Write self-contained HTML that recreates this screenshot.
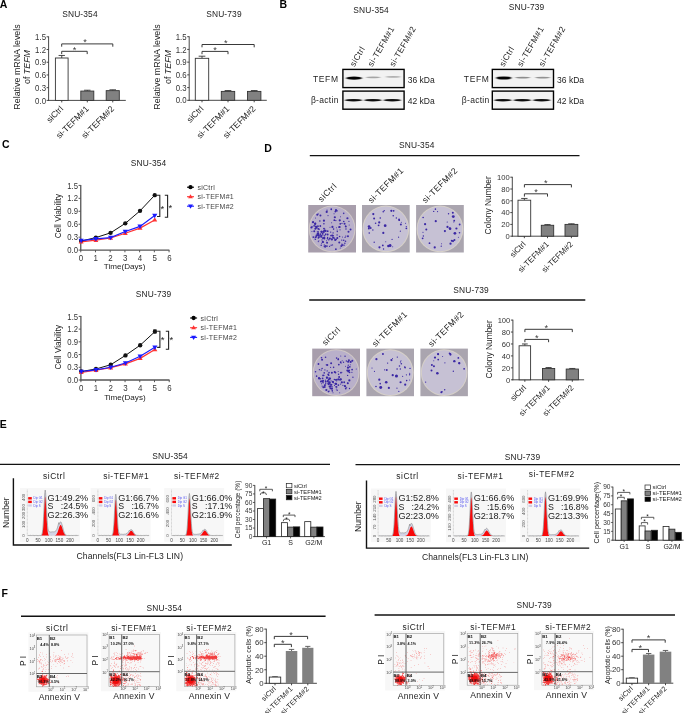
<!DOCTYPE html>
<html><head><meta charset="utf-8"><style>
html,body{margin:0;padding:0;background:#fff;overflow:hidden}
svg{display:block;font-family:"Liberation Sans", sans-serif}
</style></head><body><div id="w">
<svg width="685" height="713" viewBox="0 0 685 713">
<defs><filter id="blur1" x="-20%" y="-100%" width="140%" height="300%"><feGaussianBlur stdDeviation="1.0 0.6"/></filter><filter id="blur3" x="-20%" y="-100%" width="140%" height="300%"><feGaussianBlur stdDeviation="1.0 0.55"/></filter><filter id="blurp" x="-5%" y="-5%" width="110%" height="110%"><feGaussianBlur stdDeviation="0.45"/></filter></defs>
<rect width="685" height="713" fill="#fff"/>
<g opacity="0.995">
<text x="-0.3" y="8" font-size="10.5" font-weight="bold">A</text>
<text x="79.98" y="17.21" font-size="8.4" text-anchor="middle" fill="#222" letter-spacing="0.15">SNU-354</text>
<line x1="48.6" y1="36.4" x2="48.6" y2="100.85" stroke="#333" stroke-width="0.9"/>
<line x1="48.15" y1="100.4" x2="125.8" y2="100.4" stroke="#333" stroke-width="0.9"/>
<line x1="46.6" y1="100.4" x2="48.6" y2="100.4" stroke="#333" stroke-width="0.9"/>
<text transform="translate(46 103.51) scale(0.9 1)" font-size="8.7" text-anchor="end" fill="#333">0.0</text>
<line x1="46.6" y1="87.68" x2="48.6" y2="87.68" stroke="#333" stroke-width="0.9"/>
<text transform="translate(46 90.79) scale(0.9 1)" font-size="8.7" text-anchor="end" fill="#333">0.3</text>
<line x1="46.6" y1="74.96" x2="48.6" y2="74.96" stroke="#333" stroke-width="0.9"/>
<text transform="translate(46 78.07) scale(0.9 1)" font-size="8.7" text-anchor="end" fill="#333">0.6</text>
<line x1="46.6" y1="62.24" x2="48.6" y2="62.24" stroke="#333" stroke-width="0.9"/>
<text transform="translate(46 65.35) scale(0.9 1)" font-size="8.7" text-anchor="end" fill="#333">0.9</text>
<line x1="46.6" y1="49.52" x2="48.6" y2="49.52" stroke="#333" stroke-width="0.9"/>
<text transform="translate(46 52.63) scale(0.9 1)" font-size="8.7" text-anchor="end" fill="#333">1.2</text>
<line x1="46.6" y1="36.8" x2="48.6" y2="36.8" stroke="#333" stroke-width="0.9"/>
<text transform="translate(46 39.91) scale(0.9 1)" font-size="8.7" text-anchor="end" fill="#333">1.5</text>
<line x1="61.75" y1="58" x2="61.75" y2="55.46" stroke="#333" stroke-width="0.9"/>
<line x1="58.58" y1="55.46" x2="64.92" y2="55.46" stroke="#333" stroke-width="0.9"/>
<rect x="55.4" y="58" width="12.7" height="42.4" fill="#fff" stroke="#333" stroke-width="0.9"/>
<line x1="61.75" y1="100.4" x2="61.75" y2="102.4" stroke="#333" stroke-width="0.9"/>
<line x1="87.3" y1="91.07" x2="87.3" y2="90.22" stroke="#333" stroke-width="0.9"/>
<line x1="84.05" y1="90.22" x2="90.55" y2="90.22" stroke="#333" stroke-width="0.9"/>
<rect x="80.8" y="91.07" width="13" height="9.33" fill="#808080" stroke="#333" stroke-width="0.9"/>
<line x1="87.3" y1="100.4" x2="87.3" y2="102.4" stroke="#333" stroke-width="0.9"/>
<line x1="112.75" y1="90.65" x2="112.75" y2="89.8" stroke="#333" stroke-width="0.9"/>
<line x1="109.47" y1="89.8" x2="116.03" y2="89.8" stroke="#333" stroke-width="0.9"/>
<rect x="106.2" y="90.65" width="13.1" height="9.75" fill="#808080" stroke="#333" stroke-width="0.9"/>
<line x1="112.75" y1="100.4" x2="112.75" y2="102.4" stroke="#333" stroke-width="0.9"/>
<path d="M61.7 54.1V51.3H87.2V54.1" fill="none" stroke="#383838" stroke-width="1"/>
<text x="74.45" y="52.56" font-size="9.2" text-anchor="middle" fill="#383838">*</text>
<path d="M61.7 46.7V43.9H112.8V46.7" fill="none" stroke="#383838" stroke-width="1"/>
<text x="85.05" y="45.16" font-size="9.2" text-anchor="middle" fill="#383838">*</text>
<text x="19.7" y="67" font-size="8.9" text-anchor="middle" fill="#222" transform="rotate(-90 19.7 67)">Relative mRNA levels</text>
<text x="30.4" y="67" font-size="8.9" text-anchor="middle" fill="#222" transform="rotate(-90 30.4 67)">of <tspan font-style="italic">TEFM</tspan></text>
<text x="63.75" y="109.4" font-size="8.6" text-anchor="end" fill="#222" transform="rotate(-45 63.75 109.4)">siCtrl</text>
<text x="89.3" y="109.4" font-size="8.6" text-anchor="end" fill="#222" transform="rotate(-45 89.3 109.4)">si-TEFM#1</text>
<text x="114.75" y="109.4" font-size="8.6" text-anchor="end" fill="#222" transform="rotate(-45 114.75 109.4)">si-TEFM#2</text>
<text x="223.98" y="17.21" font-size="8.4" text-anchor="middle" fill="#222" letter-spacing="0.15">SNU-739</text>
<line x1="189.2" y1="36.3" x2="189.2" y2="100.75" stroke="#333" stroke-width="0.9"/>
<line x1="188.75" y1="100.3" x2="266.8" y2="100.3" stroke="#333" stroke-width="0.9"/>
<line x1="187.2" y1="100.3" x2="189.2" y2="100.3" stroke="#333" stroke-width="0.9"/>
<text transform="translate(186.6 103.41) scale(0.9 1)" font-size="8.7" text-anchor="end" fill="#333">0.0</text>
<line x1="187.2" y1="87.58" x2="189.2" y2="87.58" stroke="#333" stroke-width="0.9"/>
<text transform="translate(186.6 90.69) scale(0.9 1)" font-size="8.7" text-anchor="end" fill="#333">0.3</text>
<line x1="187.2" y1="74.86" x2="189.2" y2="74.86" stroke="#333" stroke-width="0.9"/>
<text transform="translate(186.6 77.97) scale(0.9 1)" font-size="8.7" text-anchor="end" fill="#333">0.6</text>
<line x1="187.2" y1="62.14" x2="189.2" y2="62.14" stroke="#333" stroke-width="0.9"/>
<text transform="translate(186.6 65.25) scale(0.9 1)" font-size="8.7" text-anchor="end" fill="#333">0.9</text>
<line x1="187.2" y1="49.42" x2="189.2" y2="49.42" stroke="#333" stroke-width="0.9"/>
<text transform="translate(186.6 52.53) scale(0.9 1)" font-size="8.7" text-anchor="end" fill="#333">1.2</text>
<line x1="187.2" y1="36.7" x2="189.2" y2="36.7" stroke="#333" stroke-width="0.9"/>
<text transform="translate(186.6 39.81) scale(0.9 1)" font-size="8.7" text-anchor="end" fill="#333">1.5</text>
<line x1="202" y1="58.32" x2="202" y2="56.2" stroke="#333" stroke-width="0.9"/>
<line x1="198.65" y1="56.2" x2="205.35" y2="56.2" stroke="#333" stroke-width="0.9"/>
<rect x="195.3" y="58.32" width="13.4" height="41.98" fill="#fff" stroke="#333" stroke-width="0.9"/>
<line x1="202" y1="100.3" x2="202" y2="102.3" stroke="#333" stroke-width="0.9"/>
<line x1="228" y1="91.4" x2="228" y2="90.55" stroke="#333" stroke-width="0.9"/>
<line x1="224.65" y1="90.55" x2="231.35" y2="90.55" stroke="#333" stroke-width="0.9"/>
<rect x="221.3" y="91.4" width="13.4" height="8.9" fill="#808080" stroke="#333" stroke-width="0.9"/>
<line x1="228" y1="100.3" x2="228" y2="102.3" stroke="#333" stroke-width="0.9"/>
<line x1="254.2" y1="91.4" x2="254.2" y2="90.55" stroke="#333" stroke-width="0.9"/>
<line x1="250.85" y1="90.55" x2="257.55" y2="90.55" stroke="#333" stroke-width="0.9"/>
<rect x="247.5" y="91.4" width="13.4" height="8.9" fill="#808080" stroke="#333" stroke-width="0.9"/>
<line x1="254.2" y1="100.3" x2="254.2" y2="102.3" stroke="#333" stroke-width="0.9"/>
<path d="M202 54.2V51.4H228V54.2" fill="none" stroke="#383838" stroke-width="1"/>
<text x="215" y="52.66" font-size="9.2" text-anchor="middle" fill="#383838">*</text>
<path d="M202 47.3V44.5H254.2V47.3" fill="none" stroke="#383838" stroke-width="1"/>
<text x="225.9" y="45.76" font-size="9.2" text-anchor="middle" fill="#383838">*</text>
<text x="159.9" y="67" font-size="8.9" text-anchor="middle" fill="#222" transform="rotate(-90 159.9 67)">Relative mRNA levels</text>
<text x="170.5" y="67" font-size="8.9" text-anchor="middle" fill="#222" transform="rotate(-90 170.5 67)">of <tspan font-style="italic">TEFM</tspan></text>
<text x="204" y="109.3" font-size="8.6" text-anchor="end" fill="#222" transform="rotate(-45 204 109.3)">siCtrl</text>
<text x="230" y="109.3" font-size="8.6" text-anchor="end" fill="#222" transform="rotate(-45 230 109.3)">si-TEFM#1</text>
<text x="256.2" y="109.3" font-size="8.6" text-anchor="end" fill="#222" transform="rotate(-45 256.2 109.3)">si-TEFM#2</text>
<text x="279.6" y="7.5" font-size="10.5" font-weight="bold">B</text>
<text x="371.08" y="13.31" font-size="8.4" text-anchor="middle" fill="#222" letter-spacing="0.15">SNU-354</text>
<rect x="342.9" y="69.4" width="61.2" height="18.2" fill="#f2f2f2"/>
<rect x="342.9" y="91.1" width="61.2" height="18.1" fill="#f2f2f2"/>
<ellipse cx="354.05" cy="78.2" rx="7.95" ry="1.6" fill="#000" fill-opacity="1" filter="url(#blur1)"/>
<ellipse cx="373.2" cy="77.4" rx="7.2" ry="0.85" fill="#000" fill-opacity="0.32" filter="url(#blur1)"/>
<ellipse cx="393.15" cy="76.9" rx="7.65" ry="0.85" fill="#000" fill-opacity="0.28" filter="url(#blur1)"/>
<ellipse cx="353.5" cy="100.2" rx="8.6" ry="1.25" fill="#000" fill-opacity="0.95" filter="url(#blur3)"/>
<ellipse cx="372.9" cy="100.2" rx="8.6" ry="1.25" fill="#000" fill-opacity="0.95" filter="url(#blur3)"/>
<ellipse cx="392.3" cy="100.2" rx="8.6" ry="1.25" fill="#000" fill-opacity="0.95" filter="url(#blur3)"/>
<rect x="342.9" y="69.4" width="61.2" height="18.2" fill="none" stroke="#000" stroke-width="1.4"/>
<rect x="342.9" y="91.1" width="61.2" height="18.1" fill="none" stroke="#000" stroke-width="1.4"/>
<text x="338.7" y="81.54" font-size="8.5" text-anchor="end" fill="#222" letter-spacing="0.65">TEFM</text>
<text x="338.7" y="103.24" font-size="8.5" text-anchor="end" fill="#222" letter-spacing="0.3">β-actin</text>
<text x="407.7" y="82.74" font-size="8.5" fill="#222">36 kDa</text>
<text x="407.7" y="104.24" font-size="8.5" fill="#222">42 kDa</text>
<text x="354.5" y="67.3" font-size="8.4" fill="#222" letter-spacing="0.45" transform="rotate(-60 354.5 67.3)">siCtrl</text>
<text x="372.3" y="67.3" font-size="8.4" fill="#222" letter-spacing="0.45" transform="rotate(-60 372.3 67.3)">si-TEFM#1</text>
<text x="393.9" y="67.3" font-size="8.4" fill="#222" letter-spacing="0.45" transform="rotate(-60 393.9 67.3)">si-TEFM#2</text>
<text x="526.58" y="10.41" font-size="8.4" text-anchor="middle" fill="#222" letter-spacing="0.15">SNU-739</text>
<rect x="492.3" y="69.4" width="61.2" height="18.2" fill="#f2f2f2"/>
<rect x="492.3" y="91.1" width="61.2" height="18.1" fill="#f2f2f2"/>
<ellipse cx="503.8" cy="78" rx="7.7" ry="1.6" fill="#000" fill-opacity="1" filter="url(#blur1)"/>
<ellipse cx="522.7" cy="77.6" rx="7.7" ry="0.9" fill="#000" fill-opacity="0.42" filter="url(#blur1)"/>
<ellipse cx="542.65" cy="77.6" rx="7.65" ry="0.9" fill="#000" fill-opacity="0.4" filter="url(#blur1)"/>
<ellipse cx="502.9" cy="100.2" rx="8.6" ry="1.25" fill="#000" fill-opacity="0.95" filter="url(#blur3)"/>
<ellipse cx="522.3" cy="100.2" rx="8.6" ry="1.25" fill="#000" fill-opacity="0.95" filter="url(#blur3)"/>
<ellipse cx="541.7" cy="100.2" rx="8.6" ry="1.25" fill="#000" fill-opacity="0.95" filter="url(#blur3)"/>
<rect x="492.3" y="69.4" width="61.2" height="18.2" fill="none" stroke="#000" stroke-width="1.4"/>
<rect x="492.3" y="91.1" width="61.2" height="18.1" fill="none" stroke="#000" stroke-width="1.4"/>
<text x="489.6" y="81.54" font-size="8.5" text-anchor="end" fill="#222" letter-spacing="0.65">TEFM</text>
<text x="489.6" y="103.24" font-size="8.5" text-anchor="end" fill="#222" letter-spacing="0.3">β-actin</text>
<text x="557.1" y="82.74" font-size="8.5" fill="#222">36 kDa</text>
<text x="557.1" y="104.24" font-size="8.5" fill="#222">42 kDa</text>
<text x="503.9" y="67.3" font-size="8.4" fill="#222" letter-spacing="0.45" transform="rotate(-60 503.9 67.3)">siCtrl</text>
<text x="521.7" y="67.3" font-size="8.4" fill="#222" letter-spacing="0.45" transform="rotate(-60 521.7 67.3)">si-TEFM#1</text>
<text x="543.3" y="67.3" font-size="8.4" fill="#222" letter-spacing="0.45" transform="rotate(-60 543.3 67.3)">si-TEFM#2</text>
<text x="2" y="147.5" font-size="10.5" font-weight="bold">C</text>
<text x="148.58" y="166.41" font-size="8.4" text-anchor="middle" fill="#222" letter-spacing="0.15">SNU-354</text>
<line x1="80.75" y1="185" x2="80.75" y2="250.6" stroke="#555" stroke-width="1.3"/>
<line x1="80.25" y1="250.1" x2="169.37" y2="250.1" stroke="#555" stroke-width="1.3"/>
<line x1="78.55" y1="250.1" x2="80.75" y2="250.1" stroke="#555" stroke-width="1"/>
<text transform="translate(77.95 253.25) scale(0.88 1)" font-size="8.8" text-anchor="end" fill="#333">0.0</text>
<line x1="78.55" y1="237.16" x2="80.75" y2="237.16" stroke="#555" stroke-width="1"/>
<text transform="translate(77.95 240.31) scale(0.88 1)" font-size="8.8" text-anchor="end" fill="#333">0.3</text>
<line x1="78.55" y1="224.22" x2="80.75" y2="224.22" stroke="#555" stroke-width="1"/>
<text transform="translate(77.95 227.37) scale(0.88 1)" font-size="8.8" text-anchor="end" fill="#333">0.6</text>
<line x1="78.55" y1="211.28" x2="80.75" y2="211.28" stroke="#555" stroke-width="1"/>
<text transform="translate(77.95 214.43) scale(0.88 1)" font-size="8.8" text-anchor="end" fill="#333">0.9</text>
<line x1="78.55" y1="198.34" x2="80.75" y2="198.34" stroke="#555" stroke-width="1"/>
<text transform="translate(77.95 201.49) scale(0.88 1)" font-size="8.8" text-anchor="end" fill="#333">1.2</text>
<line x1="78.55" y1="185.4" x2="80.75" y2="185.4" stroke="#555" stroke-width="1"/>
<text transform="translate(77.95 188.55) scale(0.88 1)" font-size="8.8" text-anchor="end" fill="#333">1.5</text>
<line x1="80.75" y1="250.1" x2="80.75" y2="252.3" stroke="#555" stroke-width="1"/>
<text transform="translate(81.05 260.72) scale(0.88 1)" font-size="9" text-anchor="middle" fill="#333">0</text>
<line x1="95.47" y1="250.1" x2="95.47" y2="252.3" stroke="#555" stroke-width="1"/>
<text transform="translate(95.77 260.72) scale(0.88 1)" font-size="9" text-anchor="middle" fill="#333">1</text>
<line x1="110.19" y1="250.1" x2="110.19" y2="252.3" stroke="#555" stroke-width="1"/>
<text transform="translate(110.49 260.72) scale(0.88 1)" font-size="9" text-anchor="middle" fill="#333">2</text>
<line x1="124.91" y1="250.1" x2="124.91" y2="252.3" stroke="#555" stroke-width="1"/>
<text transform="translate(125.21 260.72) scale(0.88 1)" font-size="9" text-anchor="middle" fill="#333">3</text>
<line x1="139.63" y1="250.1" x2="139.63" y2="252.3" stroke="#555" stroke-width="1"/>
<text transform="translate(139.93 260.72) scale(0.88 1)" font-size="9" text-anchor="middle" fill="#333">4</text>
<line x1="154.35" y1="250.1" x2="154.35" y2="252.3" stroke="#555" stroke-width="1"/>
<text transform="translate(154.65 260.72) scale(0.88 1)" font-size="9" text-anchor="middle" fill="#333">5</text>
<line x1="169.07" y1="250.1" x2="169.07" y2="252.3" stroke="#555" stroke-width="1"/>
<text transform="translate(169.37 260.72) scale(0.88 1)" font-size="9" text-anchor="middle" fill="#333">6</text>
<polyline points="81.15,241.04 95.87,237.59 110.59,232.85 125.31,223.36 140.03,210.85 154.75,195.19" fill="none" stroke="#111" stroke-width="1.0"/>
<polyline points="81.15,241.9 95.87,240.18 110.59,238.02 125.31,233.28 140.03,228.1 154.75,219.91" fill="none" stroke="#ff3333" stroke-width="1.2"/>
<polyline points="81.15,240.61 95.87,238.89 110.59,237.59 125.31,231.55 140.03,226.38 154.75,215.59" fill="none" stroke="#1a1aff" stroke-width="1.2"/>
<circle cx="81.15" cy="241.04" r="2.18" fill="#111"/>
<circle cx="95.87" cy="237.59" r="2.18" fill="#111"/>
<circle cx="110.59" cy="232.85" r="2.18" fill="#111"/>
<circle cx="125.31" cy="223.36" r="2.18" fill="#111"/>
<circle cx="140.03" cy="210.85" r="2.18" fill="#111"/>
<circle cx="154.75" cy="195.19" r="2.18" fill="#111"/>
<path d="M81.15 239.36L83.63 243.6H78.67Z" fill="#ff3333"/>
<path d="M95.87 237.63L98.35 241.88H93.39Z" fill="#ff3333"/>
<path d="M110.59 235.47L113.07 239.72H108.11Z" fill="#ff3333"/>
<path d="M125.31 230.73L127.79 234.98H122.83Z" fill="#ff3333"/>
<path d="M140.03 225.55L142.51 229.8H137.55Z" fill="#ff3333"/>
<path d="M154.75 217.36L157.23 221.61H152.27Z" fill="#ff3333"/>
<path d="M81.15 243.3L83.75 238.82H78.55Z" fill="#1a1aff"/>
<path d="M95.87 241.58L98.47 237.09H93.27Z" fill="#1a1aff"/>
<path d="M110.59 240.28L113.19 235.8H107.99Z" fill="#1a1aff"/>
<path d="M125.31 234.24L127.91 229.76H122.71Z" fill="#1a1aff"/>
<path d="M140.03 229.07L142.63 224.58H137.43Z" fill="#1a1aff"/>
<path d="M154.75 218.28L157.35 213.8H152.15Z" fill="#1a1aff"/>
<path d="M157 195.2H159.8V216.5H157" fill="none" stroke="#222" stroke-width="1.1"/>
<text x="162.4" y="211.6" font-size="9.5" text-anchor="middle" fill="#222">*</text>
<path d="M164.8 195.2H167.6V217.2H164.8" fill="none" stroke="#222" stroke-width="1.1"/>
<text x="170.4" y="210.8" font-size="9.5" text-anchor="middle" fill="#222">*</text>
<line x1="187" y1="187.2" x2="194" y2="187.2" stroke="#000" stroke-width="1.1"/>
<circle cx="190.5" cy="187.2" r="2.13" fill="#000"/>
<text x="197.5" y="189.71" font-size="7" fill="#444" letter-spacing="0.25">siCtrl</text>
<line x1="187" y1="196.7" x2="194" y2="196.7" stroke="#ff3333" stroke-width="1.1"/>
<path d="M190.5 194.22L192.91 198.36H188.09Z" fill="#ff3333"/>
<text x="197.5" y="199.21" font-size="7" fill="#444" letter-spacing="0.25">si-TEFM#1</text>
<line x1="187" y1="206.2" x2="194" y2="206.2" stroke="#1a1aff" stroke-width="1.1"/>
<path d="M190.5 208.82L193.03 204.45H187.97Z" fill="#1a1aff"/>
<text x="197.5" y="208.71" font-size="7" fill="#444" letter-spacing="0.25">si-TEFM#2</text>
<text x="61.2" y="216" font-size="8.2" text-anchor="middle" fill="#222" transform="rotate(-90 61.2 216)">Cell Viability</text>
<text x="124.6" y="268.9" font-size="8.1" text-anchor="middle" fill="#222">Time(Days)</text>
<text x="153.58" y="297.01" font-size="8.4" text-anchor="middle" fill="#222" letter-spacing="0.15">SNU-739</text>
<line x1="80.9" y1="316" x2="80.9" y2="380.5" stroke="#555" stroke-width="1.3"/>
<line x1="80.4" y1="380" x2="169.52" y2="380" stroke="#555" stroke-width="1.3"/>
<line x1="78.7" y1="380" x2="80.9" y2="380" stroke="#555" stroke-width="1"/>
<text transform="translate(78.1 383.15) scale(0.88 1)" font-size="8.8" text-anchor="end" fill="#333">0.0</text>
<line x1="78.7" y1="367.28" x2="80.9" y2="367.28" stroke="#555" stroke-width="1"/>
<text transform="translate(78.1 370.43) scale(0.88 1)" font-size="8.8" text-anchor="end" fill="#333">0.3</text>
<line x1="78.7" y1="354.56" x2="80.9" y2="354.56" stroke="#555" stroke-width="1"/>
<text transform="translate(78.1 357.71) scale(0.88 1)" font-size="8.8" text-anchor="end" fill="#333">0.6</text>
<line x1="78.7" y1="341.84" x2="80.9" y2="341.84" stroke="#555" stroke-width="1"/>
<text transform="translate(78.1 344.99) scale(0.88 1)" font-size="8.8" text-anchor="end" fill="#333">0.9</text>
<line x1="78.7" y1="329.12" x2="80.9" y2="329.12" stroke="#555" stroke-width="1"/>
<text transform="translate(78.1 332.27) scale(0.88 1)" font-size="8.8" text-anchor="end" fill="#333">1.2</text>
<line x1="78.7" y1="316.4" x2="80.9" y2="316.4" stroke="#555" stroke-width="1"/>
<text transform="translate(78.1 319.55) scale(0.88 1)" font-size="8.8" text-anchor="end" fill="#333">1.5</text>
<line x1="80.9" y1="380" x2="80.9" y2="382.2" stroke="#555" stroke-width="1"/>
<text transform="translate(81.2 390.62) scale(0.88 1)" font-size="9" text-anchor="middle" fill="#333">0</text>
<line x1="95.62" y1="380" x2="95.62" y2="382.2" stroke="#555" stroke-width="1"/>
<text transform="translate(95.92 390.62) scale(0.88 1)" font-size="9" text-anchor="middle" fill="#333">1</text>
<line x1="110.34" y1="380" x2="110.34" y2="382.2" stroke="#555" stroke-width="1"/>
<text transform="translate(110.64 390.62) scale(0.88 1)" font-size="9" text-anchor="middle" fill="#333">2</text>
<line x1="125.06" y1="380" x2="125.06" y2="382.2" stroke="#555" stroke-width="1"/>
<text transform="translate(125.36 390.62) scale(0.88 1)" font-size="9" text-anchor="middle" fill="#333">3</text>
<line x1="139.78" y1="380" x2="139.78" y2="382.2" stroke="#555" stroke-width="1"/>
<text transform="translate(140.08 390.62) scale(0.88 1)" font-size="9" text-anchor="middle" fill="#333">4</text>
<line x1="154.5" y1="380" x2="154.5" y2="382.2" stroke="#555" stroke-width="1"/>
<text transform="translate(154.8 390.62) scale(0.88 1)" font-size="9" text-anchor="middle" fill="#333">5</text>
<line x1="169.22" y1="380" x2="169.22" y2="382.2" stroke="#555" stroke-width="1"/>
<text transform="translate(169.52 390.62) scale(0.88 1)" font-size="9" text-anchor="middle" fill="#333">6</text>
<polyline points="81.3,371.52 96.02,368.98 110.74,364.74 125.46,355.41 140.18,345.23 154.9,331.66" fill="none" stroke="#111" stroke-width="1.0"/>
<polyline points="81.3,372.37 96.02,370.25 110.74,367.7 125.46,363.89 140.18,358.38 154.9,349.47" fill="none" stroke="#ff3333" stroke-width="1.2"/>
<polyline points="81.3,371.52 96.02,369.82 110.74,367.28 125.46,363.04 140.18,356.26 154.9,347.35" fill="none" stroke="#1a1aff" stroke-width="1.2"/>
<line x1="154.9" y1="333.36" x2="154.9" y2="329.97" stroke="#111" stroke-width="1"/>
<line x1="153.1" y1="329.97" x2="156.7" y2="329.97" stroke="#111" stroke-width="1"/>
<circle cx="81.3" cy="371.52" r="2.18" fill="#111"/>
<circle cx="96.02" cy="368.98" r="2.18" fill="#111"/>
<circle cx="110.74" cy="364.74" r="2.18" fill="#111"/>
<circle cx="125.46" cy="355.41" r="2.18" fill="#111"/>
<circle cx="140.18" cy="345.23" r="2.18" fill="#111"/>
<circle cx="154.9" cy="331.66" r="2.18" fill="#111"/>
<path d="M81.3 369.82L83.78 374.07H78.82Z" fill="#ff3333"/>
<path d="M96.02 367.7L98.5 371.95H93.54Z" fill="#ff3333"/>
<path d="M110.74 365.16L113.22 369.4H108.26Z" fill="#ff3333"/>
<path d="M125.46 361.34L127.94 365.59H122.98Z" fill="#ff3333"/>
<path d="M140.18 355.83L142.66 360.08H137.7Z" fill="#ff3333"/>
<path d="M154.9 346.92L157.38 351.17H152.42Z" fill="#ff3333"/>
<path d="M81.3 374.21L83.9 369.73H78.7Z" fill="#1a1aff"/>
<path d="M96.02 372.51L98.62 368.03H93.42Z" fill="#1a1aff"/>
<path d="M110.74 369.97L113.34 365.49H108.14Z" fill="#1a1aff"/>
<path d="M125.46 365.73L128.06 361.25H122.86Z" fill="#1a1aff"/>
<path d="M140.18 358.95L142.78 354.46H137.58Z" fill="#1a1aff"/>
<path d="M154.9 350.04L157.5 345.56H152.3Z" fill="#1a1aff"/>
<path d="M157.1 331.2H159.9V347.4H157.1" fill="none" stroke="#222" stroke-width="1.1"/>
<text x="162.6" y="342.8" font-size="9.5" text-anchor="middle" fill="#222">*</text>
<path d="M165.8 331.2H168.6V349.3H165.8" fill="none" stroke="#222" stroke-width="1.1"/>
<text x="171.4" y="343.3" font-size="9.5" text-anchor="middle" fill="#222">*</text>
<line x1="190.1" y1="318" x2="197.1" y2="318" stroke="#000" stroke-width="1.1"/>
<circle cx="193.6" cy="318" r="2.13" fill="#000"/>
<text x="200.6" y="320.51" font-size="7" fill="#444" letter-spacing="0.25">siCtrl</text>
<line x1="190.1" y1="327.7" x2="197.1" y2="327.7" stroke="#ff3333" stroke-width="1.1"/>
<path d="M193.6 325.22L196.01 329.36H191.19Z" fill="#ff3333"/>
<text x="200.6" y="330.21" font-size="7" fill="#444" letter-spacing="0.25">si-TEFM#1</text>
<line x1="190.1" y1="337.4" x2="197.1" y2="337.4" stroke="#1a1aff" stroke-width="1.1"/>
<path d="M193.6 340.02L196.13 335.65H191.07Z" fill="#1a1aff"/>
<text x="200.6" y="339.91" font-size="7" fill="#444" letter-spacing="0.25">si-TEFM#2</text>
<text x="61.4" y="347.2" font-size="8.2" text-anchor="middle" fill="#222" transform="rotate(-90 61.4 347.2)">Cell Viability</text>
<text x="124.9" y="400.2" font-size="8.1" text-anchor="middle" fill="#222">Time(Days)</text>
<text x="264.3" y="151.8" font-size="10.5" font-weight="bold">D</text>
<text x="416.78" y="148.21" font-size="8.4" text-anchor="middle" fill="#222" letter-spacing="0.15">SNU-354</text>
<line x1="309.8" y1="155.6" x2="579.5" y2="155.6" stroke="#111" stroke-width="1.4"/>
<g filter="url(#blurp)"><rect x="308.2" y="205" width="47.8" height="47.5" fill="#a89eac"/><circle cx="332.1" cy="228.95" r="23.35" fill="#d0c8c6"/><circle cx="332.1" cy="228.95" r="22.35" fill="#b9b0ca"/><g fill="#3a28a4"><circle cx="344.85" cy="243.3" r="0.7"/><circle cx="345.52" cy="241.23" r="0.8"/><circle cx="324.38" cy="230.38" r="1.1"/><circle cx="323.67" cy="228.61" r="0.5"/><circle cx="324.98" cy="235.54" r="0.5"/><circle cx="314.15" cy="225.8" r="0.9"/><circle cx="316.3" cy="235.99" r="0.5"/><circle cx="314.85" cy="238.98" r="0.5"/><circle cx="340.24" cy="248.06" r="0.5"/><circle cx="331.25" cy="209.24" r="0.9"/><circle cx="344.58" cy="223.68" r="1"/><circle cx="336.2" cy="239.28" r="0.8"/><circle cx="340.52" cy="216.75" r="0.5"/><circle cx="314.26" cy="231.18" r="1"/><circle cx="339.28" cy="242.62" r="1"/><circle cx="331.65" cy="222.84" r="0.5"/><circle cx="319.63" cy="235.03" r="0.5"/><circle cx="325.2" cy="246.87" r="0.9"/><circle cx="325.35" cy="234.28" r="0.5"/><circle cx="334.07" cy="213.76" r="0.6"/><circle cx="322.01" cy="235.86" r="0.7"/><circle cx="321.64" cy="231.7" r="1"/><circle cx="350.55" cy="229.61" r="1"/><circle cx="324.63" cy="228.36" r="0.6"/><circle cx="327.68" cy="231.16" r="0.9"/><circle cx="313.04" cy="222.17" r="1.1"/><circle cx="324.47" cy="238.56" r="0.9"/><circle cx="334.82" cy="217.27" r="1.1"/><circle cx="333.22" cy="237.66" r="1.1"/><circle cx="345.08" cy="237.37" r="0.7"/><circle cx="325.55" cy="230.9" r="1.1"/><circle cx="317.2" cy="231.71" r="0.5"/><circle cx="337.32" cy="238.1" r="1"/><circle cx="329.58" cy="246.36" r="0.7"/><circle cx="331.54" cy="239.43" r="0.6"/><circle cx="345.48" cy="226.01" r="0.6"/><circle cx="340.03" cy="229.84" r="0.6"/><circle cx="318.12" cy="233.92" r="1.1"/><circle cx="335.88" cy="249.19" r="0.9"/><circle cx="316.18" cy="226.92" r="1"/><circle cx="333.1" cy="232.91" r="0.7"/><circle cx="337.3" cy="231.43" r="0.7"/><circle cx="333.41" cy="235.5" r="0.5"/><circle cx="323.91" cy="223.71" r="0.8"/><circle cx="341.29" cy="246.06" r="1"/><circle cx="327.46" cy="238.75" r="0.8"/><circle cx="319.82" cy="221" r="0.8"/><circle cx="330" cy="227.21" r="0.5"/><circle cx="342.75" cy="245.05" r="0.9"/><circle cx="315.87" cy="226.47" r="0.9"/><circle cx="321.21" cy="245.23" r="0.8"/><circle cx="324.2" cy="235.62" r="0.6"/><circle cx="340.26" cy="223.84" r="0.9"/><circle cx="324.42" cy="237.35" r="0.9"/><circle cx="335.35" cy="211.62" r="0.9"/><circle cx="331.88" cy="239.4" r="1.1"/><circle cx="345.81" cy="236.11" r="0.7"/><circle cx="324.61" cy="237.46" r="0.5"/><circle cx="321.51" cy="231.83" r="1.1"/><circle cx="334.34" cy="220.19" r="0.9"/><circle cx="321.63" cy="243.19" r="0.5"/><circle cx="313.3" cy="237.07" r="0.9"/><circle cx="318.37" cy="235.28" r="1"/><circle cx="330.68" cy="232.09" r="0.7"/><circle cx="319.34" cy="236.03" r="0.7"/><circle cx="322.91" cy="241.72" r="0.9"/><circle cx="322.77" cy="238.07" r="0.6"/><circle cx="327.6" cy="234.38" r="1"/><circle cx="322.8" cy="234.65" r="0.6"/><circle cx="324.29" cy="246.48" r="0.7"/><circle cx="332.27" cy="235.57" r="1.1"/><circle cx="321.19" cy="236.89" r="0.9"/><circle cx="331.08" cy="235.47" r="0.7"/><circle cx="323.95" cy="220.67" r="1.1"/><circle cx="339.75" cy="220.33" r="1.1"/><circle cx="341.98" cy="223.47" r="0.6"/><circle cx="315.1" cy="223.95" r="1.1"/><circle cx="347.43" cy="218.26" r="1.1"/><circle cx="318.85" cy="240.87" r="0.5"/><circle cx="335.28" cy="240.01" r="1.1"/><circle cx="322.66" cy="233.38" r="0.9"/><circle cx="321.03" cy="236.06" r="1"/><circle cx="318.27" cy="228.8" r="0.9"/><circle cx="339.6" cy="236.46" r="0.8"/><circle cx="317.36" cy="235.22" r="0.7"/><circle cx="315.31" cy="228.86" r="1"/><circle cx="315.3" cy="223.4" r="1"/><circle cx="318.8" cy="237.13" r="1"/><circle cx="327.57" cy="237.55" r="0.7"/><circle cx="341.93" cy="244.32" r="0.7"/><circle cx="328.66" cy="239.83" r="0.6"/><circle cx="326.71" cy="211.89" r="1.1"/><circle cx="343.7" cy="240.3" r="0.8"/><circle cx="311.95" cy="231.39" r="0.5"/><circle cx="319.03" cy="229.36" r="0.8"/><circle cx="323.67" cy="228.15" r="0.5"/><circle cx="328.99" cy="239.8" r="0.5"/><circle cx="339.63" cy="226.99" r="1.1"/><circle cx="323.74" cy="231.96" r="1.1"/><circle cx="318.29" cy="241.53" r="0.6"/><circle cx="343.76" cy="221.56" r="0.8"/><circle cx="339.07" cy="227.13" r="0.8"/><circle cx="315.54" cy="239.37" r="0.6"/><circle cx="325.51" cy="234.32" r="0.7"/><circle cx="335.1" cy="239.67" r="0.7"/><circle cx="325.3" cy="245.77" r="0.8"/><circle cx="336.89" cy="210.82" r="0.9"/><circle cx="324.25" cy="244.88" r="0.6"/><circle cx="330.64" cy="235.65" r="0.5"/><circle cx="316.67" cy="227.82" r="1"/><circle cx="341.74" cy="240.11" r="0.7"/><circle cx="316.26" cy="235.55" r="0.7"/><circle cx="345.97" cy="229.02" r="0.7"/><circle cx="320.32" cy="225.98" r="0.9"/><circle cx="321.25" cy="235.37" r="0.7"/><circle cx="320.43" cy="215.62" r="1"/><circle cx="311.43" cy="227.52" r="1.1"/><circle cx="312.03" cy="226.81" r="0.7"/><circle cx="328.02" cy="215.58" r="0.6"/><circle cx="315.64" cy="237.24" r="1.1"/><circle cx="317.24" cy="214.71" r="1"/><circle cx="325.97" cy="234.1" r="0.5"/><circle cx="318.3" cy="238.07" r="0.8"/><circle cx="335.99" cy="210.17" r="1.1"/><circle cx="332.44" cy="226.88" r="1.1"/><circle cx="327.02" cy="210.13" r="0.6"/><circle cx="316.34" cy="234.69" r="0.5"/><circle cx="320.44" cy="234.12" r="0.9"/><circle cx="317.93" cy="231.92" r="0.7"/><circle cx="334.53" cy="238.14" r="0.7"/><circle cx="347.94" cy="236.23" r="1"/><circle cx="322.02" cy="239.93" r="0.6"/><circle cx="326.91" cy="246.06" r="0.9"/><circle cx="317.68" cy="233.8" r="1.1"/><circle cx="331.13" cy="245.21" r="0.7"/><circle cx="349.18" cy="225" r="0.5"/><circle cx="343.7" cy="213.36" r="0.8"/><circle cx="329.85" cy="238.52" r="1.1"/><circle cx="345.79" cy="226.61" r="1"/><circle cx="344.2" cy="245.21" r="0.6"/><circle cx="337.09" cy="234.88" r="0.7"/><circle cx="323.57" cy="242.23" r="0.5"/><circle cx="342.41" cy="237.09" r="0.5"/><circle cx="336.35" cy="227.72" r="0.5"/><circle cx="317.95" cy="226.15" r="0.9"/><circle cx="318.3" cy="232.94" r="0.6"/><circle cx="323.23" cy="238.12" r="1.1"/><circle cx="316.68" cy="236.1" r="0.8"/><circle cx="315.56" cy="217.92" r="0.5"/><circle cx="333.6" cy="229.1" r="0.8"/><circle cx="327.09" cy="242.82" r="1"/><circle cx="326.53" cy="240.8" r="0.5"/><circle cx="318.16" cy="231.48" r="0.5"/><circle cx="337.12" cy="230.09" r="0.5"/><circle cx="348.93" cy="221.46" r="0.6"/><circle cx="348.5" cy="231.82" r="1"/><circle cx="335.84" cy="220.62" r="0.7"/><circle cx="318.15" cy="213.89" r="0.6"/><circle cx="332.56" cy="244.93" r="0.6"/><circle cx="322.6" cy="242.1" r="0.9"/></g></g>
<g filter="url(#blurp)"><rect x="362" y="205" width="47.7" height="47.5" fill="#aaa5af"/><circle cx="385.85" cy="228.95" r="23.35" fill="#d6d0c8"/><circle cx="385.85" cy="228.95" r="22.35" fill="#c6c1d4"/><g fill="#3a28a4"><circle cx="405.58" cy="223.36" r="0.5"/><circle cx="398.57" cy="237.2" r="0.6"/><circle cx="384.23" cy="210.63" r="0.7"/><circle cx="385.72" cy="241.79" r="0.5"/><circle cx="375.62" cy="223.23" r="0.8"/><circle cx="373.29" cy="214.07" r="1.1"/><circle cx="406.35" cy="228.28" r="0.9"/><circle cx="401.31" cy="222.34" r="0.5"/><circle cx="396.33" cy="217.93" r="0.7"/><circle cx="399.19" cy="220.22" r="0.9"/><circle cx="392.07" cy="239.38" r="0.6"/><circle cx="400.36" cy="231.14" r="0.6"/><circle cx="370.73" cy="227.98" r="0.9"/><circle cx="380.26" cy="218.06" r="0.8"/><circle cx="391.33" cy="210.83" r="1.1"/><circle cx="374.2" cy="242.29" r="0.7"/><circle cx="406.3" cy="226.49" r="0.6"/><circle cx="400.88" cy="224.58" r="1"/><circle cx="369.25" cy="233.06" r="0.8"/><circle cx="382.8" cy="245.44" r="0.9"/><circle cx="393.24" cy="215.81" r="0.8"/><circle cx="399.07" cy="219.3" r="0.9"/><circle cx="383.23" cy="211.78" r="0.8"/><circle cx="372.87" cy="230.04" r="0.7"/><circle cx="393.64" cy="210.85" r="0.9"/><circle cx="383.55" cy="249.07" r="0.7"/><circle cx="379.46" cy="247.31" r="1.1"/><circle cx="368.88" cy="228.5" r="1"/><circle cx="374.1" cy="218.48" r="1"/><circle cx="390.28" cy="245.27" r="1"/><circle cx="379.21" cy="222.45" r="1.1"/><circle cx="383.3" cy="232.88" r="1.1"/><circle cx="392.69" cy="246.69" r="0.5"/><circle cx="378.6" cy="225.29" r="0.9"/><circle cx="388.36" cy="245.93" r="1.25"/><circle cx="369.06" cy="226.58" r="1.32"/><circle cx="390.08" cy="245.64" r="1.41"/><circle cx="385.17" cy="225.74" r="1.38"/></g></g>
<g filter="url(#blurp)"><rect x="416.1" y="205" width="47.7" height="47.5" fill="#aaa5af"/><circle cx="439.95" cy="228.95" r="23.35" fill="#d6d0c8"/><circle cx="439.95" cy="228.95" r="22.35" fill="#c6c1d4"/><g fill="#3a28a4"><circle cx="441.25" cy="246.14" r="0.7"/><circle cx="454.21" cy="220.63" r="0.9"/><circle cx="444.89" cy="231.11" r="1.1"/><circle cx="422.97" cy="232.27" r="0.6"/><circle cx="456.41" cy="228.5" r="1.1"/><circle cx="425.08" cy="224.16" r="1.1"/><circle cx="450.53" cy="243.63" r="1.1"/><circle cx="453.83" cy="221.97" r="0.5"/><circle cx="435.76" cy="221.17" r="1.1"/><circle cx="447.46" cy="226.89" r="1.1"/><circle cx="459.5" cy="232.81" r="0.8"/><circle cx="423.13" cy="217.56" r="0.8"/><circle cx="435.41" cy="209.14" r="0.8"/><circle cx="437.54" cy="211.56" r="0.6"/><circle cx="447.24" cy="222" r="0.6"/><circle cx="426.3" cy="229.39" r="1"/><circle cx="423.36" cy="235.98" r="0.7"/><circle cx="422.62" cy="238.31" r="0.9"/><circle cx="429.5" cy="243.16" r="0.9"/><circle cx="441.59" cy="243.7" r="0.5"/><circle cx="452.84" cy="212.63" r="1"/><circle cx="433.7" cy="211.39" r="0.7"/><circle cx="459.66" cy="224.5" r="0.9"/><circle cx="454.45" cy="240.07" r="1"/><circle cx="448.55" cy="213.68" r="0.7"/><circle cx="451.73" cy="240.64" r="1"/><circle cx="449.7" cy="228.32" r="1.1"/><circle cx="458.36" cy="237.14" r="0.5"/><circle cx="434.72" cy="247.43" r="1.1"/><circle cx="453.02" cy="241.06" r="1.1"/><circle cx="454.89" cy="233.28" r="1.37"/><circle cx="453.27" cy="216.59" r="1.45"/><circle cx="450.16" cy="228.85" r="1.24"/></g></g>
<text x="321.6" y="202.4" font-size="8.6" fill="#222" letter-spacing="0.45" transform="rotate(-45 321.6 202.4)">siCtrl</text>
<text x="371.6" y="203.6" font-size="8.6" fill="#222" letter-spacing="0.45" transform="rotate(-45 371.6 203.6)">si-TEFM#1</text>
<text x="425.6" y="203.6" font-size="8.6" fill="#222" letter-spacing="0.45" transform="rotate(-45 425.6 203.6)">si-TEFM#2</text>
<line x1="512.3" y1="176.8" x2="512.3" y2="236.65" stroke="#333" stroke-width="0.9"/>
<line x1="511.85" y1="236.2" x2="577.8" y2="236.2" stroke="#333" stroke-width="0.9"/>
<line x1="510.3" y1="236.2" x2="512.3" y2="236.2" stroke="#333" stroke-width="0.9"/>
<text x="509.7" y="238.92" font-size="7.6" text-anchor="end" fill="#333">0</text>
<line x1="510.3" y1="224.4" x2="512.3" y2="224.4" stroke="#333" stroke-width="0.9"/>
<text x="509.7" y="227.12" font-size="7.6" text-anchor="end" fill="#333">20</text>
<line x1="510.3" y1="212.6" x2="512.3" y2="212.6" stroke="#333" stroke-width="0.9"/>
<text x="509.7" y="215.32" font-size="7.6" text-anchor="end" fill="#333">40</text>
<line x1="510.3" y1="200.8" x2="512.3" y2="200.8" stroke="#333" stroke-width="0.9"/>
<text x="509.7" y="203.52" font-size="7.6" text-anchor="end" fill="#333">60</text>
<line x1="510.3" y1="189" x2="512.3" y2="189" stroke="#333" stroke-width="0.9"/>
<text x="509.7" y="191.72" font-size="7.6" text-anchor="end" fill="#333">80</text>
<line x1="510.3" y1="177.2" x2="512.3" y2="177.2" stroke="#333" stroke-width="0.9"/>
<text x="509.7" y="179.92" font-size="7.6" text-anchor="end" fill="#333">100</text>
<line x1="524.35" y1="200.21" x2="524.35" y2="198.44" stroke="#333" stroke-width="0.9"/>
<line x1="521.17" y1="198.44" x2="527.53" y2="198.44" stroke="#333" stroke-width="0.9"/>
<rect x="518" y="200.21" width="12.7" height="35.99" fill="#fff" stroke="#333" stroke-width="0.9"/>
<line x1="524.35" y1="236.2" x2="524.35" y2="238.2" stroke="#333" stroke-width="0.9"/>
<line x1="547.5" y1="225.28" x2="547.5" y2="224.58" stroke="#333" stroke-width="0.9"/>
<line x1="544.4" y1="224.58" x2="550.6" y2="224.58" stroke="#333" stroke-width="0.9"/>
<rect x="541.3" y="225.28" width="12.4" height="10.91" fill="#808080" stroke="#333" stroke-width="0.9"/>
<line x1="547.5" y1="236.2" x2="547.5" y2="238.2" stroke="#333" stroke-width="0.9"/>
<line x1="571.4" y1="224.4" x2="571.4" y2="223.81" stroke="#333" stroke-width="0.9"/>
<line x1="568.2" y1="223.81" x2="574.6" y2="223.81" stroke="#333" stroke-width="0.9"/>
<rect x="565" y="224.4" width="12.8" height="11.8" fill="#808080" stroke="#333" stroke-width="0.9"/>
<line x1="571.4" y1="236.2" x2="571.4" y2="238.2" stroke="#333" stroke-width="0.9"/>
<path d="M524.4 196.6V193.8H547.5V196.6" fill="none" stroke="#383838" stroke-width="1"/>
<text x="535.95" y="195.06" font-size="9.2" text-anchor="middle" fill="#383838">*</text>
<path d="M524.4 187.4V184.6H571.4V187.4" fill="none" stroke="#383838" stroke-width="1"/>
<text x="545.7" y="185.86" font-size="9.2" text-anchor="middle" fill="#383838">*</text>
<text x="491.5" y="205.3" font-size="8.4" text-anchor="middle" fill="#222" transform="rotate(-90 491.5 205.3)">Colony Number</text>
<text x="526.35" y="244.8" font-size="8.2" text-anchor="end" fill="#222" transform="rotate(-45 526.35 244.8)">siCtrl</text>
<text x="549.5" y="244.8" font-size="8.2" text-anchor="end" fill="#222" transform="rotate(-45 549.5 244.8)">si-TEFM#1</text>
<text x="573.4" y="244.8" font-size="8.2" text-anchor="end" fill="#222" transform="rotate(-45 573.4 244.8)">si-TEFM#2</text>
<text x="471.08" y="293.01" font-size="8.4" text-anchor="middle" fill="#222" letter-spacing="0.15">SNU-739</text>
<line x1="309.2" y1="300" x2="585.3" y2="300" stroke="#111" stroke-width="1.4"/>
<g filter="url(#blurp)"><rect x="312.2" y="348.6" width="47.8" height="47.6" fill="#a89eac"/><circle cx="336.1" cy="372.6" r="23.4" fill="#d0c8c6"/><circle cx="336.1" cy="372.6" r="22.4" fill="#b9b0ca"/><g fill="#3a28a4"><circle cx="336.69" cy="379.29" r="0.6"/><circle cx="338.58" cy="374.18" r="0.7"/><circle cx="327.4" cy="381.68" r="0.6"/><circle cx="341.07" cy="363.13" r="0.5"/><circle cx="345.03" cy="356.09" r="0.6"/><circle cx="341.84" cy="382.28" r="1.1"/><circle cx="343.5" cy="362.21" r="0.7"/><circle cx="329.54" cy="382.96" r="1.1"/><circle cx="346.36" cy="361.03" r="0.7"/><circle cx="318.46" cy="363.98" r="0.9"/><circle cx="327.93" cy="383.7" r="0.7"/><circle cx="328.69" cy="379.71" r="0.9"/><circle cx="331.07" cy="380.95" r="0.6"/><circle cx="324.74" cy="385.21" r="1"/><circle cx="336.11" cy="383.96" r="1.1"/><circle cx="336.66" cy="380.94" r="0.5"/><circle cx="352.92" cy="377.24" r="0.7"/><circle cx="338.21" cy="359.38" r="0.9"/><circle cx="333.62" cy="367.33" r="0.8"/><circle cx="333.37" cy="382.69" r="0.6"/><circle cx="337.18" cy="390.26" r="0.7"/><circle cx="351.9" cy="372.32" r="0.6"/><circle cx="335.53" cy="383.63" r="1"/><circle cx="352.1" cy="369.61" r="0.9"/><circle cx="321.93" cy="381.03" r="0.8"/><circle cx="325.63" cy="384.78" r="0.6"/><circle cx="326.93" cy="377.55" r="1.1"/><circle cx="331.94" cy="388.71" r="1.1"/><circle cx="345.16" cy="386.23" r="0.9"/><circle cx="347.81" cy="383.17" r="1"/><circle cx="325.55" cy="357.3" r="0.8"/><circle cx="325.68" cy="381.5" r="0.9"/><circle cx="352.34" cy="360.76" r="1"/><circle cx="316.59" cy="376.17" r="0.8"/><circle cx="319.45" cy="369.64" r="0.7"/><circle cx="329.19" cy="383.72" r="1.1"/><circle cx="356.26" cy="368.9" r="0.5"/><circle cx="323.11" cy="382.7" r="0.7"/><circle cx="326.96" cy="377.73" r="1"/><circle cx="325.36" cy="380.03" r="0.6"/><circle cx="338.21" cy="371.48" r="0.5"/><circle cx="321.56" cy="383.77" r="0.6"/><circle cx="329.55" cy="378.65" r="0.9"/><circle cx="338.22" cy="358.41" r="0.5"/><circle cx="327.81" cy="381.16" r="1.1"/><circle cx="344.2" cy="382.23" r="0.9"/><circle cx="345.52" cy="366.2" r="0.5"/><circle cx="349.35" cy="380.45" r="1.1"/><circle cx="348.99" cy="370.69" r="1.1"/><circle cx="323.05" cy="375.43" r="0.9"/><circle cx="349.58" cy="372.56" r="0.8"/><circle cx="328.41" cy="391.61" r="0.8"/><circle cx="347.61" cy="383.16" r="0.6"/><circle cx="339.71" cy="379.83" r="0.7"/><circle cx="336.34" cy="388.9" r="0.5"/><circle cx="322.1" cy="368.54" r="0.8"/><circle cx="321.22" cy="370.12" r="0.7"/><circle cx="324.72" cy="386.93" r="1"/><circle cx="340.91" cy="372.65" r="0.9"/><circle cx="348.29" cy="365.16" r="0.7"/><circle cx="349.82" cy="366.84" r="0.9"/><circle cx="328.77" cy="375.39" r="0.7"/><circle cx="348.24" cy="371.52" r="0.9"/><circle cx="336.82" cy="379.81" r="0.9"/><circle cx="340.78" cy="356.08" r="0.5"/><circle cx="329.08" cy="378.93" r="0.7"/><circle cx="348.17" cy="361.73" r="1.1"/><circle cx="345.09" cy="356.19" r="0.5"/><circle cx="344.79" cy="386" r="0.9"/><circle cx="341.89" cy="372.33" r="0.5"/><circle cx="342.91" cy="385.36" r="0.6"/><circle cx="322.04" cy="359.74" r="1"/><circle cx="322.66" cy="381.6" r="1"/><circle cx="338.39" cy="385.06" r="0.9"/><circle cx="321.52" cy="357.68" r="0.8"/><circle cx="315.54" cy="371.79" r="0.8"/><circle cx="323.17" cy="380.68" r="0.9"/><circle cx="342.21" cy="360.8" r="0.5"/><circle cx="339.13" cy="377.12" r="1"/><circle cx="350.33" cy="364.77" r="0.5"/><circle cx="336.61" cy="358.08" r="0.8"/><circle cx="332.47" cy="386.81" r="0.5"/><circle cx="345.73" cy="388.49" r="0.9"/><circle cx="332.39" cy="390.94" r="0.6"/><circle cx="349.51" cy="388.48" r="0.7"/><circle cx="335.78" cy="386.77" r="0.6"/><circle cx="348.91" cy="360.34" r="1"/><circle cx="328.55" cy="384.43" r="0.7"/><circle cx="335.36" cy="379.88" r="0.8"/><circle cx="324.91" cy="369.93" r="0.6"/><circle cx="332.94" cy="381.91" r="1.1"/><circle cx="340.86" cy="379.37" r="1.1"/><circle cx="338.37" cy="379.33" r="1.1"/><circle cx="319.02" cy="377.88" r="1"/><circle cx="347.98" cy="367.65" r="1.1"/><circle cx="327.2" cy="370.88" r="0.7"/><circle cx="330.39" cy="388.41" r="0.9"/><circle cx="322.6" cy="378.31" r="0.9"/><circle cx="329.12" cy="391.11" r="0.7"/><circle cx="330.97" cy="384.74" r="1"/><circle cx="347.63" cy="375.42" r="0.7"/><circle cx="320.94" cy="381.48" r="1"/><circle cx="334.69" cy="371.88" r="1"/><circle cx="330.74" cy="386.49" r="1.1"/><circle cx="335.47" cy="372.56" r="0.9"/><circle cx="333" cy="392.78" r="0.5"/><circle cx="332.15" cy="390.79" r="0.7"/><circle cx="340.69" cy="362.15" r="0.9"/><circle cx="328.99" cy="377.59" r="0.5"/><circle cx="328.25" cy="374.39" r="1"/><circle cx="325.72" cy="383.32" r="0.7"/><circle cx="326.35" cy="389.98" r="1.1"/><circle cx="331.63" cy="384.69" r="0.8"/><circle cx="335.15" cy="383.76" r="0.6"/><circle cx="327.23" cy="364.99" r="1.1"/><circle cx="340.24" cy="379.57" r="1"/><circle cx="329.04" cy="372.63" r="0.8"/><circle cx="329.43" cy="382.33" r="1.1"/><circle cx="347.3" cy="370.57" r="1"/><circle cx="346.64" cy="387.26" r="0.6"/><circle cx="350.65" cy="361.9" r="1.1"/><circle cx="329.69" cy="386.58" r="1.1"/><circle cx="326.22" cy="364.76" r="0.6"/><circle cx="339.68" cy="392.63" r="0.5"/><circle cx="331.14" cy="363.13" r="1"/><circle cx="336.54" cy="386.95" r="0.9"/><circle cx="324.21" cy="372.91" r="0.8"/><circle cx="334.52" cy="385.48" r="0.6"/><circle cx="323.36" cy="387.29" r="1"/><circle cx="329.08" cy="383.07" r="0.6"/><circle cx="340.59" cy="384.09" r="0.6"/><circle cx="330.15" cy="378.5" r="0.9"/><circle cx="331.85" cy="372.67" r="1"/><circle cx="338.82" cy="364.59" r="0.9"/><circle cx="323.95" cy="375.42" r="0.6"/><circle cx="319.05" cy="378.44" r="1"/><circle cx="320.21" cy="378.8" r="0.8"/><circle cx="334.37" cy="379.4" r="0.7"/><circle cx="322.16" cy="386.06" r="0.6"/><circle cx="330.58" cy="367.31" r="0.6"/></g></g>
<g filter="url(#blurp)"><rect x="366.4" y="348.6" width="47.6" height="47.6" fill="#aaa5af"/><circle cx="390.2" cy="372.6" r="23.4" fill="#d6d0c8"/><circle cx="390.2" cy="372.6" r="22.4" fill="#c6c1d4"/><g fill="#3a28a4"><circle cx="376.42" cy="359.18" r="1.1"/><circle cx="382.92" cy="354.06" r="1"/><circle cx="397.1" cy="368.93" r="0.8"/><circle cx="392.51" cy="358.58" r="0.5"/><circle cx="399.47" cy="365.94" r="0.8"/><circle cx="401.03" cy="360.84" r="0.5"/><circle cx="384.59" cy="369.79" r="0.6"/><circle cx="379.29" cy="379.7" r="1.1"/><circle cx="391.44" cy="360.11" r="1.1"/><circle cx="406.65" cy="380.59" r="0.8"/><circle cx="392.72" cy="375.17" r="1.1"/><circle cx="409.65" cy="373.25" r="0.6"/><circle cx="400.5" cy="361.96" r="0.6"/><circle cx="372.01" cy="368.02" r="0.6"/><circle cx="398.82" cy="391.44" r="0.6"/><circle cx="410.01" cy="368.38" r="0.7"/><circle cx="406.42" cy="374.81" r="0.6"/><circle cx="388.87" cy="387.93" r="1.1"/><circle cx="386.77" cy="370" r="1"/><circle cx="387.62" cy="363.12" r="0.7"/><circle cx="397.32" cy="357.1" r="0.7"/><circle cx="396.96" cy="388.17" r="0.6"/><circle cx="409.64" cy="379.88" r="0.5"/><circle cx="405.11" cy="367.67" r="0.8"/><circle cx="409.63" cy="374.82" r="0.7"/><circle cx="375.99" cy="386.56" r="0.8"/><circle cx="402.64" cy="376.36" r="0.6"/><circle cx="400.58" cy="382.23" r="1.1"/><circle cx="404.72" cy="367.06" r="0.7"/><circle cx="401.32" cy="363.71" r="0.8"/><circle cx="405.21" cy="384.71" r="1.1"/><circle cx="380.19" cy="383.63" r="0.8"/><circle cx="400.33" cy="369.01" r="0.7"/><circle cx="374.48" cy="371.33" r="0.6"/><circle cx="380.73" cy="387.54" r="1.47"/><circle cx="386.24" cy="382.17" r="1.29"/><circle cx="396.46" cy="375.95" r="1.54"/></g></g>
<g filter="url(#blurp)"><rect x="420.4" y="348.6" width="47.5" height="47.6" fill="#aaa5af"/><circle cx="444.15" cy="372.6" r="23.35" fill="#d6d0c8"/><circle cx="444.15" cy="372.6" r="22.35" fill="#c6c1d4"/><g fill="#3a28a4"><circle cx="449.51" cy="353.39" r="0.8"/><circle cx="444.9" cy="362.78" r="0.6"/><circle cx="435" cy="357.61" r="1.1"/><circle cx="442.62" cy="356.59" r="0.5"/><circle cx="441.33" cy="392.23" r="1"/><circle cx="458.35" cy="357.94" r="0.9"/><circle cx="438.21" cy="359.54" r="0.9"/><circle cx="438.1" cy="354.16" r="1"/><circle cx="450.45" cy="354.53" r="1.1"/><circle cx="425.63" cy="382.08" r="0.7"/><circle cx="450.32" cy="353.74" r="0.8"/><circle cx="438.06" cy="354.01" r="1"/><circle cx="433.73" cy="360.79" r="0.5"/><circle cx="431.86" cy="364.95" r="1"/><circle cx="459.25" cy="363.37" r="1.1"/><circle cx="459.26" cy="362.95" r="1"/><circle cx="464.11" cy="368.8" r="0.9"/><circle cx="453.33" cy="371.23" r="0.7"/><circle cx="444.7" cy="389.8" r="0.7"/><circle cx="433.94" cy="366.2" r="1"/><circle cx="431.51" cy="370.58" r="1"/><circle cx="441.98" cy="391.82" r="0.8"/><circle cx="437.37" cy="373.3" r="1.3"/><circle cx="454.33" cy="361.13" r="1.21"/></g></g>
<text x="325.4" y="346" font-size="8.6" fill="#222" letter-spacing="0.45" transform="rotate(-45 325.4 346)">siCtrl</text>
<text x="375.4" y="347.3" font-size="8.6" fill="#222" letter-spacing="0.45" transform="rotate(-45 375.4 347.3)">si-TEFM#1</text>
<text x="431.8" y="347.3" font-size="8.6" fill="#222" letter-spacing="0.45" transform="rotate(-45 431.8 347.3)">si-TEFM#2</text>
<line x1="512.9" y1="319.7" x2="512.9" y2="380.25" stroke="#333" stroke-width="0.9"/>
<line x1="512.45" y1="379.8" x2="584.1" y2="379.8" stroke="#333" stroke-width="0.9"/>
<line x1="510.9" y1="379.8" x2="512.9" y2="379.8" stroke="#333" stroke-width="0.9"/>
<text x="510.3" y="382.52" font-size="7.6" text-anchor="end" fill="#333">0</text>
<line x1="510.9" y1="367.86" x2="512.9" y2="367.86" stroke="#333" stroke-width="0.9"/>
<text x="510.3" y="370.58" font-size="7.6" text-anchor="end" fill="#333">20</text>
<line x1="510.9" y1="355.92" x2="512.9" y2="355.92" stroke="#333" stroke-width="0.9"/>
<text x="510.3" y="358.64" font-size="7.6" text-anchor="end" fill="#333">40</text>
<line x1="510.9" y1="343.98" x2="512.9" y2="343.98" stroke="#333" stroke-width="0.9"/>
<text x="510.3" y="346.7" font-size="7.6" text-anchor="end" fill="#333">60</text>
<line x1="510.9" y1="332.04" x2="512.9" y2="332.04" stroke="#333" stroke-width="0.9"/>
<text x="510.3" y="334.76" font-size="7.6" text-anchor="end" fill="#333">80</text>
<line x1="510.9" y1="320.1" x2="512.9" y2="320.1" stroke="#333" stroke-width="0.9"/>
<text x="510.3" y="322.82" font-size="7.6" text-anchor="end" fill="#333">100</text>
<line x1="524.85" y1="345.77" x2="524.85" y2="343.98" stroke="#333" stroke-width="0.9"/>
<line x1="521.98" y1="343.98" x2="527.73" y2="343.98" stroke="#333" stroke-width="0.9"/>
<rect x="519.1" y="345.77" width="11.5" height="34.03" fill="#fff" stroke="#333" stroke-width="0.9"/>
<line x1="524.85" y1="379.8" x2="524.85" y2="381.8" stroke="#333" stroke-width="0.9"/>
<line x1="548.6" y1="368.46" x2="548.6" y2="367.56" stroke="#333" stroke-width="0.9"/>
<line x1="545.55" y1="367.56" x2="551.65" y2="367.56" stroke="#333" stroke-width="0.9"/>
<rect x="542.5" y="368.46" width="12.2" height="11.34" fill="#808080" stroke="#333" stroke-width="0.9"/>
<line x1="548.6" y1="379.8" x2="548.6" y2="381.8" stroke="#333" stroke-width="0.9"/>
<line x1="572.3" y1="369.05" x2="572.3" y2="368.46" stroke="#333" stroke-width="0.9"/>
<line x1="569.25" y1="368.46" x2="575.35" y2="368.46" stroke="#333" stroke-width="0.9"/>
<rect x="566.2" y="369.05" width="12.2" height="10.75" fill="#808080" stroke="#333" stroke-width="0.9"/>
<line x1="572.3" y1="379.8" x2="572.3" y2="381.8" stroke="#333" stroke-width="0.9"/>
<path d="M524.9 342.2V339.4H548.6V342.2" fill="none" stroke="#383838" stroke-width="1"/>
<text x="536.75" y="340.66" font-size="9.2" text-anchor="middle" fill="#383838">*</text>
<path d="M524.9 332.1V329.3H572.3V332.1" fill="none" stroke="#383838" stroke-width="1"/>
<text x="546.4" y="330.56" font-size="9.2" text-anchor="middle" fill="#383838">*</text>
<text x="492.1" y="349.3" font-size="8.4" text-anchor="middle" fill="#222" transform="rotate(-90 492.1 349.3)">Colony Number</text>
<text x="526.85" y="388.4" font-size="8.2" text-anchor="end" fill="#222" transform="rotate(-45 526.85 388.4)">siCtrl</text>
<text x="550.6" y="388.4" font-size="8.2" text-anchor="end" fill="#222" transform="rotate(-45 550.6 388.4)">si-TEFM#1</text>
<text x="574.3" y="388.4" font-size="8.2" text-anchor="end" fill="#222" transform="rotate(-45 574.3 388.4)">si-TEFM#2</text>
<text x="-0.3" y="428.3" font-size="10.5" font-weight="bold">E</text>
<text x="170.08" y="459.31" font-size="8.4" text-anchor="middle" fill="#222" letter-spacing="0.15">SNU-354</text>
<line x1="0" y1="464.4" x2="330" y2="464.4" stroke="#111" stroke-width="1.4"/>
<path d="M13.4 478.3V545.0H231.8" fill="none" stroke="#111" stroke-width="1.4"/>
<text x="9.3" y="512.7" font-size="8.6" text-anchor="middle" fill="#222" transform="rotate(-90 9.3 512.7)">Number</text>
<text x="129.8" y="559.08" font-size="8.6" text-anchor="middle" fill="#222" letter-spacing="0.1">Channels(FL3 Lin-FL3 LIN)</text>
<text x="54.18" y="478.61" font-size="8.4" text-anchor="middle" fill="#222" letter-spacing="0.55">siCtrl</text>
<rect x="20" y="488.1" width="60" height="53.7" fill="#f7f7f7"/>
<line x1="27.3" y1="489.7" x2="27.3" y2="535.6" stroke="#b0b0b0" stroke-width="0.6" stroke-dasharray="0.8 0.6"/>
<line x1="27.3" y1="535.6" x2="79.2" y2="535.6" stroke="#b0b0b0" stroke-width="0.6" stroke-dasharray="0.8 0.6"/>
<text x="27.3" y="541.85" font-size="4.6" text-anchor="middle" fill="#444">0</text>
<text x="38" y="541.85" font-size="4.6" text-anchor="middle" fill="#444">50</text>
<text x="48.7" y="541.85" font-size="4.6" text-anchor="middle" fill="#444">100</text>
<text x="59.4" y="541.85" font-size="4.6" text-anchor="middle" fill="#444">150</text>
<text x="70.1" y="541.85" font-size="4.6" text-anchor="middle" fill="#444">200</text>
<text x="24.9" y="535.6" font-size="4.4" text-anchor="middle" fill="#555" transform="rotate(-90 24.9 535.6)">0</text>
<text x="24.9" y="524.35" font-size="4.4" text-anchor="middle" fill="#555" transform="rotate(-90 24.9 524.35)">100</text>
<text x="24.9" y="515.35" font-size="4.4" text-anchor="middle" fill="#555" transform="rotate(-90 24.9 515.35)">200</text>
<text x="24.9" y="507.7" font-size="4.4" text-anchor="middle" fill="#555" transform="rotate(-90 24.9 507.7)">300</text>
<text x="24.9" y="497.35" font-size="4.4" text-anchor="middle" fill="#555" transform="rotate(-90 24.9 497.35)">400</text>
<polygon points="28,535.6 28,535.37 28.4,535.43 28.8,535.41 29.2,535.37 29.6,535.54 30,535.44 30.4,535.37 30.8,535.38 31.2,535.46 31.6,535.56 32,535.5 32.4,535.35 32.8,535.57 33.2,535.52 33.6,535.36 34,535.49 34.4,535.55 34.8,535.52 35.2,535.37 35.6,535.52 36,535.49 36.4,535.44 36.8,535.4 37.2,535.48 37.6,535.58 38,535.46 38.4,535.59 38.8,535.58 39.2,535.55 39.6,535.43 40,535.52 40.4,535.41 40.8,535.5 41.2,535.38 41.6,535.06 42,534.07 42.4,532.3 42.8,529.25 43.2,524.02 43.6,516.73 44,507.73 44.4,499.07 44.8,492.59 45.2,490.04 45.6,492.47 46,499.03 46.4,507.85 46.8,513.07 47.2,520.44 47.6,525.69 48,528.97 48.4,530.51 48.8,531.35 49.2,531.74 49.6,531.79 50,531.94 50.4,532.01 50.8,532.07 51.2,531.95 51.6,531.97 52,531.99 52.4,531.85 52.8,531.88 53.2,532.04 53.6,531.83 54,532 54.4,531.76 54.8,531.72 55.2,531.42 55.6,531.06 56,530.72 56.4,530.06 56.8,529.42 57.2,528.24 57.6,527.13 58,525.62 58.4,524.1 58.8,522.59 59.2,524.44 59.6,523.35 60,522.38 60.4,521.94 60.8,521.8 61.2,522.37 61.6,523.36 62,524.62 62.4,526.06 62.8,527.56 63.2,529.23 63.6,530.66 64,531.74 64.4,532.8 64.8,533.71 65.2,534.28 65.6,534.76 66,535.03 66.4,535.2 66.8,535.37 67.2,535.45 67.6,535.49 68,535.5 68.4,535.45 68.8,535.37 69.2,535.43 69.6,535.49 70,535.6 70.4,535.55 70.8,535.44 71.2,535.5 71.6,535.39 72,535.37 72.4,535.53 72.8,535.51 73.2,535.53 73.6,535.43 74,535.58 74.4,535.53 74.8,535.38 75.2,535.51 75.6,535.36 76,535.5 76.4,535.39 76.8,535.48 77.2,535.58 77.6,535.46 78,535.55 78.4,535.37 78.4,535.6" fill="#d4d4e6"/>
<polygon points="28,535.6 28,535.6 28.4,535.6 28.8,535.6 29.2,535.6 29.6,535.6 30,535.6 30.4,535.6 30.8,535.6 31.2,535.6 31.6,535.6 32,535.6 32.4,535.6 32.8,535.6 33.2,535.6 33.6,535.6 34,535.6 34.4,535.6 34.8,535.6 35.2,535.6 35.6,535.6 36,535.6 36.4,535.6 36.8,535.6 37.2,535.6 37.6,535.6 38,535.6 38.4,535.6 38.8,535.6 39.2,535.6 39.6,535.6 40,535.6 40.4,535.59 40.8,535.57 41.2,535.51 41.6,535.31 42,534.78 42.4,533.57 42.8,531.15 43.2,526.94 43.6,520.67 44,512.8 44.4,504.75 44.8,498.61 45.2,496.3 45.6,498.61 46,504.75 46.4,512.8 46.8,520.67 47.2,526.94 47.6,531.15 48,533.57 48.4,534.78 48.8,535.31 49.2,535.51 49.6,535.57 50,535.59 50.4,535.6 50.8,535.6 51.2,535.6 51.6,535.6 52,535.6 52.4,535.6 52.8,535.6 53.2,535.6 53.6,535.6 54,535.6 54.4,535.6 54.8,535.6 55.2,535.6 55.6,535.6 56,535.6 56.4,535.6 56.8,535.6 57.2,535.6 57.6,535.6 58,535.6 58.4,535.6 58.8,535.6 59.2,535.6 59.6,535.6 60,535.6 60.4,535.6 60.8,535.6 61.2,535.6 61.6,535.6 62,535.6 62.4,535.6 62.8,535.6 63.2,535.6 63.6,535.6 64,535.6 64.4,535.6 64.8,535.6 65.2,535.6 65.6,535.6 66,535.6 66.4,535.6 66.8,535.6 67.2,535.6 67.6,535.6 68,535.6 68.4,535.6 68.8,535.6 69.2,535.6 69.6,535.6 70,535.6 70.4,535.6 70.8,535.6 71.2,535.6 71.6,535.6 72,535.6 72.4,535.6 72.8,535.6 73.2,535.6 73.6,535.6 74,535.6 74.4,535.6 74.8,535.6 75.2,535.6 75.6,535.6 76,535.6 76.4,535.6 76.8,535.6 77.2,535.6 77.6,535.6 78,535.6 78.4,535.6 78.4,535.6" fill="#f80808"/>
<polygon points="28,535.6 28,535.6 28.4,535.6 28.8,535.6 29.2,535.6 29.6,535.6 30,535.6 30.4,535.6 30.8,535.6 31.2,535.6 31.6,535.6 32,535.6 32.4,535.6 32.8,535.6 33.2,535.6 33.6,535.6 34,535.6 34.4,535.6 34.8,535.6 35.2,535.6 35.6,535.6 36,535.6 36.4,535.6 36.8,535.6 37.2,535.6 37.6,535.6 38,535.6 38.4,535.6 38.8,535.6 39.2,535.6 39.6,535.6 40,535.6 40.4,535.6 40.8,535.6 41.2,535.6 41.6,535.6 42,535.6 42.4,535.6 42.8,535.6 43.2,535.6 43.6,535.6 44,535.6 44.4,535.6 44.8,535.6 45.2,535.6 45.6,535.6 46,535.6 46.4,535.6 46.8,535.6 47.2,535.6 47.6,535.6 48,535.6 48.4,535.6 48.8,535.6 49.2,535.6 49.6,535.6 50,535.6 50.4,535.6 50.8,535.6 51.2,535.6 51.6,535.6 52,535.6 52.4,535.6 52.8,535.59 53.2,535.59 53.6,535.58 54,535.55 54.4,535.51 54.8,535.44 55.2,535.32 55.6,535.13 56,534.85 56.4,534.43 56.8,533.86 57.2,533.1 57.6,532.16 58,531.05 58.4,529.81 58.8,528.53 59.2,527.3 59.6,526.25 60,525.47 60.4,525.05 60.8,525.05 61.2,525.47 61.6,526.25 62,527.3 62.4,528.53 62.8,529.81 63.2,531.05 63.6,532.16 64,533.1 64.4,533.86 64.8,534.43 65.2,534.85 65.6,535.13 66,535.32 66.4,535.44 66.8,535.51 67.2,535.55 67.6,535.58 68,535.59 68.4,535.59 68.8,535.6 69.2,535.6 69.6,535.6 70,535.6 70.4,535.6 70.8,535.6 71.2,535.6 71.6,535.6 72,535.6 72.4,535.6 72.8,535.6 73.2,535.6 73.6,535.6 74,535.6 74.4,535.6 74.8,535.6 75.2,535.6 75.6,535.6 76,535.6 76.4,535.6 76.8,535.6 77.2,535.6 77.6,535.6 78,535.6 78.4,535.6 78.4,535.6" fill="#f80808"/>
<polyline points="28,535.37 28.4,535.43 28.8,535.41 29.2,535.37 29.6,535.54 30,535.44 30.4,535.37 30.8,535.38 31.2,535.46 31.6,535.56 32,535.5 32.4,535.35 32.8,535.57 33.2,535.52 33.6,535.36 34,535.49 34.4,535.55 34.8,535.52 35.2,535.37 35.6,535.52 36,535.49 36.4,535.44 36.8,535.4 37.2,535.48 37.6,535.58 38,535.46 38.4,535.59 38.8,535.58 39.2,535.55 39.6,535.43 40,535.52 40.4,535.41 40.8,535.5 41.2,535.38 41.6,535.06 42,534.07 42.4,532.3 42.8,529.25 43.2,524.02 43.6,516.73 44,507.73 44.4,499.07 44.8,492.59 45.2,490.04 45.6,492.47 46,499.03 46.4,507.85 46.8,513.07 47.2,520.44 47.6,525.69 48,528.97 48.4,530.51 48.8,531.35 49.2,531.74 49.6,531.79 50,531.94 50.4,532.01 50.8,532.07 51.2,531.95 51.6,531.97 52,531.99 52.4,531.85 52.8,531.88 53.2,532.04 53.6,531.83 54,532 54.4,531.76 54.8,531.72 55.2,531.42 55.6,531.06 56,530.72 56.4,530.06 56.8,529.42 57.2,528.24 57.6,527.13 58,525.62 58.4,524.1 58.8,522.59 59.2,524.44 59.6,523.35 60,522.38 60.4,521.94 60.8,521.8 61.2,522.37 61.6,523.36 62,524.62 62.4,526.06 62.8,527.56 63.2,529.23 63.6,530.66 64,531.74 64.4,532.8 64.8,533.71 65.2,534.28 65.6,534.76 66,535.03 66.4,535.2 66.8,535.37 67.2,535.45 67.6,535.49 68,535.5 68.4,535.45 68.8,535.37 69.2,535.43 69.6,535.49 70,535.6 70.4,535.55 70.8,535.44 71.2,535.5 71.6,535.39 72,535.37 72.4,535.53 72.8,535.51 73.2,535.53 73.6,535.43 74,535.58 74.4,535.53 74.8,535.38 75.2,535.51 75.6,535.36 76,535.5 76.4,535.39 76.8,535.48 77.2,535.58 77.6,535.46 78,535.55 78.4,535.37" fill="none" stroke="#8a8a8a" stroke-width="0.6"/>
<rect x="28.2" y="497.1" width="3.6" height="2.4" fill="#f80808"/>
<rect x="28.2" y="500.7" width="3.6" height="2.4" fill="#f80808"/>
<rect x="28.2" y="504.4" width="3.6" height="2.2" fill="#d0d0e4"/>
<text x="33.6" y="499.44" font-size="2.9" fill="#5050f0">Dip G1</text>
<text x="33.6" y="503.04" font-size="2.9" fill="#5050f0">Dip G2</text>
<text x="33.6" y="506.64" font-size="2.9" fill="#5050f0">Dip S</text>
<text x="47.6" y="500.51" font-size="8.7" fill="#222" textLength="40.6" lengthAdjust="spacingAndGlyphs">G1:49.2%</text>
<text x="47.6" y="509.41" font-size="8.7" fill="#222" textLength="40.6" lengthAdjust="spacingAndGlyphs">S   :24.5%</text>
<text x="47.6" y="518.31" font-size="8.7" fill="#222" textLength="40.6" lengthAdjust="spacingAndGlyphs">G2:26.3%</text>
<text x="126.18" y="478.61" font-size="8.4" text-anchor="middle" fill="#222" letter-spacing="0.55">si-TEFM#1</text>
<rect x="90.6" y="488.1" width="60" height="53.7" fill="#f7f7f7"/>
<line x1="97.9" y1="489.7" x2="97.9" y2="535.6" stroke="#b0b0b0" stroke-width="0.6" stroke-dasharray="0.8 0.6"/>
<line x1="97.9" y1="535.6" x2="149.8" y2="535.6" stroke="#b0b0b0" stroke-width="0.6" stroke-dasharray="0.8 0.6"/>
<text x="97.9" y="541.85" font-size="4.6" text-anchor="middle" fill="#444">0</text>
<text x="108.6" y="541.85" font-size="4.6" text-anchor="middle" fill="#444">50</text>
<text x="119.3" y="541.85" font-size="4.6" text-anchor="middle" fill="#444">100</text>
<text x="130" y="541.85" font-size="4.6" text-anchor="middle" fill="#444">150</text>
<text x="140.7" y="541.85" font-size="4.6" text-anchor="middle" fill="#444">200</text>
<text x="95.5" y="535.6" font-size="4.4" text-anchor="middle" fill="#555" transform="rotate(-90 95.5 535.6)">0</text>
<text x="95.5" y="523.45" font-size="4.4" text-anchor="middle" fill="#555" transform="rotate(-90 95.5 523.45)">200</text>
<text x="95.5" y="510.85" font-size="4.4" text-anchor="middle" fill="#555" transform="rotate(-90 95.5 510.85)">400</text>
<text x="95.5" y="498.7" font-size="4.4" text-anchor="middle" fill="#555" transform="rotate(-90 95.5 498.7)">600</text>
<polygon points="98.6,535.6 98.6,535.55 99,535.58 99.4,535.44 99.8,535.45 100.2,535.44 100.6,535.51 101,535.49 101.4,535.38 101.8,535.4 102.2,535.53 102.6,535.53 103,535.58 103.4,535.42 103.8,535.59 104.2,535.43 104.6,535.36 105,535.39 105.4,535.51 105.8,535.4 106.2,535.57 106.6,535.41 107,535.55 107.4,535.43 107.8,535.59 108.2,535.47 108.6,535.37 109,535.55 109.4,535.57 109.8,535.49 110.2,535.6 110.6,535.58 111,535.42 111.4,535.3 111.8,535.19 112.2,534.91 112.6,534.26 113,532.59 113.4,529.67 113.8,524.91 114.2,518.27 114.6,510.15 115,502.27 115.4,496.34 115.8,494.16 116.2,496.32 116.6,502.25 117,510.25 117.4,516.97 117.8,523.76 118.2,528.55 118.6,531.35 119,532.94 119.4,533.9 119.8,534.14 120.2,534.17 120.6,534.28 121,534.16 121.4,534.22 121.8,534.17 122.2,534.23 122.6,534.35 123,534.38 123.4,534.29 123.8,534.35 124.2,534.24 124.6,534.16 125,534.18 125.4,534.09 125.8,534.15 126.2,533.8 126.6,533.61 127,533.51 127.4,533.06 127.8,532.61 128.2,532.08 128.6,531.54 129,530.84 129.4,530.16 129.8,530.72 130.2,530.03 130.6,529.67 131,529.47 131.4,529.63 131.8,529.81 132.2,530.12 132.6,530.61 133,531.35 133.4,531.94 133.8,532.77 134.2,533.26 134.6,533.75 135,534.22 135.4,534.61 135.8,535.03 136.2,535.17 136.6,535.29 137,535.46 137.4,535.45 137.8,535.32 138.2,535.47 138.6,535.4 139,535.55 139.4,535.56 139.8,535.58 140.2,535.51 140.6,535.39 141,535.42 141.4,535.56 141.8,535.51 142.2,535.55 142.6,535.5 143,535.48 143.4,535.38 143.8,535.58 144.2,535.45 144.6,535.5 145,535.43 145.4,535.39 145.8,535.54 146.2,535.48 146.6,535.36 147,535.44 147.4,535.48 147.8,535.52 148.2,535.45 148.6,535.44 149,535.48 149,535.6" fill="#d4d4e6"/>
<polygon points="98.6,535.6 98.6,535.6 99,535.6 99.4,535.6 99.8,535.6 100.2,535.6 100.6,535.6 101,535.6 101.4,535.6 101.8,535.6 102.2,535.6 102.6,535.6 103,535.6 103.4,535.6 103.8,535.6 104.2,535.6 104.6,535.6 105,535.6 105.4,535.6 105.8,535.6 106.2,535.6 106.6,535.6 107,535.6 107.4,535.6 107.8,535.6 108.2,535.6 108.6,535.6 109,535.6 109.4,535.6 109.8,535.6 110.2,535.6 110.6,535.6 111,535.59 111.4,535.58 111.8,535.51 112.2,535.33 112.6,534.84 113,533.73 113.4,531.49 113.8,527.6 114.2,521.81 114.6,514.54 115,507.1 115.4,501.43 115.8,499.3 116.2,501.43 116.6,507.1 117,514.54 117.4,521.81 117.8,527.6 118.2,531.49 118.6,533.73 119,534.84 119.4,535.33 119.8,535.51 120.2,535.58 120.6,535.59 121,535.6 121.4,535.6 121.8,535.6 122.2,535.6 122.6,535.6 123,535.6 123.4,535.6 123.8,535.6 124.2,535.6 124.6,535.6 125,535.6 125.4,535.6 125.8,535.6 126.2,535.6 126.6,535.6 127,535.6 127.4,535.6 127.8,535.6 128.2,535.6 128.6,535.6 129,535.6 129.4,535.6 129.8,535.6 130.2,535.6 130.6,535.6 131,535.6 131.4,535.6 131.8,535.6 132.2,535.6 132.6,535.6 133,535.6 133.4,535.6 133.8,535.6 134.2,535.6 134.6,535.6 135,535.6 135.4,535.6 135.8,535.6 136.2,535.6 136.6,535.6 137,535.6 137.4,535.6 137.8,535.6 138.2,535.6 138.6,535.6 139,535.6 139.4,535.6 139.8,535.6 140.2,535.6 140.6,535.6 141,535.6 141.4,535.6 141.8,535.6 142.2,535.6 142.6,535.6 143,535.6 143.4,535.6 143.8,535.6 144.2,535.6 144.6,535.6 145,535.6 145.4,535.6 145.8,535.6 146.2,535.6 146.6,535.6 147,535.6 147.4,535.6 147.8,535.6 148.2,535.6 148.6,535.6 149,535.6 149,535.6" fill="#f80808"/>
<polygon points="98.6,535.6 98.6,535.6 99,535.6 99.4,535.6 99.8,535.6 100.2,535.6 100.6,535.6 101,535.6 101.4,535.6 101.8,535.6 102.2,535.6 102.6,535.6 103,535.6 103.4,535.6 103.8,535.6 104.2,535.6 104.6,535.6 105,535.6 105.4,535.6 105.8,535.6 106.2,535.6 106.6,535.6 107,535.6 107.4,535.6 107.8,535.6 108.2,535.6 108.6,535.6 109,535.6 109.4,535.6 109.8,535.6 110.2,535.6 110.6,535.6 111,535.6 111.4,535.6 111.8,535.6 112.2,535.6 112.6,535.6 113,535.6 113.4,535.6 113.8,535.6 114.2,535.6 114.6,535.6 115,535.6 115.4,535.6 115.8,535.6 116.2,535.6 116.6,535.6 117,535.6 117.4,535.6 117.8,535.6 118.2,535.6 118.6,535.6 119,535.6 119.4,535.6 119.8,535.6 120.2,535.6 120.6,535.6 121,535.6 121.4,535.6 121.8,535.6 122.2,535.6 122.6,535.6 123,535.6 123.4,535.6 123.8,535.59 124.2,535.59 124.6,535.58 125,535.56 125.4,535.53 125.8,535.47 126.2,535.39 126.6,535.26 127,535.07 127.4,534.81 127.8,534.47 128.2,534.04 128.6,533.54 129,532.98 129.4,532.4 129.8,531.84 130.2,531.36 130.6,531.01 131,530.82 131.4,530.82 131.8,531.01 132.2,531.36 132.6,531.84 133,532.4 133.4,532.98 133.8,533.54 134.2,534.04 134.6,534.47 135,534.81 135.4,535.07 135.8,535.26 136.2,535.39 136.6,535.47 137,535.53 137.4,535.56 137.8,535.58 138.2,535.59 138.6,535.59 139,535.6 139.4,535.6 139.8,535.6 140.2,535.6 140.6,535.6 141,535.6 141.4,535.6 141.8,535.6 142.2,535.6 142.6,535.6 143,535.6 143.4,535.6 143.8,535.6 144.2,535.6 144.6,535.6 145,535.6 145.4,535.6 145.8,535.6 146.2,535.6 146.6,535.6 147,535.6 147.4,535.6 147.8,535.6 148.2,535.6 148.6,535.6 149,535.6 149,535.6" fill="#f80808"/>
<polyline points="98.6,535.55 99,535.58 99.4,535.44 99.8,535.45 100.2,535.44 100.6,535.51 101,535.49 101.4,535.38 101.8,535.4 102.2,535.53 102.6,535.53 103,535.58 103.4,535.42 103.8,535.59 104.2,535.43 104.6,535.36 105,535.39 105.4,535.51 105.8,535.4 106.2,535.57 106.6,535.41 107,535.55 107.4,535.43 107.8,535.59 108.2,535.47 108.6,535.37 109,535.55 109.4,535.57 109.8,535.49 110.2,535.6 110.6,535.58 111,535.42 111.4,535.3 111.8,535.19 112.2,534.91 112.6,534.26 113,532.59 113.4,529.67 113.8,524.91 114.2,518.27 114.6,510.15 115,502.27 115.4,496.34 115.8,494.16 116.2,496.32 116.6,502.25 117,510.25 117.4,516.97 117.8,523.76 118.2,528.55 118.6,531.35 119,532.94 119.4,533.9 119.8,534.14 120.2,534.17 120.6,534.28 121,534.16 121.4,534.22 121.8,534.17 122.2,534.23 122.6,534.35 123,534.38 123.4,534.29 123.8,534.35 124.2,534.24 124.6,534.16 125,534.18 125.4,534.09 125.8,534.15 126.2,533.8 126.6,533.61 127,533.51 127.4,533.06 127.8,532.61 128.2,532.08 128.6,531.54 129,530.84 129.4,530.16 129.8,530.72 130.2,530.03 130.6,529.67 131,529.47 131.4,529.63 131.8,529.81 132.2,530.12 132.6,530.61 133,531.35 133.4,531.94 133.8,532.77 134.2,533.26 134.6,533.75 135,534.22 135.4,534.61 135.8,535.03 136.2,535.17 136.6,535.29 137,535.46 137.4,535.45 137.8,535.32 138.2,535.47 138.6,535.4 139,535.55 139.4,535.56 139.8,535.58 140.2,535.51 140.6,535.39 141,535.42 141.4,535.56 141.8,535.51 142.2,535.55 142.6,535.5 143,535.48 143.4,535.38 143.8,535.58 144.2,535.45 144.6,535.5 145,535.43 145.4,535.39 145.8,535.54 146.2,535.48 146.6,535.36 147,535.44 147.4,535.48 147.8,535.52 148.2,535.45 148.6,535.44 149,535.48" fill="none" stroke="#8a8a8a" stroke-width="0.6"/>
<rect x="98.8" y="497.1" width="3.6" height="2.4" fill="#f80808"/>
<rect x="98.8" y="500.7" width="3.6" height="2.4" fill="#f80808"/>
<rect x="98.8" y="504.4" width="3.6" height="2.2" fill="#d0d0e4"/>
<text x="104.2" y="499.44" font-size="2.9" fill="#5050f0">Dip G1</text>
<text x="104.2" y="503.04" font-size="2.9" fill="#5050f0">Dip G2</text>
<text x="104.2" y="506.64" font-size="2.9" fill="#5050f0">Dip S</text>
<text x="118.2" y="500.51" font-size="8.7" fill="#222" textLength="40.6" lengthAdjust="spacingAndGlyphs">G1:66.7%</text>
<text x="118.2" y="509.41" font-size="8.7" fill="#222" textLength="40.6" lengthAdjust="spacingAndGlyphs">S   :16.7%</text>
<text x="118.2" y="518.31" font-size="8.7" fill="#222" textLength="40.6" lengthAdjust="spacingAndGlyphs">G2:16.6%</text>
<text x="196.88" y="478.61" font-size="8.4" text-anchor="middle" fill="#222" letter-spacing="0.55">si-TEFM#2</text>
<rect x="164.2" y="488.1" width="60" height="53.7" fill="#f7f7f7"/>
<line x1="171.5" y1="489.7" x2="171.5" y2="535.6" stroke="#b0b0b0" stroke-width="0.6" stroke-dasharray="0.8 0.6"/>
<line x1="171.5" y1="535.6" x2="223.4" y2="535.6" stroke="#b0b0b0" stroke-width="0.6" stroke-dasharray="0.8 0.6"/>
<text x="171.5" y="541.85" font-size="4.6" text-anchor="middle" fill="#444">0</text>
<text x="182.2" y="541.85" font-size="4.6" text-anchor="middle" fill="#444">50</text>
<text x="192.9" y="541.85" font-size="4.6" text-anchor="middle" fill="#444">100</text>
<text x="203.6" y="541.85" font-size="4.6" text-anchor="middle" fill="#444">150</text>
<text x="214.3" y="541.85" font-size="4.6" text-anchor="middle" fill="#444">200</text>
<text x="169.1" y="535.6" font-size="4.4" text-anchor="middle" fill="#555" transform="rotate(-90 169.1 535.6)">0</text>
<text x="169.1" y="523.45" font-size="4.4" text-anchor="middle" fill="#555" transform="rotate(-90 169.1 523.45)">200</text>
<text x="169.1" y="510.85" font-size="4.4" text-anchor="middle" fill="#555" transform="rotate(-90 169.1 510.85)">400</text>
<text x="169.1" y="498.7" font-size="4.4" text-anchor="middle" fill="#555" transform="rotate(-90 169.1 498.7)">600</text>
<polygon points="172.2,535.6 172.2,535.58 172.6,535.52 173,535.36 173.4,535.48 173.8,535.45 174.2,535.57 174.6,535.5 175,535.6 175.4,535.38 175.8,535.55 176.2,535.39 176.6,535.52 177,535.57 177.4,535.49 177.8,535.36 178.2,535.42 178.6,535.39 179,535.57 179.4,535.58 179.8,535.51 180.2,535.41 180.6,535.53 181,535.59 181.4,535.52 181.8,535.38 182.2,535.46 182.6,535.41 183,535.35 183.4,535.49 183.8,535.57 184.2,535.37 184.6,535.52 185,535.5 185.4,535.2 185.8,535.1 186.2,534.18 186.6,532.69 187,529.76 187.4,524.73 187.8,518.11 188.2,509.87 188.6,501.86 189,495.81 189.4,493.43 189.8,495.66 190.2,501.79 190.6,509.77 191,516.79 191.4,523.72 191.8,528.48 192.2,531.47 192.6,533.05 193,533.7 193.4,534.09 193.8,534.26 194.2,534.32 194.6,534.31 195,534.35 195.4,534.39 195.8,534.24 196.2,534.33 196.6,534.34 197,534.2 197.4,534.26 197.8,534.2 198.2,534.2 198.6,534.09 199,534.18 199.4,533.94 199.8,533.87 200.2,533.81 200.6,533.4 201,533.02 201.4,532.49 201.8,532.01 202.2,531.47 202.6,530.79 203,529.95 203.4,530.59 203.8,529.94 204.2,529.42 204.6,529.32 205,529.41 205.4,529.53 205.8,529.86 206.2,530.5 206.6,531.12 207,531.92 207.4,532.6 207.8,533.21 208.2,533.76 208.6,534.17 209,534.67 209.4,534.92 209.8,535.18 210.2,535.23 210.6,535.37 211,535.4 211.4,535.42 211.8,535.54 212.2,535.58 212.6,535.53 213,535.37 213.4,535.56 213.8,535.48 214.2,535.44 214.6,535.58 215,535.56 215.4,535.45 215.8,535.49 216.2,535.48 216.6,535.37 217,535.47 217.4,535.39 217.8,535.52 218.2,535.5 218.6,535.44 219,535.35 219.4,535.49 219.8,535.38 220.2,535.54 220.6,535.43 221,535.52 221.4,535.45 221.8,535.59 222.2,535.48 222.6,535.41 222.6,535.6" fill="#d4d4e6"/>
<polygon points="172.2,535.6 172.2,535.6 172.6,535.6 173,535.6 173.4,535.6 173.8,535.6 174.2,535.6 174.6,535.6 175,535.6 175.4,535.6 175.8,535.6 176.2,535.6 176.6,535.6 177,535.6 177.4,535.6 177.8,535.6 178.2,535.6 178.6,535.6 179,535.6 179.4,535.6 179.8,535.6 180.2,535.6 180.6,535.6 181,535.6 181.4,535.6 181.8,535.6 182.2,535.6 182.6,535.6 183,535.6 183.4,535.6 183.8,535.6 184.2,535.6 184.6,535.59 185,535.58 185.4,535.51 185.8,535.32 186.2,534.82 186.6,533.66 187,531.35 187.4,527.33 187.8,521.35 188.2,513.84 188.6,506.16 189,500.3 189.4,498.1 189.8,500.3 190.2,506.16 190.6,513.84 191,521.35 191.4,527.33 191.8,531.35 192.2,533.66 192.6,534.82 193,535.32 193.4,535.51 193.8,535.58 194.2,535.59 194.6,535.6 195,535.6 195.4,535.6 195.8,535.6 196.2,535.6 196.6,535.6 197,535.6 197.4,535.6 197.8,535.6 198.2,535.6 198.6,535.6 199,535.6 199.4,535.6 199.8,535.6 200.2,535.6 200.6,535.6 201,535.6 201.4,535.6 201.8,535.6 202.2,535.6 202.6,535.6 203,535.6 203.4,535.6 203.8,535.6 204.2,535.6 204.6,535.6 205,535.6 205.4,535.6 205.8,535.6 206.2,535.6 206.6,535.6 207,535.6 207.4,535.6 207.8,535.6 208.2,535.6 208.6,535.6 209,535.6 209.4,535.6 209.8,535.6 210.2,535.6 210.6,535.6 211,535.6 211.4,535.6 211.8,535.6 212.2,535.6 212.6,535.6 213,535.6 213.4,535.6 213.8,535.6 214.2,535.6 214.6,535.6 215,535.6 215.4,535.6 215.8,535.6 216.2,535.6 216.6,535.6 217,535.6 217.4,535.6 217.8,535.6 218.2,535.6 218.6,535.6 219,535.6 219.4,535.6 219.8,535.6 220.2,535.6 220.6,535.6 221,535.6 221.4,535.6 221.8,535.6 222.2,535.6 222.6,535.6 222.6,535.6" fill="#f80808"/>
<polygon points="172.2,535.6 172.2,535.6 172.6,535.6 173,535.6 173.4,535.6 173.8,535.6 174.2,535.6 174.6,535.6 175,535.6 175.4,535.6 175.8,535.6 176.2,535.6 176.6,535.6 177,535.6 177.4,535.6 177.8,535.6 178.2,535.6 178.6,535.6 179,535.6 179.4,535.6 179.8,535.6 180.2,535.6 180.6,535.6 181,535.6 181.4,535.6 181.8,535.6 182.2,535.6 182.6,535.6 183,535.6 183.4,535.6 183.8,535.6 184.2,535.6 184.6,535.6 185,535.6 185.4,535.6 185.8,535.6 186.2,535.6 186.6,535.6 187,535.6 187.4,535.6 187.8,535.6 188.2,535.6 188.6,535.6 189,535.6 189.4,535.6 189.8,535.6 190.2,535.6 190.6,535.6 191,535.6 191.4,535.6 191.8,535.6 192.2,535.6 192.6,535.6 193,535.6 193.4,535.6 193.8,535.6 194.2,535.6 194.6,535.6 195,535.6 195.4,535.6 195.8,535.6 196.2,535.6 196.6,535.6 197,535.6 197.4,535.59 197.8,535.59 198.2,535.58 198.6,535.56 199,535.53 199.4,535.47 199.8,535.38 200.2,535.24 200.6,535.05 201,534.78 201.4,534.42 201.8,533.98 202.2,533.45 202.6,532.87 203,532.27 203.4,531.69 203.8,531.19 204.2,530.82 204.6,530.62 205,530.62 205.4,530.82 205.8,531.19 206.2,531.69 206.6,532.27 207,532.87 207.4,533.45 207.8,533.98 208.2,534.42 208.6,534.78 209,535.05 209.4,535.24 209.8,535.38 210.2,535.47 210.6,535.53 211,535.56 211.4,535.58 211.8,535.59 212.2,535.59 212.6,535.6 213,535.6 213.4,535.6 213.8,535.6 214.2,535.6 214.6,535.6 215,535.6 215.4,535.6 215.8,535.6 216.2,535.6 216.6,535.6 217,535.6 217.4,535.6 217.8,535.6 218.2,535.6 218.6,535.6 219,535.6 219.4,535.6 219.8,535.6 220.2,535.6 220.6,535.6 221,535.6 221.4,535.6 221.8,535.6 222.2,535.6 222.6,535.6 222.6,535.6" fill="#f80808"/>
<polyline points="172.2,535.58 172.6,535.52 173,535.36 173.4,535.48 173.8,535.45 174.2,535.57 174.6,535.5 175,535.6 175.4,535.38 175.8,535.55 176.2,535.39 176.6,535.52 177,535.57 177.4,535.49 177.8,535.36 178.2,535.42 178.6,535.39 179,535.57 179.4,535.58 179.8,535.51 180.2,535.41 180.6,535.53 181,535.59 181.4,535.52 181.8,535.38 182.2,535.46 182.6,535.41 183,535.35 183.4,535.49 183.8,535.57 184.2,535.37 184.6,535.52 185,535.5 185.4,535.2 185.8,535.1 186.2,534.18 186.6,532.69 187,529.76 187.4,524.73 187.8,518.11 188.2,509.87 188.6,501.86 189,495.81 189.4,493.43 189.8,495.66 190.2,501.79 190.6,509.77 191,516.79 191.4,523.72 191.8,528.48 192.2,531.47 192.6,533.05 193,533.7 193.4,534.09 193.8,534.26 194.2,534.32 194.6,534.31 195,534.35 195.4,534.39 195.8,534.24 196.2,534.33 196.6,534.34 197,534.2 197.4,534.26 197.8,534.2 198.2,534.2 198.6,534.09 199,534.18 199.4,533.94 199.8,533.87 200.2,533.81 200.6,533.4 201,533.02 201.4,532.49 201.8,532.01 202.2,531.47 202.6,530.79 203,529.95 203.4,530.59 203.8,529.94 204.2,529.42 204.6,529.32 205,529.41 205.4,529.53 205.8,529.86 206.2,530.5 206.6,531.12 207,531.92 207.4,532.6 207.8,533.21 208.2,533.76 208.6,534.17 209,534.67 209.4,534.92 209.8,535.18 210.2,535.23 210.6,535.37 211,535.4 211.4,535.42 211.8,535.54 212.2,535.58 212.6,535.53 213,535.37 213.4,535.56 213.8,535.48 214.2,535.44 214.6,535.58 215,535.56 215.4,535.45 215.8,535.49 216.2,535.48 216.6,535.37 217,535.47 217.4,535.39 217.8,535.52 218.2,535.5 218.6,535.44 219,535.35 219.4,535.49 219.8,535.38 220.2,535.54 220.6,535.43 221,535.52 221.4,535.45 221.8,535.59 222.2,535.48 222.6,535.41" fill="none" stroke="#8a8a8a" stroke-width="0.6"/>
<rect x="172.4" y="497.1" width="3.6" height="2.4" fill="#f80808"/>
<rect x="172.4" y="500.7" width="3.6" height="2.4" fill="#f80808"/>
<rect x="172.4" y="504.4" width="3.6" height="2.2" fill="#d0d0e4"/>
<text x="177.8" y="499.44" font-size="2.9" fill="#5050f0">Dip G1</text>
<text x="177.8" y="503.04" font-size="2.9" fill="#5050f0">Dip G2</text>
<text x="177.8" y="506.64" font-size="2.9" fill="#5050f0">Dip S</text>
<text x="191.8" y="500.51" font-size="8.7" fill="#222" textLength="40.6" lengthAdjust="spacingAndGlyphs">G1:66.0%</text>
<text x="191.8" y="509.41" font-size="8.7" fill="#222" textLength="40.6" lengthAdjust="spacingAndGlyphs">S   :17.1%</text>
<text x="191.8" y="518.31" font-size="8.7" fill="#222" textLength="40.6" lengthAdjust="spacingAndGlyphs">G2:16.9%</text>
<line x1="254.8" y1="485.1" x2="254.8" y2="537" stroke="#333" stroke-width="0.9"/>
<line x1="254.4" y1="536.6" x2="324.9" y2="536.6" stroke="#333" stroke-width="0.9"/>
<line x1="253" y1="536.6" x2="254.8" y2="536.6" stroke="#333" stroke-width="0.8"/>
<text x="252.4" y="538.96" font-size="6.6" text-anchor="end" fill="#333">0</text>
<line x1="253" y1="528.07" x2="254.8" y2="528.07" stroke="#333" stroke-width="0.8"/>
<text x="252.4" y="530.43" font-size="6.6" text-anchor="end" fill="#333">15</text>
<line x1="253" y1="519.53" x2="254.8" y2="519.53" stroke="#333" stroke-width="0.8"/>
<text x="252.4" y="521.9" font-size="6.6" text-anchor="end" fill="#333">30</text>
<line x1="253" y1="511" x2="254.8" y2="511" stroke="#333" stroke-width="0.8"/>
<text x="252.4" y="513.36" font-size="6.6" text-anchor="end" fill="#333">45</text>
<line x1="253" y1="502.47" x2="254.8" y2="502.47" stroke="#333" stroke-width="0.8"/>
<text x="252.4" y="504.83" font-size="6.6" text-anchor="end" fill="#333">60</text>
<line x1="253" y1="493.93" x2="254.8" y2="493.93" stroke="#333" stroke-width="0.8"/>
<text x="252.4" y="496.3" font-size="6.6" text-anchor="end" fill="#333">75</text>
<line x1="253" y1="485.4" x2="254.8" y2="485.4" stroke="#333" stroke-width="0.8"/>
<text x="252.4" y="487.76" font-size="6.6" text-anchor="end" fill="#333">90</text>
<rect x="257.4" y="508.61" width="6.1" height="27.99" fill="#fff" stroke="#222" stroke-width="0.8"/>
<rect x="263.5" y="498.66" width="6.1" height="37.94" fill="#808080" stroke="#222" stroke-width="0.8"/>
<rect x="269.6" y="499.05" width="6.1" height="37.55" fill="#000" stroke="#222" stroke-width="0.8"/>
<line x1="266.55" y1="536.6" x2="266.55" y2="538.4" stroke="#333" stroke-width="0.8"/>
<text x="266.55" y="545.31" font-size="7" text-anchor="middle" fill="#222">G1</text>
<rect x="281.4" y="522.66" width="6.1" height="13.94" fill="#fff" stroke="#222" stroke-width="0.8"/>
<rect x="287.5" y="527.1" width="6.1" height="9.5" fill="#808080" stroke="#222" stroke-width="0.8"/>
<rect x="293.6" y="526.87" width="6.1" height="9.73" fill="#000" stroke="#222" stroke-width="0.8"/>
<line x1="290.55" y1="536.6" x2="290.55" y2="538.4" stroke="#333" stroke-width="0.8"/>
<text x="290.55" y="545.31" font-size="7" text-anchor="middle" fill="#222">S</text>
<rect x="304.7" y="521.64" width="6.1" height="14.96" fill="#fff" stroke="#222" stroke-width="0.8"/>
<rect x="310.8" y="527.16" width="6.1" height="9.44" fill="#808080" stroke="#222" stroke-width="0.8"/>
<rect x="316.9" y="526.99" width="6.1" height="9.61" fill="#000" stroke="#222" stroke-width="0.8"/>
<line x1="313.85" y1="536.6" x2="313.85" y2="538.4" stroke="#333" stroke-width="0.8"/>
<text x="313.85" y="545.31" font-size="7" text-anchor="middle" fill="#222">G2/M</text>
<path d="M259.8 491.3V489.3H272.4V491.3" fill="none" stroke="#333" stroke-width="0.8"/>
<text x="266.1" y="490.9" font-size="6.5" text-anchor="middle" fill="#222">*</text>
<path d="M260.3 495Q260.3 492.8 261.9 492.8H264.8Q266.4 492.8 266.4 495" fill="none" stroke="#333" stroke-width="0.8"/>
<text x="263.35" y="495.6" font-size="6.5" text-anchor="middle" fill="#222">*</text>
<path d="M283.3 517.1V515.1H295V517.1" fill="none" stroke="#333" stroke-width="0.8"/>
<text x="289.15" y="516.7" font-size="6.5" text-anchor="middle" fill="#222">*</text>
<path d="M283.3 521.3Q283.3 519.1 284.9 519.1H288.1Q289.7 519.1 289.7 521.3" fill="none" stroke="#333" stroke-width="0.8"/>
<text x="286.5" y="521.9" font-size="6.5" text-anchor="middle" fill="#222">*</text>
<rect x="286.3" y="483.4" width="5.6" height="4.4" fill="#fff" stroke="#222" stroke-width="0.7"/>
<text x="293.9" y="487.64" font-size="5.7" fill="#222">siCtrl</text>
<rect x="286.3" y="489.4" width="5.6" height="4.4" fill="#808080" stroke="#222" stroke-width="0.7"/>
<text x="293.9" y="493.64" font-size="5.7" fill="#222">si-TEFM#1</text>
<rect x="286.3" y="495.4" width="5.6" height="4.4" fill="#000" stroke="#222" stroke-width="0.7"/>
<text x="293.9" y="499.64" font-size="5.7" fill="#222">si-TEFM#2</text>
<text x="240.2" y="509.4" font-size="6.5" text-anchor="middle" fill="#222" transform="rotate(-90 240.2 509.4)">Cell percentage (%)</text>
<text x="522.48" y="459.81" font-size="8.4" text-anchor="middle" fill="#222" letter-spacing="0.15">SNU-739</text>
<line x1="355.5" y1="464.6" x2="680" y2="464.6" stroke="#111" stroke-width="1.4"/>
<path d="M366.5 480.4V548.1H589.2" fill="none" stroke="#111" stroke-width="1.4"/>
<text x="360.8" y="516.6" font-size="8.6" text-anchor="middle" fill="#222" transform="rotate(-90 360.8 516.6)">Number</text>
<text x="475.2" y="560.28" font-size="8.6" text-anchor="middle" fill="#222" letter-spacing="0.1">Channels(FL3 Lin-FL3 LIN)</text>
<text x="407.48" y="478.71" font-size="8.4" text-anchor="middle" fill="#222" letter-spacing="0.55">siCtrl</text>
<rect x="370.8" y="488.5" width="60" height="53.7" fill="#f7f7f7"/>
<line x1="378.1" y1="490.1" x2="378.1" y2="536" stroke="#b0b0b0" stroke-width="0.6" stroke-dasharray="0.8 0.6"/>
<line x1="378.1" y1="536" x2="430" y2="536" stroke="#b0b0b0" stroke-width="0.6" stroke-dasharray="0.8 0.6"/>
<text x="378.1" y="542.25" font-size="4.6" text-anchor="middle" fill="#444">0</text>
<text x="388.8" y="542.25" font-size="4.6" text-anchor="middle" fill="#444">50</text>
<text x="399.5" y="542.25" font-size="4.6" text-anchor="middle" fill="#444">100</text>
<text x="410.2" y="542.25" font-size="4.6" text-anchor="middle" fill="#444">150</text>
<text x="420.9" y="542.25" font-size="4.6" text-anchor="middle" fill="#444">200</text>
<text x="375.7" y="536" font-size="4.4" text-anchor="middle" fill="#555" transform="rotate(-90 375.7 536)">0</text>
<text x="375.7" y="527" font-size="4.4" text-anchor="middle" fill="#555" transform="rotate(-90 375.7 527)">70</text>
<text x="375.7" y="517.1" font-size="4.4" text-anchor="middle" fill="#555" transform="rotate(-90 375.7 517.1)">140</text>
<text x="375.7" y="508.1" font-size="4.4" text-anchor="middle" fill="#555" transform="rotate(-90 375.7 508.1)">210</text>
<text x="375.7" y="499.1" font-size="4.4" text-anchor="middle" fill="#555" transform="rotate(-90 375.7 499.1)">280</text>
<polygon points="378.8,536 378.8,535.97 379.2,535.79 379.6,535.81 380,535.85 380.4,535.93 380.8,535.77 381.2,535.93 381.6,535.85 382,535.86 382.4,535.76 382.8,536 383.2,535.75 383.6,535.83 384,535.85 384.4,535.93 384.8,535.86 385.2,535.92 385.6,535.82 386,535.98 386.4,535.9 386.8,535.86 387.2,535.78 387.6,535.83 388,535.77 388.4,535.77 388.8,535.93 389.2,535.8 389.6,535.91 390,535.91 390.4,535.87 390.8,535.8 391.2,535.82 391.6,535.73 392,535.59 392.4,535.27 392.8,534.43 393.2,532.88 393.6,529.7 394,524.47 394.4,517.47 394.8,508.82 395.2,500.05 395.6,493.64 396,491.37 396.4,493.74 396.8,500.27 397.2,508.62 397.6,514.28 398,521.48 398.4,526.73 398.8,529.91 399.2,531.45 399.6,532.27 400,532.59 400.4,532.82 400.8,532.77 401.2,532.85 401.6,532.99 402,533 402.4,532.83 402.8,532.87 403.2,532.98 403.6,532.94 404,532.76 404.4,532.86 404.8,532.86 405.2,532.81 405.6,532.51 406,532.49 406.4,532.08 406.8,531.67 407.2,531.28 407.6,530.45 408,529.59 408.4,528.37 408.8,527.16 409.2,525.78 409.6,524.13 410,525.94 410.4,524.61 410.8,523.84 411.2,523.43 411.6,523.35 412,523.84 412.4,524.75 412.8,525.88 413.2,527.22 413.6,528.54 414,529.97 414.4,531.32 414.8,532.45 415.2,533.36 415.6,534.14 416,534.78 416.4,535.25 416.8,535.49 417.2,535.71 417.6,535.66 418,535.73 418.4,535.7 418.8,535.97 419.2,535.76 419.6,535.94 420,535.89 420.4,535.95 420.8,535.81 421.2,535.96 421.6,535.95 422,535.77 422.4,535.87 422.8,535.85 423.2,535.84 423.6,535.83 424,535.84 424.4,535.93 424.8,535.93 425.2,535.87 425.6,535.81 426,535.97 426.4,535.89 426.8,535.99 427.2,535.79 427.6,535.88 428,535.99 428.4,535.84 428.8,535.76 429.2,535.84 429.2,536" fill="#d4d4e6"/>
<polygon points="378.8,536 378.8,536 379.2,536 379.6,536 380,536 380.4,536 380.8,536 381.2,536 381.6,536 382,536 382.4,536 382.8,536 383.2,536 383.6,536 384,536 384.4,536 384.8,536 385.2,536 385.6,536 386,536 386.4,536 386.8,536 387.2,536 387.6,536 388,536 388.4,536 388.8,536 389.2,536 389.6,536 390,536 390.4,536 390.8,536 391.2,535.99 391.6,535.97 392,535.91 392.4,535.7 392.8,535.17 393.2,533.94 393.6,531.47 394,527.18 394.4,520.8 394.8,512.79 395.2,504.6 395.6,498.35 396,496 396.4,498.35 396.8,504.6 397.2,512.79 397.6,520.8 398,527.18 398.4,531.47 398.8,533.94 399.2,535.17 399.6,535.7 400,535.91 400.4,535.97 400.8,535.99 401.2,536 401.6,536 402,536 402.4,536 402.8,536 403.2,536 403.6,536 404,536 404.4,536 404.8,536 405.2,536 405.6,536 406,536 406.4,536 406.8,536 407.2,536 407.6,536 408,536 408.4,536 408.8,536 409.2,536 409.6,536 410,536 410.4,536 410.8,536 411.2,536 411.6,536 412,536 412.4,536 412.8,536 413.2,536 413.6,536 414,536 414.4,536 414.8,536 415.2,536 415.6,536 416,536 416.4,536 416.8,536 417.2,536 417.6,536 418,536 418.4,536 418.8,536 419.2,536 419.6,536 420,536 420.4,536 420.8,536 421.2,536 421.6,536 422,536 422.4,536 422.8,536 423.2,536 423.6,536 424,536 424.4,536 424.8,536 425.2,536 425.6,536 426,536 426.4,536 426.8,536 427.2,536 427.6,536 428,536 428.4,536 428.8,536 429.2,536 429.2,536" fill="#f80808"/>
<polygon points="378.8,536 378.8,536 379.2,536 379.6,536 380,536 380.4,536 380.8,536 381.2,536 381.6,536 382,536 382.4,536 382.8,536 383.2,536 383.6,536 384,536 384.4,536 384.8,536 385.2,536 385.6,536 386,536 386.4,536 386.8,536 387.2,536 387.6,536 388,536 388.4,536 388.8,536 389.2,536 389.6,536 390,536 390.4,536 390.8,536 391.2,536 391.6,536 392,536 392.4,536 392.8,536 393.2,536 393.6,536 394,536 394.4,536 394.8,536 395.2,536 395.6,536 396,536 396.4,536 396.8,536 397.2,536 397.6,536 398,536 398.4,536 398.8,536 399.2,536 399.6,536 400,536 400.4,536 400.8,536 401.2,536 401.6,536 402,536 402.4,536 402.8,536 403.2,536 403.6,536 404,535.99 404.4,535.98 404.8,535.96 405.2,535.92 405.6,535.86 406,535.75 406.4,535.58 406.8,535.33 407.2,534.95 407.6,534.44 408,533.76 408.4,532.92 408.8,531.92 409.2,530.81 409.6,529.66 410,528.56 410.4,527.62 410.8,526.92 411.2,526.55 411.6,526.55 412,526.92 412.4,527.62 412.8,528.56 413.2,529.66 413.6,530.81 414,531.92 414.4,532.92 414.8,533.76 415.2,534.44 415.6,534.95 416,535.33 416.4,535.58 416.8,535.75 417.2,535.86 417.6,535.92 418,535.96 418.4,535.98 418.8,535.99 419.2,536 419.6,536 420,536 420.4,536 420.8,536 421.2,536 421.6,536 422,536 422.4,536 422.8,536 423.2,536 423.6,536 424,536 424.4,536 424.8,536 425.2,536 425.6,536 426,536 426.4,536 426.8,536 427.2,536 427.6,536 428,536 428.4,536 428.8,536 429.2,536 429.2,536" fill="#f80808"/>
<polyline points="378.8,535.97 379.2,535.79 379.6,535.81 380,535.85 380.4,535.93 380.8,535.77 381.2,535.93 381.6,535.85 382,535.86 382.4,535.76 382.8,536 383.2,535.75 383.6,535.83 384,535.85 384.4,535.93 384.8,535.86 385.2,535.92 385.6,535.82 386,535.98 386.4,535.9 386.8,535.86 387.2,535.78 387.6,535.83 388,535.77 388.4,535.77 388.8,535.93 389.2,535.8 389.6,535.91 390,535.91 390.4,535.87 390.8,535.8 391.2,535.82 391.6,535.73 392,535.59 392.4,535.27 392.8,534.43 393.2,532.88 393.6,529.7 394,524.47 394.4,517.47 394.8,508.82 395.2,500.05 395.6,493.64 396,491.37 396.4,493.74 396.8,500.27 397.2,508.62 397.6,514.28 398,521.48 398.4,526.73 398.8,529.91 399.2,531.45 399.6,532.27 400,532.59 400.4,532.82 400.8,532.77 401.2,532.85 401.6,532.99 402,533 402.4,532.83 402.8,532.87 403.2,532.98 403.6,532.94 404,532.76 404.4,532.86 404.8,532.86 405.2,532.81 405.6,532.51 406,532.49 406.4,532.08 406.8,531.67 407.2,531.28 407.6,530.45 408,529.59 408.4,528.37 408.8,527.16 409.2,525.78 409.6,524.13 410,525.94 410.4,524.61 410.8,523.84 411.2,523.43 411.6,523.35 412,523.84 412.4,524.75 412.8,525.88 413.2,527.22 413.6,528.54 414,529.97 414.4,531.32 414.8,532.45 415.2,533.36 415.6,534.14 416,534.78 416.4,535.25 416.8,535.49 417.2,535.71 417.6,535.66 418,535.73 418.4,535.7 418.8,535.97 419.2,535.76 419.6,535.94 420,535.89 420.4,535.95 420.8,535.81 421.2,535.96 421.6,535.95 422,535.77 422.4,535.87 422.8,535.85 423.2,535.84 423.6,535.83 424,535.84 424.4,535.93 424.8,535.93 425.2,535.87 425.6,535.81 426,535.97 426.4,535.89 426.8,535.99 427.2,535.79 427.6,535.88 428,535.99 428.4,535.84 428.8,535.76 429.2,535.84" fill="none" stroke="#8a8a8a" stroke-width="0.6"/>
<rect x="379" y="497.5" width="3.6" height="2.4" fill="#f80808"/>
<rect x="379" y="501.1" width="3.6" height="2.4" fill="#f80808"/>
<rect x="379" y="504.8" width="3.6" height="2.2" fill="#d0d0e4"/>
<text x="384.4" y="499.84" font-size="2.9" fill="#5050f0">Dip G1</text>
<text x="384.4" y="503.44" font-size="2.9" fill="#5050f0">Dip G2</text>
<text x="384.4" y="507.04" font-size="2.9" fill="#5050f0">Dip S</text>
<text x="398.4" y="500.91" font-size="8.7" fill="#222" textLength="40.6" lengthAdjust="spacingAndGlyphs">G1:52.8%</text>
<text x="398.4" y="509.81" font-size="8.7" fill="#222" textLength="40.6" lengthAdjust="spacingAndGlyphs">S   :24.2%</text>
<text x="398.4" y="518.71" font-size="8.7" fill="#222" textLength="40.6" lengthAdjust="spacingAndGlyphs">G2:23.0%</text>
<text x="480.48" y="478.71" font-size="8.4" text-anchor="middle" fill="#222" letter-spacing="0.55">si-TEFM#1</text>
<rect x="446.1" y="488.5" width="60" height="53.7" fill="#f7f7f7"/>
<line x1="453.4" y1="490.1" x2="453.4" y2="536" stroke="#b0b0b0" stroke-width="0.6" stroke-dasharray="0.8 0.6"/>
<line x1="453.4" y1="536" x2="505.3" y2="536" stroke="#b0b0b0" stroke-width="0.6" stroke-dasharray="0.8 0.6"/>
<text x="453.4" y="542.25" font-size="4.6" text-anchor="middle" fill="#444">0</text>
<text x="464.1" y="542.25" font-size="4.6" text-anchor="middle" fill="#444">50</text>
<text x="474.8" y="542.25" font-size="4.6" text-anchor="middle" fill="#444">100</text>
<text x="485.5" y="542.25" font-size="4.6" text-anchor="middle" fill="#444">150</text>
<text x="496.2" y="542.25" font-size="4.6" text-anchor="middle" fill="#444">200</text>
<text x="451" y="536" font-size="4.4" text-anchor="middle" fill="#555" transform="rotate(-90 451 536)">0</text>
<text x="451" y="527" font-size="4.4" text-anchor="middle" fill="#555" transform="rotate(-90 451 527)">100</text>
<text x="451" y="517.1" font-size="4.4" text-anchor="middle" fill="#555" transform="rotate(-90 451 517.1)">200</text>
<text x="451" y="508.1" font-size="4.4" text-anchor="middle" fill="#555" transform="rotate(-90 451 508.1)">300</text>
<text x="451" y="499.1" font-size="4.4" text-anchor="middle" fill="#555" transform="rotate(-90 451 499.1)">400</text>
<polygon points="454.1,536 454.1,535.8 454.5,535.81 454.9,535.83 455.3,535.85 455.7,535.95 456.1,535.97 456.5,535.89 456.9,535.95 457.3,535.9 457.7,535.85 458.1,535.93 458.5,535.79 458.9,535.76 459.3,535.97 459.7,535.87 460.1,535.84 460.5,535.79 460.9,535.98 461.3,535.89 461.7,535.81 462.1,535.78 462.5,535.99 462.9,535.92 463.3,535.81 463.7,535.95 464.1,535.88 464.5,535.92 464.9,536 465.3,535.78 465.7,535.8 466.1,535.89 466.5,535.8 466.9,535.76 467.3,535.65 467.7,535.28 468.1,534.56 468.5,532.93 468.9,529.81 469.3,524.65 469.7,517.7 470.1,509.14 470.5,500.54 470.9,494.3 471.3,491.93 471.7,494.2 472.1,500.55 472.5,508.98 472.9,516.09 473.3,523.26 473.7,528.37 474.1,531.39 474.5,533.07 474.9,533.94 475.3,534.3 475.7,534.31 476.1,534.41 476.5,534.35 476.9,534.49 477.3,534.58 477.7,534.51 478.1,534.36 478.5,534.55 478.9,534.5 479.3,534.4 479.7,534.38 480.1,534.49 480.5,534.3 480.9,534.41 481.3,534.22 481.7,533.93 482.1,533.74 482.5,533.46 482.9,532.96 483.3,532.47 483.7,531.84 484.1,530.93 484.5,530.12 484.9,529.33 485.3,529.87 485.7,529.22 486.1,528.61 486.5,528.29 486.9,528.43 487.3,528.69 487.7,529.25 488.1,529.96 488.5,530.62 488.9,531.54 489.3,532.35 489.7,533.14 490.1,533.77 490.5,534.3 490.9,534.74 491.3,535.08 491.7,535.41 492.1,535.65 492.5,535.61 492.9,535.68 493.3,535.86 493.7,535.94 494.1,535.75 494.5,535.85 494.9,535.98 495.3,536 495.7,535.9 496.1,535.86 496.5,535.95 496.9,535.78 497.3,535.92 497.7,535.89 498.1,535.99 498.5,535.75 498.9,535.84 499.3,535.86 499.7,535.83 500.1,535.97 500.5,535.91 500.9,535.91 501.3,535.83 501.7,535.76 502.1,535.85 502.5,535.77 502.9,535.79 503.3,535.77 503.7,535.9 504.1,535.89 504.5,535.94 504.5,536" fill="#d4d4e6"/>
<polygon points="454.1,536 454.1,536 454.5,536 454.9,536 455.3,536 455.7,536 456.1,536 456.5,536 456.9,536 457.3,536 457.7,536 458.1,536 458.5,536 458.9,536 459.3,536 459.7,536 460.1,536 460.5,536 460.9,536 461.3,536 461.7,536 462.1,536 462.5,536 462.9,536 463.3,536 463.7,536 464.1,536 464.5,536 464.9,536 465.3,536 465.7,536 466.1,536 466.5,535.99 466.9,535.97 467.3,535.91 467.7,535.71 468.1,535.19 468.5,533.99 468.9,531.58 469.3,527.4 469.7,521.18 470.1,513.37 470.5,505.38 470.9,499.29 471.3,497 471.7,499.29 472.1,505.38 472.5,513.37 472.9,521.18 473.3,527.4 473.7,531.58 474.1,533.99 474.5,535.19 474.9,535.71 475.3,535.91 475.7,535.97 476.1,535.99 476.5,536 476.9,536 477.3,536 477.7,536 478.1,536 478.5,536 478.9,536 479.3,536 479.7,536 480.1,536 480.5,536 480.9,536 481.3,536 481.7,536 482.1,536 482.5,536 482.9,536 483.3,536 483.7,536 484.1,536 484.5,536 484.9,536 485.3,536 485.7,536 486.1,536 486.5,536 486.9,536 487.3,536 487.7,536 488.1,536 488.5,536 488.9,536 489.3,536 489.7,536 490.1,536 490.5,536 490.9,536 491.3,536 491.7,536 492.1,536 492.5,536 492.9,536 493.3,536 493.7,536 494.1,536 494.5,536 494.9,536 495.3,536 495.7,536 496.1,536 496.5,536 496.9,536 497.3,536 497.7,536 498.1,536 498.5,536 498.9,536 499.3,536 499.7,536 500.1,536 500.5,536 500.9,536 501.3,536 501.7,536 502.1,536 502.5,536 502.9,536 503.3,536 503.7,536 504.1,536 504.5,536 504.5,536" fill="#f80808"/>
<polygon points="454.1,536 454.1,536 454.5,536 454.9,536 455.3,536 455.7,536 456.1,536 456.5,536 456.9,536 457.3,536 457.7,536 458.1,536 458.5,536 458.9,536 459.3,536 459.7,536 460.1,536 460.5,536 460.9,536 461.3,536 461.7,536 462.1,536 462.5,536 462.9,536 463.3,536 463.7,536 464.1,536 464.5,536 464.9,536 465.3,536 465.7,536 466.1,536 466.5,536 466.9,536 467.3,536 467.7,536 468.1,536 468.5,536 468.9,536 469.3,536 469.7,536 470.1,536 470.5,536 470.9,536 471.3,536 471.7,536 472.1,536 472.5,536 472.9,536 473.3,536 473.7,536 474.1,536 474.5,536 474.9,536 475.3,536 475.7,536 476.1,536 476.5,536 476.9,536 477.3,536 477.7,536 478.1,536 478.5,536 478.9,536 479.3,535.99 479.7,535.99 480.1,535.98 480.5,535.95 480.9,535.92 481.3,535.86 481.7,535.76 482.1,535.61 482.5,535.39 482.9,535.1 483.3,534.7 483.7,534.21 484.1,533.64 484.5,533 484.9,532.33 485.3,531.7 485.7,531.15 486.1,530.74 486.5,530.53 486.9,530.53 487.3,530.74 487.7,531.15 488.1,531.7 488.5,532.33 488.9,533 489.3,533.64 489.7,534.21 490.1,534.7 490.5,535.1 490.9,535.39 491.3,535.61 491.7,535.76 492.1,535.86 492.5,535.92 492.9,535.95 493.3,535.98 493.7,535.99 494.1,535.99 494.5,536 494.9,536 495.3,536 495.7,536 496.1,536 496.5,536 496.9,536 497.3,536 497.7,536 498.1,536 498.5,536 498.9,536 499.3,536 499.7,536 500.1,536 500.5,536 500.9,536 501.3,536 501.7,536 502.1,536 502.5,536 502.9,536 503.3,536 503.7,536 504.1,536 504.5,536 504.5,536" fill="#f80808"/>
<polyline points="454.1,535.8 454.5,535.81 454.9,535.83 455.3,535.85 455.7,535.95 456.1,535.97 456.5,535.89 456.9,535.95 457.3,535.9 457.7,535.85 458.1,535.93 458.5,535.79 458.9,535.76 459.3,535.97 459.7,535.87 460.1,535.84 460.5,535.79 460.9,535.98 461.3,535.89 461.7,535.81 462.1,535.78 462.5,535.99 462.9,535.92 463.3,535.81 463.7,535.95 464.1,535.88 464.5,535.92 464.9,536 465.3,535.78 465.7,535.8 466.1,535.89 466.5,535.8 466.9,535.76 467.3,535.65 467.7,535.28 468.1,534.56 468.5,532.93 468.9,529.81 469.3,524.65 469.7,517.7 470.1,509.14 470.5,500.54 470.9,494.3 471.3,491.93 471.7,494.2 472.1,500.55 472.5,508.98 472.9,516.09 473.3,523.26 473.7,528.37 474.1,531.39 474.5,533.07 474.9,533.94 475.3,534.3 475.7,534.31 476.1,534.41 476.5,534.35 476.9,534.49 477.3,534.58 477.7,534.51 478.1,534.36 478.5,534.55 478.9,534.5 479.3,534.4 479.7,534.38 480.1,534.49 480.5,534.3 480.9,534.41 481.3,534.22 481.7,533.93 482.1,533.74 482.5,533.46 482.9,532.96 483.3,532.47 483.7,531.84 484.1,530.93 484.5,530.12 484.9,529.33 485.3,529.87 485.7,529.22 486.1,528.61 486.5,528.29 486.9,528.43 487.3,528.69 487.7,529.25 488.1,529.96 488.5,530.62 488.9,531.54 489.3,532.35 489.7,533.14 490.1,533.77 490.5,534.3 490.9,534.74 491.3,535.08 491.7,535.41 492.1,535.65 492.5,535.61 492.9,535.68 493.3,535.86 493.7,535.94 494.1,535.75 494.5,535.85 494.9,535.98 495.3,536 495.7,535.9 496.1,535.86 496.5,535.95 496.9,535.78 497.3,535.92 497.7,535.89 498.1,535.99 498.5,535.75 498.9,535.84 499.3,535.86 499.7,535.83 500.1,535.97 500.5,535.91 500.9,535.91 501.3,535.83 501.7,535.76 502.1,535.85 502.5,535.77 502.9,535.79 503.3,535.77 503.7,535.9 504.1,535.89 504.5,535.94" fill="none" stroke="#8a8a8a" stroke-width="0.6"/>
<rect x="454.3" y="497.5" width="3.6" height="2.4" fill="#f80808"/>
<rect x="454.3" y="501.1" width="3.6" height="2.4" fill="#f80808"/>
<rect x="454.3" y="504.8" width="3.6" height="2.2" fill="#d0d0e4"/>
<text x="459.7" y="499.84" font-size="2.9" fill="#5050f0">Dip G1</text>
<text x="459.7" y="503.44" font-size="2.9" fill="#5050f0">Dip G2</text>
<text x="459.7" y="507.04" font-size="2.9" fill="#5050f0">Dip S</text>
<text x="473.7" y="500.91" font-size="8.7" fill="#222" textLength="40.6" lengthAdjust="spacingAndGlyphs">G1:66.6%</text>
<text x="473.7" y="509.81" font-size="8.7" fill="#222" textLength="40.6" lengthAdjust="spacingAndGlyphs">S   :15.6%</text>
<text x="473.7" y="518.71" font-size="8.7" fill="#222" textLength="40.6" lengthAdjust="spacingAndGlyphs">G2:18.7%</text>
<text x="551.68" y="477.01" font-size="8.4" text-anchor="middle" fill="#222" letter-spacing="0.55">si-TEFM#2</text>
<rect x="520.3" y="488.5" width="60" height="53.7" fill="#f7f7f7"/>
<line x1="527.6" y1="490.1" x2="527.6" y2="536" stroke="#b0b0b0" stroke-width="0.6" stroke-dasharray="0.8 0.6"/>
<line x1="527.6" y1="536" x2="579.5" y2="536" stroke="#b0b0b0" stroke-width="0.6" stroke-dasharray="0.8 0.6"/>
<text x="527.6" y="542.25" font-size="4.6" text-anchor="middle" fill="#444">0</text>
<text x="538.3" y="542.25" font-size="4.6" text-anchor="middle" fill="#444">50</text>
<text x="549" y="542.25" font-size="4.6" text-anchor="middle" fill="#444">100</text>
<text x="559.7" y="542.25" font-size="4.6" text-anchor="middle" fill="#444">150</text>
<text x="570.4" y="542.25" font-size="4.6" text-anchor="middle" fill="#444">200</text>
<text x="525.2" y="536" font-size="4.4" text-anchor="middle" fill="#555" transform="rotate(-90 525.2 536)">0</text>
<text x="525.2" y="523.85" font-size="4.4" text-anchor="middle" fill="#555" transform="rotate(-90 525.2 523.85)">200</text>
<text x="525.2" y="511.25" font-size="4.4" text-anchor="middle" fill="#555" transform="rotate(-90 525.2 511.25)">400</text>
<text x="525.2" y="499.1" font-size="4.4" text-anchor="middle" fill="#555" transform="rotate(-90 525.2 499.1)">600</text>
<polygon points="528.3,536 528.3,535.75 528.7,535.98 529.1,535.78 529.5,535.9 529.9,535.97 530.3,535.89 530.7,535.81 531.1,535.78 531.5,535.94 531.9,535.9 532.3,535.85 532.7,535.75 533.1,535.75 533.5,535.97 533.9,535.92 534.3,535.95 534.7,535.9 535.1,535.95 535.5,535.88 535.9,535.76 536.3,535.83 536.7,535.97 537.1,535.83 537.5,535.81 537.9,535.93 538.3,535.79 538.7,535.75 539.1,535.96 539.5,535.89 539.9,535.8 540.3,535.82 540.7,535.74 541.1,535.78 541.5,535.63 541.9,535.4 542.3,534.5 542.7,532.98 543.1,529.87 543.5,524.6 543.9,517.6 544.3,509.11 544.7,500.54 545.1,494.18 545.5,491.83 545.9,494.19 546.3,500.52 546.7,508.95 547.1,516.27 547.5,523.57 547.9,528.65 548.3,531.77 548.7,533.37 549.1,534.09 549.5,534.39 549.9,534.53 550.3,534.63 550.7,534.74 551.1,534.77 551.5,534.76 551.9,534.67 552.3,534.76 552.7,534.55 553.1,534.64 553.5,534.72 553.9,534.54 554.3,534.54 554.7,534.69 555.1,534.58 555.5,534.34 555.9,534.33 556.3,534.08 556.7,533.83 557.1,533.41 557.5,533.08 557.9,532.63 558.3,531.91 558.7,531.2 559.1,530.57 559.5,531.14 559.9,530.55 560.3,530.14 560.7,529.81 561.1,529.99 561.5,530.1 561.9,530.47 562.3,531.15 562.7,531.71 563.1,532.49 563.5,533.02 563.9,533.66 564.3,534.3 564.7,534.82 565.1,535.04 565.5,535.31 565.9,535.44 566.3,535.61 566.7,535.66 567.1,535.79 567.5,535.85 567.9,535.92 568.3,535.77 568.7,535.8 569.1,535.83 569.5,535.9 569.9,535.93 570.3,535.96 570.7,535.97 571.1,535.93 571.5,535.93 571.9,535.91 572.3,535.84 572.7,535.98 573.1,535.85 573.5,535.91 573.9,535.88 574.3,535.96 574.7,535.75 575.1,535.88 575.5,535.86 575.9,535.8 576.3,535.89 576.7,535.79 577.1,535.8 577.5,535.8 577.9,535.98 578.3,535.98 578.7,535.87 578.7,536" fill="#d4d4e6"/>
<polygon points="528.3,536 528.3,536 528.7,536 529.1,536 529.5,536 529.9,536 530.3,536 530.7,536 531.1,536 531.5,536 531.9,536 532.3,536 532.7,536 533.1,536 533.5,536 533.9,536 534.3,536 534.7,536 535.1,536 535.5,536 535.9,536 536.3,536 536.7,536 537.1,536 537.5,536 537.9,536 538.3,536 538.7,536 539.1,536 539.5,536 539.9,536 540.3,536 540.7,535.99 541.1,535.97 541.5,535.91 541.9,535.71 542.3,535.18 542.7,533.96 543.1,531.52 543.5,527.29 543.9,520.99 544.3,513.08 544.7,504.99 545.1,498.82 545.5,496.5 545.9,498.82 546.3,504.99 546.7,513.08 547.1,520.99 547.5,527.29 547.9,531.52 548.3,533.96 548.7,535.18 549.1,535.71 549.5,535.91 549.9,535.97 550.3,535.99 550.7,536 551.1,536 551.5,536 551.9,536 552.3,536 552.7,536 553.1,536 553.5,536 553.9,536 554.3,536 554.7,536 555.1,536 555.5,536 555.9,536 556.3,536 556.7,536 557.1,536 557.5,536 557.9,536 558.3,536 558.7,536 559.1,536 559.5,536 559.9,536 560.3,536 560.7,536 561.1,536 561.5,536 561.9,536 562.3,536 562.7,536 563.1,536 563.5,536 563.9,536 564.3,536 564.7,536 565.1,536 565.5,536 565.9,536 566.3,536 566.7,536 567.1,536 567.5,536 567.9,536 568.3,536 568.7,536 569.1,536 569.5,536 569.9,536 570.3,536 570.7,536 571.1,536 571.5,536 571.9,536 572.3,536 572.7,536 573.1,536 573.5,536 573.9,536 574.3,536 574.7,536 575.1,536 575.5,536 575.9,536 576.3,536 576.7,536 577.1,536 577.5,536 577.9,536 578.3,536 578.7,536 578.7,536" fill="#f80808"/>
<polygon points="528.3,536 528.3,536 528.7,536 529.1,536 529.5,536 529.9,536 530.3,536 530.7,536 531.1,536 531.5,536 531.9,536 532.3,536 532.7,536 533.1,536 533.5,536 533.9,536 534.3,536 534.7,536 535.1,536 535.5,536 535.9,536 536.3,536 536.7,536 537.1,536 537.5,536 537.9,536 538.3,536 538.7,536 539.1,536 539.5,536 539.9,536 540.3,536 540.7,536 541.1,536 541.5,536 541.9,536 542.3,536 542.7,536 543.1,536 543.5,536 543.9,536 544.3,536 544.7,536 545.1,536 545.5,536 545.9,536 546.3,536 546.7,536 547.1,536 547.5,536 547.9,536 548.3,536 548.7,536 549.1,536 549.5,536 549.9,536 550.3,536 550.7,536 551.1,536 551.5,536 551.9,536 552.3,536 552.7,536 553.1,536 553.5,535.99 553.9,535.99 554.3,535.98 554.7,535.96 555.1,535.93 555.5,535.87 555.9,535.79 556.3,535.66 556.7,535.47 557.1,535.21 557.5,534.87 557.9,534.44 558.3,533.94 558.7,533.38 559.1,532.8 559.5,532.24 559.9,531.76 560.3,531.41 560.7,531.22 561.1,531.22 561.5,531.41 561.9,531.76 562.3,532.24 562.7,532.8 563.1,533.38 563.5,533.94 563.9,534.44 564.3,534.87 564.7,535.21 565.1,535.47 565.5,535.66 565.9,535.79 566.3,535.87 566.7,535.93 567.1,535.96 567.5,535.98 567.9,535.99 568.3,535.99 568.7,536 569.1,536 569.5,536 569.9,536 570.3,536 570.7,536 571.1,536 571.5,536 571.9,536 572.3,536 572.7,536 573.1,536 573.5,536 573.9,536 574.3,536 574.7,536 575.1,536 575.5,536 575.9,536 576.3,536 576.7,536 577.1,536 577.5,536 577.9,536 578.3,536 578.7,536 578.7,536" fill="#f80808"/>
<polyline points="528.3,535.75 528.7,535.98 529.1,535.78 529.5,535.9 529.9,535.97 530.3,535.89 530.7,535.81 531.1,535.78 531.5,535.94 531.9,535.9 532.3,535.85 532.7,535.75 533.1,535.75 533.5,535.97 533.9,535.92 534.3,535.95 534.7,535.9 535.1,535.95 535.5,535.88 535.9,535.76 536.3,535.83 536.7,535.97 537.1,535.83 537.5,535.81 537.9,535.93 538.3,535.79 538.7,535.75 539.1,535.96 539.5,535.89 539.9,535.8 540.3,535.82 540.7,535.74 541.1,535.78 541.5,535.63 541.9,535.4 542.3,534.5 542.7,532.98 543.1,529.87 543.5,524.6 543.9,517.6 544.3,509.11 544.7,500.54 545.1,494.18 545.5,491.83 545.9,494.19 546.3,500.52 546.7,508.95 547.1,516.27 547.5,523.57 547.9,528.65 548.3,531.77 548.7,533.37 549.1,534.09 549.5,534.39 549.9,534.53 550.3,534.63 550.7,534.74 551.1,534.77 551.5,534.76 551.9,534.67 552.3,534.76 552.7,534.55 553.1,534.64 553.5,534.72 553.9,534.54 554.3,534.54 554.7,534.69 555.1,534.58 555.5,534.34 555.9,534.33 556.3,534.08 556.7,533.83 557.1,533.41 557.5,533.08 557.9,532.63 558.3,531.91 558.7,531.2 559.1,530.57 559.5,531.14 559.9,530.55 560.3,530.14 560.7,529.81 561.1,529.99 561.5,530.1 561.9,530.47 562.3,531.15 562.7,531.71 563.1,532.49 563.5,533.02 563.9,533.66 564.3,534.3 564.7,534.82 565.1,535.04 565.5,535.31 565.9,535.44 566.3,535.61 566.7,535.66 567.1,535.79 567.5,535.85 567.9,535.92 568.3,535.77 568.7,535.8 569.1,535.83 569.5,535.9 569.9,535.93 570.3,535.96 570.7,535.97 571.1,535.93 571.5,535.93 571.9,535.91 572.3,535.84 572.7,535.98 573.1,535.85 573.5,535.91 573.9,535.88 574.3,535.96 574.7,535.75 575.1,535.88 575.5,535.86 575.9,535.8 576.3,535.89 576.7,535.79 577.1,535.8 577.5,535.8 577.9,535.98 578.3,535.98 578.7,535.87" fill="none" stroke="#8a8a8a" stroke-width="0.6"/>
<rect x="528.5" y="497.5" width="3.6" height="2.4" fill="#f80808"/>
<rect x="528.5" y="501.1" width="3.6" height="2.4" fill="#f80808"/>
<rect x="528.5" y="504.8" width="3.6" height="2.2" fill="#d0d0e4"/>
<text x="533.9" y="499.84" font-size="2.9" fill="#5050f0">Dip G1</text>
<text x="533.9" y="503.44" font-size="2.9" fill="#5050f0">Dip G2</text>
<text x="533.9" y="507.04" font-size="2.9" fill="#5050f0">Dip S</text>
<text x="547.9" y="500.91" font-size="8.7" fill="#222" textLength="40.6" lengthAdjust="spacingAndGlyphs">G1:69.9%</text>
<text x="547.9" y="509.81" font-size="8.7" fill="#222" textLength="40.6" lengthAdjust="spacingAndGlyphs">S   :16.8%</text>
<text x="547.9" y="518.71" font-size="8.7" fill="#222" textLength="40.6" lengthAdjust="spacingAndGlyphs">G2:13.3%</text>
<line x1="612.9" y1="486.7" x2="612.9" y2="540.6" stroke="#333" stroke-width="0.9"/>
<line x1="612.5" y1="540.2" x2="683.6" y2="540.2" stroke="#333" stroke-width="0.9"/>
<line x1="611.1" y1="540.2" x2="612.9" y2="540.2" stroke="#333" stroke-width="0.8"/>
<text x="610.5" y="542.56" font-size="6.6" text-anchor="end" fill="#333">0</text>
<line x1="611.1" y1="531.33" x2="612.9" y2="531.33" stroke="#333" stroke-width="0.8"/>
<text x="610.5" y="533.7" font-size="6.6" text-anchor="end" fill="#333">15</text>
<line x1="611.1" y1="522.47" x2="612.9" y2="522.47" stroke="#333" stroke-width="0.8"/>
<text x="610.5" y="524.83" font-size="6.6" text-anchor="end" fill="#333">30</text>
<line x1="611.1" y1="513.6" x2="612.9" y2="513.6" stroke="#333" stroke-width="0.8"/>
<text x="610.5" y="515.96" font-size="6.6" text-anchor="end" fill="#333">45</text>
<line x1="611.1" y1="504.73" x2="612.9" y2="504.73" stroke="#333" stroke-width="0.8"/>
<text x="610.5" y="507.1" font-size="6.6" text-anchor="end" fill="#333">60</text>
<line x1="611.1" y1="495.87" x2="612.9" y2="495.87" stroke="#333" stroke-width="0.8"/>
<text x="610.5" y="498.23" font-size="6.6" text-anchor="end" fill="#333">75</text>
<line x1="611.1" y1="487" x2="612.9" y2="487" stroke="#333" stroke-width="0.8"/>
<text x="610.5" y="489.36" font-size="6.6" text-anchor="end" fill="#333">90</text>
<rect x="615.3" y="508.99" width="5.9" height="31.21" fill="#fff" stroke="#222" stroke-width="0.8"/>
<rect x="621.2" y="500.83" width="5.9" height="39.37" fill="#808080" stroke="#222" stroke-width="0.8"/>
<rect x="627.6" y="498.88" width="5.9" height="41.32" fill="#000" stroke="#222" stroke-width="0.8"/>
<line x1="624.15" y1="540.2" x2="624.15" y2="542" stroke="#333" stroke-width="0.8"/>
<text x="624.15" y="548.91" font-size="7" text-anchor="middle" fill="#222">G1</text>
<rect x="639.2" y="525.9" width="5.9" height="14.3" fill="#fff" stroke="#222" stroke-width="0.8"/>
<rect x="645.1" y="530.98" width="5.9" height="9.22" fill="#808080" stroke="#222" stroke-width="0.8"/>
<rect x="651.5" y="530.27" width="5.9" height="9.93" fill="#000" stroke="#222" stroke-width="0.8"/>
<line x1="648.05" y1="540.2" x2="648.05" y2="542" stroke="#333" stroke-width="0.8"/>
<text x="648.05" y="548.91" font-size="7" text-anchor="middle" fill="#222">S</text>
<rect x="663.1" y="526.6" width="5.9" height="13.6" fill="#fff" stroke="#222" stroke-width="0.8"/>
<rect x="669" y="529.15" width="5.9" height="11.05" fill="#808080" stroke="#222" stroke-width="0.8"/>
<rect x="675.4" y="532.34" width="5.9" height="7.86" fill="#000" stroke="#222" stroke-width="0.8"/>
<line x1="671.95" y1="540.2" x2="671.95" y2="542" stroke="#333" stroke-width="0.8"/>
<text x="671.95" y="548.91" font-size="7" text-anchor="middle" fill="#222">G2/M</text>
<path d="M617.6 494.4V492.4H629.9V494.4" fill="none" stroke="#333" stroke-width="0.8"/>
<text x="623.75" y="494" font-size="6.5" text-anchor="middle" fill="#222">*</text>
<path d="M617.6 499.3V497.3H624.3V499.3" fill="none" stroke="#333" stroke-width="0.8"/>
<text x="620.95" y="498.9" font-size="6.5" text-anchor="middle" fill="#222">*</text>
<path d="M641.4 519.3V517.3H653.8V519.3" fill="none" stroke="#333" stroke-width="0.8"/>
<text x="647.6" y="518.9" font-size="6.5" text-anchor="middle" fill="#222">*</text>
<path d="M641.4 524.6V522.6H647.6V524.6" fill="none" stroke="#333" stroke-width="0.8"/>
<text x="644.5" y="524.2" font-size="6.5" text-anchor="middle" fill="#222">*</text>
<rect x="645" y="485" width="5.6" height="4.4" fill="#fff" stroke="#222" stroke-width="0.7"/>
<text x="652.6" y="489.35" font-size="6" fill="#222">siCtrl</text>
<rect x="645" y="491" width="5.6" height="4.4" fill="#808080" stroke="#222" stroke-width="0.7"/>
<text x="652.6" y="495.35" font-size="6" fill="#222">si-TEFM#1</text>
<rect x="645" y="497" width="5.6" height="4.4" fill="#000" stroke="#222" stroke-width="0.7"/>
<text x="652.6" y="501.35" font-size="6" fill="#222">si-TEFM#2</text>
<text x="598.6" y="512.7" font-size="7.2" text-anchor="middle" fill="#222" transform="rotate(-90 598.6 512.7)">Cell percentage(%)</text>
<text x="1.6" y="596.8" font-size="10.5" font-weight="bold">F</text>
<text x="164.28" y="610.81" font-size="8.4" text-anchor="middle" fill="#222" letter-spacing="0.15">SNU-354</text>
<line x1="21" y1="616.2" x2="325.6" y2="616.2" stroke="#111" stroke-width="1.4"/>
<text x="534.18" y="607.91" font-size="8.4" text-anchor="middle" fill="#222" letter-spacing="0.15">SNU-739</text>
<line x1="374.6" y1="615" x2="675" y2="615" stroke="#111" stroke-width="1.4"/>
<rect x="28.4" y="632.4" width="60" height="59.4" fill="#f7f7f7"/>
<rect x="36.4" y="635" width="50.6" height="51.8" fill="#f8f8f8" stroke="#999" stroke-width="0.6"/>
<ellipse cx="43" cy="680.2" rx="2.6" ry="2.47" fill="#f01010"/>
<path fill="#f00a0a" fill-opacity="0.8" d="M40.2 680.5h1v1h-1zM44.6 678.8h1v1h-1zM39.9 679.7h1v1h-1zM43.6 681.9h1v1h-1zM40.2 677.3h1v1h-1zM44.0 680.7h1v1h-1zM45.7 681.7h1v1h-1zM42.4 679.3h1v1h-1zM47.7 679.3h1v1h-1zM41.0 677.6h1v1h-1zM42.8 680.1h1v1h-1zM41.9 679.7h1v1h-1zM43.1 681.1h1v1h-1zM44.8 680.2h1v1h-1zM39.0 681.1h1v1h-1zM39.8 679.5h1v1h-1zM39.7 679.8h1v1h-1zM41.0 680.2h1v1h-1zM49.2 679.7h1v1h-1zM44.3 677.3h1v1h-1zM42.0 681.1h1v1h-1zM42.4 680.5h1v1h-1zM42.8 677.9h1v1h-1zM43.7 678.3h1v1h-1zM46.3 678.8h1v1h-1zM44.0 679.8h1v1h-1zM44.5 678.7h1v1h-1zM44.6 679.6h1v1h-1zM45.1 681.0h1v1h-1zM42.9 678.3h1v1h-1zM44.1 680.7h1v1h-1zM45.9 679.1h1v1h-1zM43.7 680.8h1v1h-1zM43.2 680.2h1v1h-1zM43.0 678.7h1v1h-1zM40.6 679.0h1v1h-1zM43.8 682.7h1v1h-1zM44.6 681.8h1v1h-1zM44.2 681.1h1v1h-1zM43.0 681.3h1v1h-1zM46.1 679.2h1v1h-1zM41.2 683.5h1v1h-1zM43.1 681.6h1v1h-1zM44.3 677.6h1v1h-1zM47.5 683.2h1v1h-1zM43.0 681.2h1v1h-1zM42.9 678.1h1v1h-1zM42.4 680.5h1v1h-1zM44.8 681.1h1v1h-1zM42.7 682.4h1v1h-1zM41.1 681.3h1v1h-1zM44.8 679.2h1v1h-1zM39.0 678.1h1v1h-1zM43.1 680.8h1v1h-1zM45.7 677.9h1v1h-1zM42.6 681.0h1v1h-1zM42.3 675.3h1v1h-1zM44.2 684.2h1v1h-1zM44.6 678.1h1v1h-1zM41.8 680.2h1v1h-1zM47.6 681.0h1v1h-1zM42.8 682.8h1v1h-1zM42.4 683.3h1v1h-1zM41.2 678.9h1v1h-1zM44.0 682.5h1v1h-1zM43.9 680.4h1v1h-1zM39.0 678.4h1v1h-1zM41.4 678.8h1v1h-1zM43.8 679.2h1v1h-1zM44.2 680.0h1v1h-1zM41.9 680.0h1v1h-1zM43.5 681.4h1v1h-1zM41.6 679.4h1v1h-1zM39.9 682.8h1v1h-1zM45.5 679.5h1v1h-1zM41.6 677.5h1v1h-1zM42.9 680.2h1v1h-1zM47.0 680.3h1v1h-1zM41.0 675.2h1v1h-1zM45.4 680.2h1v1h-1zM39.4 680.1h1v1h-1zM44.8 680.9h1v1h-1zM42.2 675.7h1v1h-1zM42.3 676.8h1v1h-1zM43.8 675.7h1v1h-1zM40.8 682.1h1v1h-1zM45.9 677.6h1v1h-1zM39.5 681.5h1v1h-1zM44.3 677.9h1v1h-1zM41.2 678.5h1v1h-1zM40.2 678.5h1v1h-1zM45.1 681.1h1v1h-1zM46.7 679.6h1v1h-1zM42.3 677.9h1v1h-1zM42.4 677.3h1v1h-1zM39.0 681.1h1v1h-1zM45.5 681.4h1v1h-1zM45.3 680.3h1v1h-1zM41.2 680.0h1v1h-1zM41.9 677.7h1v1h-1zM39.2 677.0h1v1h-1zM42.6 680.1h1v1h-1zM41.7 682.5h1v1h-1zM43.0 680.9h1v1h-1zM45.0 678.2h1v1h-1zM38.7 681.2h1v1h-1zM41.2 682.3h1v1h-1zM43.3 681.7h1v1h-1zM44.1 675.8h1v1h-1zM44.0 678.5h1v1h-1zM41.1 679.0h1v1h-1zM44.1 681.5h1v1h-1zM44.6 676.6h1v1h-1zM41.4 675.3h1v1h-1zM42.4 680.9h1v1h-1zM41.1 680.3h1v1h-1zM43.1 681.7h1v1h-1zM41.0 678.2h1v1h-1zM41.1 683.1h1v1h-1zM44.8 679.6h1v1h-1zM43.1 680.0h1v1h-1zM43.0 679.4h1v1h-1zM41.9 677.4h1v1h-1zM41.3 682.9h1v1h-1zM43.7 679.9h1v1h-1zM42.2 679.9h1v1h-1zM43.3 678.6h1v1h-1zM43.0 680.3h1v1h-1zM41.1 678.3h1v1h-1zM40.6 677.8h1v1h-1zM44.4 675.3h1v1h-1zM42.1 678.6h1v1h-1zM41.4 680.0h1v1h-1zM44.9 679.9h1v1h-1zM42.3 678.6h1v1h-1zM42.3 681.5h1v1h-1zM41.8 677.6h1v1h-1zM40.1 677.7h1v1h-1zM39.8 681.9h1v1h-1zM43.3 679.3h1v1h-1zM45.5 678.6h1v1h-1zM44.1 681.3h1v1h-1zM39.5 676.8h1v1h-1zM40.7 681.5h1v1h-1zM45.2 677.5h1v1h-1zM44.7 679.1h1v1h-1zM41.8 678.8h1v1h-1zM42.0 676.3h1v1h-1zM40.6 677.5h1v1h-1zM43.6 683.8h1v1h-1zM48.1 679.2h1v1h-1zM39.2 679.0h1v1h-1zM40.7 683.6h1v1h-1zM43.7 678.4h1v1h-1zM44.5 680.8h1v1h-1zM39.3 678.8h1v1h-1zM42.1 679.8h1v1h-1zM42.9 679.2h1v1h-1zM43.0 678.7h1v1h-1zM40.8 682.7h1v1h-1zM43.3 680.6h1v1h-1zM39.4 679.5h1v1h-1zM44.2 677.3h1v1h-1zM44.8 679.1h1v1h-1zM43.4 679.5h1v1h-1zM43.0 682.1h1v1h-1zM41.8 682.8h1v1h-1zM41.0 678.0h1v1h-1zM44.0 677.8h1v1h-1zM41.9 681.5h1v1h-1zM45.0 676.4h1v1h-1zM43.6 683.4h1v1h-1zM45.0 679.3h1v1h-1zM41.4 679.2h1v1h-1zM40.3 679.3h1v1h-1zM42.2 679.5h1v1h-1zM45.0 679.4h1v1h-1zM39.7 681.8h1v1h-1zM40.5 679.0h1v1h-1zM42.3 679.1h1v1h-1zM40.6 679.3h1v1h-1zM47.0 678.6h1v1h-1zM42.3 681.9h1v1h-1zM44.1 681.3h1v1h-1zM44.3 676.1h1v1h-1zM40.9 680.0h1v1h-1zM43.6 682.3h1v1h-1zM43.5 679.3h1v1h-1zM42.7 679.4h1v1h-1zM43.1 681.1h1v1h-1zM41.9 678.3h1v1h-1zM40.9 681.9h1v1h-1zM45.2 681.7h1v1h-1zM44.3 681.4h1v1h-1zM42.6 681.1h1v1h-1zM40.5 679.4h1v1h-1zM41.1 681.2h1v1h-1zM41.4 679.6h1v1h-1zM43.4 682.4h1v1h-1zM41.0 678.0h1v1h-1zM44.2 677.7h1v1h-1zM43.5 678.7h1v1h-1zM42.4 676.3h1v1h-1zM44.0 678.8h1v1h-1zM40.8 683.7h1v1h-1zM43.4 679.1h1v1h-1zM42.8 682.9h1v1h-1zM42.5 680.7h1v1h-1zM43.6 678.1h1v1h-1zM42.9 678.8h1v1h-1zM40.1 681.5h1v1h-1zM43.9 679.9h1v1h-1zM40.8 676.0h1v1h-1zM43.6 679.6h1v1h-1zM39.2 679.7h1v1h-1zM39.6 679.7h1v1h-1zM42.9 680.5h1v1h-1zM43.0 680.1h1v1h-1zM40.3 679.1h1v1h-1zM41.6 679.4h1v1h-1zM43.1 681.0h1v1h-1zM45.9 674.9h1v1h-1zM43.4 679.4h1v1h-1zM47.2 681.6h1v1h-1zM39.3 680.6h1v1h-1zM41.6 681.7h1v1h-1zM40.5 679.6h1v1h-1zM42.3 679.6h1v1h-1zM41.4 676.3h1v1h-1zM43.5 681.7h1v1h-1zM42.5 677.9h1v1h-1zM43.0 680.9h1v1h-1zM42.2 679.8h1v1h-1zM45.4 677.7h1v1h-1zM41.5 676.2h1v1h-1zM41.2 678.4h1v1h-1zM40.7 678.5h1v1h-1zM46.2 679.4h1v1h-1zM42.4 684.0h1v1h-1zM42.5 676.5h1v1h-1zM43.4 678.0h1v1h-1zM45.9 677.4h1v1h-1zM41.4 676.7h1v1h-1zM42.8 677.9h1v1h-1zM42.5 679.1h1v1h-1zM41.4 681.6h1v1h-1zM44.5 679.9h1v1h-1zM40.8 677.8h1v1h-1zM43.1 684.3h1v1h-1zM41.7 678.3h1v1h-1zM41.2 677.7h1v1h-1zM40.7 679.4h1v1h-1zM45.5 679.8h1v1h-1zM41.6 676.7h1v1h-1zM43.0 679.7h1v1h-1zM40.1 677.7h1v1h-1zM42.5 681.7h1v1h-1zM43.9 680.2h1v1h-1zM42.0 680.4h1v1h-1zM42.6 683.9h1v1h-1zM40.3 679.1h1v1h-1zM45.1 679.3h1v1h-1zM45.4 679.7h1v1h-1zM42.9 679.1h1v1h-1zM39.8 678.0h1v1h-1zM47.0 681.0h1v1h-1zM43.8 681.6h1v1h-1zM43.7 681.7h1v1h-1zM42.1 679.4h1v1h-1zM44.6 679.1h1v1h-1zM39.9 679.4h1v1h-1zM41.5 681.0h1v1h-1zM41.2 677.8h1v1h-1zM41.9 682.8h1v1h-1zM42.5 680.1h1v1h-1zM42.6 680.4h1v1h-1zM44.5 682.5h1v1h-1zM39.3 682.4h1v1h-1zM42.6 679.2h1v1h-1zM47.4 679.5h1v1h-1zM46.5 681.6h1v1h-1zM40.5 680.7h1v1h-1zM44.1 679.6h1v1h-1zM37.9 679.1h1v1h-1zM42.2 677.7h1v1h-1zM46.3 679.3h1v1h-1zM41.8 679.2h1v1h-1zM41.0 678.3h1v1h-1zM42.8 680.4h1v1h-1zM41.6 679.6h1v1h-1zM39.8 680.8h1v1h-1zM41.1 680.2h1v1h-1zM40.8 678.8h1v1h-1zM43.0 677.5h1v1h-1zM47.5 679.7h1v1h-1zM42.5 678.4h1v1h-1zM45.8 682.4h1v1h-1zM43.2 677.2h1v1h-1zM41.6 681.0h1v1h-1zM41.6 677.6h1v1h-1zM40.2 678.3h1v1h-1zM42.6 678.6h1v1h-1zM42.6 685.1h1v1h-1zM46.1 677.8h1v1h-1zM43.3 680.0h1v1h-1zM42.3 681.8h1v1h-1zM41.9 679.2h1v1h-1zM41.9 679.6h1v1h-1zM45.2 681.3h1v1h-1zM39.9 679.0h1v1h-1zM41.0 681.4h1v1h-1zM43.0 681.5h1v1h-1zM42.5 676.2h1v1h-1zM43.5 680.2h1v1h-1zM43.6 677.3h1v1h-1zM42.8 678.5h1v1h-1zM41.2 680.5h1v1h-1zM43.3 678.1h1v1h-1zM37.1 672.9h0.8v0.8h-0.8zM40.8 682.9h0.8v0.8h-0.8zM42.4 673.5h0.8v0.8h-0.8zM39.8 681.0h0.8v0.8h-0.8zM48.0 683.1h0.8v0.8h-0.8zM43.8 680.4h0.8v0.8h-0.8zM39.2 678.5h0.8v0.8h-0.8zM41.5 677.6h0.8v0.8h-0.8zM42.8 678.7h0.8v0.8h-0.8zM43.7 683.8h0.8v0.8h-0.8zM45.0 681.0h0.8v0.8h-0.8zM41.8 675.5h0.8v0.8h-0.8zM42.2 681.3h0.8v0.8h-0.8zM39.4 683.3h0.8v0.8h-0.8zM41.5 680.8h0.8v0.8h-0.8zM41.5 676.3h0.8v0.8h-0.8zM49.2 676.5h0.8v0.8h-0.8zM45.5 678.2h0.8v0.8h-0.8zM43.5 677.5h0.8v0.8h-0.8zM41.3 682.4h0.8v0.8h-0.8zM48.8 677.4h0.8v0.8h-0.8zM42.6 682.5h0.8v0.8h-0.8zM40.6 681.8h0.8v0.8h-0.8zM40.1 681.5h0.8v0.8h-0.8zM44.0 683.2h0.8v0.8h-0.8zM43.8 676.5h0.8v0.8h-0.8zM44.7 676.7h0.8v0.8h-0.8zM45.0 684.0h0.8v0.8h-0.8zM44.5 678.3h0.8v0.8h-0.8zM46.4 680.3h0.8v0.8h-0.8zM38.6 678.8h0.8v0.8h-0.8zM47.1 678.9h0.8v0.8h-0.8zM43.0 678.8h0.8v0.8h-0.8zM37.2 678.4h0.8v0.8h-0.8zM43.7 680.4h0.8v0.8h-0.8zM42.0 673.8h0.8v0.8h-0.8zM46.5 681.8h0.8v0.8h-0.8zM45.9 683.4h0.8v0.8h-0.8zM41.2 678.1h0.8v0.8h-0.8zM43.6 684.5h0.8v0.8h-0.8zM37.2 679.2h0.8v0.8h-0.8zM40.3 681.4h0.8v0.8h-0.8zM47.3 679.0h0.8v0.8h-0.8zM38.6 679.9h0.8v0.8h-0.8zM41.7 675.5h0.8v0.8h-0.8zM45.4 678.3h0.8v0.8h-0.8zM44.8 676.1h0.8v0.8h-0.8zM46.1 675.8h0.8v0.8h-0.8zM46.0 674.7h0.8v0.8h-0.8zM47.0 678.8h0.8v0.8h-0.8zM37.6 679.1h0.8v0.8h-0.8zM43.7 677.0h0.8v0.8h-0.8zM41.0 680.6h0.8v0.8h-0.8zM42.1 671.2h0.8v0.8h-0.8zM41.2 681.0h0.8v0.8h-0.8zM43.6 682.6h0.8v0.8h-0.8zM45.2 680.7h0.8v0.8h-0.8zM46.1 682.5h0.8v0.8h-0.8zM42.9 678.1h0.8v0.8h-0.8zM45.9 681.0h0.8v0.8h-0.8zM44.1 680.1h0.8v0.8h-0.8zM43.5 681.6h0.8v0.8h-0.8zM43.1 684.2h0.8v0.8h-0.8zM40.7 678.7h0.8v0.8h-0.8zM43.6 681.9h0.8v0.8h-0.8zM45.1 684.0h0.8v0.8h-0.8zM41.1 683.1h0.8v0.8h-0.8zM44.1 676.9h0.8v0.8h-0.8zM42.2 685.6h0.8v0.8h-0.8zM45.1 678.5h0.8v0.8h-0.8zM40.4 680.0h0.8v0.8h-0.8zM50.0 681.9h0.8v0.8h-0.8zM43.6 677.2h0.8v0.8h-0.8zM38.8 679.2h0.8v0.8h-0.8zM41.3 678.1h0.8v0.8h-0.8zM46.2 680.0h0.8v0.8h-0.8zM38.6 683.4h0.8v0.8h-0.8zM41.6 676.1h0.8v0.8h-0.8zM43.6 681.2h0.8v0.8h-0.8zM41.5 681.8h0.8v0.8h-0.8zM45.2 677.3h0.8v0.8h-0.8zM42.2 683.2h0.8v0.8h-0.8zM45.8 683.7h0.8v0.8h-0.8zM48.5 679.8h0.8v0.8h-0.8zM46.0 675.5h0.8v0.8h-0.8zM44.8 680.9h0.8v0.8h-0.8zM42.3 678.6h0.8v0.8h-0.8zM39.0 680.2h0.8v0.8h-0.8zM46.7 678.8h0.8v0.8h-0.8zM44.3 677.9h0.8v0.8h-0.8zM43.4 677.0h0.8v0.8h-0.8zM43.8 679.2h0.8v0.8h-0.8zM43.6 678.1h0.8v0.8h-0.8zM38.8 678.9h0.8v0.8h-0.8zM45.9 684.2h0.8v0.8h-0.8zM41.6 682.0h0.8v0.8h-0.8zM45.0 680.9h0.8v0.8h-0.8zM37.6 680.7h0.8v0.8h-0.8zM39.5 683.1h0.8v0.8h-0.8zM45.1 681.5h0.8v0.8h-0.8zM44.8 676.2h0.8v0.8h-0.8zM45.7 680.0h0.8v0.8h-0.8zM42.0 677.8h0.8v0.8h-0.8zM39.3 678.6h0.8v0.8h-0.8zM37.5 673.2h0.45v0.45h-0.45zM46.2 656.7h0.45v0.45h-0.45zM44.2 658.5h0.45v0.45h-0.45zM41.5 663.7h0.45v0.45h-0.45zM40.7 659.5h0.45v0.45h-0.45zM41.7 666.4h0.45v0.45h-0.45zM40.2 656.6h0.45v0.45h-0.45zM45.4 659.3h0.45v0.45h-0.45zM47.8 664.2h0.45v0.45h-0.45zM45.4 659.4h0.45v0.45h-0.45zM46.5 654.3h0.45v0.45h-0.45zM38.9 654.4h0.45v0.45h-0.45zM44.9 667.3h0.45v0.45h-0.45zM39.4 660.8h0.45v0.45h-0.45zM46.6 664.8h0.45v0.45h-0.45zM38.4 657.2h0.45v0.45h-0.45zM39.1 655.0h0.45v0.45h-0.45zM41.9 653.9h0.45v0.45h-0.45zM47.5 661.4h0.45v0.45h-0.45zM43.0 666.0h0.45v0.45h-0.45zM45.8 669.6h0.45v0.45h-0.45zM41.6 659.4h0.45v0.45h-0.45zM41.9 652.7h0.45v0.45h-0.45zM41.8 667.1h0.45v0.45h-0.45zM48.2 669.0h0.45v0.45h-0.45zM44.7 665.2h0.45v0.45h-0.45zM37.6 659.4h0.45v0.45h-0.45zM41.2 666.1h0.45v0.45h-0.45zM38.6 660.3h0.45v0.45h-0.45zM43.0 669.0h0.45v0.45h-0.45zM46.5 665.2h0.45v0.45h-0.45zM39.1 668.5h0.45v0.45h-0.45zM47.3 663.9h0.45v0.45h-0.45zM41.3 662.9h0.45v0.45h-0.45zM39.0 667.4h0.45v0.45h-0.45zM45.0 662.8h0.45v0.45h-0.45zM40.2 652.3h0.45v0.45h-0.45zM43.8 677.1h0.45v0.45h-0.45zM40.0 660.5h0.45v0.45h-0.45zM43.3 665.6h0.45v0.45h-0.45zM37.3 659.1h0.45v0.45h-0.45zM38.1 675.5h0.45v0.45h-0.45zM39.2 668.5h0.45v0.45h-0.45zM47.2 674.8h0.45v0.45h-0.45zM45.7 673.2h0.45v0.45h-0.45zM37.7 661.3h0.45v0.45h-0.45zM39.2 661.7h0.45v0.45h-0.45zM49.3 653.3h0.45v0.45h-0.45zM43.1 656.0h0.45v0.45h-0.45zM45.4 671.2h0.45v0.45h-0.45zM39.9 675.8h0.45v0.45h-0.45zM41.6 671.2h0.45v0.45h-0.45zM42.3 660.0h0.45v0.45h-0.45zM40.3 662.7h0.45v0.45h-0.45zM43.3 664.2h0.45v0.45h-0.45zM48.5 662.2h0.45v0.45h-0.45zM40.0 659.1h0.45v0.45h-0.45zM39.1 654.8h0.45v0.45h-0.45zM38.4 668.8h0.45v0.45h-0.45zM41.6 662.4h0.45v0.45h-0.45zM42.5 669.8h0.45v0.45h-0.45zM43.2 668.0h0.45v0.45h-0.45zM39.7 661.8h0.45v0.45h-0.45zM39.1 662.8h0.45v0.45h-0.45zM38.9 661.2h0.45v0.45h-0.45zM59.3 658.9h0.45v0.45h-0.45zM58.9 658.3h0.45v0.45h-0.45zM66.7 658.6h0.45v0.45h-0.45zM55.1 659.7h0.45v0.45h-0.45zM54.8 657.2h0.45v0.45h-0.45zM60.6 656.0h0.45v0.45h-0.45zM44.1 659.9h0.45v0.45h-0.45zM65.4 656.0h0.45v0.45h-0.45zM55.7 660.5h0.45v0.45h-0.45zM50.3 657.6h0.45v0.45h-0.45zM54.2 658.9h0.45v0.45h-0.45zM50.3 661.1h0.45v0.45h-0.45zM59.5 659.9h0.45v0.45h-0.45zM58.6 655.1h0.45v0.45h-0.45zM59.4 656.6h0.45v0.45h-0.45zM60.3 657.6h0.45v0.45h-0.45zM58.6 658.9h0.45v0.45h-0.45zM64.1 660.8h0.45v0.45h-0.45zM55.2 659.3h0.45v0.45h-0.45zM67.5 660.3h0.45v0.45h-0.45zM56.6 659.1h0.45v0.45h-0.45zM58.5 661.2h0.45v0.45h-0.45zM60.4 660.1h0.45v0.45h-0.45zM71.3 656.5h0.45v0.45h-0.45zM55.1 655.8h0.45v0.45h-0.45zM52.2 661.0h0.45v0.45h-0.45zM61.7 662.6h0.45v0.45h-0.45zM50.3 657.5h0.45v0.45h-0.45zM67.4 661.4h0.45v0.45h-0.45zM64.6 661.0h0.45v0.45h-0.45zM60.4 659.3h0.45v0.45h-0.45zM60.4 661.0h0.45v0.45h-0.45zM59.4 659.9h0.45v0.45h-0.45zM67.5 657.0h0.45v0.45h-0.45zM56.4 660.4h0.45v0.45h-0.45zM58.9 659.0h0.45v0.45h-0.45zM70.7 660.1h0.45v0.45h-0.45zM58.1 661.5h0.45v0.45h-0.45zM72.8 657.1h0.45v0.45h-0.45zM56.8 659.5h0.45v0.45h-0.45zM57.0 663.6h0.45v0.45h-0.45zM62.8 658.5h0.45v0.45h-0.45zM62.7 657.7h0.45v0.45h-0.45zM57.2 659.5h0.45v0.45h-0.45zM72.1 654.8h0.45v0.45h-0.45zM62.3 662.0h0.45v0.45h-0.45zM63.9 663.1h0.45v0.45h-0.45zM62.5 659.6h0.45v0.45h-0.45zM59.5 657.6h0.45v0.45h-0.45zM68.4 656.9h0.45v0.45h-0.45zM59.6 658.3h0.45v0.45h-0.45zM56.3 654.9h0.45v0.45h-0.45zM58.3 659.6h0.45v0.45h-0.45zM60.9 661.0h0.45v0.45h-0.45zM59.4 658.0h0.45v0.45h-0.45zM61.7 660.6h0.45v0.45h-0.45zM55.7 656.3h0.45v0.45h-0.45zM55.1 661.4h0.45v0.45h-0.45zM65.2 657.5h0.45v0.45h-0.45zM60.8 661.0h0.45v0.45h-0.45zM66.8 658.0h0.45v0.45h-0.45zM59.0 662.1h0.45v0.45h-0.45zM72.3 662.4h0.45v0.45h-0.45zM54.5 660.2h0.45v0.45h-0.45zM58.7 659.2h0.45v0.45h-0.45zM56.9 658.3h0.45v0.45h-0.45zM60.1 662.9h0.45v0.45h-0.45zM63.7 660.2h0.45v0.45h-0.45zM60.3 657.8h0.45v0.45h-0.45zM59.1 661.8h0.45v0.45h-0.45zM64.4 663.2h0.45v0.45h-0.45zM61.5 659.3h0.45v0.45h-0.45zM52.1 660.1h0.45v0.45h-0.45zM51.6 662.4h0.45v0.45h-0.45zM57.1 659.3h0.45v0.45h-0.45zM53.4 658.3h0.45v0.45h-0.45zM55.5 661.6h0.45v0.45h-0.45zM61.4 656.9h0.45v0.45h-0.45zM50.5 659.2h0.45v0.45h-0.45zM57.8 657.1h0.45v0.45h-0.45zM72.2 653.1h0.45v0.45h-0.45zM68.1 652.9h0.45v0.45h-0.45zM64.0 654.3h0.45v0.45h-0.45zM60.0 665.6h0.45v0.45h-0.45zM68.3 666.0h0.45v0.45h-0.45zM55.1 659.7h0.45v0.45h-0.45zM54.7 661.6h0.45v0.45h-0.45zM61.4 650.1h0.45v0.45h-0.45zM63.7 664.4h0.45v0.45h-0.45zM63.1 667.7h0.45v0.45h-0.45zM53.7 652.6h0.45v0.45h-0.45zM49.8 659.8h0.45v0.45h-0.45zM59.8 658.7h0.45v0.45h-0.45zM55.7 666.2h0.45v0.45h-0.45zM51.1 668.5h0.45v0.45h-0.45zM63.1 660.8h0.45v0.45h-0.45zM68.4 654.4h0.45v0.45h-0.45zM52.9 655.9h0.45v0.45h-0.45zM50.4 656.0h0.45v0.45h-0.45zM64.3 660.4h0.45v0.45h-0.45zM55.8 661.8h0.45v0.45h-0.45zM51.5 666.6h0.45v0.45h-0.45zM53.5 654.8h0.45v0.45h-0.45zM53.2 663.9h0.45v0.45h-0.45zM69.3 665.9h0.45v0.45h-0.45zM50.6 678.9h0.45v0.45h-0.45zM56.3 676.8h0.45v0.45h-0.45zM67.8 674.9h0.45v0.45h-0.45zM58.7 682.8h0.45v0.45h-0.45zM68.1 676.0h0.45v0.45h-0.45zM58.1 682.6h0.45v0.45h-0.45zM50.1 677.0h0.45v0.45h-0.45zM66.3 676.0h0.45v0.45h-0.45zM56.9 677.7h0.45v0.45h-0.45zM57.5 675.2h0.45v0.45h-0.45z"/>
<line x1="49.3" y1="635" x2="49.3" y2="686.8" stroke="#555" stroke-width="0.9"/>
<line x1="36.4" y1="673.5" x2="87" y2="673.5" stroke="#555" stroke-width="0.9"/>
<text x="36.7" y="639.54" font-size="4.3" font-weight="bold" fill="#111">B1</text>
<text x="50" y="639.54" font-size="4.3" font-weight="bold" fill="#111">B2</text>
<text x="36.7" y="678.04" font-size="4.3" font-weight="bold" fill="#111">B3</text>
<text x="50" y="678.04" font-size="4.3" font-weight="bold" fill="#111">B4</text>
<text x="48.7" y="645.94" font-size="4.3" text-anchor="end" font-weight="bold" fill="#111" textLength="8.4" lengthAdjust="spacingAndGlyphs">4.4%</text>
<text x="50.9" y="645.94" font-size="4.3" font-weight="bold" fill="#111" textLength="8.4" lengthAdjust="spacingAndGlyphs">8.8%</text>
<text x="48.7" y="683.24" font-size="4.3" text-anchor="end" font-weight="bold" fill="#111" textLength="10.5" lengthAdjust="spacingAndGlyphs">86.3%</text>
<text x="50.9" y="683.24" font-size="4.3" font-weight="bold" fill="#111" textLength="8.4" lengthAdjust="spacingAndGlyphs">0.5%</text>
<text x="32.4" y="636.86" font-size="3.8" text-anchor="middle" fill="#444">10<tspan font-size="2.6" dy="-1.3">4</tspan></text>
<text x="32.4" y="649.69" font-size="3.8" text-anchor="middle" fill="#444">10<tspan font-size="2.6" dy="-1.3">3</tspan></text>
<text x="32.4" y="662.53" font-size="3.8" text-anchor="middle" fill="#444">10<tspan font-size="2.6" dy="-1.3">2</tspan></text>
<text x="32.4" y="675.36" font-size="3.8" text-anchor="middle" fill="#444">10<tspan font-size="2.6" dy="-1.3">1</tspan></text>
<text x="50.9" y="690.76" font-size="3.8" text-anchor="middle" fill="#444">10<tspan font-size="2.6" dy="-1.3">0</tspan></text>
<text x="62.53" y="690.76" font-size="3.8" text-anchor="middle" fill="#444">10<tspan font-size="2.6" dy="-1.3">1</tspan></text>
<text x="74.17" y="690.76" font-size="3.8" text-anchor="middle" fill="#444">10<tspan font-size="2.6" dy="-1.3">2</tspan></text>
<text x="85.8" y="690.76" font-size="3.8" text-anchor="middle" fill="#444">10<tspan font-size="2.6" dy="-1.3">3</tspan></text>
<text x="57.28" y="631.21" font-size="8.4" text-anchor="middle" fill="#222" letter-spacing="0.55">siCtrl</text>
<text x="25.8" y="660.9" font-size="8.4" text-anchor="middle" fill="#222" transform="rotate(-90 25.8 660.9)">P I</text>
<text x="59.42" y="699.98" font-size="8.6" text-anchor="middle" fill="#222" letter-spacing="0.25">Annexin V</text>
<rect x="101" y="631.9" width="60" height="59.4" fill="#f7f7f7"/>
<rect x="109" y="634.5" width="50.6" height="51.8" fill="#f8f8f8" stroke="#999" stroke-width="0.6"/>
<ellipse cx="115.8" cy="680.4" rx="3.38" ry="3.51" fill="#f01010"/>
<path fill="#f00a0a" fill-opacity="0.8" d="M111.6 680.6h1v1h-1zM114.7 678.7h1v1h-1zM117.9 680.2h1v1h-1zM114.7 684.9h1v1h-1zM114.1 676.6h1v1h-1zM111.8 678.6h1v1h-1zM117.1 682.3h1v1h-1zM118.4 685.0h1v1h-1zM119.9 681.8h1v1h-1zM118.9 681.9h1v1h-1zM114.0 682.3h1v1h-1zM115.7 679.6h1v1h-1zM120.8 682.2h1v1h-1zM114.3 679.9h1v1h-1zM121.7 679.5h1v1h-1zM117.5 681.8h1v1h-1zM116.9 681.8h1v1h-1zM114.3 678.9h1v1h-1zM115.1 679.2h1v1h-1zM117.7 684.4h1v1h-1zM113.2 681.6h1v1h-1zM113.0 678.3h1v1h-1zM114.9 680.4h1v1h-1zM114.4 673.0h1v1h-1zM119.2 679.4h1v1h-1zM113.9 682.0h1v1h-1zM114.0 676.2h1v1h-1zM116.8 681.3h1v1h-1zM113.4 682.4h1v1h-1zM116.5 677.0h1v1h-1zM120.2 680.9h1v1h-1zM112.6 681.4h1v1h-1zM115.9 682.8h1v1h-1zM112.0 683.0h1v1h-1zM118.0 682.1h1v1h-1zM117.2 683.7h1v1h-1zM117.4 680.5h1v1h-1zM113.3 683.2h1v1h-1zM118.1 681.0h1v1h-1zM115.9 682.1h1v1h-1zM118.3 685.3h1v1h-1zM114.3 681.3h1v1h-1zM115.3 674.0h1v1h-1zM117.5 680.1h1v1h-1zM115.7 677.6h1v1h-1zM115.4 680.4h1v1h-1zM118.9 680.9h1v1h-1zM124.7 679.0h1v1h-1zM114.8 680.0h1v1h-1zM113.4 684.3h1v1h-1zM117.2 676.6h1v1h-1zM115.8 683.3h1v1h-1zM111.8 680.5h1v1h-1zM116.6 679.0h1v1h-1zM114.0 685.3h1v1h-1zM111.4 679.6h1v1h-1zM114.9 678.2h1v1h-1zM115.0 682.0h1v1h-1zM113.8 676.2h1v1h-1zM119.1 684.1h1v1h-1zM113.7 681.0h1v1h-1zM112.0 678.6h1v1h-1zM121.2 676.7h1v1h-1zM115.6 677.2h1v1h-1zM110.6 676.9h1v1h-1zM116.2 676.6h1v1h-1zM114.0 682.1h1v1h-1zM115.1 676.5h1v1h-1zM119.5 680.5h1v1h-1zM119.2 677.3h1v1h-1zM120.0 676.4h1v1h-1zM110.9 679.0h1v1h-1zM114.5 680.8h1v1h-1zM114.0 681.9h1v1h-1zM119.0 678.3h1v1h-1zM111.9 679.0h1v1h-1zM117.7 682.4h1v1h-1zM114.6 677.4h1v1h-1zM115.5 682.8h1v1h-1zM113.6 683.7h1v1h-1zM116.1 680.9h1v1h-1zM113.9 683.8h1v1h-1zM115.6 676.0h1v1h-1zM117.7 679.0h1v1h-1zM118.4 680.6h1v1h-1zM113.9 680.6h1v1h-1zM114.2 677.9h1v1h-1zM115.6 682.4h1v1h-1zM115.7 679.9h1v1h-1zM114.1 681.7h1v1h-1zM116.2 682.7h1v1h-1zM111.4 680.0h1v1h-1zM116.9 682.6h1v1h-1zM111.5 676.8h1v1h-1zM115.4 683.0h1v1h-1zM118.4 676.0h1v1h-1zM115.9 683.3h1v1h-1zM115.6 677.3h1v1h-1zM113.6 676.5h1v1h-1zM118.7 679.4h1v1h-1zM114.4 677.7h1v1h-1zM115.1 677.6h1v1h-1zM112.9 680.0h1v1h-1zM114.9 681.4h1v1h-1zM115.9 683.3h1v1h-1zM115.4 680.8h1v1h-1zM116.1 677.9h1v1h-1zM118.6 678.6h1v1h-1zM111.3 683.5h1v1h-1zM117.2 678.6h1v1h-1zM118.0 682.7h1v1h-1zM117.4 676.9h1v1h-1zM116.0 677.3h1v1h-1zM113.9 678.6h1v1h-1zM113.3 681.5h1v1h-1zM113.4 681.8h1v1h-1zM116.0 678.5h1v1h-1zM116.0 682.0h1v1h-1zM118.5 679.4h1v1h-1zM120.1 681.7h1v1h-1zM118.8 676.4h1v1h-1zM112.7 683.4h1v1h-1zM114.9 681.4h1v1h-1zM118.7 676.2h1v1h-1zM116.7 685.4h1v1h-1zM117.6 680.4h1v1h-1zM117.0 680.1h1v1h-1zM117.5 683.7h1v1h-1zM114.9 681.7h1v1h-1zM116.3 682.1h1v1h-1zM117.7 677.2h1v1h-1zM118.6 682.5h1v1h-1zM112.6 679.3h1v1h-1zM111.7 679.3h1v1h-1zM116.4 677.0h1v1h-1zM113.5 677.7h1v1h-1zM113.7 678.0h1v1h-1zM112.7 681.7h1v1h-1zM114.9 677.9h1v1h-1zM118.1 678.6h1v1h-1zM117.9 676.7h1v1h-1zM119.2 678.9h1v1h-1zM113.0 681.2h1v1h-1zM112.0 677.2h1v1h-1zM116.1 678.8h1v1h-1zM116.5 680.5h1v1h-1zM116.2 680.5h1v1h-1zM117.4 680.1h1v1h-1zM118.4 682.7h1v1h-1zM110.4 675.3h1v1h-1zM119.6 678.9h1v1h-1zM116.0 679.8h1v1h-1zM113.7 680.3h1v1h-1zM115.5 677.2h1v1h-1zM113.2 679.4h1v1h-1zM115.5 681.2h1v1h-1zM110.4 675.9h1v1h-1zM119.8 679.6h1v1h-1zM117.7 679.0h1v1h-1zM112.3 677.6h1v1h-1zM117.3 680.2h1v1h-1zM111.2 680.5h1v1h-1zM117.4 676.0h1v1h-1zM114.0 682.2h1v1h-1zM120.5 673.8h1v1h-1zM113.7 680.2h1v1h-1zM113.1 677.6h1v1h-1zM114.2 681.5h1v1h-1zM112.7 682.5h1v1h-1zM117.7 682.4h1v1h-1zM119.5 678.7h1v1h-1zM115.4 682.8h1v1h-1zM118.8 682.6h1v1h-1zM114.3 678.8h1v1h-1zM112.1 678.9h1v1h-1zM113.2 678.8h1v1h-1zM114.5 682.4h1v1h-1zM117.7 680.0h1v1h-1zM112.5 680.0h1v1h-1zM116.6 682.4h1v1h-1zM116.0 682.3h1v1h-1zM113.8 681.9h1v1h-1zM117.4 679.1h1v1h-1zM113.5 683.4h1v1h-1zM112.9 682.0h1v1h-1zM114.8 679.2h1v1h-1zM114.8 678.9h1v1h-1zM115.4 684.9h1v1h-1zM119.3 679.7h1v1h-1zM116.7 682.6h1v1h-1zM114.4 685.1h1v1h-1zM115.6 681.8h1v1h-1zM113.0 677.1h1v1h-1zM112.9 678.4h1v1h-1zM118.2 679.2h1v1h-1zM117.8 679.0h1v1h-1zM113.0 680.6h1v1h-1zM114.5 675.6h1v1h-1zM115.6 683.3h1v1h-1zM114.9 676.8h1v1h-1zM113.5 676.8h1v1h-1zM114.9 677.5h1v1h-1zM115.2 680.6h1v1h-1zM118.9 677.0h1v1h-1zM110.2 684.5h1v1h-1zM116.6 679.1h1v1h-1zM116.8 677.6h1v1h-1zM114.6 681.9h1v1h-1zM114.7 680.5h1v1h-1zM116.6 680.4h1v1h-1zM114.9 681.5h1v1h-1zM118.9 683.5h1v1h-1zM113.2 682.2h1v1h-1zM110.5 676.3h1v1h-1zM116.5 681.5h1v1h-1zM119.0 675.4h1v1h-1zM118.3 678.6h1v1h-1zM114.3 681.3h1v1h-1zM119.1 677.6h1v1h-1zM111.0 678.5h1v1h-1zM115.2 683.3h1v1h-1zM116.4 679.3h1v1h-1zM114.2 678.8h1v1h-1zM118.0 675.6h1v1h-1zM113.7 677.7h1v1h-1zM118.4 680.4h1v1h-1zM113.7 682.1h1v1h-1zM120.6 682.8h1v1h-1zM112.1 679.5h1v1h-1zM118.4 675.2h1v1h-1zM112.3 679.0h1v1h-1zM116.8 677.9h1v1h-1zM115.9 679.6h1v1h-1zM116.3 676.8h1v1h-1zM109.7 674.3h1v1h-1zM115.9 682.7h1v1h-1zM116.7 675.7h1v1h-1zM110.9 679.3h1v1h-1zM113.1 675.1h1v1h-1zM114.0 677.9h1v1h-1zM115.2 681.1h1v1h-1zM115.9 680.6h1v1h-1zM116.8 679.8h1v1h-1zM114.3 679.1h1v1h-1zM118.5 679.3h1v1h-1zM117.6 684.5h1v1h-1zM120.0 674.3h1v1h-1zM115.8 682.7h1v1h-1zM114.3 678.1h1v1h-1zM111.7 678.2h1v1h-1zM115.4 675.0h1v1h-1zM115.4 677.8h1v1h-1zM115.5 677.1h1v1h-1zM115.7 680.5h1v1h-1zM113.6 678.2h1v1h-1zM117.9 681.7h1v1h-1zM113.4 681.2h1v1h-1zM112.4 678.6h1v1h-1zM117.2 678.7h1v1h-1zM117.0 678.3h1v1h-1zM116.2 679.6h1v1h-1zM112.9 685.7h1v1h-1zM113.2 676.4h1v1h-1zM115.8 681.3h1v1h-1zM116.3 679.8h1v1h-1zM116.6 682.6h1v1h-1zM117.1 676.3h1v1h-1zM119.9 680.0h1v1h-1zM110.1 682.3h1v1h-1zM115.1 680.8h1v1h-1zM120.6 678.6h1v1h-1zM113.8 677.4h1v1h-1zM115.9 681.8h1v1h-1zM116.5 680.5h1v1h-1zM109.9 680.8h1v1h-1zM118.2 678.7h1v1h-1zM114.0 677.3h1v1h-1zM116.1 675.8h1v1h-1zM120.4 679.5h1v1h-1zM113.9 676.8h1v1h-1zM116.8 682.7h1v1h-1zM114.0 680.5h1v1h-1zM116.2 682.7h1v1h-1zM117.0 683.4h1v1h-1zM114.1 677.0h1v1h-1zM113.0 681.1h1v1h-1zM118.6 678.0h1v1h-1zM114.5 678.8h1v1h-1zM113.9 679.6h1v1h-1zM113.8 683.2h1v1h-1zM116.3 681.7h1v1h-1zM115.0 676.9h1v1h-1zM116.6 679.0h1v1h-1zM120.6 683.4h1v1h-1zM112.3 677.4h1v1h-1zM114.0 679.5h1v1h-1zM118.4 679.6h1v1h-1zM116.6 679.2h1v1h-1zM114.9 683.4h1v1h-1zM115.5 685.4h1v1h-1zM115.3 681.1h1v1h-1zM116.5 681.8h1v1h-1zM120.5 678.2h1v1h-1zM114.1 677.5h1v1h-1zM120.1 681.3h1v1h-1zM116.6 681.3h1v1h-1zM110.6 682.1h1v1h-1zM115.8 680.9h1v1h-1zM115.7 679.8h1v1h-1zM115.3 678.5h1v1h-1zM114.9 681.8h1v1h-1zM110.0 682.3h1v1h-1zM117.1 677.2h1v1h-1zM116.8 680.9h1v1h-1zM114.1 684.6h1v1h-1zM115.9 679.7h1v1h-1zM116.0 680.9h1v1h-1zM114.9 685.6h1v1h-1zM115.1 684.3h1v1h-1zM118.2 682.7h1v1h-1zM117.1 683.2h1v1h-1zM115.1 674.5h1v1h-1zM110.1 683.7h1v1h-1zM123.5 675.0h1v1h-1zM117.0 681.3h1v1h-1zM113.6 674.7h1v1h-1zM115.2 684.6h1v1h-1zM115.0 680.0h0.8v0.8h-0.8zM115.8 680.2h0.8v0.8h-0.8zM112.0 673.7h0.8v0.8h-0.8zM118.9 678.2h0.8v0.8h-0.8zM113.5 675.2h0.8v0.8h-0.8zM114.8 678.6h0.8v0.8h-0.8zM117.2 678.7h0.8v0.8h-0.8zM109.7 681.8h0.8v0.8h-0.8zM115.1 673.5h0.8v0.8h-0.8zM114.1 682.7h0.8v0.8h-0.8zM115.2 678.9h0.8v0.8h-0.8zM117.8 677.8h0.8v0.8h-0.8zM112.7 681.9h0.8v0.8h-0.8zM114.8 677.9h0.8v0.8h-0.8zM116.4 681.0h0.8v0.8h-0.8zM119.2 683.6h0.8v0.8h-0.8zM115.8 680.0h0.8v0.8h-0.8zM111.8 680.8h0.8v0.8h-0.8zM114.0 683.0h0.8v0.8h-0.8zM118.7 682.3h0.8v0.8h-0.8zM115.3 681.2h0.8v0.8h-0.8zM113.1 670.2h0.8v0.8h-0.8zM118.0 674.7h0.8v0.8h-0.8zM115.7 681.7h0.8v0.8h-0.8zM121.4 679.5h0.8v0.8h-0.8zM115.0 678.1h0.8v0.8h-0.8zM116.7 675.8h0.8v0.8h-0.8zM117.7 681.3h0.8v0.8h-0.8zM120.9 679.0h0.8v0.8h-0.8zM116.8 680.8h0.8v0.8h-0.8zM115.4 676.7h0.8v0.8h-0.8zM113.2 680.3h0.8v0.8h-0.8zM117.4 683.7h0.8v0.8h-0.8zM113.1 681.0h0.8v0.8h-0.8zM117.9 683.1h0.8v0.8h-0.8zM116.5 680.8h0.8v0.8h-0.8zM114.1 680.2h0.8v0.8h-0.8zM114.7 674.0h0.8v0.8h-0.8zM112.7 671.7h0.8v0.8h-0.8zM117.5 683.2h0.8v0.8h-0.8zM114.1 680.7h0.8v0.8h-0.8zM116.1 679.2h0.8v0.8h-0.8zM121.4 679.4h0.8v0.8h-0.8zM116.8 679.9h0.8v0.8h-0.8zM123.5 674.4h0.8v0.8h-0.8zM116.3 675.5h0.8v0.8h-0.8zM112.7 676.8h0.8v0.8h-0.8zM118.6 676.3h0.8v0.8h-0.8zM111.5 679.0h0.8v0.8h-0.8zM111.7 676.6h0.8v0.8h-0.8zM121.8 677.8h0.8v0.8h-0.8zM112.3 684.9h0.8v0.8h-0.8zM115.9 684.0h0.8v0.8h-0.8zM117.4 680.9h0.8v0.8h-0.8zM117.7 684.4h0.8v0.8h-0.8zM117.9 683.9h0.8v0.8h-0.8zM118.5 677.5h0.8v0.8h-0.8zM116.3 684.7h0.8v0.8h-0.8zM111.8 682.0h0.8v0.8h-0.8zM118.0 684.8h0.8v0.8h-0.8zM125.6 675.4h0.8v0.8h-0.8zM124.5 681.1h0.8v0.8h-0.8zM123.2 685.2h0.8v0.8h-0.8zM116.1 677.4h0.8v0.8h-0.8zM114.3 675.6h0.8v0.8h-0.8zM110.0 681.5h0.8v0.8h-0.8zM109.8 681.4h0.8v0.8h-0.8zM115.3 679.7h0.8v0.8h-0.8zM111.4 675.8h0.8v0.8h-0.8zM118.7 676.8h0.8v0.8h-0.8zM113.2 679.5h0.8v0.8h-0.8zM123.3 682.9h0.8v0.8h-0.8zM118.2 682.4h0.8v0.8h-0.8zM114.7 679.4h0.8v0.8h-0.8zM113.5 681.4h0.8v0.8h-0.8zM124.5 683.1h0.8v0.8h-0.8zM120.1 683.2h0.8v0.8h-0.8zM113.3 677.8h0.8v0.8h-0.8zM109.7 678.1h0.8v0.8h-0.8zM116.2 682.5h0.8v0.8h-0.8zM117.8 678.9h0.8v0.8h-0.8zM111.0 680.3h0.8v0.8h-0.8zM116.8 673.2h0.8v0.8h-0.8zM115.9 675.1h0.8v0.8h-0.8zM113.7 679.6h0.8v0.8h-0.8zM111.6 678.3h0.8v0.8h-0.8zM115.5 676.6h0.8v0.8h-0.8zM118.2 682.4h0.8v0.8h-0.8zM117.7 676.4h0.8v0.8h-0.8zM114.7 679.0h0.8v0.8h-0.8zM116.0 682.7h0.8v0.8h-0.8zM113.4 680.2h0.8v0.8h-0.8zM118.8 678.9h0.8v0.8h-0.8zM118.4 680.0h0.8v0.8h-0.8zM109.9 680.0h0.8v0.8h-0.8zM116.1 678.6h0.8v0.8h-0.8zM123.1 678.7h0.8v0.8h-0.8zM109.7 679.5h0.8v0.8h-0.8zM114.6 681.9h0.8v0.8h-0.8zM125.6 680.6h0.8v0.8h-0.8zM118.8 677.6h0.8v0.8h-0.8zM111.7 677.6h0.8v0.8h-0.8zM114.7 678.5h0.8v0.8h-0.8zM115.5 677.8h0.8v0.8h-0.8zM110.7 677.4h0.8v0.8h-0.8zM118.6 676.1h0.8v0.8h-0.8zM111.8 683.2h0.8v0.8h-0.8zM118.8 670.8h0.8v0.8h-0.8zM118.9 682.3h0.8v0.8h-0.8zM116.5 676.5h0.8v0.8h-0.8zM137.7 657.4h0.8v0.8h-0.8zM129.6 657.2h0.8v0.8h-0.8zM124.8 658.0h0.8v0.8h-0.8zM129.7 656.9h0.8v0.8h-0.8zM137.1 658.0h0.8v0.8h-0.8zM136.7 657.6h0.8v0.8h-0.8zM127.8 657.9h0.8v0.8h-0.8zM137.8 656.3h0.8v0.8h-0.8zM135.1 658.7h0.8v0.8h-0.8zM123.8 658.7h0.8v0.8h-0.8zM135.0 658.2h0.8v0.8h-0.8zM133.4 657.4h0.8v0.8h-0.8zM136.5 657.2h0.8v0.8h-0.8zM132.2 657.0h0.8v0.8h-0.8zM139.5 657.5h0.8v0.8h-0.8zM136.6 657.1h0.8v0.8h-0.8zM138.9 656.2h0.8v0.8h-0.8zM128.8 656.6h0.8v0.8h-0.8zM129.4 658.0h0.8v0.8h-0.8zM124.4 657.1h0.8v0.8h-0.8zM125.3 658.7h0.8v0.8h-0.8zM126.9 656.6h0.8v0.8h-0.8zM137.4 658.0h0.8v0.8h-0.8zM116.5 658.7h0.8v0.8h-0.8zM135.0 657.6h0.8v0.8h-0.8zM135.8 656.7h0.8v0.8h-0.8zM124.1 656.2h0.8v0.8h-0.8zM131.3 658.0h0.8v0.8h-0.8zM137.5 656.4h0.8v0.8h-0.8zM137.4 656.8h0.8v0.8h-0.8zM129.8 658.2h0.8v0.8h-0.8zM132.4 656.3h0.8v0.8h-0.8zM137.1 656.7h0.8v0.8h-0.8zM130.2 658.1h0.8v0.8h-0.8zM133.0 657.0h0.8v0.8h-0.8zM135.6 659.2h0.8v0.8h-0.8zM135.6 656.7h0.8v0.8h-0.8zM126.2 657.5h0.8v0.8h-0.8zM136.1 656.9h0.8v0.8h-0.8zM133.9 657.8h0.8v0.8h-0.8zM124.6 656.8h0.8v0.8h-0.8zM131.1 656.5h0.8v0.8h-0.8zM125.7 658.7h0.8v0.8h-0.8zM130.1 657.4h0.8v0.8h-0.8zM122.8 657.1h0.8v0.8h-0.8zM139.5 657.3h0.8v0.8h-0.8zM137.1 657.5h0.8v0.8h-0.8zM122.7 658.4h0.8v0.8h-0.8zM127.7 656.1h0.8v0.8h-0.8zM132.4 657.0h0.8v0.8h-0.8zM140.3 657.6h0.8v0.8h-0.8zM138.7 658.0h0.8v0.8h-0.8zM131.4 657.4h0.8v0.8h-0.8zM135.5 658.5h0.8v0.8h-0.8zM127.6 658.4h0.8v0.8h-0.8zM136.2 658.3h0.8v0.8h-0.8zM134.7 658.5h0.8v0.8h-0.8zM132.4 658.9h0.8v0.8h-0.8zM134.4 657.9h0.8v0.8h-0.8zM133.6 657.3h0.8v0.8h-0.8zM132.3 657.2h0.8v0.8h-0.8zM128.2 657.2h0.8v0.8h-0.8zM127.8 657.0h0.8v0.8h-0.8zM139.8 657.4h0.8v0.8h-0.8zM139.1 657.5h0.8v0.8h-0.8zM138.6 656.8h0.8v0.8h-0.8zM134.9 658.0h0.8v0.8h-0.8zM124.2 655.7h0.8v0.8h-0.8zM137.7 658.3h0.8v0.8h-0.8zM130.6 657.1h0.8v0.8h-0.8zM119.1 658.0h0.8v0.8h-0.8zM116.1 657.3h0.8v0.8h-0.8zM122.8 656.4h0.8v0.8h-0.8zM139.6 657.5h0.8v0.8h-0.8zM136.3 659.1h0.8v0.8h-0.8zM139.2 658.7h0.8v0.8h-0.8zM138.3 658.8h0.8v0.8h-0.8zM136.6 656.7h0.8v0.8h-0.8zM137.8 660.0h0.8v0.8h-0.8zM115.1 657.9h0.8v0.8h-0.8zM132.3 656.7h0.8v0.8h-0.8zM130.6 657.2h0.8v0.8h-0.8zM133.8 657.1h0.8v0.8h-0.8zM118.9 658.7h0.8v0.8h-0.8zM130.7 657.1h0.8v0.8h-0.8zM117.8 656.9h0.8v0.8h-0.8zM133.0 658.5h0.8v0.8h-0.8zM137.3 657.2h0.8v0.8h-0.8zM131.5 658.6h0.8v0.8h-0.8zM138.4 657.5h0.8v0.8h-0.8zM135.8 657.9h0.8v0.8h-0.8zM139.9 656.9h0.8v0.8h-0.8zM140.6 659.0h0.8v0.8h-0.8zM131.1 656.6h0.8v0.8h-0.8zM130.5 658.8h0.8v0.8h-0.8zM135.2 656.7h0.8v0.8h-0.8zM134.7 658.6h0.8v0.8h-0.8zM121.1 657.7h0.8v0.8h-0.8zM134.2 657.8h0.8v0.8h-0.8zM125.6 658.7h0.8v0.8h-0.8zM130.3 657.7h0.8v0.8h-0.8zM124.7 656.6h0.8v0.8h-0.8zM140.5 658.4h0.8v0.8h-0.8zM137.1 657.7h0.8v0.8h-0.8zM135.1 656.6h0.8v0.8h-0.8zM123.1 656.2h0.8v0.8h-0.8zM133.8 657.6h0.8v0.8h-0.8zM133.1 658.7h0.8v0.8h-0.8zM135.8 657.9h0.8v0.8h-0.8zM132.3 656.7h0.8v0.8h-0.8zM134.7 658.5h0.8v0.8h-0.8zM131.6 659.1h0.8v0.8h-0.8zM133.7 658.4h0.8v0.8h-0.8zM140.7 656.3h0.8v0.8h-0.8zM137.0 656.8h0.8v0.8h-0.8zM137.9 657.4h0.8v0.8h-0.8zM135.7 658.6h0.8v0.8h-0.8zM136.4 657.7h0.8v0.8h-0.8zM131.0 658.2h0.8v0.8h-0.8zM139.3 656.4h0.8v0.8h-0.8zM129.5 657.1h0.8v0.8h-0.8zM130.6 656.7h0.8v0.8h-0.8zM129.6 658.9h0.8v0.8h-0.8zM129.1 658.4h0.8v0.8h-0.8zM130.7 657.6h0.8v0.8h-0.8zM133.6 658.6h0.8v0.8h-0.8zM139.1 658.2h0.8v0.8h-0.8zM138.7 658.0h0.8v0.8h-0.8zM138.1 658.4h0.8v0.8h-0.8zM140.6 657.9h0.8v0.8h-0.8zM140.5 657.1h0.8v0.8h-0.8zM130.4 658.8h0.8v0.8h-0.8zM121.5 657.9h0.8v0.8h-0.8zM140.6 657.4h0.8v0.8h-0.8zM132.8 658.1h0.8v0.8h-0.8zM139.5 656.9h0.8v0.8h-0.8zM137.5 657.7h0.8v0.8h-0.8zM126.0 657.8h0.8v0.8h-0.8zM135.5 657.8h0.8v0.8h-0.8zM131.5 657.8h0.8v0.8h-0.8zM120.8 657.2h0.8v0.8h-0.8zM127.8 658.7h0.8v0.8h-0.8zM138.1 657.5h0.8v0.8h-0.8zM131.9 658.4h0.8v0.8h-0.8zM138.9 659.0h0.8v0.8h-0.8zM123.1 658.0h0.8v0.8h-0.8zM140.4 656.3h0.8v0.8h-0.8zM134.0 657.1h0.8v0.8h-0.8zM136.4 657.4h0.8v0.8h-0.8zM126.8 657.2h0.8v0.8h-0.8zM139.6 657.7h0.8v0.8h-0.8zM120.7 658.2h0.8v0.8h-0.8zM137.0 657.7h0.8v0.8h-0.8zM139.0 657.4h0.8v0.8h-0.8zM124.0 656.6h0.8v0.8h-0.8zM128.5 657.6h0.8v0.8h-0.8zM130.2 656.2h0.8v0.8h-0.8zM128.5 657.7h0.8v0.8h-0.8zM127.9 658.2h0.8v0.8h-0.8zM123.5 657.5h0.8v0.8h-0.8zM139.9 658.1h0.8v0.8h-0.8zM134.2 657.4h0.8v0.8h-0.8zM139.2 657.3h0.8v0.8h-0.8zM115.1 658.3h0.8v0.8h-0.8zM124.6 656.9h0.8v0.8h-0.8zM139.0 657.0h0.8v0.8h-0.8zM132.7 657.5h0.8v0.8h-0.8zM125.0 658.4h0.8v0.8h-0.8zM133.3 657.4h0.8v0.8h-0.8zM135.1 657.1h0.8v0.8h-0.8zM140.7 657.4h0.8v0.8h-0.8zM136.1 656.9h0.8v0.8h-0.8zM123.7 658.7h0.8v0.8h-0.8zM137.0 658.5h0.8v0.8h-0.8zM135.7 656.9h0.8v0.8h-0.8zM138.7 657.3h0.8v0.8h-0.8zM134.0 658.2h0.8v0.8h-0.8zM130.4 656.4h0.8v0.8h-0.8zM138.4 657.0h0.8v0.8h-0.8zM138.8 658.5h0.8v0.8h-0.8zM140.1 657.2h0.8v0.8h-0.8zM125.7 657.2h0.8v0.8h-0.8zM138.6 657.4h0.8v0.8h-0.8zM135.0 658.0h0.8v0.8h-0.8zM132.2 657.6h0.8v0.8h-0.8zM133.9 657.1h0.8v0.8h-0.8zM140.2 658.0h0.8v0.8h-0.8zM131.7 658.3h0.8v0.8h-0.8zM124.6 658.0h0.8v0.8h-0.8zM134.5 658.1h0.8v0.8h-0.8zM124.9 657.1h0.8v0.8h-0.8zM129.7 657.0h0.8v0.8h-0.8zM138.9 657.6h0.8v0.8h-0.8zM128.7 656.7h0.8v0.8h-0.8zM133.9 656.8h0.8v0.8h-0.8zM136.3 656.5h0.8v0.8h-0.8zM113.7 659.0h0.8v0.8h-0.8zM134.5 659.8h0.8v0.8h-0.8zM133.9 658.7h0.8v0.8h-0.8zM138.6 658.5h0.8v0.8h-0.8zM129.9 657.6h0.8v0.8h-0.8zM129.8 657.9h0.8v0.8h-0.8zM133.9 657.5h0.8v0.8h-0.8zM123.2 657.6h0.8v0.8h-0.8zM128.0 658.6h0.8v0.8h-0.8zM139.0 655.8h0.8v0.8h-0.8zM133.6 656.5h0.8v0.8h-0.8zM137.6 658.9h0.8v0.8h-0.8zM136.1 657.0h0.8v0.8h-0.8zM134.2 655.8h0.8v0.8h-0.8zM128.5 657.4h0.8v0.8h-0.8zM127.8 655.8h0.8v0.8h-0.8zM131.5 657.7h0.8v0.8h-0.8zM120.6 656.2h0.8v0.8h-0.8zM138.3 657.6h0.8v0.8h-0.8zM120.4 658.0h0.8v0.8h-0.8zM133.0 657.1h0.8v0.8h-0.8zM137.0 657.7h0.8v0.8h-0.8zM126.5 660.2h0.8v0.8h-0.8zM130.4 656.3h0.8v0.8h-0.8zM118.1 658.5h0.8v0.8h-0.8zM130.9 658.0h0.8v0.8h-0.8zM137.9 657.1h0.8v0.8h-0.8zM125.7 657.9h0.8v0.8h-0.8zM140.6 657.7h0.8v0.8h-0.8zM127.6 656.4h0.8v0.8h-0.8zM132.7 657.6h0.8v0.8h-0.8zM129.1 656.4h0.8v0.8h-0.8zM130.8 657.7h0.8v0.8h-0.8zM136.1 657.4h0.8v0.8h-0.8zM136.9 656.6h0.8v0.8h-0.8zM139.8 657.5h0.8v0.8h-0.8zM130.2 657.6h0.8v0.8h-0.8zM137.4 656.3h0.8v0.8h-0.8zM121.6 657.3h0.8v0.8h-0.8zM124.6 656.9h0.8v0.8h-0.8zM139.6 657.5h0.8v0.8h-0.8zM129.8 658.5h0.8v0.8h-0.8zM123.8 657.3h0.8v0.8h-0.8zM136.0 658.7h0.8v0.8h-0.8zM137.5 658.0h0.8v0.8h-0.8zM138.6 658.1h0.8v0.8h-0.8zM134.1 657.5h0.8v0.8h-0.8zM132.2 656.7h0.8v0.8h-0.8zM119.2 658.5h0.8v0.8h-0.8zM137.1 656.1h0.8v0.8h-0.8zM127.5 656.8h0.8v0.8h-0.8zM129.2 656.7h0.8v0.8h-0.8zM131.4 658.1h0.8v0.8h-0.8zM135.5 657.2h0.8v0.8h-0.8zM120.3 657.8h0.8v0.8h-0.8zM129.8 657.6h0.8v0.8h-0.8zM139.9 656.8h0.8v0.8h-0.8zM125.2 657.2h0.8v0.8h-0.8zM134.7 657.8h0.8v0.8h-0.8zM130.4 657.8h0.8v0.8h-0.8zM128.6 657.8h0.8v0.8h-0.8zM136.0 656.6h0.8v0.8h-0.8zM129.1 657.3h0.8v0.8h-0.8zM129.3 657.8h0.8v0.8h-0.8zM140.6 657.2h0.8v0.8h-0.8zM135.8 657.0h0.8v0.8h-0.8zM139.6 658.0h0.8v0.8h-0.8zM125.6 656.7h0.8v0.8h-0.8zM120.7 658.9h0.8v0.8h-0.8zM138.0 658.2h0.8v0.8h-0.8zM136.9 657.5h0.8v0.8h-0.8zM135.0 657.2h0.8v0.8h-0.8zM116.2 658.7h0.8v0.8h-0.8zM115.9 657.8h0.8v0.8h-0.8zM132.1 656.6h0.8v0.8h-0.8zM130.8 658.9h0.8v0.8h-0.8zM127.1 657.4h0.8v0.8h-0.8zM140.5 657.2h0.8v0.8h-0.8zM139.8 658.7h0.8v0.8h-0.8zM126.4 657.5h0.8v0.8h-0.8zM127.0 657.4h0.8v0.8h-0.8zM136.9 656.8h0.8v0.8h-0.8zM127.3 656.2h0.8v0.8h-0.8zM129.3 656.9h0.8v0.8h-0.8zM138.7 658.3h0.8v0.8h-0.8zM119.9 658.5h0.8v0.8h-0.8zM128.2 658.1h0.8v0.8h-0.8zM134.2 657.8h0.8v0.8h-0.8zM138.4 658.3h0.8v0.8h-0.8zM128.3 656.0h0.8v0.8h-0.8zM140.0 656.5h0.8v0.8h-0.8zM137.2 658.1h0.8v0.8h-0.8zM129.0 657.4h0.8v0.8h-0.8zM130.6 658.4h0.8v0.8h-0.8zM137.3 658.4h0.8v0.8h-0.8zM120.4 656.7h0.8v0.8h-0.8zM138.2 657.9h0.8v0.8h-0.8zM126.6 655.3h0.8v0.8h-0.8zM139.9 656.8h0.8v0.8h-0.8zM127.1 658.2h0.8v0.8h-0.8zM128.4 656.7h0.8v0.8h-0.8zM128.5 658.1h0.8v0.8h-0.8zM134.6 657.1h0.8v0.8h-0.8zM136.1 657.9h0.8v0.8h-0.8zM134.5 656.0h0.55v0.55h-0.55zM135.3 658.0h0.55v0.55h-0.55zM133.7 654.8h0.55v0.55h-0.55zM136.4 654.7h0.55v0.55h-0.55zM136.0 655.2h0.55v0.55h-0.55zM133.6 657.5h0.55v0.55h-0.55zM134.1 654.4h0.55v0.55h-0.55zM137.2 659.9h0.55v0.55h-0.55zM136.3 655.0h0.55v0.55h-0.55zM138.3 656.7h0.55v0.55h-0.55zM130.6 658.3h0.55v0.55h-0.55zM141.0 654.1h0.55v0.55h-0.55zM133.4 656.9h0.55v0.55h-0.55zM136.6 655.8h0.55v0.55h-0.55zM140.9 651.6h0.55v0.55h-0.55zM132.8 656.7h0.55v0.55h-0.55zM137.1 654.0h0.55v0.55h-0.55zM127.2 658.3h0.55v0.55h-0.55zM139.2 655.8h0.55v0.55h-0.55zM136.5 658.0h0.55v0.55h-0.55zM145.4 652.9h0.55v0.55h-0.55zM135.2 650.6h0.55v0.55h-0.55zM129.7 658.3h0.55v0.55h-0.55zM133.8 650.0h0.55v0.55h-0.55zM129.2 659.1h0.55v0.55h-0.55zM137.2 658.5h0.55v0.55h-0.55zM142.0 654.1h0.55v0.55h-0.55zM135.1 653.8h0.55v0.55h-0.55zM131.0 657.7h0.55v0.55h-0.55zM136.1 653.7h0.55v0.55h-0.55zM127.8 654.4h0.55v0.55h-0.55zM133.7 653.6h0.55v0.55h-0.55zM138.5 656.8h0.55v0.55h-0.55zM137.0 658.4h0.55v0.55h-0.55zM133.6 655.3h0.55v0.55h-0.55zM144.2 653.2h0.55v0.55h-0.55zM136.2 657.3h0.55v0.55h-0.55zM136.1 655.2h0.55v0.55h-0.55zM137.3 657.4h0.55v0.55h-0.55zM135.9 654.7h0.55v0.55h-0.55zM127.5 654.7h0.55v0.55h-0.55zM131.6 653.5h0.55v0.55h-0.55zM130.9 652.2h0.55v0.55h-0.55zM131.5 655.6h0.55v0.55h-0.55zM129.5 652.1h0.55v0.55h-0.55zM140.3 657.5h0.55v0.55h-0.55zM132.7 656.1h0.55v0.55h-0.55zM134.2 656.2h0.55v0.55h-0.55zM137.6 652.5h0.55v0.55h-0.55zM126.7 657.4h0.55v0.55h-0.55zM137.1 653.2h0.55v0.55h-0.55zM140.9 656.1h0.55v0.55h-0.55zM135.7 658.8h0.55v0.55h-0.55zM141.5 658.0h0.55v0.55h-0.55zM136.7 654.1h0.55v0.55h-0.55zM135.8 654.4h0.55v0.55h-0.55zM138.6 657.9h0.55v0.55h-0.55zM135.3 657.9h0.55v0.55h-0.55zM129.8 658.5h0.55v0.55h-0.55zM136.5 650.3h0.55v0.55h-0.55zM135.3 657.3h0.55v0.55h-0.55zM137.2 653.2h0.55v0.55h-0.55zM139.0 657.4h0.55v0.55h-0.55zM135.5 658.9h0.55v0.55h-0.55zM132.8 656.2h0.55v0.55h-0.55zM135.1 650.1h0.55v0.55h-0.55zM136.8 656.8h0.55v0.55h-0.55zM132.3 655.4h0.55v0.55h-0.55zM139.7 654.8h0.55v0.55h-0.55zM137.7 656.1h0.55v0.55h-0.55zM135.7 657.3h0.55v0.55h-0.55zM127.8 652.2h0.55v0.55h-0.55zM130.5 657.3h0.55v0.55h-0.55zM140.1 654.6h0.55v0.55h-0.55zM128.4 658.9h0.55v0.55h-0.55zM133.0 653.1h0.55v0.55h-0.55zM136.3 653.7h0.55v0.55h-0.55zM137.7 656.5h0.55v0.55h-0.55zM130.6 659.7h0.55v0.55h-0.55zM135.0 656.4h0.55v0.55h-0.55zM141.3 658.2h0.55v0.55h-0.55zM124.0 655.3h0.55v0.55h-0.55zM133.7 656.6h0.55v0.55h-0.55zM138.1 659.2h0.55v0.55h-0.55zM126.3 655.3h0.55v0.55h-0.55zM139.9 654.5h0.55v0.55h-0.55zM142.4 658.0h0.55v0.55h-0.55zM139.3 653.2h0.55v0.55h-0.55zM127.3 654.5h0.55v0.55h-0.55zM134.4 655.8h0.55v0.55h-0.55zM139.9 654.6h0.55v0.55h-0.55zM130.1 659.8h0.55v0.55h-0.55zM139.0 653.9h0.55v0.55h-0.55zM134.1 645.8h0.55v0.55h-0.55zM129.7 655.1h0.55v0.55h-0.55zM137.2 654.9h0.55v0.55h-0.55zM134.1 653.8h0.55v0.55h-0.55zM131.5 659.3h0.55v0.55h-0.55zM143.9 658.0h0.55v0.55h-0.55zM133.0 649.8h0.55v0.55h-0.55zM138.4 652.6h0.55v0.55h-0.55zM133.3 656.1h0.55v0.55h-0.55zM141.7 653.1h0.55v0.55h-0.55zM133.4 657.3h0.55v0.55h-0.55zM138.9 654.9h0.55v0.55h-0.55zM136.5 657.0h0.55v0.55h-0.55zM132.9 651.0h0.55v0.55h-0.55zM134.2 659.1h0.55v0.55h-0.55zM129.6 653.2h0.55v0.55h-0.55zM139.1 659.1h0.55v0.55h-0.55zM136.7 656.1h0.55v0.55h-0.55zM127.2 652.2h0.55v0.55h-0.55zM131.7 650.8h0.55v0.55h-0.55zM139.1 652.5h0.55v0.55h-0.55zM145.6 652.3h0.55v0.55h-0.55zM136.3 654.2h0.55v0.55h-0.55zM133.8 658.1h0.55v0.55h-0.55zM130.2 654.6h0.55v0.55h-0.55zM140.0 653.1h0.55v0.55h-0.55zM147.0 651.9h0.55v0.55h-0.55zM138.6 655.9h0.55v0.55h-0.55zM137.1 655.3h0.55v0.55h-0.55zM133.0 656.4h0.55v0.55h-0.55zM132.5 653.0h0.55v0.55h-0.55zM142.9 650.6h0.55v0.55h-0.55zM137.9 654.0h0.55v0.55h-0.55zM125.8 649.3h0.55v0.55h-0.55zM130.7 656.7h0.55v0.55h-0.55zM140.8 655.2h0.55v0.55h-0.55zM140.7 655.6h0.55v0.55h-0.55zM135.8 655.9h0.55v0.55h-0.55zM140.4 652.5h0.55v0.55h-0.55zM126.4 658.8h0.55v0.55h-0.55zM135.3 656.2h0.55v0.55h-0.55zM139.9 656.4h0.55v0.55h-0.55zM134.7 659.1h0.55v0.55h-0.55zM140.0 654.9h0.55v0.55h-0.55zM136.1 654.3h0.55v0.55h-0.55zM134.5 653.7h0.55v0.55h-0.55zM138.5 652.9h0.55v0.55h-0.55zM117.6 659.3h0.45v0.45h-0.45zM114.8 665.7h0.45v0.45h-0.45zM120.2 654.6h0.45v0.45h-0.45zM115.9 659.1h0.45v0.45h-0.45zM115.9 655.0h0.45v0.45h-0.45zM121.6 665.5h0.45v0.45h-0.45zM110.1 665.0h0.45v0.45h-0.45zM114.2 661.4h0.45v0.45h-0.45zM127.0 657.5h0.45v0.45h-0.45zM127.7 653.6h0.45v0.45h-0.45zM116.4 651.9h0.45v0.45h-0.45zM113.3 665.1h0.45v0.45h-0.45zM129.4 666.5h0.45v0.45h-0.45zM114.6 663.4h0.45v0.45h-0.45zM123.3 657.1h0.45v0.45h-0.45zM111.4 668.3h0.45v0.45h-0.45zM129.5 658.4h0.45v0.45h-0.45zM112.2 667.0h0.45v0.45h-0.45zM114.0 652.8h0.45v0.45h-0.45zM130.8 655.7h0.45v0.45h-0.45zM115.0 664.4h0.45v0.45h-0.45zM125.1 664.2h0.45v0.45h-0.45zM113.5 669.0h0.45v0.45h-0.45zM117.7 655.8h0.45v0.45h-0.45zM126.6 656.2h0.45v0.45h-0.45zM118.9 656.9h0.45v0.45h-0.45zM120.0 666.3h0.45v0.45h-0.45zM112.6 670.9h0.45v0.45h-0.45zM120.6 668.0h0.45v0.45h-0.45zM119.5 659.0h0.45v0.45h-0.45zM121.9 653.2h0.45v0.45h-0.45zM114.2 654.2h0.45v0.45h-0.45zM113.7 656.9h0.45v0.45h-0.45zM113.6 669.4h0.45v0.45h-0.45zM111.0 656.8h0.45v0.45h-0.45zM111.4 663.1h0.45v0.45h-0.45zM128.6 662.4h0.45v0.45h-0.45zM118.2 666.8h0.45v0.45h-0.45zM122.6 665.5h0.45v0.45h-0.45zM125.2 656.8h0.45v0.45h-0.45zM111.5 657.6h0.45v0.45h-0.45zM114.4 666.0h0.45v0.45h-0.45zM127.7 653.1h0.45v0.45h-0.45zM122.1 662.1h0.45v0.45h-0.45zM119.4 656.4h0.45v0.45h-0.45zM130.9 667.1h0.45v0.45h-0.45zM126.2 667.6h0.45v0.45h-0.45zM129.4 668.8h0.45v0.45h-0.45zM126.4 664.6h0.45v0.45h-0.45zM110.6 658.0h0.45v0.45h-0.45zM117.0 666.7h0.45v0.45h-0.45zM110.7 665.7h0.45v0.45h-0.45zM118.9 653.8h0.45v0.45h-0.45zM117.9 657.1h0.45v0.45h-0.45zM124.1 656.8h0.45v0.45h-0.45zM115.1 667.3h0.45v0.45h-0.45zM118.3 666.6h0.45v0.45h-0.45zM112.9 659.0h0.45v0.45h-0.45zM113.7 656.6h0.45v0.45h-0.45zM120.6 668.4h0.45v0.45h-0.45zM120.6 668.5h0.45v0.45h-0.45zM117.1 653.1h0.45v0.45h-0.45zM127.6 657.4h0.45v0.45h-0.45zM116.2 664.8h0.45v0.45h-0.45zM130.9 662.0h0.45v0.45h-0.45zM120.8 656.3h0.45v0.45h-0.45zM111.4 658.7h0.45v0.45h-0.45zM114.5 662.2h0.45v0.45h-0.45zM112.8 656.8h0.45v0.45h-0.45zM115.8 652.4h0.45v0.45h-0.45zM126.7 658.7h0.45v0.45h-0.45zM124.9 665.8h0.45v0.45h-0.45zM125.1 661.8h0.45v0.45h-0.45zM114.1 663.5h0.45v0.45h-0.45zM117.1 657.0h0.45v0.45h-0.45zM127.5 668.7h0.45v0.45h-0.45zM127.9 669.1h0.45v0.45h-0.45zM122.8 667.8h0.45v0.45h-0.45zM123.2 668.9h0.45v0.45h-0.45zM114.1 655.4h0.45v0.45h-0.45zM112.0 659.4h0.45v0.45h-0.45zM130.7 662.7h0.45v0.45h-0.45zM116.0 664.1h0.45v0.45h-0.45zM116.7 663.4h0.45v0.45h-0.45zM125.3 665.5h0.45v0.45h-0.45zM122.3 659.7h0.45v0.45h-0.45zM113.7 653.6h0.45v0.45h-0.45zM112.1 658.7h0.45v0.45h-0.45zM127.8 668.4h0.45v0.45h-0.45zM114.1 665.8h0.45v0.45h-0.45zM129.1 663.4h0.45v0.45h-0.45zM140.8 665.9h0.45v0.45h-0.45zM133.2 669.9h0.45v0.45h-0.45zM127.4 662.5h0.45v0.45h-0.45zM123.5 662.4h0.45v0.45h-0.45zM136.7 659.7h0.45v0.45h-0.45zM132.1 660.8h0.45v0.45h-0.45zM132.2 659.5h0.45v0.45h-0.45zM135.5 664.6h0.45v0.45h-0.45zM140.0 661.8h0.45v0.45h-0.45zM124.2 665.8h0.45v0.45h-0.45zM127.9 670.3h0.45v0.45h-0.45zM135.2 669.2h0.45v0.45h-0.45zM134.3 667.2h0.45v0.45h-0.45zM126.5 665.1h0.45v0.45h-0.45zM125.7 666.9h0.45v0.45h-0.45zM130.8 669.9h0.45v0.45h-0.45zM134.1 667.6h0.45v0.45h-0.45zM123.3 670.7h0.45v0.45h-0.45zM138.0 661.9h0.45v0.45h-0.45zM136.1 667.2h0.45v0.45h-0.45zM128.5 662.4h0.45v0.45h-0.45zM122.8 660.4h0.45v0.45h-0.45zM128.6 662.2h0.45v0.45h-0.45zM125.5 669.4h0.45v0.45h-0.45zM125.5 663.6h0.45v0.45h-0.45zM123.4 663.9h0.45v0.45h-0.45zM122.4 661.2h0.45v0.45h-0.45zM139.9 666.0h0.45v0.45h-0.45zM134.8 665.2h0.45v0.45h-0.45zM134.2 660.8h0.45v0.45h-0.45zM121.9 665.6h0.45v0.45h-0.45zM126.0 659.1h0.45v0.45h-0.45zM139.8 666.3h0.45v0.45h-0.45zM137.7 662.4h0.45v0.45h-0.45zM125.2 668.1h0.45v0.45h-0.45zM125.1 662.4h0.45v0.45h-0.45zM141.9 666.9h0.45v0.45h-0.45zM138.3 668.8h0.45v0.45h-0.45zM123.4 660.3h0.45v0.45h-0.45zM126.6 669.8h0.45v0.45h-0.45zM140.7 660.2h0.45v0.45h-0.45zM132.6 659.6h0.45v0.45h-0.45zM131.4 668.7h0.45v0.45h-0.45zM130.8 662.0h0.45v0.45h-0.45zM125.1 668.2h0.45v0.45h-0.45zM132.4 659.2h0.45v0.45h-0.45zM125.6 660.0h0.45v0.45h-0.45zM131.0 660.6h0.45v0.45h-0.45zM129.8 660.6h0.45v0.45h-0.45zM143.0 667.8h0.45v0.45h-0.45zM121.9 667.4h0.45v0.45h-0.45zM123.4 668.3h0.45v0.45h-0.45zM133.5 668.0h0.45v0.45h-0.45zM130.9 667.7h0.45v0.45h-0.45zM129.3 666.8h0.45v0.45h-0.45zM126.9 660.6h0.45v0.45h-0.45zM136.1 670.1h0.45v0.45h-0.45zM134.5 661.6h0.45v0.45h-0.45zM125.6 661.4h0.45v0.45h-0.45zM130.2 677.6h0.45v0.45h-0.45zM127.6 680.5h0.45v0.45h-0.45zM130.2 675.2h0.45v0.45h-0.45zM123.2 680.9h0.45v0.45h-0.45zM124.4 680.9h0.45v0.45h-0.45zM123.7 677.7h0.45v0.45h-0.45zM127.7 683.9h0.45v0.45h-0.45zM124.5 684.4h0.45v0.45h-0.45zM127.8 675.3h0.45v0.45h-0.45zM131.1 684.3h0.45v0.45h-0.45zM132.7 674.8h0.45v0.45h-0.45zM139.8 675.1h0.45v0.45h-0.45zM137.2 682.5h0.45v0.45h-0.45zM140.0 685.3h0.45v0.45h-0.45zM134.1 681.5h0.45v0.45h-0.45zM137.5 684.4h0.45v0.45h-0.45zM127.8 683.4h0.45v0.45h-0.45zM132.6 680.7h0.45v0.45h-0.45zM128.7 680.5h0.45v0.45h-0.45zM130.0 675.6h0.45v0.45h-0.45zM133.4 675.6h0.45v0.45h-0.45zM130.3 683.9h0.45v0.45h-0.45zM135.3 673.6h0.45v0.45h-0.45zM140.2 673.6h0.45v0.45h-0.45zM125.9 672.8h0.45v0.45h-0.45zM138.2 676.5h0.45v0.45h-0.45zM123.0 677.0h0.45v0.45h-0.45zM134.0 676.7h0.45v0.45h-0.45zM121.9 677.2h0.45v0.45h-0.45zM133.9 682.8h0.45v0.45h-0.45zM139.6 685.0h0.45v0.45h-0.45zM132.0 675.7h0.45v0.45h-0.45zM128.0 684.4h0.45v0.45h-0.45zM133.8 680.0h0.45v0.45h-0.45zM136.9 677.6h0.45v0.45h-0.45zM129.3 680.2h0.45v0.45h-0.45zM124.6 683.3h0.45v0.45h-0.45zM136.4 676.4h0.45v0.45h-0.45zM134.6 677.1h0.45v0.45h-0.45zM124.7 672.7h0.45v0.45h-0.45zM127.8 677.0h0.45v0.45h-0.45zM137.7 680.2h0.45v0.45h-0.45zM139.7 682.3h0.45v0.45h-0.45zM127.0 678.2h0.45v0.45h-0.45zM138.5 675.6h0.45v0.45h-0.45zM124.8 675.1h0.45v0.45h-0.45zM135.1 685.6h0.45v0.45h-0.45zM138.6 684.1h0.45v0.45h-0.45zM126.7 685.0h0.45v0.45h-0.45zM128.3 676.9h0.45v0.45h-0.45zM127.9 684.7h0.45v0.45h-0.45zM127.9 683.3h0.45v0.45h-0.45zM126.3 682.5h0.45v0.45h-0.45zM139.6 678.8h0.45v0.45h-0.45zM134.9 683.6h0.45v0.45h-0.45zM126.1 680.9h0.45v0.45h-0.45zM127.4 673.3h0.45v0.45h-0.45zM123.0 679.8h0.45v0.45h-0.45zM123.7 678.1h0.45v0.45h-0.45zM134.1 677.5h0.45v0.45h-0.45zM136.3 675.2h0.45v0.45h-0.45zM136.5 681.8h0.45v0.45h-0.45zM125.5 678.5h0.45v0.45h-0.45zM121.7 681.2h0.45v0.45h-0.45zM125.4 685.3h0.45v0.45h-0.45zM122.4 680.6h0.45v0.45h-0.45zM129.5 677.9h0.45v0.45h-0.45zM137.4 678.2h0.45v0.45h-0.45zM135.0 684.0h0.45v0.45h-0.45zM138.3 682.5h0.45v0.45h-0.45zM140.6 684.8h0.45v0.45h-0.45zM130.3 674.1h0.45v0.45h-0.45zM123.9 674.4h0.45v0.45h-0.45zM134.5 679.5h0.45v0.45h-0.45zM131.0 674.5h0.45v0.45h-0.45zM129.3 676.1h0.45v0.45h-0.45zM122.6 679.0h0.45v0.45h-0.45zM125.5 676.9h0.45v0.45h-0.45zM130.0 677.9h0.45v0.45h-0.45zM125.7 682.5h0.45v0.45h-0.45zM140.1 680.6h0.45v0.45h-0.45zM139.5 684.5h0.45v0.45h-0.45zM122.0 682.0h0.45v0.45h-0.45zM140.7 676.1h0.45v0.45h-0.45zM135.7 680.0h0.45v0.45h-0.45zM140.5 679.3h0.45v0.45h-0.45zM138.6 678.6h0.45v0.45h-0.45zM122.6 679.4h0.45v0.45h-0.45zM129.1 673.3h0.45v0.45h-0.45zM127.5 675.0h0.45v0.45h-0.45zM139.1 684.4h0.45v0.45h-0.45zM132.0 684.6h0.45v0.45h-0.45zM129.3 681.3h0.45v0.45h-0.45zM134.8 685.5h0.45v0.45h-0.45zM135.1 676.2h0.45v0.45h-0.45zM131.8 683.2h0.45v0.45h-0.45zM136.8 675.7h0.45v0.45h-0.45zM140.0 679.6h0.45v0.45h-0.45zM137.4 685.2h0.45v0.45h-0.45zM137.7 674.6h0.45v0.45h-0.45z"/>
<line x1="121.7" y1="634.5" x2="121.7" y2="686.3" stroke="#555" stroke-width="0.9"/>
<line x1="109" y1="671.7" x2="159.6" y2="671.7" stroke="#555" stroke-width="0.9"/>
<text x="109.3" y="639.04" font-size="4.3" font-weight="bold" fill="#111">B1</text>
<text x="122.4" y="639.04" font-size="4.3" font-weight="bold" fill="#111">B2</text>
<text x="109.3" y="676.24" font-size="4.3" font-weight="bold" fill="#111">B3</text>
<text x="122.4" y="676.24" font-size="4.3" font-weight="bold" fill="#111">B4</text>
<text x="121.1" y="645.44" font-size="4.3" text-anchor="end" font-weight="bold" fill="#111" textLength="10.5" lengthAdjust="spacingAndGlyphs">10.2%</text>
<text x="123.3" y="645.44" font-size="4.3" font-weight="bold" fill="#111" textLength="10.5" lengthAdjust="spacingAndGlyphs">37.0%</text>
<text x="121.1" y="681.44" font-size="4.3" text-anchor="end" font-weight="bold" fill="#111" textLength="10.5" lengthAdjust="spacingAndGlyphs">42.2%</text>
<text x="123.3" y="681.44" font-size="4.3" font-weight="bold" fill="#111" textLength="10.5" lengthAdjust="spacingAndGlyphs">10.7%</text>
<text x="105" y="636.36" font-size="3.8" text-anchor="middle" fill="#444">10<tspan font-size="2.6" dy="-1.3">4</tspan></text>
<text x="105" y="648.76" font-size="3.8" text-anchor="middle" fill="#444">10<tspan font-size="2.6" dy="-1.3">3</tspan></text>
<text x="105" y="661.16" font-size="3.8" text-anchor="middle" fill="#444">10<tspan font-size="2.6" dy="-1.3">2</tspan></text>
<text x="105" y="673.56" font-size="3.8" text-anchor="middle" fill="#444">10<tspan font-size="2.6" dy="-1.3">1</tspan></text>
<text x="123.3" y="690.26" font-size="3.8" text-anchor="middle" fill="#444">10<tspan font-size="2.6" dy="-1.3">0</tspan></text>
<text x="135" y="690.26" font-size="3.8" text-anchor="middle" fill="#444">10<tspan font-size="2.6" dy="-1.3">1</tspan></text>
<text x="146.7" y="690.26" font-size="3.8" text-anchor="middle" fill="#444">10<tspan font-size="2.6" dy="-1.3">2</tspan></text>
<text x="158.4" y="690.26" font-size="3.8" text-anchor="middle" fill="#444">10<tspan font-size="2.6" dy="-1.3">3</tspan></text>
<text x="134.08" y="631.21" font-size="8.4" text-anchor="middle" fill="#222" letter-spacing="0.55">si-TEFM#1</text>
<text x="98.5" y="660.4" font-size="8.4" text-anchor="middle" fill="#222" transform="rotate(-90 98.5 660.4)">P I</text>
<text x="133.92" y="699.48" font-size="8.6" text-anchor="middle" fill="#222" letter-spacing="0.25">Annexin V</text>
<rect x="176.3" y="631.9" width="60" height="59.4" fill="#f7f7f7"/>
<rect x="184.3" y="634.5" width="50.6" height="51.8" fill="#f8f8f8" stroke="#999" stroke-width="0.6"/>
<ellipse cx="190.5" cy="680.3" rx="3.38" ry="3.38" fill="#f01010"/>
<path fill="#f00a0a" fill-opacity="0.8" d="M189.9 683.8h1v1h-1zM188.1 675.3h1v1h-1zM190.8 681.6h1v1h-1zM191.2 681.4h1v1h-1zM190.0 678.5h1v1h-1zM188.3 679.5h1v1h-1zM189.3 682.6h1v1h-1zM192.0 676.9h1v1h-1zM192.2 680.1h1v1h-1zM193.3 684.1h1v1h-1zM191.8 675.5h1v1h-1zM192.1 676.1h1v1h-1zM194.5 678.5h1v1h-1zM189.9 685.0h1v1h-1zM185.8 680.3h1v1h-1zM187.6 678.8h1v1h-1zM188.3 682.0h1v1h-1zM189.6 681.1h1v1h-1zM192.1 675.7h1v1h-1zM194.1 679.5h1v1h-1zM186.0 678.5h1v1h-1zM192.7 682.8h1v1h-1zM188.6 680.5h1v1h-1zM191.0 682.9h1v1h-1zM190.0 682.8h1v1h-1zM188.0 678.3h1v1h-1zM192.2 682.1h1v1h-1zM190.3 681.8h1v1h-1zM190.9 682.2h1v1h-1zM193.5 681.6h1v1h-1zM192.6 679.2h1v1h-1zM188.9 674.0h1v1h-1zM191.5 680.3h1v1h-1zM191.8 675.2h1v1h-1zM189.1 678.7h1v1h-1zM185.6 682.6h1v1h-1zM193.6 676.8h1v1h-1zM191.6 684.8h1v1h-1zM187.2 682.8h1v1h-1zM194.6 685.2h1v1h-1zM186.8 677.4h1v1h-1zM191.0 683.4h1v1h-1zM187.1 678.2h1v1h-1zM187.4 683.1h1v1h-1zM188.9 681.7h1v1h-1zM192.1 683.3h1v1h-1zM191.5 681.1h1v1h-1zM193.5 681.5h1v1h-1zM187.0 678.8h1v1h-1zM192.8 680.6h1v1h-1zM189.5 680.9h1v1h-1zM199.2 680.1h1v1h-1zM191.7 681.4h1v1h-1zM189.7 683.4h1v1h-1zM192.7 681.3h1v1h-1zM186.8 683.6h1v1h-1zM192.4 680.0h1v1h-1zM187.2 679.6h1v1h-1zM189.0 678.0h1v1h-1zM193.1 680.5h1v1h-1zM193.7 677.6h1v1h-1zM189.9 683.8h1v1h-1zM191.3 678.3h1v1h-1zM188.0 678.6h1v1h-1zM190.2 682.0h1v1h-1zM190.8 682.2h1v1h-1zM192.6 680.5h1v1h-1zM193.8 682.2h1v1h-1zM189.9 679.8h1v1h-1zM190.4 678.2h1v1h-1zM186.8 680.3h1v1h-1zM189.0 681.8h1v1h-1zM188.8 680.5h1v1h-1zM190.9 678.9h1v1h-1zM190.9 678.3h1v1h-1zM189.3 682.3h1v1h-1zM191.4 680.2h1v1h-1zM188.3 682.1h1v1h-1zM195.7 674.4h1v1h-1zM193.2 680.8h1v1h-1zM193.3 683.3h1v1h-1zM187.7 684.8h1v1h-1zM188.8 679.5h1v1h-1zM192.1 680.0h1v1h-1zM191.1 678.8h1v1h-1zM187.6 680.2h1v1h-1zM187.5 683.8h1v1h-1zM191.0 683.9h1v1h-1zM187.1 674.6h1v1h-1zM186.9 681.1h1v1h-1zM186.5 676.5h1v1h-1zM191.1 679.1h1v1h-1zM192.2 682.3h1v1h-1zM191.3 676.9h1v1h-1zM189.8 681.0h1v1h-1zM190.7 680.1h1v1h-1zM189.9 678.7h1v1h-1zM189.0 674.8h1v1h-1zM194.8 679.9h1v1h-1zM186.9 681.6h1v1h-1zM192.2 676.3h1v1h-1zM189.0 684.2h1v1h-1zM191.8 681.3h1v1h-1zM193.0 679.8h1v1h-1zM189.6 684.4h1v1h-1zM189.9 680.0h1v1h-1zM192.1 680.3h1v1h-1zM187.1 685.2h1v1h-1zM190.2 685.0h1v1h-1zM191.7 677.8h1v1h-1zM194.5 679.7h1v1h-1zM188.1 680.1h1v1h-1zM188.4 679.5h1v1h-1zM188.0 682.0h1v1h-1zM191.3 683.1h1v1h-1zM194.8 680.9h1v1h-1zM190.6 681.0h1v1h-1zM188.2 678.7h1v1h-1zM192.4 677.9h1v1h-1zM185.2 679.2h1v1h-1zM191.1 684.1h1v1h-1zM188.5 677.7h1v1h-1zM190.6 679.8h1v1h-1zM191.0 678.8h1v1h-1zM190.9 678.6h1v1h-1zM193.0 680.9h1v1h-1zM191.9 679.0h1v1h-1zM186.6 680.2h1v1h-1zM190.2 683.1h1v1h-1zM192.9 680.1h1v1h-1zM190.2 677.5h1v1h-1zM190.3 680.7h1v1h-1zM189.3 677.3h1v1h-1zM193.8 677.7h1v1h-1zM194.8 683.3h1v1h-1zM194.5 677.9h1v1h-1zM192.0 676.5h1v1h-1zM189.4 676.1h1v1h-1zM188.4 678.8h1v1h-1zM192.9 683.0h1v1h-1zM189.4 679.4h1v1h-1zM187.9 677.1h1v1h-1zM185.6 679.6h1v1h-1zM191.9 678.1h1v1h-1zM191.3 677.1h1v1h-1zM187.7 678.7h1v1h-1zM192.7 678.7h1v1h-1zM192.4 679.2h1v1h-1zM187.4 674.8h1v1h-1zM189.1 677.6h1v1h-1zM192.7 681.3h1v1h-1zM186.0 682.3h1v1h-1zM191.7 672.5h1v1h-1zM187.6 680.8h1v1h-1zM186.1 678.2h1v1h-1zM191.7 680.8h1v1h-1zM191.5 681.7h1v1h-1zM189.6 681.6h1v1h-1zM191.2 679.7h1v1h-1zM191.1 680.8h1v1h-1zM192.4 680.9h1v1h-1zM190.5 681.4h1v1h-1zM194.1 680.3h1v1h-1zM191.9 680.5h1v1h-1zM185.2 677.7h1v1h-1zM187.9 676.5h1v1h-1zM188.7 675.5h1v1h-1zM191.0 678.7h1v1h-1zM193.5 681.1h1v1h-1zM187.0 679.5h1v1h-1zM190.4 678.3h1v1h-1zM189.4 677.3h1v1h-1zM188.4 680.8h1v1h-1zM189.4 683.3h1v1h-1zM184.8 678.0h1v1h-1zM189.3 683.9h1v1h-1zM193.2 682.1h1v1h-1zM192.8 684.2h1v1h-1zM192.0 679.5h1v1h-1zM190.8 678.2h1v1h-1zM189.7 681.0h1v1h-1zM189.0 680.3h1v1h-1zM189.1 676.6h1v1h-1zM186.5 681.9h1v1h-1zM190.3 682.2h1v1h-1zM190.0 680.0h1v1h-1zM190.9 679.2h1v1h-1zM193.8 682.7h1v1h-1zM191.3 677.3h1v1h-1zM188.8 680.6h1v1h-1zM193.3 679.9h1v1h-1zM190.2 681.4h1v1h-1zM190.5 679.6h1v1h-1zM187.3 683.2h1v1h-1zM190.1 678.7h1v1h-1zM189.9 676.6h1v1h-1zM185.8 675.4h1v1h-1zM191.2 676.5h1v1h-1zM190.5 676.9h1v1h-1zM185.6 678.4h1v1h-1zM188.3 678.2h1v1h-1zM194.7 680.5h1v1h-1zM188.6 682.2h1v1h-1zM189.3 683.1h1v1h-1zM186.1 682.8h1v1h-1zM187.3 678.0h1v1h-1zM190.7 677.2h1v1h-1zM185.9 678.9h1v1h-1zM189.4 675.7h1v1h-1zM192.7 677.8h1v1h-1zM188.5 679.3h1v1h-1zM190.3 682.7h1v1h-1zM192.4 680.5h1v1h-1zM189.9 677.0h1v1h-1zM191.0 678.6h1v1h-1zM190.5 677.2h1v1h-1zM189.3 679.5h1v1h-1zM186.3 682.6h1v1h-1zM189.8 676.6h1v1h-1zM189.5 680.2h1v1h-1zM189.2 677.2h1v1h-1zM189.5 676.4h1v1h-1zM185.8 683.0h1v1h-1zM194.5 684.8h1v1h-1zM196.0 683.4h1v1h-1zM187.7 678.4h1v1h-1zM193.0 678.7h1v1h-1zM189.2 679.9h1v1h-1zM191.2 676.4h1v1h-1zM190.2 681.2h1v1h-1zM184.8 682.8h1v1h-1zM192.1 677.8h1v1h-1zM194.9 681.0h1v1h-1zM191.3 683.9h1v1h-1zM192.9 683.6h1v1h-1zM190.0 679.4h1v1h-1zM188.1 679.0h1v1h-1zM187.9 673.7h1v1h-1zM188.6 677.3h1v1h-1zM188.5 678.7h1v1h-1zM188.8 680.2h1v1h-1zM189.9 679.0h1v1h-1zM188.5 679.6h1v1h-1zM189.3 679.6h1v1h-1zM193.7 680.5h1v1h-1zM189.1 674.6h1v1h-1zM186.3 672.2h1v1h-1zM192.4 682.8h1v1h-1zM189.0 678.7h1v1h-1zM191.3 681.4h1v1h-1zM185.6 679.2h1v1h-1zM189.3 676.6h1v1h-1zM193.8 681.8h1v1h-1zM188.5 679.8h1v1h-1zM188.7 678.6h1v1h-1zM189.1 682.6h1v1h-1zM190.1 678.7h1v1h-1zM188.3 680.6h1v1h-1zM187.8 675.7h1v1h-1zM189.7 684.0h1v1h-1zM188.3 680.3h1v1h-1zM189.6 683.1h1v1h-1zM191.3 676.6h1v1h-1zM194.6 679.9h1v1h-1zM187.7 678.6h1v1h-1zM190.3 682.7h1v1h-1zM189.4 678.0h1v1h-1zM193.5 684.0h1v1h-1zM189.2 680.3h1v1h-1zM191.1 679.1h1v1h-1zM187.7 682.6h1v1h-1zM187.2 675.1h1v1h-1zM191.6 682.9h1v1h-1zM192.2 677.9h1v1h-1zM189.5 677.1h1v1h-1zM188.7 673.5h1v1h-1zM187.8 683.5h1v1h-1zM187.0 684.4h1v1h-1zM190.6 674.8h1v1h-1zM192.6 677.4h1v1h-1zM191.5 679.4h1v1h-1zM189.2 679.4h1v1h-1zM186.7 677.9h1v1h-1zM189.1 684.5h1v1h-1zM188.6 680.8h1v1h-1zM191.3 683.1h1v1h-1zM189.5 680.4h1v1h-1zM186.2 680.6h1v1h-1zM189.2 680.3h1v1h-1zM188.7 678.7h1v1h-1zM192.7 682.4h1v1h-1zM189.9 679.6h1v1h-1zM190.6 679.7h1v1h-1zM191.3 681.9h1v1h-1zM191.4 675.8h1v1h-1zM190.0 677.1h1v1h-1zM191.3 679.2h1v1h-1zM190.9 679.7h1v1h-1zM192.6 683.5h1v1h-1zM190.6 676.0h1v1h-1zM190.1 685.1h1v1h-1zM188.3 679.7h1v1h-1zM196.5 684.3h1v1h-1zM191.8 680.5h1v1h-1zM186.7 684.2h1v1h-1zM192.5 675.5h1v1h-1zM189.8 679.6h1v1h-1zM190.0 678.2h1v1h-1zM196.6 677.7h1v1h-1zM194.0 681.6h1v1h-1zM190.2 681.1h1v1h-1zM193.4 677.2h0.8v0.8h-0.8zM188.9 684.2h0.8v0.8h-0.8zM194.2 681.3h0.8v0.8h-0.8zM185.6 674.3h0.8v0.8h-0.8zM196.4 685.1h0.8v0.8h-0.8zM192.4 681.4h0.8v0.8h-0.8zM189.1 681.7h0.8v0.8h-0.8zM195.2 682.7h0.8v0.8h-0.8zM188.2 681.2h0.8v0.8h-0.8zM188.3 679.7h0.8v0.8h-0.8zM186.0 671.7h0.8v0.8h-0.8zM186.2 680.7h0.8v0.8h-0.8zM187.2 681.9h0.8v0.8h-0.8zM188.2 681.0h0.8v0.8h-0.8zM188.5 685.0h0.8v0.8h-0.8zM188.8 680.1h0.8v0.8h-0.8zM195.0 685.2h0.8v0.8h-0.8zM185.8 685.2h0.8v0.8h-0.8zM186.1 676.6h0.8v0.8h-0.8zM187.1 683.5h0.8v0.8h-0.8zM186.2 682.1h0.8v0.8h-0.8zM192.1 679.3h0.8v0.8h-0.8zM196.9 677.1h0.8v0.8h-0.8zM191.5 678.6h0.8v0.8h-0.8zM189.9 678.1h0.8v0.8h-0.8zM192.6 677.0h0.8v0.8h-0.8zM185.5 680.2h0.8v0.8h-0.8zM191.7 684.3h0.8v0.8h-0.8zM193.1 677.0h0.8v0.8h-0.8zM186.8 681.2h0.8v0.8h-0.8zM191.5 682.6h0.8v0.8h-0.8zM195.7 672.2h0.8v0.8h-0.8zM188.0 681.9h0.8v0.8h-0.8zM190.1 682.1h0.8v0.8h-0.8zM189.6 681.3h0.8v0.8h-0.8zM192.1 681.9h0.8v0.8h-0.8zM185.0 673.3h0.8v0.8h-0.8zM190.1 682.8h0.8v0.8h-0.8zM189.5 679.5h0.8v0.8h-0.8zM194.7 682.3h0.8v0.8h-0.8zM186.7 680.6h0.8v0.8h-0.8zM189.6 680.3h0.8v0.8h-0.8zM190.1 682.1h0.8v0.8h-0.8zM190.4 681.2h0.8v0.8h-0.8zM190.6 679.3h0.8v0.8h-0.8zM188.2 681.0h0.8v0.8h-0.8zM192.2 685.6h0.8v0.8h-0.8zM200.4 677.7h0.8v0.8h-0.8zM187.9 683.7h0.8v0.8h-0.8zM188.8 680.5h0.8v0.8h-0.8zM185.4 682.1h0.8v0.8h-0.8zM187.2 680.9h0.8v0.8h-0.8zM194.4 677.1h0.8v0.8h-0.8zM184.9 680.5h0.8v0.8h-0.8zM189.8 676.1h0.8v0.8h-0.8zM185.7 684.4h0.8v0.8h-0.8zM193.1 675.8h0.8v0.8h-0.8zM193.7 676.8h0.8v0.8h-0.8zM187.3 681.5h0.8v0.8h-0.8zM190.0 681.9h0.8v0.8h-0.8zM194.8 677.8h0.8v0.8h-0.8zM192.7 681.1h0.8v0.8h-0.8zM194.5 675.3h0.8v0.8h-0.8zM189.2 683.5h0.8v0.8h-0.8zM194.0 678.8h0.8v0.8h-0.8zM189.5 679.0h0.8v0.8h-0.8zM185.6 680.4h0.8v0.8h-0.8zM198.9 675.1h0.8v0.8h-0.8zM190.4 676.8h0.8v0.8h-0.8zM196.5 674.3h0.8v0.8h-0.8zM194.0 681.6h0.8v0.8h-0.8zM187.1 679.0h0.8v0.8h-0.8zM191.6 684.2h0.8v0.8h-0.8zM194.7 680.4h0.8v0.8h-0.8zM190.6 679.8h0.8v0.8h-0.8zM197.0 684.6h0.8v0.8h-0.8zM194.4 677.8h0.8v0.8h-0.8zM189.4 682.7h0.8v0.8h-0.8zM189.8 675.3h0.8v0.8h-0.8zM193.5 681.9h0.8v0.8h-0.8zM196.7 674.6h0.8v0.8h-0.8zM193.9 677.1h0.8v0.8h-0.8zM191.5 681.2h0.8v0.8h-0.8zM188.6 677.1h0.8v0.8h-0.8zM189.1 679.7h0.8v0.8h-0.8zM193.4 679.0h0.8v0.8h-0.8zM186.6 676.3h0.8v0.8h-0.8zM188.6 681.8h0.8v0.8h-0.8zM187.0 678.7h0.8v0.8h-0.8zM192.5 680.9h0.8v0.8h-0.8zM198.6 681.7h0.8v0.8h-0.8zM187.3 680.4h0.8v0.8h-0.8zM195.1 682.4h0.8v0.8h-0.8zM188.3 674.9h0.8v0.8h-0.8zM191.8 679.0h0.8v0.8h-0.8zM186.5 675.6h0.8v0.8h-0.8zM193.1 678.9h0.8v0.8h-0.8zM191.1 679.6h0.8v0.8h-0.8zM187.3 678.2h0.8v0.8h-0.8zM187.8 679.6h0.8v0.8h-0.8zM187.5 682.0h0.8v0.8h-0.8zM186.3 680.7h0.8v0.8h-0.8zM190.8 682.0h0.8v0.8h-0.8zM191.6 678.3h0.8v0.8h-0.8zM188.8 678.4h0.8v0.8h-0.8zM189.3 681.3h0.8v0.8h-0.8zM185.4 678.1h0.8v0.8h-0.8zM209.4 658.1h0.8v0.8h-0.8zM206.6 656.7h0.8v0.8h-0.8zM202.7 655.8h0.8v0.8h-0.8zM209.3 656.4h0.8v0.8h-0.8zM207.1 657.1h0.8v0.8h-0.8zM216.2 658.8h0.8v0.8h-0.8zM210.7 656.9h0.8v0.8h-0.8zM201.1 656.3h0.8v0.8h-0.8zM196.4 655.6h0.8v0.8h-0.8zM212.3 655.8h0.8v0.8h-0.8zM212.0 657.7h0.8v0.8h-0.8zM207.9 656.4h0.8v0.8h-0.8zM204.1 657.8h0.8v0.8h-0.8zM209.6 655.9h0.8v0.8h-0.8zM213.5 657.3h0.8v0.8h-0.8zM203.0 657.0h0.8v0.8h-0.8zM208.6 657.0h0.8v0.8h-0.8zM208.2 656.4h0.8v0.8h-0.8zM211.9 656.7h0.8v0.8h-0.8zM196.6 658.4h0.8v0.8h-0.8zM207.6 655.9h0.8v0.8h-0.8zM209.4 655.7h0.8v0.8h-0.8zM211.9 656.4h0.8v0.8h-0.8zM208.3 656.0h0.8v0.8h-0.8zM205.5 658.4h0.8v0.8h-0.8zM213.5 658.5h0.8v0.8h-0.8zM211.7 657.1h0.8v0.8h-0.8zM201.7 656.3h0.8v0.8h-0.8zM209.8 655.8h0.8v0.8h-0.8zM214.8 657.4h0.8v0.8h-0.8zM207.2 656.1h0.8v0.8h-0.8zM214.9 658.1h0.8v0.8h-0.8zM210.4 655.5h0.8v0.8h-0.8zM215.3 656.0h0.8v0.8h-0.8zM195.5 657.5h0.8v0.8h-0.8zM210.1 657.0h0.8v0.8h-0.8zM209.2 657.8h0.8v0.8h-0.8zM195.5 657.0h0.8v0.8h-0.8zM215.8 656.1h0.8v0.8h-0.8zM207.9 657.4h0.8v0.8h-0.8zM204.6 658.2h0.8v0.8h-0.8zM202.9 657.3h0.8v0.8h-0.8zM209.2 659.7h0.8v0.8h-0.8zM205.3 657.0h0.8v0.8h-0.8zM205.9 658.0h0.8v0.8h-0.8zM201.8 658.0h0.8v0.8h-0.8zM199.9 658.1h0.8v0.8h-0.8zM215.0 656.5h0.8v0.8h-0.8zM202.9 657.6h0.8v0.8h-0.8zM212.3 658.2h0.8v0.8h-0.8zM201.7 655.9h0.8v0.8h-0.8zM209.2 657.1h0.8v0.8h-0.8zM205.5 656.7h0.8v0.8h-0.8zM198.6 657.2h0.8v0.8h-0.8zM196.5 657.4h0.8v0.8h-0.8zM212.0 656.5h0.8v0.8h-0.8zM199.4 657.3h0.8v0.8h-0.8zM213.9 657.0h0.8v0.8h-0.8zM209.8 658.7h0.8v0.8h-0.8zM192.1 656.1h0.8v0.8h-0.8zM196.0 657.1h0.8v0.8h-0.8zM214.7 657.4h0.8v0.8h-0.8zM200.6 656.1h0.8v0.8h-0.8zM212.4 655.2h0.8v0.8h-0.8zM216.2 656.6h0.8v0.8h-0.8zM216.0 656.4h0.8v0.8h-0.8zM202.9 656.2h0.8v0.8h-0.8zM210.0 656.8h0.8v0.8h-0.8zM205.1 659.8h0.8v0.8h-0.8zM212.4 656.4h0.8v0.8h-0.8zM209.2 659.2h0.8v0.8h-0.8zM195.8 656.4h0.8v0.8h-0.8zM214.9 657.4h0.8v0.8h-0.8zM204.0 657.4h0.8v0.8h-0.8zM206.7 654.9h0.8v0.8h-0.8zM200.7 657.3h0.8v0.8h-0.8zM211.6 656.6h0.8v0.8h-0.8zM216.3 657.1h0.8v0.8h-0.8zM215.3 656.1h0.8v0.8h-0.8zM208.3 658.6h0.8v0.8h-0.8zM212.0 658.3h0.8v0.8h-0.8zM206.5 656.5h0.8v0.8h-0.8zM196.1 655.9h0.8v0.8h-0.8zM204.5 657.3h0.8v0.8h-0.8zM210.5 657.8h0.8v0.8h-0.8zM208.9 657.2h0.8v0.8h-0.8zM208.9 656.9h0.8v0.8h-0.8zM204.7 656.5h0.8v0.8h-0.8zM212.9 657.0h0.8v0.8h-0.8zM211.3 657.6h0.8v0.8h-0.8zM206.3 655.1h0.8v0.8h-0.8zM216.0 655.8h0.8v0.8h-0.8zM213.7 658.7h0.8v0.8h-0.8zM206.5 656.8h0.8v0.8h-0.8zM215.5 657.5h0.8v0.8h-0.8zM209.3 657.5h0.8v0.8h-0.8zM199.7 656.2h0.8v0.8h-0.8zM202.7 656.4h0.8v0.8h-0.8zM213.0 658.0h0.8v0.8h-0.8zM204.5 657.6h0.8v0.8h-0.8zM215.6 657.6h0.8v0.8h-0.8zM212.6 657.8h0.8v0.8h-0.8zM205.2 657.3h0.8v0.8h-0.8zM197.5 656.7h0.8v0.8h-0.8zM192.2 656.1h0.8v0.8h-0.8zM209.8 656.7h0.8v0.8h-0.8zM208.7 657.6h0.8v0.8h-0.8zM200.6 656.7h0.8v0.8h-0.8zM203.8 657.9h0.8v0.8h-0.8zM199.3 655.7h0.8v0.8h-0.8zM188.9 659.5h0.8v0.8h-0.8zM204.5 656.9h0.8v0.8h-0.8zM209.8 658.1h0.8v0.8h-0.8zM201.6 657.4h0.8v0.8h-0.8zM212.2 657.7h0.8v0.8h-0.8zM205.8 658.1h0.8v0.8h-0.8zM208.9 658.1h0.8v0.8h-0.8zM216.0 656.8h0.8v0.8h-0.8zM212.7 657.2h0.8v0.8h-0.8zM214.0 657.8h0.8v0.8h-0.8zM213.5 658.1h0.8v0.8h-0.8zM205.1 658.4h0.8v0.8h-0.8zM210.4 658.7h0.8v0.8h-0.8zM201.6 655.8h0.8v0.8h-0.8zM200.5 657.0h0.8v0.8h-0.8zM215.9 658.3h0.8v0.8h-0.8zM211.7 657.2h0.8v0.8h-0.8zM208.8 655.4h0.8v0.8h-0.8zM206.8 657.5h0.8v0.8h-0.8zM214.9 655.9h0.8v0.8h-0.8zM216.3 656.3h0.8v0.8h-0.8zM200.0 657.3h0.8v0.8h-0.8zM210.7 656.8h0.8v0.8h-0.8zM209.3 657.8h0.8v0.8h-0.8zM212.8 656.7h0.8v0.8h-0.8zM211.7 656.2h0.8v0.8h-0.8zM211.3 658.3h0.8v0.8h-0.8zM214.4 656.4h0.8v0.8h-0.8zM203.6 657.2h0.8v0.8h-0.8zM214.0 657.0h0.8v0.8h-0.8zM192.5 656.5h0.8v0.8h-0.8zM201.2 656.6h0.8v0.8h-0.8zM213.0 658.0h0.8v0.8h-0.8zM197.9 658.1h0.8v0.8h-0.8zM202.7 656.2h0.8v0.8h-0.8zM211.8 657.8h0.8v0.8h-0.8zM206.5 657.2h0.8v0.8h-0.8zM202.2 656.9h0.8v0.8h-0.8zM207.2 656.1h0.8v0.8h-0.8zM214.9 656.3h0.8v0.8h-0.8zM206.3 656.2h0.8v0.8h-0.8zM201.1 656.0h0.8v0.8h-0.8zM206.7 656.0h0.8v0.8h-0.8zM209.7 657.5h0.8v0.8h-0.8zM200.3 657.3h0.8v0.8h-0.8zM198.1 657.9h0.8v0.8h-0.8zM213.4 658.3h0.8v0.8h-0.8zM203.0 656.2h0.8v0.8h-0.8zM210.7 657.7h0.8v0.8h-0.8zM204.0 657.2h0.8v0.8h-0.8zM210.9 656.1h0.8v0.8h-0.8zM201.2 656.5h0.8v0.8h-0.8zM209.3 657.1h0.8v0.8h-0.8zM206.7 655.3h0.8v0.8h-0.8zM208.3 657.3h0.8v0.8h-0.8zM211.0 656.9h0.8v0.8h-0.8zM198.8 657.6h0.8v0.8h-0.8zM197.3 655.8h0.8v0.8h-0.8zM195.4 657.8h0.8v0.8h-0.8zM210.6 656.8h0.8v0.8h-0.8zM210.6 656.8h0.8v0.8h-0.8zM212.8 657.4h0.8v0.8h-0.8zM205.9 655.6h0.8v0.8h-0.8zM215.6 657.8h0.8v0.8h-0.8zM204.8 656.3h0.8v0.8h-0.8zM208.3 658.4h0.8v0.8h-0.8zM215.0 656.9h0.8v0.8h-0.8zM204.8 657.3h0.8v0.8h-0.8zM215.1 655.0h0.8v0.8h-0.8zM214.1 655.9h0.8v0.8h-0.8zM212.1 657.5h0.8v0.8h-0.8zM193.3 657.9h0.8v0.8h-0.8zM205.9 657.5h0.8v0.8h-0.8zM201.0 659.2h0.8v0.8h-0.8zM206.2 657.6h0.8v0.8h-0.8zM212.4 657.2h0.8v0.8h-0.8zM207.4 655.4h0.8v0.8h-0.8zM212.4 657.0h0.8v0.8h-0.8zM202.8 657.1h0.8v0.8h-0.8zM210.7 655.7h0.8v0.8h-0.8zM209.3 658.1h0.8v0.8h-0.8zM196.6 656.5h0.8v0.8h-0.8zM214.3 656.7h0.8v0.8h-0.8zM213.4 656.5h0.8v0.8h-0.8zM215.5 657.0h0.8v0.8h-0.8zM214.2 656.1h0.8v0.8h-0.8zM197.8 658.0h0.8v0.8h-0.8zM209.6 657.4h0.8v0.8h-0.8zM211.6 656.5h0.8v0.8h-0.8zM206.8 656.2h0.8v0.8h-0.8zM212.9 656.5h0.8v0.8h-0.8zM210.5 656.9h0.8v0.8h-0.8zM208.5 657.5h0.8v0.8h-0.8zM216.1 655.8h0.8v0.8h-0.8zM213.3 655.8h0.8v0.8h-0.8zM205.0 657.0h0.8v0.8h-0.8zM210.1 657.6h0.8v0.8h-0.8zM207.8 657.1h0.8v0.8h-0.8zM207.9 657.0h0.8v0.8h-0.8zM212.2 656.5h0.8v0.8h-0.8zM199.3 657.5h0.8v0.8h-0.8zM211.6 657.0h0.8v0.8h-0.8zM213.1 656.4h0.8v0.8h-0.8zM206.5 656.9h0.8v0.8h-0.8zM215.0 656.0h0.8v0.8h-0.8zM215.8 657.4h0.8v0.8h-0.8zM208.9 657.6h0.8v0.8h-0.8zM214.2 656.0h0.8v0.8h-0.8zM211.3 657.5h0.8v0.8h-0.8zM204.6 657.6h0.8v0.8h-0.8zM203.1 656.3h0.8v0.8h-0.8zM206.6 656.6h0.8v0.8h-0.8zM193.2 658.1h0.8v0.8h-0.8zM202.7 657.0h0.8v0.8h-0.8zM211.9 657.5h0.8v0.8h-0.8zM215.6 657.4h0.8v0.8h-0.8zM211.9 656.8h0.8v0.8h-0.8zM212.8 657.5h0.8v0.8h-0.8zM203.6 656.8h0.8v0.8h-0.8zM211.4 657.7h0.8v0.8h-0.8zM203.7 658.7h0.8v0.8h-0.8zM209.7 657.7h0.8v0.8h-0.8zM199.9 658.9h0.8v0.8h-0.8zM209.4 657.9h0.8v0.8h-0.8zM210.1 657.3h0.8v0.8h-0.8zM199.0 657.0h0.8v0.8h-0.8zM202.7 657.0h0.8v0.8h-0.8zM210.3 656.7h0.8v0.8h-0.8zM213.7 656.0h0.8v0.8h-0.8zM195.3 657.9h0.8v0.8h-0.8zM208.9 656.2h0.8v0.8h-0.8zM207.2 658.1h0.8v0.8h-0.8zM211.8 658.8h0.8v0.8h-0.8zM214.0 655.9h0.8v0.8h-0.8zM212.5 658.0h0.8v0.8h-0.8zM193.3 656.9h0.8v0.8h-0.8zM213.9 656.6h0.8v0.8h-0.8zM215.7 657.7h0.8v0.8h-0.8zM207.3 658.4h0.8v0.8h-0.8zM189.9 658.6h0.8v0.8h-0.8zM196.0 656.9h0.8v0.8h-0.8zM212.7 656.6h0.8v0.8h-0.8zM190.1 656.9h0.8v0.8h-0.8zM211.3 658.0h0.8v0.8h-0.8zM213.0 656.8h0.8v0.8h-0.8zM214.5 656.6h0.8v0.8h-0.8zM196.2 656.8h0.8v0.8h-0.8zM213.4 657.2h0.8v0.8h-0.8zM208.7 655.1h0.8v0.8h-0.8zM203.7 657.9h0.8v0.8h-0.8zM206.4 652.2h0.55v0.55h-0.55zM217.3 657.3h0.55v0.55h-0.55zM206.4 658.8h0.55v0.55h-0.55zM210.4 653.1h0.55v0.55h-0.55zM206.6 657.0h0.55v0.55h-0.55zM215.0 657.3h0.55v0.55h-0.55zM208.5 649.1h0.55v0.55h-0.55zM205.0 656.5h0.55v0.55h-0.55zM205.4 652.1h0.55v0.55h-0.55zM204.5 650.0h0.55v0.55h-0.55zM216.6 650.0h0.55v0.55h-0.55zM205.0 656.5h0.55v0.55h-0.55zM213.0 658.0h0.55v0.55h-0.55zM206.1 655.2h0.55v0.55h-0.55zM218.7 653.3h0.55v0.55h-0.55zM211.9 653.5h0.55v0.55h-0.55zM202.5 653.0h0.55v0.55h-0.55zM205.7 657.5h0.55v0.55h-0.55zM214.1 661.0h0.55v0.55h-0.55zM205.9 654.2h0.55v0.55h-0.55zM212.6 653.9h0.55v0.55h-0.55zM205.8 654.9h0.55v0.55h-0.55zM214.5 653.6h0.55v0.55h-0.55zM218.2 653.8h0.55v0.55h-0.55zM214.9 657.5h0.55v0.55h-0.55zM207.7 655.5h0.55v0.55h-0.55zM216.2 652.2h0.55v0.55h-0.55zM215.4 654.9h0.55v0.55h-0.55zM214.3 658.3h0.55v0.55h-0.55zM212.2 653.7h0.55v0.55h-0.55zM210.6 652.5h0.55v0.55h-0.55zM200.6 660.1h0.55v0.55h-0.55zM206.5 649.1h0.55v0.55h-0.55zM211.6 650.8h0.55v0.55h-0.55zM212.1 659.4h0.55v0.55h-0.55zM216.5 657.9h0.55v0.55h-0.55zM208.6 653.1h0.55v0.55h-0.55zM200.3 652.2h0.55v0.55h-0.55zM208.8 653.5h0.55v0.55h-0.55zM217.9 654.4h0.55v0.55h-0.55zM208.8 657.9h0.55v0.55h-0.55zM207.6 657.6h0.55v0.55h-0.55zM212.6 653.3h0.55v0.55h-0.55zM213.9 654.6h0.55v0.55h-0.55zM208.0 657.1h0.55v0.55h-0.55zM210.8 654.2h0.55v0.55h-0.55zM214.8 659.2h0.55v0.55h-0.55zM210.2 654.0h0.55v0.55h-0.55zM208.9 655.8h0.55v0.55h-0.55zM215.5 651.2h0.55v0.55h-0.55zM217.9 656.5h0.55v0.55h-0.55zM210.5 662.6h0.55v0.55h-0.55zM216.5 660.3h0.55v0.55h-0.55zM208.7 658.5h0.55v0.55h-0.55zM202.7 654.0h0.55v0.55h-0.55zM205.6 658.9h0.55v0.55h-0.55zM212.3 651.9h0.55v0.55h-0.55zM215.0 656.3h0.55v0.55h-0.55zM213.1 663.5h0.55v0.55h-0.55zM202.1 657.9h0.55v0.55h-0.55zM207.3 656.4h0.55v0.55h-0.55zM212.9 659.1h0.55v0.55h-0.55zM214.4 657.1h0.55v0.55h-0.55zM199.3 654.2h0.55v0.55h-0.55zM211.2 654.6h0.55v0.55h-0.55zM207.3 657.5h0.55v0.55h-0.55zM210.6 654.2h0.55v0.55h-0.55zM209.0 653.5h0.55v0.55h-0.55zM206.9 653.9h0.55v0.55h-0.55zM214.5 659.7h0.55v0.55h-0.55zM212.6 653.4h0.55v0.55h-0.55zM208.2 656.6h0.55v0.55h-0.55zM207.6 657.5h0.55v0.55h-0.55zM217.6 659.3h0.55v0.55h-0.55zM207.0 656.1h0.55v0.55h-0.55zM210.1 656.9h0.55v0.55h-0.55zM205.7 655.8h0.55v0.55h-0.55zM211.4 653.3h0.55v0.55h-0.55zM210.9 656.9h0.55v0.55h-0.55zM209.6 654.0h0.55v0.55h-0.55zM211.4 656.3h0.55v0.55h-0.55zM206.4 654.8h0.55v0.55h-0.55zM210.2 653.0h0.55v0.55h-0.55zM212.2 653.8h0.55v0.55h-0.55zM204.7 658.3h0.55v0.55h-0.55zM215.9 652.1h0.55v0.55h-0.55zM208.1 652.8h0.55v0.55h-0.55zM201.1 658.0h0.55v0.55h-0.55zM208.0 657.6h0.55v0.55h-0.55zM208.1 652.5h0.55v0.55h-0.55zM213.7 654.2h0.55v0.55h-0.55zM213.8 651.7h0.55v0.55h-0.55zM216.8 659.6h0.55v0.55h-0.55zM207.1 649.9h0.55v0.55h-0.55zM201.1 654.6h0.55v0.55h-0.55zM200.9 654.2h0.55v0.55h-0.55zM211.2 653.8h0.55v0.55h-0.55zM212.3 654.4h0.55v0.55h-0.55zM206.2 655.3h0.55v0.55h-0.55zM206.9 656.1h0.55v0.55h-0.55zM207.8 659.3h0.55v0.55h-0.55zM205.9 657.2h0.55v0.55h-0.55zM211.9 656.6h0.55v0.55h-0.55zM208.6 653.0h0.55v0.55h-0.55zM201.3 653.1h0.55v0.55h-0.55zM213.3 656.4h0.55v0.55h-0.55zM214.1 652.2h0.55v0.55h-0.55zM211.2 654.0h0.55v0.55h-0.55zM202.3 657.5h0.55v0.55h-0.55zM217.3 654.6h0.55v0.55h-0.55zM214.3 655.0h0.55v0.55h-0.55zM205.1 650.4h0.55v0.55h-0.55zM213.5 658.3h0.55v0.55h-0.55zM208.1 658.2h0.55v0.55h-0.55zM213.8 653.6h0.55v0.55h-0.55zM214.2 657.5h0.55v0.55h-0.55zM207.2 654.4h0.55v0.55h-0.55zM211.6 653.4h0.55v0.55h-0.55zM204.6 655.9h0.55v0.55h-0.55zM219.8 656.3h0.55v0.55h-0.55zM198.4 656.5h0.45v0.45h-0.45zM204.5 666.2h0.45v0.45h-0.45zM197.8 660.9h0.45v0.45h-0.45zM199.8 655.4h0.45v0.45h-0.45zM194.9 651.4h0.45v0.45h-0.45zM186.4 662.9h0.45v0.45h-0.45zM196.4 667.8h0.45v0.45h-0.45zM198.7 665.7h0.45v0.45h-0.45zM199.4 658.8h0.45v0.45h-0.45zM200.6 654.4h0.45v0.45h-0.45zM205.7 663.2h0.45v0.45h-0.45zM194.5 664.4h0.45v0.45h-0.45zM194.6 656.9h0.45v0.45h-0.45zM198.6 670.2h0.45v0.45h-0.45zM197.7 668.7h0.45v0.45h-0.45zM193.5 670.1h0.45v0.45h-0.45zM204.8 666.1h0.45v0.45h-0.45zM187.1 669.1h0.45v0.45h-0.45zM197.2 660.1h0.45v0.45h-0.45zM202.4 662.5h0.45v0.45h-0.45zM202.7 662.2h0.45v0.45h-0.45zM189.0 669.6h0.45v0.45h-0.45zM189.9 661.2h0.45v0.45h-0.45zM190.1 652.3h0.45v0.45h-0.45zM195.7 659.0h0.45v0.45h-0.45zM187.5 667.6h0.45v0.45h-0.45zM197.1 662.9h0.45v0.45h-0.45zM188.5 657.9h0.45v0.45h-0.45zM200.8 663.1h0.45v0.45h-0.45zM193.6 657.6h0.45v0.45h-0.45zM204.3 660.5h0.45v0.45h-0.45zM189.7 664.4h0.45v0.45h-0.45zM198.7 665.1h0.45v0.45h-0.45zM191.0 660.1h0.45v0.45h-0.45zM192.6 651.8h0.45v0.45h-0.45zM195.3 663.7h0.45v0.45h-0.45zM195.8 669.0h0.45v0.45h-0.45zM191.6 664.7h0.45v0.45h-0.45zM202.5 665.4h0.45v0.45h-0.45zM188.6 670.3h0.45v0.45h-0.45zM189.2 651.6h0.45v0.45h-0.45zM197.7 656.8h0.45v0.45h-0.45zM192.4 653.9h0.45v0.45h-0.45zM202.2 651.6h0.45v0.45h-0.45zM192.0 670.7h0.45v0.45h-0.45zM188.0 664.9h0.45v0.45h-0.45zM198.6 658.1h0.45v0.45h-0.45zM198.4 654.2h0.45v0.45h-0.45zM202.7 667.8h0.45v0.45h-0.45zM199.8 651.6h0.45v0.45h-0.45zM192.2 654.1h0.45v0.45h-0.45zM205.8 651.2h0.45v0.45h-0.45zM201.4 669.8h0.45v0.45h-0.45zM204.8 655.4h0.45v0.45h-0.45zM203.7 653.3h0.45v0.45h-0.45zM194.4 665.8h0.45v0.45h-0.45zM194.6 655.5h0.45v0.45h-0.45zM198.1 658.7h0.45v0.45h-0.45zM203.0 667.3h0.45v0.45h-0.45zM187.0 667.3h0.45v0.45h-0.45zM189.8 655.2h0.45v0.45h-0.45zM206.1 669.8h0.45v0.45h-0.45zM197.3 668.6h0.45v0.45h-0.45zM197.8 656.0h0.45v0.45h-0.45zM196.1 664.1h0.45v0.45h-0.45zM187.6 657.5h0.45v0.45h-0.45zM201.3 663.9h0.45v0.45h-0.45zM186.8 653.6h0.45v0.45h-0.45zM205.8 653.4h0.45v0.45h-0.45zM203.8 665.7h0.45v0.45h-0.45zM191.4 656.3h0.45v0.45h-0.45zM193.4 653.5h0.45v0.45h-0.45zM189.3 670.7h0.45v0.45h-0.45zM195.7 667.7h0.45v0.45h-0.45zM202.0 655.1h0.45v0.45h-0.45zM201.0 667.1h0.45v0.45h-0.45zM187.0 658.0h0.45v0.45h-0.45zM193.5 662.0h0.45v0.45h-0.45zM197.1 660.1h0.45v0.45h-0.45zM204.1 670.5h0.45v0.45h-0.45zM195.2 668.7h0.45v0.45h-0.45zM190.3 669.1h0.45v0.45h-0.45zM186.3 665.4h0.45v0.45h-0.45zM197.6 664.7h0.45v0.45h-0.45zM191.5 663.9h0.45v0.45h-0.45zM194.9 655.4h0.45v0.45h-0.45zM194.4 664.2h0.45v0.45h-0.45zM206.1 668.4h0.45v0.45h-0.45zM199.9 660.3h0.45v0.45h-0.45zM199.9 655.6h0.45v0.45h-0.45zM205.1 668.6h0.45v0.45h-0.45zM204.1 658.6h0.45v0.45h-0.45zM197.6 658.3h0.45v0.45h-0.45zM213.6 658.6h0.45v0.45h-0.45zM216.0 663.7h0.45v0.45h-0.45zM208.6 662.8h0.45v0.45h-0.45zM214.3 667.4h0.45v0.45h-0.45zM212.0 665.0h0.45v0.45h-0.45zM202.8 665.1h0.45v0.45h-0.45zM206.9 664.5h0.45v0.45h-0.45zM219.6 665.1h0.45v0.45h-0.45zM215.9 664.1h0.45v0.45h-0.45zM206.6 669.2h0.45v0.45h-0.45zM202.2 667.9h0.45v0.45h-0.45zM213.7 661.0h0.45v0.45h-0.45zM200.5 669.2h0.45v0.45h-0.45zM218.0 663.8h0.45v0.45h-0.45zM200.8 660.6h0.45v0.45h-0.45zM209.8 660.9h0.45v0.45h-0.45zM197.6 666.3h0.45v0.45h-0.45zM217.6 658.9h0.45v0.45h-0.45zM218.7 658.4h0.45v0.45h-0.45zM201.2 659.6h0.45v0.45h-0.45zM207.5 661.8h0.45v0.45h-0.45zM207.9 660.7h0.45v0.45h-0.45zM208.6 667.1h0.45v0.45h-0.45zM205.1 660.6h0.45v0.45h-0.45zM213.3 667.1h0.45v0.45h-0.45zM214.2 670.8h0.45v0.45h-0.45zM204.8 665.6h0.45v0.45h-0.45zM210.4 663.3h0.45v0.45h-0.45zM207.1 663.6h0.45v0.45h-0.45zM205.7 663.6h0.45v0.45h-0.45zM215.2 666.1h0.45v0.45h-0.45zM217.8 669.6h0.45v0.45h-0.45zM203.8 661.1h0.45v0.45h-0.45zM208.9 669.7h0.45v0.45h-0.45zM199.5 662.8h0.45v0.45h-0.45zM208.1 659.2h0.45v0.45h-0.45zM217.1 669.0h0.45v0.45h-0.45zM204.0 668.2h0.45v0.45h-0.45zM201.3 659.4h0.45v0.45h-0.45zM211.7 662.2h0.45v0.45h-0.45zM205.3 668.5h0.45v0.45h-0.45zM214.4 666.2h0.45v0.45h-0.45zM217.2 662.1h0.45v0.45h-0.45zM216.7 668.5h0.45v0.45h-0.45zM210.0 661.3h0.45v0.45h-0.45zM207.2 668.0h0.45v0.45h-0.45zM218.7 662.0h0.45v0.45h-0.45zM212.0 669.7h0.45v0.45h-0.45zM218.8 660.1h0.45v0.45h-0.45zM207.8 660.3h0.45v0.45h-0.45zM214.9 667.9h0.45v0.45h-0.45zM218.8 663.3h0.45v0.45h-0.45zM213.5 658.2h0.45v0.45h-0.45zM201.6 664.0h0.45v0.45h-0.45zM209.3 664.5h0.45v0.45h-0.45zM209.9 665.2h0.45v0.45h-0.45zM212.2 658.5h0.45v0.45h-0.45zM215.4 658.4h0.45v0.45h-0.45zM196.6 665.7h0.45v0.45h-0.45zM196.3 667.6h0.45v0.45h-0.45zM205.3 665.0h0.45v0.45h-0.45zM217.9 666.4h0.45v0.45h-0.45zM214.7 660.6h0.45v0.45h-0.45zM206.4 662.9h0.45v0.45h-0.45zM201.6 663.7h0.45v0.45h-0.45zM204.9 662.8h0.45v0.45h-0.45zM196.8 664.5h0.45v0.45h-0.45zM204.8 675.7h0.45v0.45h-0.45zM215.2 681.7h0.45v0.45h-0.45zM201.8 684.1h0.45v0.45h-0.45zM214.0 673.2h0.45v0.45h-0.45zM198.5 673.4h0.45v0.45h-0.45zM216.5 682.2h0.45v0.45h-0.45zM208.6 681.0h0.45v0.45h-0.45zM217.7 679.3h0.45v0.45h-0.45zM197.6 675.2h0.45v0.45h-0.45zM202.1 680.6h0.45v0.45h-0.45zM202.7 681.0h0.45v0.45h-0.45zM197.9 682.6h0.45v0.45h-0.45zM199.6 674.7h0.45v0.45h-0.45zM213.1 672.6h0.45v0.45h-0.45zM199.1 680.5h0.45v0.45h-0.45zM215.2 672.4h0.45v0.45h-0.45zM199.8 680.6h0.45v0.45h-0.45zM203.2 683.1h0.45v0.45h-0.45zM203.7 676.1h0.45v0.45h-0.45zM210.9 672.8h0.45v0.45h-0.45zM216.0 674.8h0.45v0.45h-0.45zM212.6 683.8h0.45v0.45h-0.45zM214.9 680.6h0.45v0.45h-0.45zM198.9 677.9h0.45v0.45h-0.45zM200.8 682.0h0.45v0.45h-0.45zM197.0 674.7h0.45v0.45h-0.45zM211.6 680.8h0.45v0.45h-0.45zM215.1 682.7h0.45v0.45h-0.45zM215.4 679.5h0.45v0.45h-0.45zM205.6 684.0h0.45v0.45h-0.45zM200.0 673.0h0.45v0.45h-0.45zM202.7 684.6h0.45v0.45h-0.45zM205.0 676.3h0.45v0.45h-0.45zM200.6 682.7h0.45v0.45h-0.45zM202.1 675.0h0.45v0.45h-0.45zM212.0 682.0h0.45v0.45h-0.45zM203.0 683.0h0.45v0.45h-0.45zM211.1 678.5h0.45v0.45h-0.45zM216.8 681.3h0.45v0.45h-0.45zM198.4 672.8h0.45v0.45h-0.45zM212.1 680.6h0.45v0.45h-0.45zM199.1 684.1h0.45v0.45h-0.45zM199.5 674.4h0.45v0.45h-0.45zM202.9 680.8h0.45v0.45h-0.45zM211.6 684.9h0.45v0.45h-0.45zM202.4 672.9h0.45v0.45h-0.45zM200.8 674.8h0.45v0.45h-0.45zM215.0 677.9h0.45v0.45h-0.45zM205.8 679.3h0.45v0.45h-0.45zM216.2 673.8h0.45v0.45h-0.45zM205.0 675.2h0.45v0.45h-0.45zM201.9 684.7h0.45v0.45h-0.45zM199.0 677.1h0.45v0.45h-0.45zM215.7 684.8h0.45v0.45h-0.45zM211.8 677.7h0.45v0.45h-0.45zM207.5 681.6h0.45v0.45h-0.45zM218.3 684.8h0.45v0.45h-0.45zM209.9 685.2h0.45v0.45h-0.45zM205.9 678.8h0.45v0.45h-0.45zM215.2 684.1h0.45v0.45h-0.45zM214.4 680.4h0.45v0.45h-0.45zM198.0 679.5h0.45v0.45h-0.45zM213.2 678.8h0.45v0.45h-0.45zM209.7 683.4h0.45v0.45h-0.45zM202.4 679.5h0.45v0.45h-0.45zM215.6 685.5h0.45v0.45h-0.45zM216.2 672.6h0.45v0.45h-0.45zM210.1 681.8h0.45v0.45h-0.45zM214.7 684.3h0.45v0.45h-0.45zM207.2 678.0h0.45v0.45h-0.45zM198.8 683.7h0.45v0.45h-0.45zM212.9 684.0h0.45v0.45h-0.45zM204.5 675.9h0.45v0.45h-0.45zM204.0 681.5h0.45v0.45h-0.45zM201.9 672.4h0.45v0.45h-0.45zM206.2 677.1h0.45v0.45h-0.45zM209.0 679.2h0.45v0.45h-0.45zM218.1 674.3h0.45v0.45h-0.45zM216.5 685.7h0.45v0.45h-0.45zM211.0 679.3h0.45v0.45h-0.45zM203.8 685.4h0.45v0.45h-0.45zM207.2 684.6h0.45v0.45h-0.45zM210.3 674.0h0.45v0.45h-0.45zM207.3 677.3h0.45v0.45h-0.45zM205.4 674.0h0.45v0.45h-0.45zM206.4 676.4h0.45v0.45h-0.45zM202.2 683.3h0.45v0.45h-0.45zM203.5 678.4h0.45v0.45h-0.45zM199.6 674.5h0.45v0.45h-0.45zM217.5 673.0h0.45v0.45h-0.45zM209.9 674.6h0.45v0.45h-0.45zM208.6 682.8h0.45v0.45h-0.45zM209.5 681.8h0.45v0.45h-0.45zM208.0 685.1h0.45v0.45h-0.45zM206.3 676.1h0.45v0.45h-0.45zM203.2 684.6h0.45v0.45h-0.45zM212.3 682.5h0.45v0.45h-0.45zM211.1 681.3h0.45v0.45h-0.45zM202.9 684.5h0.45v0.45h-0.45zM215.0 681.1h0.45v0.45h-0.45zM217.7 682.7h0.45v0.45h-0.45zM200.0 684.9h0.45v0.45h-0.45zM211.5 684.4h0.45v0.45h-0.45zM207.0 672.8h0.45v0.45h-0.45zM203.6 680.9h0.45v0.45h-0.45zM199.7 672.9h0.45v0.45h-0.45zM217.2 676.5h0.45v0.45h-0.45zM210.9 675.4h0.45v0.45h-0.45zM201.2 683.1h0.45v0.45h-0.45zM202.0 679.9h0.45v0.45h-0.45zM206.5 676.8h0.45v0.45h-0.45zM214.8 685.7h0.45v0.45h-0.45zM209.8 677.0h0.45v0.45h-0.45zM198.3 682.9h0.45v0.45h-0.45zM216.7 685.5h0.45v0.45h-0.45zM198.1 682.4h0.45v0.45h-0.45zM199.9 676.7h0.45v0.45h-0.45zM213.4 682.7h0.45v0.45h-0.45zM201.1 680.7h0.45v0.45h-0.45zM208.7 676.6h0.45v0.45h-0.45z"/>
<line x1="196.6" y1="634.5" x2="196.6" y2="686.3" stroke="#555" stroke-width="0.9"/>
<line x1="184.3" y1="671.3" x2="234.9" y2="671.3" stroke="#555" stroke-width="0.9"/>
<text x="184.6" y="639.04" font-size="4.3" font-weight="bold" fill="#111">B1</text>
<text x="197.3" y="639.04" font-size="4.3" font-weight="bold" fill="#111">B2</text>
<text x="184.6" y="675.84" font-size="4.3" font-weight="bold" fill="#111">B3</text>
<text x="197.3" y="675.84" font-size="4.3" font-weight="bold" fill="#111">B4</text>
<text x="196" y="645.44" font-size="4.3" text-anchor="end" font-weight="bold" fill="#111" textLength="8.4" lengthAdjust="spacingAndGlyphs">9.8%</text>
<text x="198.2" y="645.44" font-size="4.3" font-weight="bold" fill="#111" textLength="10.5" lengthAdjust="spacingAndGlyphs">37.1%</text>
<text x="196" y="681.04" font-size="4.3" text-anchor="end" font-weight="bold" fill="#111" textLength="10.5" lengthAdjust="spacingAndGlyphs">37.8%</text>
<text x="198.2" y="681.04" font-size="4.3" font-weight="bold" fill="#111" textLength="10.5" lengthAdjust="spacingAndGlyphs">14.9%</text>
<text x="180.3" y="636.36" font-size="3.8" text-anchor="middle" fill="#444">10<tspan font-size="2.6" dy="-1.3">4</tspan></text>
<text x="180.3" y="648.63" font-size="3.8" text-anchor="middle" fill="#444">10<tspan font-size="2.6" dy="-1.3">3</tspan></text>
<text x="180.3" y="660.89" font-size="3.8" text-anchor="middle" fill="#444">10<tspan font-size="2.6" dy="-1.3">2</tspan></text>
<text x="180.3" y="673.16" font-size="3.8" text-anchor="middle" fill="#444">10<tspan font-size="2.6" dy="-1.3">1</tspan></text>
<text x="198.2" y="690.26" font-size="3.8" text-anchor="middle" fill="#444">10<tspan font-size="2.6" dy="-1.3">0</tspan></text>
<text x="210.03" y="690.26" font-size="3.8" text-anchor="middle" fill="#444">10<tspan font-size="2.6" dy="-1.3">1</tspan></text>
<text x="221.87" y="690.26" font-size="3.8" text-anchor="middle" fill="#444">10<tspan font-size="2.6" dy="-1.3">2</tspan></text>
<text x="233.7" y="690.26" font-size="3.8" text-anchor="middle" fill="#444">10<tspan font-size="2.6" dy="-1.3">3</tspan></text>
<text x="209.28" y="631.21" font-size="8.4" text-anchor="middle" fill="#222" letter-spacing="0.55">si-TEFM#2</text>
<text x="174.5" y="660.4" font-size="8.4" text-anchor="middle" fill="#222" transform="rotate(-90 174.5 660.4)">P I</text>
<text x="209.42" y="699.48" font-size="8.6" text-anchor="middle" fill="#222" letter-spacing="0.25">Annexin V</text>
<rect x="385.2" y="631.1" width="60" height="59.4" fill="#f7f7f7"/>
<rect x="393.2" y="633.7" width="50.6" height="51.8" fill="#f8f8f8" stroke="#999" stroke-width="0.6"/>
<ellipse cx="400.3" cy="679.5" rx="2.6" ry="2.47" fill="#f01010"/>
<path fill="#f00a0a" fill-opacity="0.8" d="M402.3 680.9h1v1h-1zM397.2 675.4h1v1h-1zM399.7 680.5h1v1h-1zM399.6 676.3h1v1h-1zM398.9 681.8h1v1h-1zM397.1 681.1h1v1h-1zM400.9 680.0h1v1h-1zM401.4 678.1h1v1h-1zM399.7 682.5h1v1h-1zM399.1 678.3h1v1h-1zM397.1 678.2h1v1h-1zM401.4 681.5h1v1h-1zM401.2 680.3h1v1h-1zM401.1 679.7h1v1h-1zM401.9 678.8h1v1h-1zM402.0 679.0h1v1h-1zM396.7 676.7h1v1h-1zM399.5 678.2h1v1h-1zM397.5 677.7h1v1h-1zM400.3 679.9h1v1h-1zM401.6 677.5h1v1h-1zM400.7 681.1h1v1h-1zM400.6 682.4h1v1h-1zM399.0 679.1h1v1h-1zM400.3 678.4h1v1h-1zM399.8 679.5h1v1h-1zM399.8 678.2h1v1h-1zM399.0 679.0h1v1h-1zM396.9 679.5h1v1h-1zM397.7 678.6h1v1h-1zM397.8 679.3h1v1h-1zM399.2 678.6h1v1h-1zM398.5 679.3h1v1h-1zM403.0 675.7h1v1h-1zM400.9 679.5h1v1h-1zM399.1 676.7h1v1h-1zM403.0 679.5h1v1h-1zM401.9 678.4h1v1h-1zM398.4 681.1h1v1h-1zM401.4 678.5h1v1h-1zM399.5 680.3h1v1h-1zM398.3 677.6h1v1h-1zM399.8 681.0h1v1h-1zM401.6 679.5h1v1h-1zM402.5 678.8h1v1h-1zM398.9 683.5h1v1h-1zM398.9 680.2h1v1h-1zM401.0 679.3h1v1h-1zM400.4 680.4h1v1h-1zM401.0 678.0h1v1h-1zM399.9 681.7h1v1h-1zM401.3 678.3h1v1h-1zM400.0 677.3h1v1h-1zM397.4 678.1h1v1h-1zM403.0 678.0h1v1h-1zM396.1 678.9h1v1h-1zM398.6 680.5h1v1h-1zM402.3 678.5h1v1h-1zM400.2 677.5h1v1h-1zM402.3 677.8h1v1h-1zM400.0 683.5h1v1h-1zM398.1 679.4h1v1h-1zM399.8 680.0h1v1h-1zM400.8 681.9h1v1h-1zM400.9 680.2h1v1h-1zM397.5 679.9h1v1h-1zM397.3 681.4h1v1h-1zM399.8 680.9h1v1h-1zM399.0 679.6h1v1h-1zM400.1 680.2h1v1h-1zM399.7 678.0h1v1h-1zM399.2 677.9h1v1h-1zM398.1 676.9h1v1h-1zM397.1 682.6h1v1h-1zM398.5 677.1h1v1h-1zM401.9 679.7h1v1h-1zM399.7 681.2h1v1h-1zM403.5 677.6h1v1h-1zM402.7 680.2h1v1h-1zM402.2 678.1h1v1h-1zM403.2 681.3h1v1h-1zM394.9 681.5h1v1h-1zM402.5 676.6h1v1h-1zM400.6 678.8h1v1h-1zM400.4 677.5h1v1h-1zM401.2 680.5h1v1h-1zM399.7 679.0h1v1h-1zM396.6 680.1h1v1h-1zM397.4 679.2h1v1h-1zM398.4 684.0h1v1h-1zM399.9 682.0h1v1h-1zM399.9 679.0h1v1h-1zM401.4 679.1h1v1h-1zM404.5 678.8h1v1h-1zM403.1 676.9h1v1h-1zM398.2 680.3h1v1h-1zM397.2 682.8h1v1h-1zM401.0 679.3h1v1h-1zM403.4 678.2h1v1h-1zM398.5 674.3h1v1h-1zM396.1 678.6h1v1h-1zM395.9 680.5h1v1h-1zM401.8 680.0h1v1h-1zM396.8 677.5h1v1h-1zM397.2 680.4h1v1h-1zM401.9 678.7h1v1h-1zM400.1 679.5h1v1h-1zM401.4 677.5h1v1h-1zM398.1 680.6h1v1h-1zM400.9 680.0h1v1h-1zM400.0 680.6h1v1h-1zM400.9 678.0h1v1h-1zM403.3 681.2h1v1h-1zM399.5 678.9h1v1h-1zM398.5 676.5h1v1h-1zM397.9 676.5h1v1h-1zM398.6 679.7h1v1h-1zM399.8 676.4h1v1h-1zM399.5 677.9h1v1h-1zM397.8 681.2h1v1h-1zM397.9 680.8h1v1h-1zM396.6 679.6h1v1h-1zM398.5 680.9h1v1h-1zM400.7 677.7h1v1h-1zM401.2 681.5h1v1h-1zM402.5 681.9h1v1h-1zM399.2 683.2h1v1h-1zM398.8 678.9h1v1h-1zM396.9 678.7h1v1h-1zM397.1 679.3h1v1h-1zM396.5 682.6h1v1h-1zM401.5 682.1h1v1h-1zM402.3 679.4h1v1h-1zM400.9 679.5h1v1h-1zM396.2 676.9h1v1h-1zM399.2 680.9h1v1h-1zM397.2 679.5h1v1h-1zM398.8 680.5h1v1h-1zM401.4 677.2h1v1h-1zM397.7 681.9h1v1h-1zM402.0 679.1h1v1h-1zM401.6 679.3h1v1h-1zM400.9 678.4h1v1h-1zM401.0 682.3h1v1h-1zM402.8 681.5h1v1h-1zM400.2 681.0h1v1h-1zM399.1 678.6h1v1h-1zM400.2 677.1h1v1h-1zM400.3 675.9h1v1h-1zM403.2 680.7h1v1h-1zM400.5 677.8h1v1h-1zM398.8 678.4h1v1h-1zM396.7 678.3h1v1h-1zM398.1 680.7h1v1h-1zM402.6 681.9h1v1h-1zM397.3 676.5h1v1h-1zM402.8 680.6h1v1h-1zM402.0 680.4h1v1h-1zM400.4 683.2h1v1h-1zM401.7 680.4h1v1h-1zM398.0 679.4h1v1h-1zM402.6 680.2h1v1h-1zM401.8 678.8h1v1h-1zM401.4 678.1h1v1h-1zM399.6 681.2h1v1h-1zM403.3 678.5h1v1h-1zM399.5 678.7h1v1h-1zM399.6 679.2h1v1h-1zM401.7 679.8h1v1h-1zM399.9 680.0h1v1h-1zM396.4 678.9h1v1h-1zM403.9 677.2h1v1h-1zM398.8 679.6h1v1h-1zM401.9 678.6h1v1h-1zM397.8 682.1h1v1h-1zM395.3 677.4h1v1h-1zM398.4 674.7h1v1h-1zM402.6 682.8h1v1h-1zM396.9 678.3h1v1h-1zM399.4 680.4h1v1h-1zM399.5 680.2h1v1h-1zM400.9 678.9h1v1h-1zM400.0 681.8h1v1h-1zM400.3 680.4h1v1h-1zM399.9 680.5h1v1h-1zM403.2 679.3h1v1h-1zM399.0 677.7h1v1h-1zM402.0 677.7h1v1h-1zM400.9 683.9h1v1h-1zM400.4 682.5h1v1h-1zM400.0 679.0h1v1h-1zM401.1 677.5h1v1h-1zM395.1 679.0h1v1h-1zM398.5 679.5h1v1h-1zM403.9 680.3h1v1h-1zM396.9 679.9h1v1h-1zM396.4 675.0h1v1h-1zM404.2 677.4h1v1h-1zM395.5 679.0h1v1h-1zM399.5 680.0h1v1h-1zM399.6 678.7h1v1h-1zM401.6 678.8h1v1h-1zM398.4 679.8h1v1h-1zM398.8 681.2h1v1h-1zM400.0 678.8h1v1h-1zM399.1 680.3h1v1h-1zM402.0 678.6h1v1h-1zM395.5 680.6h1v1h-1zM398.4 680.3h1v1h-1zM398.7 679.9h1v1h-1zM399.4 677.6h1v1h-1zM397.3 679.0h1v1h-1zM400.2 676.0h1v1h-1zM395.0 679.6h1v1h-1zM404.3 677.6h1v1h-1zM399.4 677.1h1v1h-1zM397.4 682.0h1v1h-1zM396.6 679.6h1v1h-1zM398.4 680.3h1v1h-1zM403.1 679.4h1v1h-1zM399.3 681.2h1v1h-1zM399.3 675.6h1v1h-1zM402.7 678.1h1v1h-1zM400.4 683.4h1v1h-1zM401.8 679.8h1v1h-1zM403.3 677.4h1v1h-1zM396.6 677.0h1v1h-1zM400.2 679.6h1v1h-1zM398.6 683.3h1v1h-1zM401.6 679.5h1v1h-1zM398.5 679.0h1v1h-1zM400.6 678.4h1v1h-1zM405.8 682.5h1v1h-1zM401.3 679.2h1v1h-1zM396.4 681.2h1v1h-1zM398.6 681.2h1v1h-1zM400.8 676.6h1v1h-1zM400.1 678.8h1v1h-1zM399.5 679.0h1v1h-1zM400.2 678.8h1v1h-1zM401.7 680.2h1v1h-1zM399.7 678.9h1v1h-1zM399.3 678.4h1v1h-1zM399.6 679.6h1v1h-1zM399.4 675.6h1v1h-1zM400.1 677.4h1v1h-1zM399.9 684.0h1v1h-1zM402.0 674.5h1v1h-1zM396.4 681.1h1v1h-1zM398.4 676.1h1v1h-1zM396.4 678.8h1v1h-1zM398.3 679.1h1v1h-1zM399.3 679.2h1v1h-1zM399.1 677.6h1v1h-1zM401.4 682.2h1v1h-1zM398.2 678.8h1v1h-1zM404.1 677.0h1v1h-1zM397.7 680.2h1v1h-1zM401.8 679.1h1v1h-1zM402.3 678.9h1v1h-1zM400.4 679.1h1v1h-1zM400.6 679.2h1v1h-1zM402.9 680.6h1v1h-1zM403.3 678.9h1v1h-1zM398.4 678.0h1v1h-1zM399.1 679.8h1v1h-1zM399.1 679.7h1v1h-1zM400.8 676.9h1v1h-1zM397.1 681.7h1v1h-1zM398.6 682.8h1v1h-1zM399.3 676.5h1v1h-1zM397.6 677.6h1v1h-1zM405.3 675.5h1v1h-1zM395.2 677.4h1v1h-1zM400.0 683.4h1v1h-1zM402.0 677.3h1v1h-1zM403.1 681.6h1v1h-1zM398.6 680.3h1v1h-1zM400.7 678.9h1v1h-1zM399.0 678.0h1v1h-1zM400.9 678.1h1v1h-1zM401.7 680.5h1v1h-1zM396.7 679.9h1v1h-1zM399.6 680.6h1v1h-1zM399.2 681.4h1v1h-1zM401.6 680.9h1v1h-1zM401.2 676.5h1v1h-1zM399.8 681.3h1v1h-1zM401.8 680.3h1v1h-1zM399.9 679.0h1v1h-1zM397.2 675.7h1v1h-1zM399.6 680.7h1v1h-1zM399.4 678.1h1v1h-1zM399.6 681.7h1v1h-1zM398.7 679.0h1v1h-1zM400.6 681.2h1v1h-1zM400.8 678.2h1v1h-1zM398.9 677.0h1v1h-1zM399.5 681.0h1v1h-1zM400.3 678.3h1v1h-1zM397.7 678.5h1v1h-1zM401.5 680.4h1v1h-1zM400.9 680.8h1v1h-1zM402.4 679.6h1v1h-1zM401.3 675.5h1v1h-1zM401.3 678.5h1v1h-1zM400.5 677.4h1v1h-1zM399.4 677.0h1v1h-1zM399.8 677.2h1v1h-1zM402.1 678.6h1v1h-1zM400.3 678.0h1v1h-1zM399.7 677.8h1v1h-1zM398.3 680.1h1v1h-1zM398.6 676.9h1v1h-1zM399.2 683.5h1v1h-1zM402.1 679.6h1v1h-1zM400.6 679.8h1v1h-1zM400.8 683.6h1v1h-1zM403.1 679.5h1v1h-1zM396.5 677.4h1v1h-1zM400.9 677.9h0.8v0.8h-0.8zM401.5 678.4h0.8v0.8h-0.8zM401.6 680.5h0.8v0.8h-0.8zM398.6 675.6h0.8v0.8h-0.8zM399.1 677.3h0.8v0.8h-0.8zM397.1 679.5h0.8v0.8h-0.8zM403.9 678.2h0.8v0.8h-0.8zM398.8 676.2h0.8v0.8h-0.8zM401.0 679.9h0.8v0.8h-0.8zM400.7 683.6h0.8v0.8h-0.8zM401.0 682.2h0.8v0.8h-0.8zM399.0 680.4h0.8v0.8h-0.8zM397.4 681.5h0.8v0.8h-0.8zM404.7 676.7h0.8v0.8h-0.8zM397.5 680.0h0.8v0.8h-0.8zM400.1 681.7h0.8v0.8h-0.8zM401.8 679.9h0.8v0.8h-0.8zM396.6 681.3h0.8v0.8h-0.8zM400.5 679.3h0.8v0.8h-0.8zM399.3 678.9h0.8v0.8h-0.8zM402.0 675.4h0.8v0.8h-0.8zM400.1 680.2h0.8v0.8h-0.8zM396.5 680.8h0.8v0.8h-0.8zM399.1 677.8h0.8v0.8h-0.8zM399.2 676.8h0.8v0.8h-0.8zM405.3 677.4h0.8v0.8h-0.8zM400.0 678.3h0.8v0.8h-0.8zM400.7 679.4h0.8v0.8h-0.8zM399.1 679.4h0.8v0.8h-0.8zM400.6 679.9h0.8v0.8h-0.8zM403.5 679.0h0.8v0.8h-0.8zM399.8 680.7h0.8v0.8h-0.8zM399.6 680.4h0.8v0.8h-0.8zM402.0 673.0h0.8v0.8h-0.8zM400.4 678.1h0.8v0.8h-0.8zM395.0 675.7h0.8v0.8h-0.8zM395.5 682.1h0.8v0.8h-0.8zM403.8 679.4h0.8v0.8h-0.8zM399.8 676.1h0.8v0.8h-0.8zM406.8 683.5h0.8v0.8h-0.8zM400.9 677.0h0.8v0.8h-0.8zM399.7 677.4h0.8v0.8h-0.8zM396.1 676.2h0.8v0.8h-0.8zM397.1 677.3h0.8v0.8h-0.8zM401.4 676.5h0.8v0.8h-0.8zM401.6 679.8h0.8v0.8h-0.8zM403.2 683.0h0.8v0.8h-0.8zM407.5 681.9h0.8v0.8h-0.8zM398.8 678.6h0.8v0.8h-0.8zM409.0 676.2h0.8v0.8h-0.8zM400.3 682.7h0.8v0.8h-0.8zM400.1 680.6h0.8v0.8h-0.8zM405.8 681.8h0.8v0.8h-0.8zM400.3 681.0h0.8v0.8h-0.8zM401.1 681.1h0.8v0.8h-0.8zM402.0 678.5h0.8v0.8h-0.8zM400.3 680.0h0.8v0.8h-0.8zM399.5 677.8h0.8v0.8h-0.8zM403.1 673.1h0.8v0.8h-0.8zM399.3 682.2h0.8v0.8h-0.8zM401.1 676.0h0.8v0.8h-0.8zM397.0 684.8h0.8v0.8h-0.8zM402.3 679.1h0.8v0.8h-0.8zM400.4 678.5h0.8v0.8h-0.8zM401.2 676.8h0.8v0.8h-0.8zM400.6 679.0h0.8v0.8h-0.8zM400.7 681.9h0.8v0.8h-0.8zM394.4 679.0h0.8v0.8h-0.8zM400.6 679.8h0.8v0.8h-0.8zM400.0 680.4h0.8v0.8h-0.8zM403.5 678.0h0.8v0.8h-0.8zM400.7 681.5h0.8v0.8h-0.8zM399.6 682.2h0.8v0.8h-0.8zM397.9 682.6h0.8v0.8h-0.8zM401.0 683.3h0.8v0.8h-0.8zM404.5 676.7h0.8v0.8h-0.8zM403.1 680.7h0.8v0.8h-0.8zM400.4 678.1h0.8v0.8h-0.8zM401.3 678.6h0.8v0.8h-0.8zM400.2 679.3h0.8v0.8h-0.8zM400.4 678.6h0.8v0.8h-0.8zM395.7 679.8h0.8v0.8h-0.8zM399.7 678.9h0.8v0.8h-0.8zM398.4 680.1h0.8v0.8h-0.8zM401.7 677.8h0.8v0.8h-0.8zM398.1 676.5h0.8v0.8h-0.8zM396.2 680.4h0.8v0.8h-0.8zM399.8 683.1h0.8v0.8h-0.8zM395.2 676.1h0.8v0.8h-0.8zM400.5 677.9h0.8v0.8h-0.8zM401.1 676.9h0.8v0.8h-0.8zM404.0 678.5h0.8v0.8h-0.8zM401.2 682.3h0.8v0.8h-0.8zM396.2 678.2h0.8v0.8h-0.8zM396.7 681.5h0.8v0.8h-0.8zM394.4 677.8h0.8v0.8h-0.8zM398.0 681.7h0.8v0.8h-0.8zM405.2 679.4h0.8v0.8h-0.8zM406.0 681.1h0.8v0.8h-0.8zM395.8 678.7h0.8v0.8h-0.8zM396.8 681.4h0.8v0.8h-0.8zM401.4 680.1h0.8v0.8h-0.8zM397.3 678.6h0.8v0.8h-0.8zM396.2 679.0h0.8v0.8h-0.8zM404.5 678.6h0.8v0.8h-0.8zM404.6 679.6h0.8v0.8h-0.8zM397.7 656.6h0.45v0.45h-0.45zM398.2 670.1h0.45v0.45h-0.45zM402.9 661.8h0.45v0.45h-0.45zM403.7 662.9h0.45v0.45h-0.45zM395.8 666.5h0.45v0.45h-0.45zM403.7 666.0h0.45v0.45h-0.45zM397.4 662.2h0.45v0.45h-0.45zM395.6 657.8h0.45v0.45h-0.45zM394.9 671.4h0.45v0.45h-0.45zM402.1 662.3h0.45v0.45h-0.45zM401.7 666.3h0.45v0.45h-0.45zM399.4 657.9h0.45v0.45h-0.45zM399.6 663.4h0.45v0.45h-0.45zM398.4 657.4h0.45v0.45h-0.45zM400.6 665.4h0.45v0.45h-0.45zM396.7 655.5h0.45v0.45h-0.45zM402.5 671.8h0.45v0.45h-0.45zM402.2 668.7h0.45v0.45h-0.45zM402.2 660.5h0.45v0.45h-0.45zM400.6 661.9h0.45v0.45h-0.45zM404.9 655.2h0.45v0.45h-0.45zM405.1 655.6h0.45v0.45h-0.45zM397.6 664.0h0.45v0.45h-0.45zM404.6 669.8h0.45v0.45h-0.45zM402.6 665.3h0.45v0.45h-0.45zM402.5 658.9h0.45v0.45h-0.45zM394.7 664.3h0.45v0.45h-0.45zM396.6 661.7h0.45v0.45h-0.45zM402.6 671.7h0.45v0.45h-0.45zM395.6 670.6h0.45v0.45h-0.45zM399.6 670.1h0.45v0.45h-0.45zM400.6 656.9h0.45v0.45h-0.45zM394.6 671.3h0.45v0.45h-0.45zM401.9 672.3h0.45v0.45h-0.45zM404.9 663.3h0.45v0.45h-0.45zM401.4 667.4h0.45v0.45h-0.45zM401.5 666.8h0.45v0.45h-0.45zM397.8 665.8h0.45v0.45h-0.45zM393.7 666.4h0.45v0.45h-0.45zM397.9 660.5h0.45v0.45h-0.45zM400.3 665.8h0.45v0.45h-0.45zM400.1 660.5h0.45v0.45h-0.45zM397.4 662.9h0.45v0.45h-0.45zM398.8 662.1h0.45v0.45h-0.45zM396.0 665.0h0.45v0.45h-0.45zM397.1 663.9h0.45v0.45h-0.45zM396.1 652.5h0.45v0.45h-0.45zM399.5 666.0h0.45v0.45h-0.45zM398.7 668.6h0.45v0.45h-0.45zM399.7 663.1h0.45v0.45h-0.45zM402.8 665.7h0.45v0.45h-0.45zM397.2 664.8h0.45v0.45h-0.45zM398.0 659.5h0.45v0.45h-0.45zM401.3 663.4h0.45v0.45h-0.45zM397.7 663.7h0.45v0.45h-0.45zM424.3 658.5h0.45v0.45h-0.45zM421.3 652.8h0.45v0.45h-0.45zM410.3 655.1h0.45v0.45h-0.45zM416.7 656.6h0.45v0.45h-0.45zM416.9 656.9h0.45v0.45h-0.45zM412.5 656.8h0.45v0.45h-0.45zM415.8 657.2h0.45v0.45h-0.45zM418.5 651.4h0.45v0.45h-0.45zM416.2 658.0h0.45v0.45h-0.45zM420.7 657.1h0.45v0.45h-0.45zM414.5 654.2h0.45v0.45h-0.45zM419.3 652.7h0.45v0.45h-0.45zM419.4 654.8h0.45v0.45h-0.45zM420.3 658.3h0.45v0.45h-0.45zM416.3 653.6h0.45v0.45h-0.45zM414.0 655.7h0.45v0.45h-0.45zM405.4 656.6h0.45v0.45h-0.45zM416.0 657.3h0.45v0.45h-0.45zM424.2 650.4h0.45v0.45h-0.45zM411.3 654.9h0.45v0.45h-0.45zM410.1 655.1h0.45v0.45h-0.45zM423.9 652.6h0.45v0.45h-0.45zM412.2 654.2h0.45v0.45h-0.45zM419.9 652.6h0.45v0.45h-0.45zM418.2 655.1h0.45v0.45h-0.45zM415.7 651.3h0.45v0.45h-0.45zM416.0 655.4h0.45v0.45h-0.45zM410.8 660.2h0.45v0.45h-0.45zM416.5 653.2h0.45v0.45h-0.45zM417.3 654.4h0.45v0.45h-0.45zM415.9 652.4h0.45v0.45h-0.45zM419.6 655.0h0.45v0.45h-0.45zM414.2 656.9h0.45v0.45h-0.45zM412.2 656.1h0.45v0.45h-0.45zM417.8 657.4h0.45v0.45h-0.45zM421.6 656.2h0.45v0.45h-0.45zM418.1 653.5h0.45v0.45h-0.45zM406.3 657.0h0.45v0.45h-0.45zM419.5 652.3h0.45v0.45h-0.45zM407.1 652.5h0.45v0.45h-0.45zM410.8 655.7h0.45v0.45h-0.45zM419.1 653.8h0.45v0.45h-0.45zM411.0 656.6h0.45v0.45h-0.45zM414.9 651.9h0.45v0.45h-0.45zM413.6 656.2h0.45v0.45h-0.45zM424.7 662.7h0.45v0.45h-0.45zM418.7 652.0h0.45v0.45h-0.45zM407.9 658.0h0.45v0.45h-0.45zM428.0 666.1h0.45v0.45h-0.45zM424.1 655.8h0.45v0.45h-0.45zM427.0 666.4h0.45v0.45h-0.45zM413.6 658.4h0.45v0.45h-0.45zM414.9 650.6h0.45v0.45h-0.45zM418.0 651.2h0.45v0.45h-0.45zM428.9 668.6h0.45v0.45h-0.45zM412.4 649.9h0.45v0.45h-0.45zM410.9 667.2h0.45v0.45h-0.45zM414.1 665.1h0.45v0.45h-0.45zM430.1 654.0h0.45v0.45h-0.45zM426.4 648.5h0.45v0.45h-0.45zM407.2 661.6h0.45v0.45h-0.45zM413.6 651.4h0.45v0.45h-0.45zM418.3 664.3h0.45v0.45h-0.45zM416.8 658.8h0.45v0.45h-0.45zM424.4 648.2h0.45v0.45h-0.45zM415.9 673.5h0.45v0.45h-0.45zM410.1 674.5h0.45v0.45h-0.45zM409.6 683.2h0.45v0.45h-0.45zM406.6 678.4h0.45v0.45h-0.45zM407.6 673.2h0.45v0.45h-0.45zM423.8 678.6h0.45v0.45h-0.45zM422.5 680.0h0.45v0.45h-0.45zM417.1 681.5h0.45v0.45h-0.45zM406.3 675.4h0.45v0.45h-0.45zM419.1 684.0h0.45v0.45h-0.45zM409.9 677.5h0.45v0.45h-0.45zM419.1 679.4h0.45v0.45h-0.45z"/>
<line x1="406" y1="633.7" x2="406" y2="685.5" stroke="#555" stroke-width="0.9"/>
<line x1="393.2" y1="672.1" x2="443.8" y2="672.1" stroke="#555" stroke-width="0.9"/>
<text x="393.5" y="638.24" font-size="4.3" font-weight="bold" fill="#111">B1</text>
<text x="406.7" y="638.24" font-size="4.3" font-weight="bold" fill="#111">B2</text>
<text x="393.5" y="676.64" font-size="4.3" font-weight="bold" fill="#111">B3</text>
<text x="406.7" y="676.64" font-size="4.3" font-weight="bold" fill="#111">B4</text>
<text x="405.4" y="644.64" font-size="4.3" text-anchor="end" font-weight="bold" fill="#111" textLength="8.4" lengthAdjust="spacingAndGlyphs">3.8%</text>
<text x="407.6" y="644.64" font-size="4.3" font-weight="bold" fill="#111" textLength="8.4" lengthAdjust="spacingAndGlyphs">4.1%</text>
<text x="405.4" y="681.84" font-size="4.3" text-anchor="end" font-weight="bold" fill="#111" textLength="10.5" lengthAdjust="spacingAndGlyphs">88.9%</text>
<text x="407.6" y="681.84" font-size="4.3" font-weight="bold" fill="#111" textLength="8.4" lengthAdjust="spacingAndGlyphs">3.0%</text>
<text x="389.2" y="635.56" font-size="3.8" text-anchor="middle" fill="#444">10<tspan font-size="2.6" dy="-1.3">4</tspan></text>
<text x="389.2" y="648.36" font-size="3.8" text-anchor="middle" fill="#444">10<tspan font-size="2.6" dy="-1.3">3</tspan></text>
<text x="389.2" y="661.16" font-size="3.8" text-anchor="middle" fill="#444">10<tspan font-size="2.6" dy="-1.3">2</tspan></text>
<text x="389.2" y="673.96" font-size="3.8" text-anchor="middle" fill="#444">10<tspan font-size="2.6" dy="-1.3">1</tspan></text>
<text x="407.6" y="689.46" font-size="3.8" text-anchor="middle" fill="#444">10<tspan font-size="2.6" dy="-1.3">0</tspan></text>
<text x="419.27" y="689.46" font-size="3.8" text-anchor="middle" fill="#444">10<tspan font-size="2.6" dy="-1.3">1</tspan></text>
<text x="430.93" y="689.46" font-size="3.8" text-anchor="middle" fill="#444">10<tspan font-size="2.6" dy="-1.3">2</tspan></text>
<text x="442.6" y="689.46" font-size="3.8" text-anchor="middle" fill="#444">10<tspan font-size="2.6" dy="-1.3">3</tspan></text>
<text x="413.78" y="630.21" font-size="8.4" text-anchor="middle" fill="#222" letter-spacing="0.55">siCtrl</text>
<text x="383.8" y="659.6" font-size="8.4" text-anchor="middle" fill="#222" transform="rotate(-90 383.8 659.6)">P I</text>
<text x="418.42" y="698.68" font-size="8.6" text-anchor="middle" fill="#222" letter-spacing="0.25">Annexin V</text>
<rect x="459.2" y="630.8" width="60" height="59.4" fill="#f7f7f7"/>
<rect x="467.2" y="633.4" width="50.6" height="51.8" fill="#f8f8f8" stroke="#999" stroke-width="0.6"/>
<ellipse cx="474.5" cy="678.5" rx="3.25" ry="3.12" fill="#f01010"/>
<path fill="#f00a0a" fill-opacity="0.8" d="M474.5 678.0h1v1h-1zM474.0 676.7h1v1h-1zM474.6 678.1h1v1h-1zM476.8 675.6h1v1h-1zM480.6 670.3h1v1h-1zM474.2 680.3h1v1h-1zM473.6 676.2h1v1h-1zM473.9 679.8h1v1h-1zM477.3 674.3h1v1h-1zM474.6 676.5h1v1h-1zM476.8 676.8h1v1h-1zM474.4 680.7h1v1h-1zM473.2 678.6h1v1h-1zM471.9 677.2h1v1h-1zM468.9 675.8h1v1h-1zM472.5 676.2h1v1h-1zM479.4 672.2h1v1h-1zM468.1 678.5h1v1h-1zM475.5 678.3h1v1h-1zM476.9 683.1h1v1h-1zM472.6 674.5h1v1h-1zM473.4 680.8h1v1h-1zM475.0 677.4h1v1h-1zM474.7 678.6h1v1h-1zM469.4 679.0h1v1h-1zM471.7 677.3h1v1h-1zM472.5 678.1h1v1h-1zM476.3 677.4h1v1h-1zM474.3 680.2h1v1h-1zM475.1 676.2h1v1h-1zM476.0 676.9h1v1h-1zM473.2 678.4h1v1h-1zM477.8 675.7h1v1h-1zM472.9 678.3h1v1h-1zM471.7 678.2h1v1h-1zM477.2 673.5h1v1h-1zM474.0 676.1h1v1h-1zM479.2 679.4h1v1h-1zM475.5 677.6h1v1h-1zM471.2 678.1h1v1h-1zM474.8 678.0h1v1h-1zM478.6 679.8h1v1h-1zM471.6 677.0h1v1h-1zM474.7 674.9h1v1h-1zM473.4 676.4h1v1h-1zM474.4 678.3h1v1h-1zM472.3 681.1h1v1h-1zM472.4 679.6h1v1h-1zM471.2 675.6h1v1h-1zM472.3 676.9h1v1h-1zM476.1 674.2h1v1h-1zM478.2 675.0h1v1h-1zM477.8 678.4h1v1h-1zM472.7 680.0h1v1h-1zM472.7 677.9h1v1h-1zM471.4 682.7h1v1h-1zM473.2 676.2h1v1h-1zM472.7 681.1h1v1h-1zM473.4 676.0h1v1h-1zM475.5 678.6h1v1h-1zM476.7 675.1h1v1h-1zM477.8 681.0h1v1h-1zM472.1 677.1h1v1h-1zM475.1 677.3h1v1h-1zM476.0 679.4h1v1h-1zM473.9 675.1h1v1h-1zM468.7 678.6h1v1h-1zM470.6 680.7h1v1h-1zM478.5 678.2h1v1h-1zM476.1 681.0h1v1h-1zM476.0 675.1h1v1h-1zM471.3 676.7h1v1h-1zM474.1 675.8h1v1h-1zM474.4 681.1h1v1h-1zM472.9 677.9h1v1h-1zM471.3 677.6h1v1h-1zM476.3 681.2h1v1h-1zM474.5 676.0h1v1h-1zM479.0 672.8h1v1h-1zM472.8 676.0h1v1h-1zM473.9 679.4h1v1h-1zM479.3 680.1h1v1h-1zM472.7 674.1h1v1h-1zM477.0 680.1h1v1h-1zM475.1 681.6h1v1h-1zM475.2 674.4h1v1h-1zM469.0 677.0h1v1h-1zM474.3 679.5h1v1h-1zM474.7 677.5h1v1h-1zM471.8 679.3h1v1h-1zM475.8 676.5h1v1h-1zM471.4 676.9h1v1h-1zM471.3 678.5h1v1h-1zM470.8 678.7h1v1h-1zM471.7 679.1h1v1h-1zM480.2 675.1h1v1h-1zM474.2 683.9h1v1h-1zM476.3 678.4h1v1h-1zM475.3 677.2h1v1h-1zM470.2 671.4h1v1h-1zM472.0 676.4h1v1h-1zM476.8 678.6h1v1h-1zM469.8 679.1h1v1h-1zM470.6 680.9h1v1h-1zM471.2 680.0h1v1h-1zM474.2 676.7h1v1h-1zM476.7 677.3h1v1h-1zM471.4 676.8h1v1h-1zM474.5 679.7h1v1h-1zM474.3 675.3h1v1h-1zM472.0 675.0h1v1h-1zM473.2 676.2h1v1h-1zM475.9 676.1h1v1h-1zM476.4 682.4h1v1h-1zM475.1 677.4h1v1h-1zM477.0 675.7h1v1h-1zM473.7 681.2h1v1h-1zM475.4 677.5h1v1h-1zM473.1 676.6h1v1h-1zM477.7 682.8h1v1h-1zM477.7 678.0h1v1h-1zM474.8 675.8h1v1h-1zM471.0 679.5h1v1h-1zM475.6 674.7h1v1h-1zM470.6 678.7h1v1h-1zM470.4 680.6h1v1h-1zM477.0 675.1h1v1h-1zM473.0 680.2h1v1h-1zM476.5 677.8h1v1h-1zM473.5 677.2h1v1h-1zM475.3 679.4h1v1h-1zM473.3 676.6h1v1h-1zM473.6 677.3h1v1h-1zM472.7 674.6h1v1h-1zM474.0 679.9h1v1h-1zM474.1 680.9h1v1h-1zM474.8 679.7h1v1h-1zM476.1 672.8h1v1h-1zM475.7 680.6h1v1h-1zM470.8 673.2h1v1h-1zM471.2 677.0h1v1h-1zM474.7 673.9h1v1h-1zM473.3 674.8h1v1h-1zM474.4 677.4h1v1h-1zM474.3 676.4h1v1h-1zM472.6 680.0h1v1h-1zM470.8 677.7h1v1h-1zM472.2 677.0h1v1h-1zM471.8 680.8h1v1h-1zM476.3 677.1h1v1h-1zM479.0 678.3h1v1h-1zM477.7 675.1h1v1h-1zM472.4 676.2h1v1h-1zM479.3 680.3h1v1h-1zM472.9 678.6h1v1h-1zM473.6 677.6h1v1h-1zM471.5 680.2h1v1h-1zM474.9 676.0h1v1h-1zM474.9 680.2h1v1h-1zM474.6 677.2h1v1h-1zM475.6 679.8h1v1h-1zM479.0 676.6h1v1h-1zM474.9 677.9h1v1h-1zM472.7 678.1h1v1h-1zM470.3 675.9h1v1h-1zM470.3 678.5h1v1h-1zM472.9 675.5h1v1h-1zM472.7 679.2h1v1h-1zM472.8 671.4h1v1h-1zM479.7 677.0h1v1h-1zM476.2 675.2h1v1h-1zM472.8 678.1h1v1h-1zM474.6 676.6h1v1h-1zM478.6 676.1h1v1h-1zM473.0 683.2h1v1h-1zM474.3 673.7h1v1h-1zM475.6 679.3h1v1h-1zM477.4 682.8h1v1h-1zM474.2 680.7h1v1h-1zM474.1 675.7h1v1h-1zM471.7 675.6h1v1h-1zM469.9 681.9h1v1h-1zM472.1 674.7h1v1h-1zM473.7 674.8h1v1h-1zM476.8 682.8h1v1h-1zM475.2 677.7h1v1h-1zM473.0 679.2h1v1h-1zM476.3 680.4h1v1h-1zM472.9 678.6h1v1h-1zM470.3 678.5h1v1h-1zM476.5 680.7h1v1h-1zM471.5 674.3h1v1h-1zM479.3 678.1h1v1h-1zM473.4 678.8h1v1h-1zM473.3 679.4h1v1h-1zM475.5 676.3h1v1h-1zM470.4 676.7h1v1h-1zM472.3 675.4h1v1h-1zM475.0 679.6h1v1h-1zM473.1 675.7h1v1h-1zM469.6 675.7h1v1h-1zM472.0 674.0h1v1h-1zM473.5 678.8h1v1h-1zM473.2 683.2h1v1h-1zM474.2 679.3h1v1h-1zM483.4 682.2h1v1h-1zM474.4 679.0h1v1h-1zM473.6 678.7h1v1h-1zM473.6 674.5h1v1h-1zM470.5 679.9h1v1h-1zM478.5 678.6h1v1h-1zM471.5 675.0h1v1h-1zM478.0 682.7h1v1h-1zM476.9 677.9h1v1h-1zM472.8 680.7h1v1h-1zM473.4 675.5h1v1h-1zM468.1 676.5h1v1h-1zM473.5 675.8h1v1h-1zM477.8 675.8h1v1h-1zM477.0 678.5h1v1h-1zM473.4 680.0h1v1h-1zM470.8 681.4h1v1h-1zM472.7 676.9h1v1h-1zM475.4 678.7h1v1h-1zM471.9 680.2h1v1h-1zM471.5 678.1h1v1h-1zM472.0 677.7h1v1h-1zM475.8 677.6h1v1h-1zM471.6 680.7h1v1h-1zM475.4 676.0h1v1h-1zM472.8 676.7h1v1h-1zM480.7 678.5h1v1h-1zM478.0 679.8h1v1h-1zM476.2 678.5h1v1h-1zM468.8 677.6h1v1h-1zM474.8 676.2h1v1h-1zM478.3 678.3h1v1h-1zM473.9 672.5h1v1h-1zM476.6 680.7h1v1h-1zM470.3 674.8h1v1h-1zM476.6 674.7h1v1h-1zM474.7 677.3h1v1h-1zM477.5 677.8h1v1h-1zM475.2 677.3h1v1h-1zM468.9 677.6h1v1h-1zM477.5 677.4h1v1h-1zM474.5 677.8h1v1h-1zM475.6 679.2h1v1h-1zM476.9 675.4h1v1h-1zM469.1 680.5h1v1h-1zM472.7 678.0h1v1h-1zM477.9 676.7h1v1h-1zM478.5 678.0h1v1h-1zM468.8 678.0h1v1h-1zM474.3 678.3h1v1h-1zM473.6 684.0h1v1h-1zM477.7 680.2h1v1h-1zM472.8 677.8h1v1h-1zM475.1 681.8h1v1h-1zM470.2 681.3h1v1h-1zM477.2 679.1h1v1h-1zM475.2 676.7h1v1h-1zM473.5 681.2h1v1h-1zM475.8 681.2h1v1h-1zM476.0 677.1h1v1h-1zM476.6 682.4h1v1h-1zM478.7 679.7h1v1h-1zM470.2 680.2h1v1h-1zM469.6 682.4h1v1h-1zM472.2 675.4h1v1h-1zM477.1 679.5h1v1h-1zM474.4 681.9h1v1h-1zM473.3 679.7h1v1h-1zM475.3 679.5h1v1h-1zM475.5 679.5h1v1h-1zM469.3 677.0h1v1h-1zM474.5 675.9h1v1h-1zM476.2 677.1h1v1h-1zM471.3 679.4h1v1h-1zM471.7 676.5h1v1h-1zM473.2 676.7h1v1h-1zM474.6 680.2h1v1h-1zM472.3 678.8h1v1h-1zM473.2 677.7h1v1h-1zM471.6 679.3h1v1h-1zM473.0 677.3h1v1h-1zM472.5 675.9h1v1h-1zM475.3 677.5h1v1h-1zM470.5 680.5h1v1h-1zM478.3 676.4h1v1h-1zM476.2 676.5h1v1h-1zM474.4 679.9h1v1h-1zM471.7 675.4h1v1h-1zM472.7 678.8h1v1h-1zM475.7 676.6h1v1h-1zM474.4 682.6h1v1h-1zM475.2 672.9h0.8v0.8h-0.8zM475.8 673.4h0.8v0.8h-0.8zM471.3 675.7h0.8v0.8h-0.8zM479.6 681.9h0.8v0.8h-0.8zM471.5 683.4h0.8v0.8h-0.8zM479.8 674.5h0.8v0.8h-0.8zM482.2 679.1h0.8v0.8h-0.8zM474.6 680.8h0.8v0.8h-0.8zM481.9 677.5h0.8v0.8h-0.8zM478.4 683.9h0.8v0.8h-0.8zM473.9 683.0h0.8v0.8h-0.8zM474.8 676.9h0.8v0.8h-0.8zM475.0 679.8h0.8v0.8h-0.8zM479.6 684.0h0.8v0.8h-0.8zM477.6 678.7h0.8v0.8h-0.8zM474.7 677.5h0.8v0.8h-0.8zM480.6 674.8h0.8v0.8h-0.8zM475.3 678.4h0.8v0.8h-0.8zM474.0 674.2h0.8v0.8h-0.8zM468.2 678.4h0.8v0.8h-0.8zM475.3 675.4h0.8v0.8h-0.8zM477.5 677.4h0.8v0.8h-0.8zM475.3 677.1h0.8v0.8h-0.8zM479.5 679.2h0.8v0.8h-0.8zM474.2 673.1h0.8v0.8h-0.8zM482.7 681.3h0.8v0.8h-0.8zM481.9 674.6h0.8v0.8h-0.8zM474.1 677.7h0.8v0.8h-0.8zM471.8 678.9h0.8v0.8h-0.8zM474.8 682.1h0.8v0.8h-0.8zM477.7 674.1h0.8v0.8h-0.8zM477.9 677.7h0.8v0.8h-0.8zM480.2 681.5h0.8v0.8h-0.8zM477.7 675.3h0.8v0.8h-0.8zM474.8 683.1h0.8v0.8h-0.8zM474.1 681.6h0.8v0.8h-0.8zM468.8 675.1h0.8v0.8h-0.8zM474.1 676.5h0.8v0.8h-0.8zM470.3 680.6h0.8v0.8h-0.8zM473.6 679.3h0.8v0.8h-0.8zM473.9 681.8h0.8v0.8h-0.8zM475.7 682.4h0.8v0.8h-0.8zM474.7 679.9h0.8v0.8h-0.8zM473.4 681.7h0.8v0.8h-0.8zM476.2 675.6h0.8v0.8h-0.8zM480.8 676.1h0.8v0.8h-0.8zM474.1 678.7h0.8v0.8h-0.8zM468.8 679.4h0.8v0.8h-0.8zM473.9 677.5h0.8v0.8h-0.8zM480.3 678.6h0.8v0.8h-0.8zM478.3 676.2h0.8v0.8h-0.8zM474.5 675.9h0.8v0.8h-0.8zM477.0 681.2h0.8v0.8h-0.8zM476.1 677.7h0.8v0.8h-0.8zM468.2 677.0h0.8v0.8h-0.8zM481.4 679.0h0.8v0.8h-0.8zM476.8 684.3h0.8v0.8h-0.8zM473.1 677.4h0.8v0.8h-0.8zM475.2 681.7h0.8v0.8h-0.8zM480.3 680.1h0.8v0.8h-0.8zM472.3 678.9h0.8v0.8h-0.8zM475.5 683.3h0.8v0.8h-0.8zM469.8 679.9h0.8v0.8h-0.8zM475.2 680.8h0.8v0.8h-0.8zM474.6 681.9h0.8v0.8h-0.8zM474.8 678.7h0.8v0.8h-0.8zM484.3 675.4h0.8v0.8h-0.8zM482.4 679.9h0.8v0.8h-0.8zM472.8 682.3h0.8v0.8h-0.8zM472.6 678.0h0.8v0.8h-0.8zM471.9 681.2h0.8v0.8h-0.8zM469.4 676.8h0.8v0.8h-0.8zM471.0 681.3h0.8v0.8h-0.8zM478.8 681.8h0.8v0.8h-0.8zM472.0 676.9h0.8v0.8h-0.8zM469.6 679.2h0.8v0.8h-0.8zM471.3 678.2h0.8v0.8h-0.8zM469.1 678.5h0.8v0.8h-0.8zM482.1 677.5h0.8v0.8h-0.8zM474.6 674.8h0.8v0.8h-0.8zM470.7 677.7h0.8v0.8h-0.8zM468.4 674.6h0.8v0.8h-0.8zM476.2 669.8h0.8v0.8h-0.8zM474.8 672.0h0.8v0.8h-0.8zM471.4 678.7h0.8v0.8h-0.8zM470.7 681.1h0.8v0.8h-0.8zM469.5 678.7h0.8v0.8h-0.8zM485.4 678.8h0.8v0.8h-0.8zM471.6 680.2h0.8v0.8h-0.8zM476.5 675.2h0.8v0.8h-0.8zM474.5 676.5h0.8v0.8h-0.8zM473.0 677.9h0.8v0.8h-0.8zM473.6 683.1h0.8v0.8h-0.8zM473.9 674.5h0.8v0.8h-0.8zM476.9 683.1h0.8v0.8h-0.8zM480.7 672.1h0.8v0.8h-0.8zM482.3 677.4h0.8v0.8h-0.8zM469.9 682.6h0.8v0.8h-0.8zM475.3 674.4h0.8v0.8h-0.8zM475.9 677.0h0.8v0.8h-0.8zM474.0 672.7h0.8v0.8h-0.8zM474.5 679.9h0.8v0.8h-0.8zM473.5 676.7h0.8v0.8h-0.8zM473.9 674.6h0.8v0.8h-0.8zM471.2 679.1h0.8v0.8h-0.8zM474.0 673.6h0.8v0.8h-0.8zM472.1 676.3h0.8v0.8h-0.8zM477.0 676.9h0.8v0.8h-0.8zM470.3 668.6h0.8v0.8h-0.8zM475.1 677.4h0.8v0.8h-0.8zM468.1 676.6h0.8v0.8h-0.8zM471.2 678.9h0.8v0.8h-0.8zM474.8 681.3h0.8v0.8h-0.8zM471.4 674.5h0.8v0.8h-0.8zM495.6 654.2h0.55v0.55h-0.55zM488.3 651.3h0.55v0.55h-0.55zM491.6 656.9h0.55v0.55h-0.55zM493.0 656.0h0.55v0.55h-0.55zM496.3 658.3h0.55v0.55h-0.55zM492.6 656.7h0.55v0.55h-0.55zM494.0 655.3h0.55v0.55h-0.55zM492.6 656.4h0.55v0.55h-0.55zM492.4 656.1h0.55v0.55h-0.55zM492.8 654.0h0.55v0.55h-0.55zM492.8 654.5h0.55v0.55h-0.55zM495.0 654.7h0.55v0.55h-0.55zM494.3 654.4h0.55v0.55h-0.55zM488.8 656.4h0.55v0.55h-0.55zM498.0 656.6h0.55v0.55h-0.55zM491.0 654.0h0.55v0.55h-0.55zM493.5 653.2h0.55v0.55h-0.55zM500.4 656.2h0.55v0.55h-0.55zM496.0 655.2h0.55v0.55h-0.55zM496.4 657.5h0.55v0.55h-0.55zM490.9 653.9h0.55v0.55h-0.55zM495.8 657.3h0.55v0.55h-0.55zM491.0 657.2h0.55v0.55h-0.55zM497.7 654.6h0.55v0.55h-0.55zM503.0 655.3h0.55v0.55h-0.55zM495.0 657.4h0.55v0.55h-0.55zM495.4 656.1h0.55v0.55h-0.55zM492.6 655.2h0.55v0.55h-0.55zM494.4 652.6h0.55v0.55h-0.55zM500.4 655.0h0.55v0.55h-0.55zM495.7 654.0h0.55v0.55h-0.55zM496.6 655.3h0.55v0.55h-0.55zM501.6 653.3h0.55v0.55h-0.55zM494.0 652.2h0.55v0.55h-0.55zM496.0 658.5h0.55v0.55h-0.55zM494.5 656.6h0.55v0.55h-0.55zM500.0 657.1h0.55v0.55h-0.55zM493.9 653.5h0.55v0.55h-0.55zM495.9 655.7h0.55v0.55h-0.55zM496.1 653.0h0.55v0.55h-0.55zM492.2 659.4h0.55v0.55h-0.55zM492.7 655.2h0.55v0.55h-0.55zM497.4 655.3h0.55v0.55h-0.55zM485.6 656.4h0.55v0.55h-0.55zM496.6 654.8h0.55v0.55h-0.55zM496.2 654.5h0.55v0.55h-0.55zM495.3 655.5h0.55v0.55h-0.55zM496.6 657.4h0.55v0.55h-0.55zM492.9 658.8h0.55v0.55h-0.55zM492.6 655.9h0.55v0.55h-0.55zM492.0 655.4h0.55v0.55h-0.55zM502.9 655.6h0.55v0.55h-0.55zM495.4 655.9h0.55v0.55h-0.55zM493.7 656.3h0.55v0.55h-0.55zM488.4 656.5h0.55v0.55h-0.55zM489.9 656.8h0.55v0.55h-0.55zM496.1 655.7h0.55v0.55h-0.55zM493.3 657.9h0.55v0.55h-0.55zM493.4 650.8h0.55v0.55h-0.55zM491.3 655.6h0.55v0.55h-0.55zM491.4 656.8h0.55v0.55h-0.55zM498.8 653.9h0.55v0.55h-0.55zM489.2 655.6h0.55v0.55h-0.55zM493.1 652.6h0.55v0.55h-0.55zM497.9 654.3h0.55v0.55h-0.55zM494.2 650.7h0.55v0.55h-0.55zM495.7 654.8h0.55v0.55h-0.55zM498.8 655.0h0.55v0.55h-0.55zM500.7 653.1h0.55v0.55h-0.55zM498.1 652.8h0.55v0.55h-0.55zM492.3 648.0h0.55v0.55h-0.55zM491.1 654.7h0.55v0.55h-0.55zM488.9 654.3h0.55v0.55h-0.55zM496.9 653.3h0.55v0.55h-0.55zM488.0 656.8h0.55v0.55h-0.55zM490.9 655.6h0.55v0.55h-0.55zM499.6 654.8h0.55v0.55h-0.55zM488.0 653.5h0.55v0.55h-0.55zM489.6 654.7h0.55v0.55h-0.55zM499.1 656.3h0.55v0.55h-0.55zM493.0 657.8h0.55v0.55h-0.55zM498.9 653.8h0.55v0.55h-0.55zM493.6 654.6h0.55v0.55h-0.55zM488.7 652.2h0.55v0.55h-0.55zM487.9 654.9h0.55v0.55h-0.55zM492.1 658.1h0.55v0.55h-0.55zM493.6 657.6h0.55v0.55h-0.55zM494.4 653.2h0.55v0.55h-0.55zM492.0 654.6h0.55v0.55h-0.55zM488.6 654.4h0.55v0.55h-0.55zM492.8 654.3h0.55v0.55h-0.55zM489.0 655.0h0.55v0.55h-0.55zM491.4 655.0h0.55v0.55h-0.55zM496.9 653.4h0.55v0.55h-0.55zM489.9 660.4h0.55v0.55h-0.55zM491.2 654.4h0.55v0.55h-0.55zM490.7 656.3h0.55v0.55h-0.55zM494.0 656.4h0.55v0.55h-0.55zM495.1 655.8h0.55v0.55h-0.55zM492.3 653.8h0.55v0.55h-0.55zM491.1 656.7h0.55v0.55h-0.55zM502.5 654.3h0.55v0.55h-0.55zM493.3 658.1h0.55v0.55h-0.55zM501.5 654.6h0.55v0.55h-0.55zM486.5 655.8h0.55v0.55h-0.55zM495.2 658.2h0.55v0.55h-0.55zM493.5 658.3h0.55v0.55h-0.55zM490.6 659.0h0.55v0.55h-0.55zM496.3 656.5h0.55v0.55h-0.55zM495.1 657.4h0.55v0.55h-0.55zM496.0 655.8h0.55v0.55h-0.55zM493.8 655.9h0.55v0.55h-0.55zM491.7 652.1h0.55v0.55h-0.55zM498.0 655.0h0.55v0.55h-0.55zM490.4 657.2h0.55v0.55h-0.55zM493.5 655.6h0.55v0.55h-0.55zM488.3 657.4h0.55v0.55h-0.55zM493.7 656.8h0.55v0.55h-0.55zM489.7 658.1h0.55v0.55h-0.55zM491.7 656.7h0.55v0.55h-0.55zM489.5 661.3h0.45v0.45h-0.45zM502.8 647.7h0.45v0.45h-0.45zM492.6 650.5h0.45v0.45h-0.45zM485.1 665.6h0.45v0.45h-0.45zM483.4 656.2h0.45v0.45h-0.45zM482.6 646.6h0.45v0.45h-0.45zM485.6 653.1h0.45v0.45h-0.45zM505.5 654.1h0.45v0.45h-0.45zM484.9 653.9h0.45v0.45h-0.45zM493.0 670.0h0.45v0.45h-0.45zM488.6 660.3h0.45v0.45h-0.45zM486.6 669.1h0.45v0.45h-0.45zM496.1 645.9h0.45v0.45h-0.45zM499.2 651.8h0.45v0.45h-0.45zM477.8 651.2h0.45v0.45h-0.45zM469.4 651.5h0.45v0.45h-0.45zM488.5 659.5h0.45v0.45h-0.45zM489.5 650.4h0.45v0.45h-0.45zM496.6 654.0h0.45v0.45h-0.45zM485.4 656.0h0.45v0.45h-0.45zM484.8 659.4h0.45v0.45h-0.45zM492.9 658.0h0.45v0.45h-0.45zM484.0 645.9h0.45v0.45h-0.45zM502.8 661.9h0.45v0.45h-0.45zM480.6 656.1h0.45v0.45h-0.45zM513.7 662.4h0.45v0.45h-0.45zM486.5 655.1h0.45v0.45h-0.45zM481.9 657.8h0.45v0.45h-0.45zM487.4 659.8h0.45v0.45h-0.45zM497.7 656.2h0.45v0.45h-0.45zM493.1 660.8h0.45v0.45h-0.45zM473.9 674.3h0.45v0.45h-0.45zM482.0 655.0h0.45v0.45h-0.45zM489.9 657.1h0.45v0.45h-0.45zM488.0 656.2h0.45v0.45h-0.45zM478.4 654.4h0.45v0.45h-0.45zM486.4 649.6h0.45v0.45h-0.45zM468.3 665.3h0.45v0.45h-0.45zM490.3 655.8h0.45v0.45h-0.45zM493.2 658.0h0.45v0.45h-0.45zM485.4 659.8h0.45v0.45h-0.45zM488.5 659.7h0.45v0.45h-0.45zM487.6 661.8h0.45v0.45h-0.45zM497.3 669.2h0.45v0.45h-0.45zM485.7 645.8h0.45v0.45h-0.45zM485.2 659.9h0.45v0.45h-0.45zM494.5 665.6h0.45v0.45h-0.45zM489.5 660.8h0.45v0.45h-0.45zM483.3 661.5h0.45v0.45h-0.45zM487.2 663.9h0.45v0.45h-0.45zM490.0 649.0h0.45v0.45h-0.45zM488.1 663.8h0.45v0.45h-0.45zM509.0 652.3h0.45v0.45h-0.45zM485.6 661.5h0.45v0.45h-0.45zM491.6 663.7h0.45v0.45h-0.45zM492.1 656.1h0.45v0.45h-0.45zM476.5 654.9h0.45v0.45h-0.45zM500.8 661.1h0.45v0.45h-0.45zM494.4 660.6h0.45v0.45h-0.45zM482.3 659.5h0.45v0.45h-0.45zM488.3 661.2h0.45v0.45h-0.45zM476.5 665.3h0.45v0.45h-0.45zM493.8 653.1h0.45v0.45h-0.45zM498.4 663.0h0.45v0.45h-0.45zM475.8 658.4h0.45v0.45h-0.45zM482.2 658.0h0.45v0.45h-0.45zM496.7 660.6h0.45v0.45h-0.45zM492.9 660.1h0.45v0.45h-0.45zM487.5 664.5h0.45v0.45h-0.45zM482.2 661.1h0.45v0.45h-0.45zM493.4 659.1h0.45v0.45h-0.45zM493.9 660.1h0.45v0.45h-0.45zM483.9 663.1h0.45v0.45h-0.45zM489.1 657.6h0.45v0.45h-0.45zM491.3 677.7h0.45v0.45h-0.45zM484.6 655.1h0.45v0.45h-0.45zM499.7 651.4h0.45v0.45h-0.45zM482.3 662.7h0.45v0.45h-0.45zM490.5 669.0h0.45v0.45h-0.45zM493.4 665.4h0.45v0.45h-0.45zM497.7 640.0h0.45v0.45h-0.45zM482.4 655.5h0.45v0.45h-0.45zM489.7 663.7h0.45v0.45h-0.45zM505.2 666.7h0.45v0.45h-0.45zM500.1 668.3h0.45v0.45h-0.45zM486.6 659.4h0.45v0.45h-0.45zM506.0 648.2h0.45v0.45h-0.45zM504.1 666.3h0.45v0.45h-0.45zM493.7 664.6h0.45v0.45h-0.45zM485.7 660.0h0.45v0.45h-0.45zM492.0 669.4h0.45v0.45h-0.45zM480.5 655.2h0.45v0.45h-0.45zM495.1 665.9h0.45v0.45h-0.45zM477.7 658.5h0.45v0.45h-0.45zM480.1 643.7h0.45v0.45h-0.45zM482.2 651.2h0.45v0.45h-0.45zM487.6 661.0h0.45v0.45h-0.45zM495.8 656.4h0.45v0.45h-0.45zM499.7 651.6h0.45v0.45h-0.45zM501.5 664.6h0.45v0.45h-0.45zM490.8 663.5h0.45v0.45h-0.45zM492.8 663.1h0.45v0.45h-0.45zM488.5 651.4h0.45v0.45h-0.45zM491.8 647.3h0.45v0.45h-0.45zM485.6 667.2h0.45v0.45h-0.45zM468.2 661.2h0.45v0.45h-0.45zM490.1 655.0h0.45v0.45h-0.45zM487.4 656.0h0.45v0.45h-0.45zM488.3 655.7h0.45v0.45h-0.45zM498.0 668.4h0.45v0.45h-0.45zM473.5 654.6h0.45v0.45h-0.45zM498.8 658.2h0.45v0.45h-0.45zM502.5 661.0h0.45v0.45h-0.45zM484.1 660.7h0.45v0.45h-0.45zM486.2 659.1h0.45v0.45h-0.45zM477.9 653.4h0.45v0.45h-0.45zM493.1 650.0h0.45v0.45h-0.45zM478.3 669.4h0.45v0.45h-0.45zM501.2 654.6h0.45v0.45h-0.45zM493.3 654.7h0.45v0.45h-0.45zM492.0 649.5h0.45v0.45h-0.45zM496.9 659.8h0.45v0.45h-0.45zM474.6 643.2h0.45v0.45h-0.45zM514.8 648.1h0.45v0.45h-0.45zM494.8 657.1h0.45v0.45h-0.45zM497.4 653.9h0.45v0.45h-0.45zM489.4 650.2h0.45v0.45h-0.45zM483.8 658.1h0.45v0.45h-0.45zM504.0 653.3h0.45v0.45h-0.45zM482.8 662.2h0.45v0.45h-0.45zM494.2 652.7h0.45v0.45h-0.45zM489.8 661.5h0.45v0.45h-0.45zM493.1 667.1h0.45v0.45h-0.45zM478.5 650.1h0.45v0.45h-0.45zM475.9 657.7h0.45v0.45h-0.45zM475.8 662.4h0.45v0.45h-0.45zM482.7 649.9h0.45v0.45h-0.45zM495.3 654.2h0.45v0.45h-0.45zM499.4 655.8h0.45v0.45h-0.45zM505.8 663.5h0.45v0.45h-0.45zM502.4 659.0h0.45v0.45h-0.45zM494.1 651.9h0.45v0.45h-0.45zM490.4 658.1h0.45v0.45h-0.45zM478.9 654.0h0.45v0.45h-0.45zM505.0 650.3h0.45v0.45h-0.45zM473.9 660.9h0.45v0.45h-0.45zM481.6 658.8h0.45v0.45h-0.45zM484.9 658.1h0.45v0.45h-0.45zM477.9 659.1h0.45v0.45h-0.45zM491.0 659.7h0.45v0.45h-0.45zM468.3 646.9h0.45v0.45h-0.45zM514.7 649.1h0.45v0.45h-0.45zM482.8 648.4h0.45v0.45h-0.45zM490.2 649.9h0.45v0.45h-0.45zM480.5 656.0h0.45v0.45h-0.45zM489.4 652.8h0.45v0.45h-0.45zM498.2 647.7h0.45v0.45h-0.45zM489.5 652.0h0.45v0.45h-0.45zM482.9 655.5h0.45v0.45h-0.45zM486.2 657.8h0.45v0.45h-0.45zM495.5 657.9h0.45v0.45h-0.45zM496.8 678.2h0.45v0.45h-0.45zM480.3 660.3h0.45v0.45h-0.45zM497.2 653.0h0.45v0.45h-0.45zM493.4 660.7h0.45v0.45h-0.45zM494.9 660.9h0.45v0.45h-0.45zM491.3 662.5h0.45v0.45h-0.45zM487.9 668.5h0.45v0.45h-0.45zM492.9 648.2h0.45v0.45h-0.45zM488.8 660.7h0.45v0.45h-0.45zM483.7 658.5h0.45v0.45h-0.45zM501.2 655.1h0.45v0.45h-0.45zM472.0 661.1h0.45v0.45h-0.45zM490.3 658.8h0.45v0.45h-0.45zM485.0 664.1h0.45v0.45h-0.45zM492.0 663.8h0.45v0.45h-0.45zM488.6 657.5h0.45v0.45h-0.45zM507.6 660.4h0.45v0.45h-0.45zM494.3 655.2h0.45v0.45h-0.45zM495.0 652.4h0.45v0.45h-0.45zM492.2 658.7h0.45v0.45h-0.45zM495.3 664.4h0.45v0.45h-0.45zM497.2 662.3h0.45v0.45h-0.45zM480.4 655.4h0.45v0.45h-0.45zM490.1 661.5h0.45v0.45h-0.45zM485.0 664.3h0.45v0.45h-0.45zM479.8 667.7h0.45v0.45h-0.45zM494.9 656.9h0.45v0.45h-0.45zM499.2 653.4h0.45v0.45h-0.45zM481.9 656.5h0.45v0.45h-0.45zM502.3 657.0h0.45v0.45h-0.45zM489.8 650.7h0.45v0.45h-0.45zM482.2 657.4h0.45v0.45h-0.45zM480.1 663.8h0.45v0.45h-0.45zM489.6 654.8h0.45v0.45h-0.45zM491.0 660.6h0.45v0.45h-0.45zM491.6 647.7h0.45v0.45h-0.45zM484.8 659.0h0.45v0.45h-0.45zM479.4 661.2h0.45v0.45h-0.45zM478.9 656.3h0.45v0.45h-0.45zM473.8 665.3h0.45v0.45h-0.45zM473.4 650.2h0.45v0.45h-0.45zM475.5 649.7h0.45v0.45h-0.45zM476.4 660.3h0.45v0.45h-0.45zM476.2 653.4h0.45v0.45h-0.45zM470.8 657.5h0.45v0.45h-0.45zM480.0 664.8h0.45v0.45h-0.45zM470.4 655.1h0.45v0.45h-0.45zM475.0 670.9h0.45v0.45h-0.45zM475.5 655.2h0.45v0.45h-0.45zM479.8 653.0h0.45v0.45h-0.45zM470.6 654.4h0.45v0.45h-0.45zM477.0 667.5h0.45v0.45h-0.45zM473.2 670.5h0.45v0.45h-0.45zM468.8 668.0h0.45v0.45h-0.45zM479.6 652.4h0.45v0.45h-0.45zM471.2 652.6h0.45v0.45h-0.45zM472.2 652.0h0.45v0.45h-0.45zM470.7 650.1h0.45v0.45h-0.45zM477.5 668.0h0.45v0.45h-0.45zM475.1 665.4h0.45v0.45h-0.45zM475.1 661.6h0.45v0.45h-0.45zM478.7 670.5h0.45v0.45h-0.45zM471.7 661.1h0.45v0.45h-0.45zM476.0 667.6h0.45v0.45h-0.45zM479.7 653.3h0.45v0.45h-0.45zM472.2 667.7h0.45v0.45h-0.45zM474.2 671.7h0.45v0.45h-0.45zM471.4 657.3h0.45v0.45h-0.45zM470.7 659.4h0.45v0.45h-0.45zM475.3 657.1h0.45v0.45h-0.45zM480.2 670.9h0.45v0.45h-0.45zM471.4 655.4h0.45v0.45h-0.45zM468.9 655.3h0.45v0.45h-0.45zM478.4 654.7h0.45v0.45h-0.45zM476.6 658.0h0.45v0.45h-0.45zM476.5 668.4h0.45v0.45h-0.45zM471.5 671.3h0.45v0.45h-0.45zM470.1 651.5h0.45v0.45h-0.45zM469.8 669.2h0.45v0.45h-0.45zM479.6 671.5h0.45v0.45h-0.45zM478.8 661.8h0.45v0.45h-0.45zM477.9 656.3h0.45v0.45h-0.45zM474.0 666.8h0.45v0.45h-0.45zM477.8 659.1h0.45v0.45h-0.45zM475.5 663.1h0.45v0.45h-0.45zM472.7 657.0h0.45v0.45h-0.45zM473.5 650.7h0.45v0.45h-0.45zM469.3 671.5h0.45v0.45h-0.45zM470.4 662.1h0.45v0.45h-0.45zM470.7 652.7h0.45v0.45h-0.45zM476.4 666.5h0.45v0.45h-0.45zM476.7 655.5h0.45v0.45h-0.45zM469.1 667.3h0.45v0.45h-0.45zM473.4 671.6h0.45v0.45h-0.45zM479.7 662.1h0.45v0.45h-0.45zM470.2 671.2h0.45v0.45h-0.45zM478.9 653.4h0.45v0.45h-0.45zM470.3 655.6h0.45v0.45h-0.45zM478.2 655.4h0.45v0.45h-0.45zM479.5 651.9h0.45v0.45h-0.45zM477.7 659.5h0.45v0.45h-0.45zM472.9 656.5h0.45v0.45h-0.45zM478.4 665.0h0.45v0.45h-0.45zM468.3 661.7h0.45v0.45h-0.45zM479.1 654.7h0.45v0.45h-0.45zM468.9 668.7h0.45v0.45h-0.45zM479.8 666.3h0.45v0.45h-0.45zM497.0 672.8h0.45v0.45h-0.45zM489.6 681.8h0.45v0.45h-0.45zM491.2 683.5h0.45v0.45h-0.45zM484.2 679.8h0.45v0.45h-0.45zM494.8 675.6h0.45v0.45h-0.45zM499.9 677.1h0.45v0.45h-0.45zM496.2 676.9h0.45v0.45h-0.45zM481.4 682.8h0.45v0.45h-0.45zM481.7 681.0h0.45v0.45h-0.45zM500.4 675.8h0.45v0.45h-0.45zM498.1 680.6h0.45v0.45h-0.45zM498.7 672.6h0.45v0.45h-0.45zM488.8 673.6h0.45v0.45h-0.45zM486.9 675.0h0.45v0.45h-0.45zM491.1 683.0h0.45v0.45h-0.45zM489.9 674.8h0.45v0.45h-0.45zM501.0 682.8h0.45v0.45h-0.45zM491.3 683.0h0.45v0.45h-0.45zM492.5 677.0h0.45v0.45h-0.45zM491.3 673.3h0.45v0.45h-0.45zM501.1 676.2h0.45v0.45h-0.45zM495.8 679.6h0.45v0.45h-0.45zM500.3 680.2h0.45v0.45h-0.45zM481.7 672.3h0.45v0.45h-0.45zM488.8 673.9h0.45v0.45h-0.45zM486.2 682.6h0.45v0.45h-0.45zM493.3 675.4h0.45v0.45h-0.45zM493.3 675.8h0.45v0.45h-0.45zM495.7 675.3h0.45v0.45h-0.45zM497.5 681.9h0.45v0.45h-0.45zM488.3 672.2h0.45v0.45h-0.45zM492.4 677.5h0.45v0.45h-0.45zM494.8 674.5h0.45v0.45h-0.45zM490.9 681.5h0.45v0.45h-0.45zM492.4 680.8h0.45v0.45h-0.45zM484.7 684.4h0.45v0.45h-0.45zM486.0 682.4h0.45v0.45h-0.45zM485.1 675.5h0.45v0.45h-0.45zM500.7 678.9h0.45v0.45h-0.45zM486.0 674.6h0.45v0.45h-0.45zM480.9 673.6h0.45v0.45h-0.45zM485.7 675.9h0.45v0.45h-0.45zM480.2 675.7h0.45v0.45h-0.45zM498.7 672.4h0.45v0.45h-0.45zM500.1 672.5h0.45v0.45h-0.45zM483.9 677.7h0.45v0.45h-0.45zM485.4 681.6h0.45v0.45h-0.45zM495.6 672.6h0.45v0.45h-0.45zM500.9 683.4h0.45v0.45h-0.45zM485.5 681.3h0.45v0.45h-0.45zM488.4 675.5h0.45v0.45h-0.45zM497.2 684.3h0.45v0.45h-0.45zM488.1 679.5h0.45v0.45h-0.45zM498.2 682.5h0.45v0.45h-0.45zM484.9 680.2h0.45v0.45h-0.45zM486.6 674.0h0.45v0.45h-0.45zM489.4 676.3h0.45v0.45h-0.45zM492.3 673.6h0.45v0.45h-0.45zM500.9 676.0h0.45v0.45h-0.45zM497.0 673.5h0.45v0.45h-0.45zM490.9 681.1h0.45v0.45h-0.45zM489.0 681.4h0.45v0.45h-0.45zM488.2 675.2h0.45v0.45h-0.45zM490.2 678.1h0.45v0.45h-0.45zM499.2 674.0h0.45v0.45h-0.45zM494.3 684.6h0.45v0.45h-0.45zM493.1 678.1h0.45v0.45h-0.45zM491.6 675.7h0.45v0.45h-0.45zM486.1 675.7h0.45v0.45h-0.45zM481.1 683.4h0.45v0.45h-0.45zM500.8 682.6h0.45v0.45h-0.45zM500.6 682.1h0.45v0.45h-0.45zM485.1 677.8h0.45v0.45h-0.45zM491.9 679.6h0.45v0.45h-0.45zM492.1 675.4h0.45v0.45h-0.45zM489.1 680.8h0.45v0.45h-0.45zM491.5 674.9h0.45v0.45h-0.45zM501.2 672.3h0.45v0.45h-0.45zM498.8 672.5h0.45v0.45h-0.45zM484.6 674.6h0.45v0.45h-0.45zM492.0 679.3h0.45v0.45h-0.45zM498.2 683.9h0.45v0.45h-0.45zM490.3 678.3h0.45v0.45h-0.45zM484.0 673.5h0.45v0.45h-0.45zM487.2 684.6h0.45v0.45h-0.45zM489.7 673.2h0.45v0.45h-0.45zM494.0 674.5h0.45v0.45h-0.45zM492.6 678.4h0.45v0.45h-0.45zM496.1 674.5h0.45v0.45h-0.45zM492.3 681.7h0.45v0.45h-0.45zM493.4 674.4h0.45v0.45h-0.45zM485.7 674.0h0.45v0.45h-0.45zM480.4 679.3h0.45v0.45h-0.45zM488.2 676.1h0.45v0.45h-0.45zM490.6 681.5h0.45v0.45h-0.45zM482.1 682.8h0.45v0.45h-0.45zM498.5 675.9h0.45v0.45h-0.45zM492.1 677.1h0.45v0.45h-0.45zM492.6 673.8h0.45v0.45h-0.45zM485.2 683.8h0.45v0.45h-0.45zM482.2 673.3h0.45v0.45h-0.45zM481.9 677.0h0.45v0.45h-0.45zM497.0 674.5h0.45v0.45h-0.45zM485.3 678.4h0.45v0.45h-0.45zM492.3 676.8h0.45v0.45h-0.45zM499.6 674.7h0.45v0.45h-0.45zM498.2 680.2h0.45v0.45h-0.45zM492.9 676.5h0.45v0.45h-0.45zM501.0 683.4h0.45v0.45h-0.45z"/>
<line x1="480.2" y1="633.4" x2="480.2" y2="685.2" stroke="#555" stroke-width="0.9"/>
<line x1="467.2" y1="672.4" x2="517.8" y2="672.4" stroke="#555" stroke-width="0.9"/>
<text x="467.5" y="637.94" font-size="4.3" font-weight="bold" fill="#111">B1</text>
<text x="480.9" y="637.94" font-size="4.3" font-weight="bold" fill="#111">B2</text>
<text x="467.5" y="676.94" font-size="4.3" font-weight="bold" fill="#111">B3</text>
<text x="480.9" y="676.94" font-size="4.3" font-weight="bold" fill="#111">B4</text>
<text x="479.6" y="644.34" font-size="4.3" text-anchor="end" font-weight="bold" fill="#111" textLength="10.5" lengthAdjust="spacingAndGlyphs">11.3%</text>
<text x="481.8" y="644.34" font-size="4.3" font-weight="bold" fill="#111" textLength="10.5" lengthAdjust="spacingAndGlyphs">26.7%</text>
<text x="479.6" y="682.14" font-size="4.3" text-anchor="end" font-weight="bold" fill="#111" textLength="10.5" lengthAdjust="spacingAndGlyphs">48.8%</text>
<text x="481.8" y="682.14" font-size="4.3" font-weight="bold" fill="#111" textLength="10.5" lengthAdjust="spacingAndGlyphs">15.7%</text>
<text x="463.2" y="635.26" font-size="3.8" text-anchor="middle" fill="#444">10<tspan font-size="2.6" dy="-1.3">4</tspan></text>
<text x="463.2" y="648.26" font-size="3.8" text-anchor="middle" fill="#444">10<tspan font-size="2.6" dy="-1.3">3</tspan></text>
<text x="463.2" y="661.26" font-size="3.8" text-anchor="middle" fill="#444">10<tspan font-size="2.6" dy="-1.3">2</tspan></text>
<text x="463.2" y="674.26" font-size="3.8" text-anchor="middle" fill="#444">10<tspan font-size="2.6" dy="-1.3">1</tspan></text>
<text x="481.8" y="689.16" font-size="3.8" text-anchor="middle" fill="#444">10<tspan font-size="2.6" dy="-1.3">0</tspan></text>
<text x="493.4" y="689.16" font-size="3.8" text-anchor="middle" fill="#444">10<tspan font-size="2.6" dy="-1.3">1</tspan></text>
<text x="505" y="689.16" font-size="3.8" text-anchor="middle" fill="#444">10<tspan font-size="2.6" dy="-1.3">2</tspan></text>
<text x="516.6" y="689.16" font-size="3.8" text-anchor="middle" fill="#444">10<tspan font-size="2.6" dy="-1.3">3</tspan></text>
<text x="493.28" y="630.11" font-size="8.4" text-anchor="middle" fill="#222" letter-spacing="0.55">si-TEFM#1</text>
<text x="457.8" y="659.3" font-size="8.4" text-anchor="middle" fill="#222" transform="rotate(-90 457.8 659.3)">P I</text>
<text x="490.92" y="698.38" font-size="8.6" text-anchor="middle" fill="#222" letter-spacing="0.25">Annexin V</text>
<rect x="533.9" y="630.8" width="60" height="59.4" fill="#f7f7f7"/>
<rect x="541.9" y="633.4" width="50.6" height="51.8" fill="#f8f8f8" stroke="#999" stroke-width="0.6"/>
<ellipse cx="547.8" cy="678.5" rx="3.25" ry="3.12" fill="#f01010"/>
<path fill="#f00a0a" fill-opacity="0.8" d="M545.6 680.2h1v1h-1zM545.0 679.4h1v1h-1zM544.3 680.0h1v1h-1zM547.2 681.5h1v1h-1zM549.5 678.2h1v1h-1zM546.7 679.2h1v1h-1zM547.3 676.0h1v1h-1zM548.9 672.3h1v1h-1zM547.3 683.2h1v1h-1zM548.7 674.8h1v1h-1zM550.1 678.6h1v1h-1zM545.9 676.7h1v1h-1zM547.7 680.1h1v1h-1zM547.2 682.3h1v1h-1zM545.9 680.2h1v1h-1zM543.6 673.5h1v1h-1zM547.2 678.8h1v1h-1zM552.1 677.4h1v1h-1zM548.2 675.3h1v1h-1zM547.5 679.5h1v1h-1zM546.5 680.6h1v1h-1zM550.9 679.6h1v1h-1zM547.3 677.7h1v1h-1zM549.0 675.8h1v1h-1zM549.9 676.8h1v1h-1zM548.2 675.6h1v1h-1zM545.2 676.3h1v1h-1zM548.8 678.3h1v1h-1zM547.7 680.5h1v1h-1zM545.3 680.3h1v1h-1zM546.0 676.1h1v1h-1zM546.1 680.7h1v1h-1zM551.6 676.9h1v1h-1zM544.8 674.4h1v1h-1zM547.6 679.2h1v1h-1zM548.5 678.8h1v1h-1zM550.9 678.3h1v1h-1zM548.5 677.5h1v1h-1zM545.1 672.8h1v1h-1zM547.5 676.7h1v1h-1zM546.2 676.7h1v1h-1zM547.6 678.4h1v1h-1zM548.5 678.9h1v1h-1zM546.9 678.5h1v1h-1zM543.5 679.0h1v1h-1zM546.7 678.3h1v1h-1zM549.0 678.4h1v1h-1zM544.6 673.4h1v1h-1zM546.2 678.1h1v1h-1zM548.0 680.5h1v1h-1zM548.4 678.8h1v1h-1zM543.0 680.0h1v1h-1zM547.8 683.1h1v1h-1zM549.3 676.3h1v1h-1zM547.7 679.6h1v1h-1zM545.1 674.2h1v1h-1zM548.5 676.8h1v1h-1zM546.9 678.3h1v1h-1zM546.7 680.0h1v1h-1zM548.1 678.8h1v1h-1zM549.5 678.0h1v1h-1zM544.3 678.1h1v1h-1zM544.1 678.7h1v1h-1zM544.5 678.1h1v1h-1zM550.5 679.7h1v1h-1zM545.4 674.7h1v1h-1zM546.3 680.6h1v1h-1zM548.8 674.5h1v1h-1zM549.5 678.8h1v1h-1zM549.3 681.4h1v1h-1zM545.4 679.5h1v1h-1zM547.9 680.7h1v1h-1zM546.7 674.8h1v1h-1zM547.8 680.5h1v1h-1zM546.8 677.5h1v1h-1zM547.8 677.8h1v1h-1zM546.4 677.1h1v1h-1zM551.1 677.1h1v1h-1zM547.9 680.9h1v1h-1zM550.2 674.2h1v1h-1zM545.5 675.2h1v1h-1zM547.1 672.8h1v1h-1zM544.0 677.8h1v1h-1zM548.3 675.4h1v1h-1zM548.0 681.2h1v1h-1zM545.1 681.2h1v1h-1zM547.3 672.9h1v1h-1zM547.8 678.4h1v1h-1zM551.1 676.5h1v1h-1zM552.0 678.0h1v1h-1zM548.8 677.7h1v1h-1zM548.8 681.1h1v1h-1zM547.5 676.9h1v1h-1zM549.1 677.5h1v1h-1zM548.2 680.6h1v1h-1zM547.8 679.0h1v1h-1zM548.0 678.4h1v1h-1zM549.6 681.0h1v1h-1zM548.2 674.0h1v1h-1zM543.8 680.1h1v1h-1zM551.1 681.3h1v1h-1zM546.3 678.8h1v1h-1zM546.2 679.2h1v1h-1zM547.3 675.8h1v1h-1zM549.0 678.3h1v1h-1zM552.8 680.9h1v1h-1zM543.7 680.3h1v1h-1zM545.3 676.7h1v1h-1zM547.0 675.1h1v1h-1zM555.1 680.2h1v1h-1zM545.3 680.9h1v1h-1zM547.8 678.8h1v1h-1zM549.8 678.7h1v1h-1zM549.0 676.0h1v1h-1zM548.7 677.5h1v1h-1zM548.9 677.8h1v1h-1zM548.6 677.0h1v1h-1zM544.4 676.5h1v1h-1zM549.9 677.7h1v1h-1zM547.8 677.4h1v1h-1zM549.8 676.4h1v1h-1zM546.1 681.1h1v1h-1zM545.6 677.0h1v1h-1zM549.0 680.1h1v1h-1zM546.7 681.3h1v1h-1zM546.5 678.6h1v1h-1zM545.3 673.0h1v1h-1zM545.8 676.7h1v1h-1zM545.3 683.8h1v1h-1zM543.6 679.4h1v1h-1zM551.5 680.1h1v1h-1zM548.9 676.9h1v1h-1zM546.1 681.4h1v1h-1zM551.6 676.9h1v1h-1zM548.6 678.3h1v1h-1zM549.3 676.5h1v1h-1zM550.0 677.3h1v1h-1zM548.3 676.7h1v1h-1zM550.2 677.5h1v1h-1zM549.1 678.1h1v1h-1zM549.7 679.3h1v1h-1zM553.8 676.4h1v1h-1zM549.7 677.0h1v1h-1zM547.9 674.2h1v1h-1zM550.6 672.6h1v1h-1zM549.5 674.6h1v1h-1zM546.8 679.4h1v1h-1zM545.6 679.1h1v1h-1zM547.4 676.7h1v1h-1zM548.6 681.8h1v1h-1zM548.4 678.3h1v1h-1zM547.9 678.1h1v1h-1zM550.7 680.4h1v1h-1zM547.3 679.2h1v1h-1zM545.0 678.1h1v1h-1zM548.3 678.1h1v1h-1zM547.3 680.6h1v1h-1zM549.3 679.8h1v1h-1zM545.7 676.8h1v1h-1zM547.7 679.6h1v1h-1zM542.7 682.0h1v1h-1zM548.8 677.8h1v1h-1zM544.8 674.9h1v1h-1zM551.2 676.3h1v1h-1zM546.7 677.3h1v1h-1zM546.9 683.8h1v1h-1zM551.8 675.4h1v1h-1zM545.1 681.7h1v1h-1zM548.0 675.8h1v1h-1zM546.0 680.4h1v1h-1zM546.9 678.0h1v1h-1zM556.8 679.3h1v1h-1zM545.3 679.5h1v1h-1zM544.8 676.5h1v1h-1zM546.4 675.3h1v1h-1zM548.1 678.2h1v1h-1zM547.2 680.4h1v1h-1zM550.3 677.8h1v1h-1zM550.6 681.4h1v1h-1zM546.4 680.4h1v1h-1zM544.7 675.3h1v1h-1zM547.5 680.6h1v1h-1zM553.2 678.4h1v1h-1zM550.7 675.0h1v1h-1zM548.4 681.3h1v1h-1zM546.1 678.7h1v1h-1zM548.6 682.8h1v1h-1zM544.8 676.1h1v1h-1zM549.6 680.5h1v1h-1zM548.7 677.1h1v1h-1zM548.0 683.7h1v1h-1zM547.0 680.7h1v1h-1zM550.9 676.2h1v1h-1zM546.5 680.1h1v1h-1zM547.4 678.8h1v1h-1zM546.0 677.9h1v1h-1zM547.2 682.6h1v1h-1zM548.1 678.8h1v1h-1zM550.8 679.2h1v1h-1zM547.5 680.0h1v1h-1zM543.4 677.6h1v1h-1zM548.3 677.9h1v1h-1zM547.1 678.4h1v1h-1zM545.2 680.9h1v1h-1zM546.0 680.3h1v1h-1zM545.0 684.4h1v1h-1zM549.3 673.4h1v1h-1zM543.4 674.8h1v1h-1zM546.7 677.3h1v1h-1zM551.5 682.4h1v1h-1zM543.5 676.8h1v1h-1zM542.5 676.2h1v1h-1zM547.9 679.4h1v1h-1zM548.2 681.9h1v1h-1zM544.9 676.4h1v1h-1zM548.1 680.5h1v1h-1zM547.1 679.1h1v1h-1zM551.7 676.9h1v1h-1zM548.0 675.9h1v1h-1zM549.8 674.4h1v1h-1zM548.0 684.1h1v1h-1zM547.7 677.3h1v1h-1zM548.2 678.7h1v1h-1zM546.7 676.9h1v1h-1zM547.8 678.6h1v1h-1zM545.4 678.9h1v1h-1zM545.9 677.5h1v1h-1zM546.3 674.9h1v1h-1zM544.8 676.5h1v1h-1zM547.6 680.1h1v1h-1zM546.9 675.9h1v1h-1zM549.4 679.7h1v1h-1zM546.0 678.2h1v1h-1zM547.6 683.6h1v1h-1zM548.4 675.7h1v1h-1zM547.6 674.7h1v1h-1zM548.5 681.0h1v1h-1zM550.5 679.4h1v1h-1zM546.3 677.8h1v1h-1zM545.5 677.9h1v1h-1zM543.4 672.1h1v1h-1zM547.7 677.3h1v1h-1zM544.8 676.4h1v1h-1zM549.2 677.1h1v1h-1zM549.4 679.4h1v1h-1zM544.8 682.0h1v1h-1zM549.9 676.0h1v1h-1zM547.6 675.5h1v1h-1zM547.0 680.6h1v1h-1zM546.5 676.2h1v1h-1zM548.7 675.8h1v1h-1zM547.5 681.0h1v1h-1zM549.0 676.4h1v1h-1zM546.2 680.7h1v1h-1zM551.6 676.8h1v1h-1zM547.0 676.3h1v1h-1zM544.6 675.8h1v1h-1zM546.5 680.9h1v1h-1zM550.4 682.6h1v1h-1zM545.6 675.1h1v1h-1zM549.1 674.4h1v1h-1zM545.5 680.8h1v1h-1zM550.1 680.7h1v1h-1zM545.3 680.2h1v1h-1zM548.4 676.3h1v1h-1zM549.1 682.1h1v1h-1zM546.1 683.1h1v1h-1zM548.7 677.5h1v1h-1zM545.3 675.3h1v1h-1zM549.1 680.1h1v1h-1zM547.4 678.0h1v1h-1zM546.9 676.1h1v1h-1zM546.4 682.5h1v1h-1zM545.4 680.2h1v1h-1zM549.5 678.1h1v1h-1zM549.5 677.6h1v1h-1zM546.7 677.7h1v1h-1zM550.2 677.7h1v1h-1zM546.9 678.4h1v1h-1zM547.1 678.5h1v1h-1zM552.3 679.3h1v1h-1zM548.3 674.4h1v1h-1zM545.9 676.3h1v1h-1zM545.5 677.2h1v1h-1zM544.4 675.1h1v1h-1zM546.0 679.4h1v1h-1zM546.5 679.6h1v1h-1zM551.6 675.9h1v1h-1zM547.0 679.1h1v1h-1zM543.2 678.1h1v1h-1zM546.4 682.0h1v1h-1zM546.2 679.2h1v1h-1zM548.8 674.5h1v1h-1zM543.1 681.6h0.8v0.8h-0.8zM545.4 683.6h0.8v0.8h-0.8zM545.0 674.3h0.8v0.8h-0.8zM546.0 682.8h0.8v0.8h-0.8zM549.8 678.7h0.8v0.8h-0.8zM546.6 680.1h0.8v0.8h-0.8zM543.9 681.4h0.8v0.8h-0.8zM548.2 676.4h0.8v0.8h-0.8zM546.9 676.5h0.8v0.8h-0.8zM548.2 671.2h0.8v0.8h-0.8zM546.8 675.0h0.8v0.8h-0.8zM544.2 682.7h0.8v0.8h-0.8zM549.1 676.7h0.8v0.8h-0.8zM548.4 675.7h0.8v0.8h-0.8zM548.6 679.0h0.8v0.8h-0.8zM545.7 677.2h0.8v0.8h-0.8zM548.9 679.5h0.8v0.8h-0.8zM546.3 679.3h0.8v0.8h-0.8zM551.9 680.9h0.8v0.8h-0.8zM548.2 678.5h0.8v0.8h-0.8zM554.7 679.5h0.8v0.8h-0.8zM547.6 677.7h0.8v0.8h-0.8zM555.5 676.2h0.8v0.8h-0.8zM556.2 678.6h0.8v0.8h-0.8zM550.7 678.1h0.8v0.8h-0.8zM551.5 681.2h0.8v0.8h-0.8zM546.4 676.0h0.8v0.8h-0.8zM550.1 678.9h0.8v0.8h-0.8zM548.0 677.8h0.8v0.8h-0.8zM547.0 680.8h0.8v0.8h-0.8zM547.3 677.8h0.8v0.8h-0.8zM553.3 678.2h0.8v0.8h-0.8zM547.6 677.0h0.8v0.8h-0.8zM545.8 676.5h0.8v0.8h-0.8zM550.2 673.4h0.8v0.8h-0.8zM545.8 676.2h0.8v0.8h-0.8zM548.2 675.3h0.8v0.8h-0.8zM547.2 676.0h0.8v0.8h-0.8zM544.5 677.5h0.8v0.8h-0.8zM545.1 673.5h0.8v0.8h-0.8zM551.1 674.6h0.8v0.8h-0.8zM551.1 681.3h0.8v0.8h-0.8zM551.4 680.6h0.8v0.8h-0.8zM544.6 679.7h0.8v0.8h-0.8zM547.9 680.2h0.8v0.8h-0.8zM547.3 683.2h0.8v0.8h-0.8zM550.2 681.6h0.8v0.8h-0.8zM558.0 675.7h0.8v0.8h-0.8zM548.0 673.9h0.8v0.8h-0.8zM543.9 676.2h0.8v0.8h-0.8zM551.1 675.6h0.8v0.8h-0.8zM555.8 680.5h0.8v0.8h-0.8zM550.4 676.3h0.8v0.8h-0.8zM551.5 675.6h0.8v0.8h-0.8zM551.7 680.6h0.8v0.8h-0.8zM551.3 676.7h0.8v0.8h-0.8zM542.8 672.2h0.8v0.8h-0.8zM544.3 677.3h0.8v0.8h-0.8zM545.1 676.6h0.8v0.8h-0.8zM549.2 675.9h0.8v0.8h-0.8zM548.4 673.8h0.8v0.8h-0.8zM550.0 677.4h0.8v0.8h-0.8zM543.4 684.4h0.8v0.8h-0.8zM552.3 682.4h0.8v0.8h-0.8zM546.6 681.9h0.8v0.8h-0.8zM547.5 679.1h0.8v0.8h-0.8zM549.5 683.4h0.8v0.8h-0.8zM554.3 682.9h0.8v0.8h-0.8zM550.8 678.4h0.8v0.8h-0.8zM548.0 683.0h0.8v0.8h-0.8zM548.9 680.4h0.8v0.8h-0.8zM556.4 677.1h0.8v0.8h-0.8zM549.6 673.0h0.8v0.8h-0.8zM544.1 682.7h0.8v0.8h-0.8zM543.9 675.2h0.8v0.8h-0.8zM553.8 683.3h0.8v0.8h-0.8zM551.4 670.3h0.8v0.8h-0.8zM544.3 678.7h0.8v0.8h-0.8zM545.2 680.4h0.8v0.8h-0.8zM542.7 673.8h0.8v0.8h-0.8zM546.4 678.5h0.8v0.8h-0.8zM551.4 675.5h0.8v0.8h-0.8zM546.1 675.7h0.8v0.8h-0.8zM548.9 676.3h0.8v0.8h-0.8zM547.8 676.8h0.8v0.8h-0.8zM554.3 670.9h0.8v0.8h-0.8zM550.7 677.1h0.8v0.8h-0.8zM552.9 678.2h0.8v0.8h-0.8zM546.6 676.5h0.8v0.8h-0.8zM546.6 678.2h0.8v0.8h-0.8zM555.2 682.6h0.8v0.8h-0.8zM545.5 676.2h0.8v0.8h-0.8zM545.9 677.2h0.8v0.8h-0.8zM544.0 682.3h0.8v0.8h-0.8zM547.3 679.5h0.8v0.8h-0.8zM549.6 677.6h0.8v0.8h-0.8zM544.7 675.8h0.8v0.8h-0.8zM547.5 681.9h0.8v0.8h-0.8zM563.6 658.9h0.55v0.55h-0.55zM562.4 655.5h0.55v0.55h-0.55zM567.6 654.1h0.55v0.55h-0.55zM564.0 655.2h0.55v0.55h-0.55zM564.3 659.5h0.55v0.55h-0.55zM562.3 655.2h0.55v0.55h-0.55zM569.2 656.9h0.55v0.55h-0.55zM552.7 656.0h0.55v0.55h-0.55zM564.9 660.2h0.55v0.55h-0.55zM563.2 652.8h0.55v0.55h-0.55zM562.8 658.1h0.55v0.55h-0.55zM565.3 653.7h0.55v0.55h-0.55zM561.4 655.4h0.55v0.55h-0.55zM570.9 658.2h0.55v0.55h-0.55zM561.3 659.7h0.55v0.55h-0.55zM571.9 656.7h0.55v0.55h-0.55zM568.2 655.3h0.55v0.55h-0.55zM559.6 658.4h0.55v0.55h-0.55zM568.3 659.0h0.55v0.55h-0.55zM570.4 657.6h0.55v0.55h-0.55zM576.6 652.9h0.55v0.55h-0.55zM566.1 659.6h0.55v0.55h-0.55zM564.8 656.9h0.55v0.55h-0.55zM570.1 659.5h0.55v0.55h-0.55zM573.2 659.9h0.55v0.55h-0.55zM569.5 656.2h0.55v0.55h-0.55zM568.0 657.1h0.55v0.55h-0.55zM575.1 659.1h0.55v0.55h-0.55zM556.4 652.8h0.55v0.55h-0.55zM560.7 654.2h0.55v0.55h-0.55zM559.3 658.1h0.55v0.55h-0.55zM568.6 656.6h0.55v0.55h-0.55zM567.1 657.3h0.55v0.55h-0.55zM563.0 658.2h0.55v0.55h-0.55zM564.4 659.0h0.55v0.55h-0.55zM560.5 656.7h0.55v0.55h-0.55zM562.5 660.8h0.55v0.55h-0.55zM569.7 660.2h0.55v0.55h-0.55zM565.6 656.5h0.55v0.55h-0.55zM557.4 659.8h0.55v0.55h-0.55zM563.9 657.0h0.55v0.55h-0.55zM566.6 655.8h0.55v0.55h-0.55zM557.8 656.4h0.55v0.55h-0.55zM580.4 657.1h0.55v0.55h-0.55zM566.8 657.2h0.55v0.55h-0.55zM565.9 657.5h0.55v0.55h-0.55zM562.9 655.3h0.55v0.55h-0.55zM559.4 656.8h0.55v0.55h-0.55zM570.0 658.0h0.55v0.55h-0.55zM575.9 655.7h0.55v0.55h-0.55zM560.5 656.3h0.55v0.55h-0.55zM570.7 653.0h0.55v0.55h-0.55zM571.1 657.4h0.55v0.55h-0.55zM574.4 657.0h0.55v0.55h-0.55zM561.7 654.5h0.55v0.55h-0.55zM573.4 658.1h0.55v0.55h-0.55zM564.2 656.9h0.55v0.55h-0.55zM568.3 658.0h0.55v0.55h-0.55zM563.8 658.1h0.55v0.55h-0.55zM561.4 654.5h0.55v0.55h-0.55zM568.5 654.5h0.55v0.55h-0.55zM561.2 655.6h0.55v0.55h-0.55zM563.2 654.0h0.55v0.55h-0.55zM574.0 658.6h0.55v0.55h-0.55zM580.6 656.8h0.55v0.55h-0.55zM565.0 658.4h0.55v0.55h-0.55zM574.6 655.7h0.55v0.55h-0.55zM571.2 658.3h0.55v0.55h-0.55zM564.5 656.5h0.55v0.55h-0.55zM569.4 656.7h0.55v0.55h-0.55zM568.4 656.1h0.55v0.55h-0.55zM569.5 657.2h0.55v0.55h-0.55zM573.4 658.1h0.55v0.55h-0.55zM562.8 656.3h0.55v0.55h-0.55zM567.1 655.5h0.55v0.55h-0.55zM563.4 658.1h0.55v0.55h-0.55zM554.9 655.7h0.55v0.55h-0.55zM568.5 653.3h0.55v0.55h-0.55zM570.8 654.7h0.55v0.55h-0.55zM566.0 659.5h0.55v0.55h-0.55zM560.4 658.1h0.55v0.55h-0.55zM563.9 658.0h0.55v0.55h-0.55zM571.0 654.8h0.55v0.55h-0.55zM560.8 655.9h0.55v0.55h-0.55zM570.0 658.7h0.55v0.55h-0.55zM571.2 657.5h0.55v0.55h-0.55zM562.3 658.8h0.55v0.55h-0.55zM564.1 656.1h0.55v0.55h-0.55zM568.1 657.7h0.55v0.55h-0.55zM564.6 659.9h0.55v0.55h-0.55zM568.9 658.8h0.55v0.55h-0.55zM575.3 658.0h0.55v0.55h-0.55zM573.9 654.3h0.55v0.55h-0.55zM567.2 656.2h0.55v0.55h-0.55zM562.2 657.6h0.55v0.55h-0.55zM561.7 658.9h0.55v0.55h-0.55zM572.9 654.5h0.55v0.55h-0.55zM570.9 659.2h0.55v0.55h-0.55zM571.8 655.7h0.55v0.55h-0.55zM566.7 660.3h0.55v0.55h-0.55zM569.0 657.5h0.55v0.55h-0.55zM570.5 657.2h0.55v0.55h-0.55zM558.6 658.0h0.55v0.55h-0.55zM566.1 657.7h0.55v0.55h-0.55zM563.9 656.7h0.55v0.55h-0.55zM565.9 654.4h0.55v0.55h-0.55zM561.0 658.5h0.55v0.55h-0.55zM572.1 658.0h0.55v0.55h-0.55zM553.1 656.4h0.55v0.55h-0.55zM576.6 656.1h0.55v0.55h-0.55zM569.5 657.4h0.55v0.55h-0.55zM577.0 656.7h0.55v0.55h-0.55zM573.3 656.3h0.55v0.55h-0.55zM568.4 658.7h0.55v0.55h-0.55zM559.4 659.6h0.55v0.55h-0.55zM568.6 659.5h0.55v0.55h-0.55zM555.1 654.9h0.55v0.55h-0.55zM568.0 653.7h0.55v0.55h-0.55zM566.2 654.8h0.55v0.55h-0.55zM561.6 658.6h0.55v0.55h-0.55zM568.9 672.4h0.45v0.45h-0.45zM573.9 660.2h0.45v0.45h-0.45zM581.7 652.8h0.45v0.45h-0.45zM564.2 663.7h0.45v0.45h-0.45zM566.9 677.9h0.45v0.45h-0.45zM566.6 653.2h0.45v0.45h-0.45zM574.0 657.9h0.45v0.45h-0.45zM561.0 667.2h0.45v0.45h-0.45zM550.5 651.9h0.45v0.45h-0.45zM559.2 674.8h0.45v0.45h-0.45zM564.6 654.4h0.45v0.45h-0.45zM563.7 661.5h0.45v0.45h-0.45zM570.0 654.5h0.45v0.45h-0.45zM571.5 652.8h0.45v0.45h-0.45zM567.9 659.6h0.45v0.45h-0.45zM561.7 655.6h0.45v0.45h-0.45zM575.7 664.2h0.45v0.45h-0.45zM571.9 658.7h0.45v0.45h-0.45zM589.7 657.5h0.45v0.45h-0.45zM553.7 658.8h0.45v0.45h-0.45zM562.3 674.1h0.45v0.45h-0.45zM575.4 654.3h0.45v0.45h-0.45zM559.7 662.9h0.45v0.45h-0.45zM582.4 660.4h0.45v0.45h-0.45zM558.1 655.6h0.45v0.45h-0.45zM574.0 663.0h0.45v0.45h-0.45zM578.6 657.6h0.45v0.45h-0.45zM573.0 665.0h0.45v0.45h-0.45zM584.5 661.1h0.45v0.45h-0.45zM562.8 652.4h0.45v0.45h-0.45zM557.0 654.4h0.45v0.45h-0.45zM553.2 658.4h0.45v0.45h-0.45zM573.4 653.6h0.45v0.45h-0.45zM573.0 657.9h0.45v0.45h-0.45zM568.8 650.9h0.45v0.45h-0.45zM563.4 648.3h0.45v0.45h-0.45zM548.2 661.5h0.45v0.45h-0.45zM562.3 660.1h0.45v0.45h-0.45zM584.2 658.8h0.45v0.45h-0.45zM559.3 662.9h0.45v0.45h-0.45zM567.2 658.5h0.45v0.45h-0.45zM563.0 669.0h0.45v0.45h-0.45zM553.3 660.1h0.45v0.45h-0.45zM576.9 662.2h0.45v0.45h-0.45zM569.2 664.5h0.45v0.45h-0.45zM560.9 662.8h0.45v0.45h-0.45zM556.5 662.5h0.45v0.45h-0.45zM559.7 650.8h0.45v0.45h-0.45zM572.0 657.2h0.45v0.45h-0.45zM571.2 655.9h0.45v0.45h-0.45zM567.6 666.3h0.45v0.45h-0.45zM559.5 661.7h0.45v0.45h-0.45zM557.0 645.1h0.45v0.45h-0.45zM554.3 670.6h0.45v0.45h-0.45zM562.5 654.1h0.45v0.45h-0.45zM572.5 659.4h0.45v0.45h-0.45zM572.3 654.3h0.45v0.45h-0.45zM550.5 662.3h0.45v0.45h-0.45zM553.4 650.8h0.45v0.45h-0.45zM552.5 657.7h0.45v0.45h-0.45zM552.7 669.4h0.45v0.45h-0.45zM567.5 655.8h0.45v0.45h-0.45zM562.9 659.3h0.45v0.45h-0.45zM580.9 660.1h0.45v0.45h-0.45zM570.8 648.3h0.45v0.45h-0.45zM561.0 663.3h0.45v0.45h-0.45zM573.5 661.2h0.45v0.45h-0.45zM559.9 665.9h0.45v0.45h-0.45zM553.2 657.4h0.45v0.45h-0.45zM557.8 657.4h0.45v0.45h-0.45zM559.3 660.9h0.45v0.45h-0.45zM563.1 654.7h0.45v0.45h-0.45zM568.5 673.5h0.45v0.45h-0.45zM582.6 654.0h0.45v0.45h-0.45zM555.2 661.8h0.45v0.45h-0.45zM554.9 652.4h0.45v0.45h-0.45zM566.8 650.1h0.45v0.45h-0.45zM569.8 669.1h0.45v0.45h-0.45zM558.6 661.8h0.45v0.45h-0.45zM563.2 660.3h0.45v0.45h-0.45zM566.8 650.5h0.45v0.45h-0.45zM563.8 650.1h0.45v0.45h-0.45zM566.5 660.1h0.45v0.45h-0.45zM560.6 644.4h0.45v0.45h-0.45zM555.6 651.7h0.45v0.45h-0.45zM569.9 658.1h0.45v0.45h-0.45zM566.1 660.1h0.45v0.45h-0.45zM567.6 659.2h0.45v0.45h-0.45zM567.3 671.2h0.45v0.45h-0.45zM570.8 653.4h0.45v0.45h-0.45zM572.0 661.4h0.45v0.45h-0.45zM587.1 648.6h0.45v0.45h-0.45zM566.9 659.4h0.45v0.45h-0.45zM559.9 665.4h0.45v0.45h-0.45zM577.3 660.6h0.45v0.45h-0.45zM559.2 663.9h0.45v0.45h-0.45zM568.9 669.2h0.45v0.45h-0.45zM559.8 662.1h0.45v0.45h-0.45zM554.3 669.1h0.45v0.45h-0.45zM572.0 654.6h0.45v0.45h-0.45zM569.2 648.9h0.45v0.45h-0.45zM558.1 669.0h0.45v0.45h-0.45zM562.9 652.2h0.45v0.45h-0.45zM558.6 665.1h0.45v0.45h-0.45zM554.1 654.8h0.45v0.45h-0.45zM567.3 670.5h0.45v0.45h-0.45zM567.0 660.6h0.45v0.45h-0.45zM565.7 658.6h0.45v0.45h-0.45zM555.5 655.2h0.45v0.45h-0.45zM554.9 650.5h0.45v0.45h-0.45zM559.9 647.1h0.45v0.45h-0.45zM570.2 661.1h0.45v0.45h-0.45zM558.9 652.9h0.45v0.45h-0.45zM574.5 663.8h0.45v0.45h-0.45zM564.3 657.7h0.45v0.45h-0.45zM568.8 660.0h0.45v0.45h-0.45zM575.0 654.6h0.45v0.45h-0.45zM578.0 661.8h0.45v0.45h-0.45zM569.7 647.5h0.45v0.45h-0.45zM549.8 661.7h0.45v0.45h-0.45zM566.9 652.8h0.45v0.45h-0.45zM564.0 655.9h0.45v0.45h-0.45zM566.9 655.8h0.45v0.45h-0.45zM571.5 648.8h0.45v0.45h-0.45zM551.7 666.7h0.45v0.45h-0.45zM578.3 651.4h0.45v0.45h-0.45zM578.4 652.4h0.45v0.45h-0.45zM570.9 658.5h0.45v0.45h-0.45zM571.6 666.1h0.45v0.45h-0.45zM557.6 662.8h0.45v0.45h-0.45zM583.3 645.3h0.45v0.45h-0.45zM564.2 661.7h0.45v0.45h-0.45zM576.3 652.8h0.45v0.45h-0.45zM557.0 664.2h0.45v0.45h-0.45zM571.2 656.0h0.45v0.45h-0.45zM572.3 662.4h0.45v0.45h-0.45zM555.2 644.0h0.45v0.45h-0.45zM564.9 664.8h0.45v0.45h-0.45zM558.1 657.5h0.45v0.45h-0.45zM579.5 662.4h0.45v0.45h-0.45zM552.7 646.7h0.45v0.45h-0.45zM569.7 672.4h0.45v0.45h-0.45zM570.7 653.0h0.45v0.45h-0.45zM559.5 661.2h0.45v0.45h-0.45zM563.3 662.5h0.45v0.45h-0.45zM571.4 655.3h0.45v0.45h-0.45zM564.9 655.1h0.45v0.45h-0.45zM561.4 660.6h0.45v0.45h-0.45zM568.6 657.5h0.45v0.45h-0.45zM569.6 638.3h0.45v0.45h-0.45zM567.5 658.0h0.45v0.45h-0.45zM564.9 664.2h0.45v0.45h-0.45zM575.8 660.0h0.45v0.45h-0.45zM562.8 666.9h0.45v0.45h-0.45zM567.5 656.2h0.45v0.45h-0.45zM562.0 663.1h0.45v0.45h-0.45zM562.8 664.7h0.45v0.45h-0.45zM559.6 649.6h0.45v0.45h-0.45zM563.0 645.3h0.45v0.45h-0.45zM572.5 660.7h0.45v0.45h-0.45zM567.5 666.8h0.45v0.45h-0.45zM564.5 655.6h0.45v0.45h-0.45zM558.5 651.3h0.45v0.45h-0.45zM550.8 651.3h0.45v0.45h-0.45zM570.5 659.1h0.45v0.45h-0.45zM560.4 661.1h0.45v0.45h-0.45zM554.2 646.5h0.45v0.45h-0.45zM570.2 669.5h0.45v0.45h-0.45zM584.2 648.5h0.45v0.45h-0.45zM570.2 656.4h0.45v0.45h-0.45zM576.0 660.9h0.45v0.45h-0.45zM571.0 652.1h0.45v0.45h-0.45zM561.1 663.8h0.45v0.45h-0.45zM561.6 658.4h0.45v0.45h-0.45zM575.5 658.5h0.45v0.45h-0.45zM578.7 650.5h0.45v0.45h-0.45zM565.5 652.2h0.45v0.45h-0.45zM569.7 648.4h0.45v0.45h-0.45zM557.2 655.9h0.45v0.45h-0.45zM566.4 657.1h0.45v0.45h-0.45zM554.8 657.5h0.45v0.45h-0.45zM562.8 650.8h0.45v0.45h-0.45zM569.8 653.4h0.45v0.45h-0.45zM574.8 669.8h0.45v0.45h-0.45zM550.9 647.9h0.45v0.45h-0.45zM563.4 659.6h0.45v0.45h-0.45zM553.6 660.7h0.45v0.45h-0.45zM568.8 653.1h0.45v0.45h-0.45zM577.4 664.4h0.45v0.45h-0.45zM553.1 650.1h0.45v0.45h-0.45zM554.4 662.8h0.45v0.45h-0.45zM544.1 671.1h0.45v0.45h-0.45zM544.7 668.0h0.45v0.45h-0.45zM550.1 670.5h0.45v0.45h-0.45zM550.1 669.4h0.45v0.45h-0.45zM553.3 663.4h0.45v0.45h-0.45zM553.8 662.7h0.45v0.45h-0.45zM547.6 665.3h0.45v0.45h-0.45zM543.0 663.4h0.45v0.45h-0.45zM547.6 654.8h0.45v0.45h-0.45zM545.5 664.4h0.45v0.45h-0.45zM550.1 657.2h0.45v0.45h-0.45zM543.3 649.8h0.45v0.45h-0.45zM553.7 654.8h0.45v0.45h-0.45zM551.7 662.1h0.45v0.45h-0.45zM549.1 651.6h0.45v0.45h-0.45zM549.8 649.4h0.45v0.45h-0.45zM547.6 664.6h0.45v0.45h-0.45zM548.6 653.3h0.45v0.45h-0.45zM543.9 668.0h0.45v0.45h-0.45zM553.5 656.0h0.45v0.45h-0.45zM550.2 653.0h0.45v0.45h-0.45zM548.5 653.1h0.45v0.45h-0.45zM544.4 651.2h0.45v0.45h-0.45zM548.5 655.1h0.45v0.45h-0.45zM553.5 653.7h0.45v0.45h-0.45zM549.5 658.5h0.45v0.45h-0.45zM545.4 670.9h0.45v0.45h-0.45zM544.7 655.3h0.45v0.45h-0.45zM550.4 665.0h0.45v0.45h-0.45zM548.1 665.0h0.45v0.45h-0.45zM550.1 653.4h0.45v0.45h-0.45zM552.6 652.7h0.45v0.45h-0.45zM553.1 665.2h0.45v0.45h-0.45zM551.4 665.7h0.45v0.45h-0.45zM552.5 666.6h0.45v0.45h-0.45zM553.8 660.5h0.45v0.45h-0.45zM554.6 649.3h0.45v0.45h-0.45zM544.1 657.2h0.45v0.45h-0.45zM545.6 653.4h0.45v0.45h-0.45zM543.7 662.5h0.45v0.45h-0.45zM554.9 652.7h0.45v0.45h-0.45zM543.9 669.6h0.45v0.45h-0.45zM554.1 669.3h0.45v0.45h-0.45zM543.0 658.1h0.45v0.45h-0.45zM551.7 657.4h0.45v0.45h-0.45zM545.2 667.7h0.45v0.45h-0.45zM552.4 664.6h0.45v0.45h-0.45zM545.6 664.9h0.45v0.45h-0.45zM548.4 652.8h0.45v0.45h-0.45zM549.2 667.9h0.45v0.45h-0.45zM545.4 664.2h0.45v0.45h-0.45zM546.7 655.1h0.45v0.45h-0.45zM548.3 650.5h0.45v0.45h-0.45zM547.0 652.3h0.45v0.45h-0.45zM545.5 666.0h0.45v0.45h-0.45zM551.7 653.7h0.45v0.45h-0.45zM552.3 671.2h0.45v0.45h-0.45zM544.3 664.0h0.45v0.45h-0.45zM559.7 673.3h0.45v0.45h-0.45zM556.2 683.7h0.45v0.45h-0.45zM563.4 677.3h0.45v0.45h-0.45zM573.0 679.3h0.45v0.45h-0.45zM562.2 684.1h0.45v0.45h-0.45zM573.8 681.1h0.45v0.45h-0.45zM576.0 679.0h0.45v0.45h-0.45zM565.8 677.4h0.45v0.45h-0.45zM557.2 674.3h0.45v0.45h-0.45zM567.6 682.6h0.45v0.45h-0.45zM572.7 674.5h0.45v0.45h-0.45zM566.2 677.9h0.45v0.45h-0.45zM574.6 673.7h0.45v0.45h-0.45zM556.7 683.1h0.45v0.45h-0.45zM573.9 676.1h0.45v0.45h-0.45zM572.8 674.3h0.45v0.45h-0.45zM556.0 684.0h0.45v0.45h-0.45zM577.5 680.4h0.45v0.45h-0.45zM572.1 672.8h0.45v0.45h-0.45zM556.2 675.6h0.45v0.45h-0.45zM569.2 679.9h0.45v0.45h-0.45zM561.8 679.4h0.45v0.45h-0.45zM569.4 675.7h0.45v0.45h-0.45zM573.9 679.2h0.45v0.45h-0.45zM569.6 672.5h0.45v0.45h-0.45zM570.0 672.0h0.45v0.45h-0.45zM555.8 674.5h0.45v0.45h-0.45zM574.7 677.6h0.45v0.45h-0.45zM573.7 680.5h0.45v0.45h-0.45zM555.7 673.9h0.45v0.45h-0.45zM574.9 679.6h0.45v0.45h-0.45zM555.9 674.4h0.45v0.45h-0.45zM565.1 681.1h0.45v0.45h-0.45zM565.1 682.6h0.45v0.45h-0.45zM555.3 676.7h0.45v0.45h-0.45zM557.2 679.1h0.45v0.45h-0.45zM574.9 677.4h0.45v0.45h-0.45zM564.1 673.9h0.45v0.45h-0.45zM558.8 680.8h0.45v0.45h-0.45zM570.7 682.0h0.45v0.45h-0.45zM577.7 675.6h0.45v0.45h-0.45zM556.8 684.5h0.45v0.45h-0.45zM559.4 682.8h0.45v0.45h-0.45zM559.0 684.1h0.45v0.45h-0.45zM555.2 680.5h0.45v0.45h-0.45zM575.2 679.2h0.45v0.45h-0.45zM572.3 678.9h0.45v0.45h-0.45zM560.6 675.8h0.45v0.45h-0.45zM567.0 680.4h0.45v0.45h-0.45zM565.0 678.8h0.45v0.45h-0.45zM575.0 674.7h0.45v0.45h-0.45zM571.1 675.3h0.45v0.45h-0.45zM555.1 675.2h0.45v0.45h-0.45zM573.6 676.8h0.45v0.45h-0.45zM572.8 679.2h0.45v0.45h-0.45zM565.2 673.2h0.45v0.45h-0.45zM555.5 680.1h0.45v0.45h-0.45zM560.8 675.8h0.45v0.45h-0.45zM564.3 682.4h0.45v0.45h-0.45zM572.8 675.1h0.45v0.45h-0.45zM575.8 681.7h0.45v0.45h-0.45zM556.1 673.1h0.45v0.45h-0.45zM557.7 682.2h0.45v0.45h-0.45zM566.7 680.4h0.45v0.45h-0.45zM566.5 676.6h0.45v0.45h-0.45zM576.9 675.7h0.45v0.45h-0.45zM575.6 680.4h0.45v0.45h-0.45zM566.5 684.4h0.45v0.45h-0.45zM570.8 673.0h0.45v0.45h-0.45zM565.5 683.3h0.45v0.45h-0.45zM559.1 684.3h0.45v0.45h-0.45zM560.4 678.0h0.45v0.45h-0.45zM557.3 674.3h0.45v0.45h-0.45zM564.1 682.2h0.45v0.45h-0.45zM557.8 680.5h0.45v0.45h-0.45zM570.2 679.4h0.45v0.45h-0.45zM569.2 676.7h0.45v0.45h-0.45zM560.9 681.2h0.45v0.45h-0.45zM577.5 680.1h0.45v0.45h-0.45zM559.9 676.3h0.45v0.45h-0.45zM560.8 682.7h0.45v0.45h-0.45zM570.3 677.9h0.45v0.45h-0.45zM571.3 677.4h0.45v0.45h-0.45zM577.0 679.1h0.45v0.45h-0.45zM568.2 684.3h0.45v0.45h-0.45zM569.6 673.1h0.45v0.45h-0.45zM561.2 676.8h0.45v0.45h-0.45zM564.7 683.1h0.45v0.45h-0.45zM569.5 683.5h0.45v0.45h-0.45zM560.7 675.3h0.45v0.45h-0.45zM573.8 679.7h0.45v0.45h-0.45zM562.3 678.3h0.45v0.45h-0.45zM561.4 675.9h0.45v0.45h-0.45zM561.8 684.0h0.45v0.45h-0.45zM567.9 676.2h0.45v0.45h-0.45zM560.3 679.8h0.45v0.45h-0.45zM558.4 680.9h0.45v0.45h-0.45zM556.4 673.3h0.45v0.45h-0.45zM568.7 681.7h0.45v0.45h-0.45zM555.6 679.6h0.45v0.45h-0.45zM568.1 673.7h0.45v0.45h-0.45zM567.7 679.6h0.45v0.45h-0.45zM557.8 681.7h0.45v0.45h-0.45zM556.9 676.1h0.45v0.45h-0.45zM557.7 673.8h0.45v0.45h-0.45zM561.3 674.4h0.45v0.45h-0.45zM574.8 683.6h0.45v0.45h-0.45zM562.6 683.1h0.45v0.45h-0.45zM557.6 677.3h0.45v0.45h-0.45zM565.8 674.0h0.45v0.45h-0.45zM558.6 675.5h0.45v0.45h-0.45zM563.4 680.4h0.45v0.45h-0.45zM569.8 684.2h0.45v0.45h-0.45zM560.7 680.7h0.45v0.45h-0.45zM556.8 682.1h0.45v0.45h-0.45zM574.6 678.7h0.45v0.45h-0.45zM577.2 677.9h0.45v0.45h-0.45zM558.5 672.1h0.45v0.45h-0.45zM560.5 679.8h0.45v0.45h-0.45zM576.8 678.3h0.45v0.45h-0.45zM567.7 674.0h0.45v0.45h-0.45zM567.2 682.5h0.45v0.45h-0.45zM563.7 675.7h0.45v0.45h-0.45zM558.0 673.4h0.45v0.45h-0.45zM574.0 683.6h0.45v0.45h-0.45zM561.6 681.9h0.45v0.45h-0.45zM569.0 681.6h0.45v0.45h-0.45z"/>
<line x1="555.1" y1="633.4" x2="555.1" y2="685.2" stroke="#555" stroke-width="0.9"/>
<line x1="541.9" y1="671.7" x2="592.5" y2="671.7" stroke="#555" stroke-width="0.9"/>
<text x="542.2" y="637.94" font-size="4.3" font-weight="bold" fill="#111">B1</text>
<text x="555.8" y="637.94" font-size="4.3" font-weight="bold" fill="#111">B2</text>
<text x="542.2" y="676.24" font-size="4.3" font-weight="bold" fill="#111">B3</text>
<text x="555.8" y="676.24" font-size="4.3" font-weight="bold" fill="#111">B4</text>
<text x="554.5" y="644.34" font-size="4.3" text-anchor="end" font-weight="bold" fill="#111" textLength="8.4" lengthAdjust="spacingAndGlyphs">7.9%</text>
<text x="556.7" y="644.34" font-size="4.3" font-weight="bold" fill="#111" textLength="10.5" lengthAdjust="spacingAndGlyphs">26.4%</text>
<text x="554.5" y="681.44" font-size="4.3" text-anchor="end" font-weight="bold" fill="#111" textLength="10.5" lengthAdjust="spacingAndGlyphs">43.9%</text>
<text x="556.7" y="681.44" font-size="4.3" font-weight="bold" fill="#111" textLength="10.5" lengthAdjust="spacingAndGlyphs">21.8%</text>
<text x="537.9" y="635.26" font-size="3.8" text-anchor="middle" fill="#444">10<tspan font-size="2.6" dy="-1.3">4</tspan></text>
<text x="537.9" y="648.03" font-size="3.8" text-anchor="middle" fill="#444">10<tspan font-size="2.6" dy="-1.3">3</tspan></text>
<text x="537.9" y="660.79" font-size="3.8" text-anchor="middle" fill="#444">10<tspan font-size="2.6" dy="-1.3">2</tspan></text>
<text x="537.9" y="673.56" font-size="3.8" text-anchor="middle" fill="#444">10<tspan font-size="2.6" dy="-1.3">1</tspan></text>
<text x="556.7" y="689.16" font-size="3.8" text-anchor="middle" fill="#444">10<tspan font-size="2.6" dy="-1.3">0</tspan></text>
<text x="568.23" y="689.16" font-size="3.8" text-anchor="middle" fill="#444">10<tspan font-size="2.6" dy="-1.3">1</tspan></text>
<text x="579.77" y="689.16" font-size="3.8" text-anchor="middle" fill="#444">10<tspan font-size="2.6" dy="-1.3">2</tspan></text>
<text x="591.3" y="689.16" font-size="3.8" text-anchor="middle" fill="#444">10<tspan font-size="2.6" dy="-1.3">3</tspan></text>
<text x="568.18" y="630.11" font-size="8.4" text-anchor="middle" fill="#222" letter-spacing="0.55">si-TEFM#2</text>
<text x="532.9" y="659.3" font-size="8.4" text-anchor="middle" fill="#222" transform="rotate(-90 532.9 659.3)">P I</text>
<text x="566.42" y="698.38" font-size="8.6" text-anchor="middle" fill="#222" letter-spacing="0.25">Annexin V</text>
<line x1="266.3" y1="628.7" x2="266.3" y2="683.75" stroke="#333" stroke-width="0.9"/>
<line x1="265.85" y1="683.3" x2="316.9" y2="683.3" stroke="#333" stroke-width="0.9"/>
<line x1="264.3" y1="683.3" x2="266.3" y2="683.3" stroke="#333" stroke-width="0.9"/>
<text x="263.7" y="686.09" font-size="7.8" text-anchor="end" fill="#333">0</text>
<line x1="264.3" y1="669.75" x2="266.3" y2="669.75" stroke="#333" stroke-width="0.9"/>
<text x="263.7" y="672.54" font-size="7.8" text-anchor="end" fill="#333">20</text>
<line x1="264.3" y1="656.2" x2="266.3" y2="656.2" stroke="#333" stroke-width="0.9"/>
<text x="263.7" y="658.99" font-size="7.8" text-anchor="end" fill="#333">40</text>
<line x1="264.3" y1="642.65" x2="266.3" y2="642.65" stroke="#333" stroke-width="0.9"/>
<text x="263.7" y="645.44" font-size="7.8" text-anchor="end" fill="#333">60</text>
<line x1="264.3" y1="629.1" x2="266.3" y2="629.1" stroke="#333" stroke-width="0.9"/>
<text x="263.7" y="631.89" font-size="7.8" text-anchor="end" fill="#333">80</text>
<line x1="275" y1="677.07" x2="275" y2="676.8" stroke="#333" stroke-width="0.9"/>
<line x1="272.15" y1="676.8" x2="277.85" y2="676.8" stroke="#333" stroke-width="0.9"/>
<rect x="269.3" y="677.07" width="11.4" height="6.23" fill="#fff" stroke="#333" stroke-width="0.9"/>
<line x1="275" y1="683.3" x2="275" y2="685.3" stroke="#333" stroke-width="0.9"/>
<line x1="291.55" y1="651.39" x2="291.55" y2="649.42" stroke="#555" stroke-width="0.9"/>
<line x1="288.87" y1="649.42" x2="294.22" y2="649.42" stroke="#555" stroke-width="0.9"/>
<rect x="285.8" y="650.99" width="11.5" height="32.31" fill="#808080"/>
<line x1="291.55" y1="683.3" x2="291.55" y2="685.3" stroke="#333" stroke-width="0.9"/>
<line x1="307.8" y1="648.21" x2="307.8" y2="646.38" stroke="#555" stroke-width="0.9"/>
<line x1="305.2" y1="646.38" x2="310.4" y2="646.38" stroke="#555" stroke-width="0.9"/>
<rect x="302.2" y="647.81" width="11.2" height="35.49" fill="#808080"/>
<line x1="307.8" y1="683.3" x2="307.8" y2="685.3" stroke="#333" stroke-width="0.9"/>
<path d="M274.3 647.1V644.3H291.4V647.1" fill="none" stroke="#383838" stroke-width="1"/>
<text x="282.85" y="645.56" font-size="9.2" text-anchor="middle" fill="#383838">*</text>
<path d="M274.3 639.2V636.4H307.6V639.2" fill="none" stroke="#383838" stroke-width="1"/>
<text x="290.95" y="637.66" font-size="9.2" text-anchor="middle" fill="#383838">*</text>
<text x="250.9" y="654.8" font-size="7" text-anchor="middle" fill="#222" transform="rotate(-90 250.9 654.8)">Apoptotic cells (%)</text>
<text x="276.6" y="689.2" font-size="7.1" text-anchor="end" fill="#222" letter-spacing="0.2" transform="rotate(-45 276.6 689.2)">siCtrl</text>
<text x="293.15" y="689.2" font-size="7.1" text-anchor="end" fill="#222" letter-spacing="0.2" transform="rotate(-45 293.15 689.2)">si-TEFM#1</text>
<text x="309.4" y="689.2" font-size="7.1" text-anchor="end" fill="#222" letter-spacing="0.2" transform="rotate(-45 309.4 689.2)">si-TEFM#2</text>
<line x1="623.2" y1="628.8" x2="623.2" y2="683.65" stroke="#333" stroke-width="0.9"/>
<line x1="622.75" y1="683.2" x2="673.3" y2="683.2" stroke="#333" stroke-width="0.9"/>
<line x1="621.2" y1="683.2" x2="623.2" y2="683.2" stroke="#333" stroke-width="0.9"/>
<text x="620.6" y="685.99" font-size="7.8" text-anchor="end" fill="#333">0</text>
<line x1="621.2" y1="669.7" x2="623.2" y2="669.7" stroke="#333" stroke-width="0.9"/>
<text x="620.6" y="672.49" font-size="7.8" text-anchor="end" fill="#333">20</text>
<line x1="621.2" y1="656.2" x2="623.2" y2="656.2" stroke="#333" stroke-width="0.9"/>
<text x="620.6" y="658.99" font-size="7.8" text-anchor="end" fill="#333">40</text>
<line x1="621.2" y1="642.7" x2="623.2" y2="642.7" stroke="#333" stroke-width="0.9"/>
<text x="620.6" y="645.49" font-size="7.8" text-anchor="end" fill="#333">60</text>
<line x1="621.2" y1="629.2" x2="623.2" y2="629.2" stroke="#333" stroke-width="0.9"/>
<text x="620.6" y="631.99" font-size="7.8" text-anchor="end" fill="#333">80</text>
<line x1="631.95" y1="678.14" x2="631.95" y2="677.87" stroke="#333" stroke-width="0.9"/>
<line x1="629.12" y1="677.87" x2="634.78" y2="677.87" stroke="#333" stroke-width="0.9"/>
<rect x="626.3" y="678.14" width="11.3" height="5.06" fill="#fff" stroke="#333" stroke-width="0.9"/>
<line x1="631.95" y1="683.2" x2="631.95" y2="685.2" stroke="#333" stroke-width="0.9"/>
<line x1="648.65" y1="654.99" x2="648.65" y2="653.5" stroke="#555" stroke-width="0.9"/>
<line x1="645.97" y1="653.5" x2="651.33" y2="653.5" stroke="#555" stroke-width="0.9"/>
<rect x="642.9" y="654.59" width="11.5" height="28.62" fill="#808080"/>
<line x1="648.65" y1="683.2" x2="648.65" y2="685.2" stroke="#333" stroke-width="0.9"/>
<line x1="665.5" y1="652.08" x2="665.5" y2="650.46" stroke="#555" stroke-width="0.9"/>
<line x1="662.8" y1="650.46" x2="668.2" y2="650.46" stroke="#555" stroke-width="0.9"/>
<rect x="659.7" y="651.68" width="11.6" height="31.52" fill="#808080"/>
<line x1="665.5" y1="683.2" x2="665.5" y2="685.2" stroke="#333" stroke-width="0.9"/>
<path d="M632 652.2V649.4H648.5V652.2" fill="none" stroke="#383838" stroke-width="1"/>
<text x="640.25" y="650.66" font-size="9.2" text-anchor="middle" fill="#383838">*</text>
<path d="M632 642.7V639.9H665.2V642.7" fill="none" stroke="#383838" stroke-width="1"/>
<text x="648.6" y="641.16" font-size="9.2" text-anchor="middle" fill="#383838">*</text>
<text x="609.8" y="655.1" font-size="7" text-anchor="middle" fill="#222" transform="rotate(-90 609.8 655.1)">Apoptotic cells (%)</text>
<text x="633.55" y="689.1" font-size="7.1" text-anchor="end" fill="#222" letter-spacing="0.2" transform="rotate(-45 633.55 689.1)">siCtrl</text>
<text x="650.25" y="689.1" font-size="7.1" text-anchor="end" fill="#222" letter-spacing="0.2" transform="rotate(-45 650.25 689.1)">si-TEFM#1</text>
<text x="667.1" y="689.1" font-size="7.1" text-anchor="end" fill="#222" letter-spacing="0.2" transform="rotate(-45 667.1 689.1)">si-TEFM#2</text>
</g>
</svg></div></body></html>
